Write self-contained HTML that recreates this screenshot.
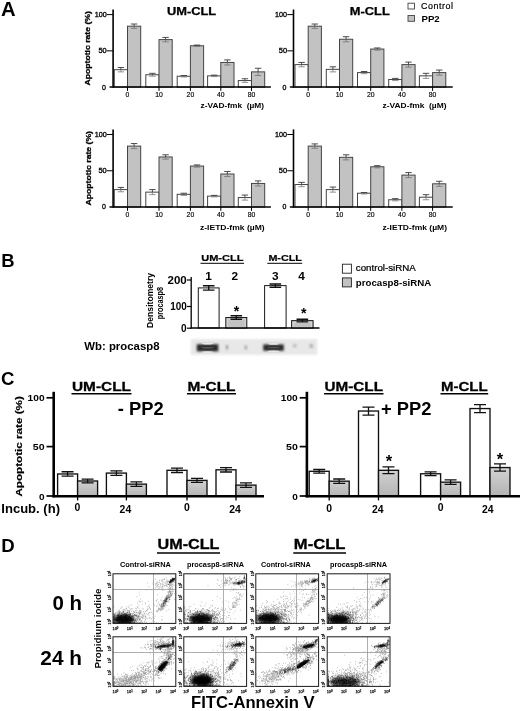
<!DOCTYPE html>
<html lang="en"><head><meta charset="utf-8"><title>Figure</title>
<style>html,body{margin:0;padding:0;background:#fff}svg{display:block;font-family:"Liberation Sans",sans-serif}text{fill:#000}</style>
</head><body>
<svg width="520" height="711" viewBox="0 0 520 711">
<defs><linearGradient id="gg" x1="0" y1="0" x2="0" y2="1"><stop offset="0" stop-color="#d2d2d2"/><stop offset="1" stop-color="#b4b4b4"/></linearGradient><filter id="f0" x="-5%" y="-5%" width="110%" height="110%"><feGaussianBlur stdDeviation=".35"/></filter><filter id="f05" x="-5%" y="-5%" width="110%" height="110%"><feGaussianBlur stdDeviation=".45"/></filter><filter id="f1" x="-50%" y="-50%" width="200%" height="200%"><feGaussianBlur stdDeviation=".5"/></filter><filter id="f2" x="-50%" y="-50%" width="200%" height="200%"><feGaussianBlur stdDeviation="1.6"/></filter><filter id="f3" x="-50%" y="-50%" width="200%" height="200%"><feGaussianBlur stdDeviation="3"/></filter><filter id="b1" x="-10%" y="-30%" width="120%" height="160%"><feGaussianBlur stdDeviation=".8"/></filter><filter id="b2" x="-20%" y="-60%" width="140%" height="220%"><feGaussianBlur stdDeviation=".9"/></filter><filter id="b3" x="-20%" y="-200%" width="140%" height="500%"><feGaussianBlur stdDeviation=".6"/></filter></defs>
<rect width="520" height="711" fill="#fff"/>
<text x="0.9" y="15.6" font-size="20.3" font-weight="700">A</text>
<rect x="114.3" y="69.7" width="13.2" height="17.4" fill="#fff" stroke="#444" stroke-width="1"/>
<rect x="127.5" y="26.2" width="13.2" height="60.9" fill="#c2c2c2" stroke="#444" stroke-width="1"/>
<path d="M120.9 69.7V71.87M117.7 71.87h6.4" stroke="#888" stroke-width="0.9" fill="none"/>
<path d="M120.9 67.52V69.7M117.7 67.52h6.4" stroke="#3a3a3a" stroke-width="0.9" fill="none"/>
<path d="M134.1 26.2V28.37M130.9 28.37h6.4" stroke="#7a7a7a" stroke-width="0.9" fill="none"/>
<path d="M134.1 24.02V26.2M130.9 24.02h6.4" stroke="#3a3a3a" stroke-width="0.9" fill="none"/>
<line x1="127.5" y1="87.1" x2="127.5" y2="90.9" stroke="#000" stroke-width="1"/>
<rect x="145.8" y="74.77" width="13.2" height="12.32" fill="#fff" stroke="#444" stroke-width="1"/>
<rect x="159" y="39.61" width="13.2" height="47.49" fill="#c2c2c2" stroke="#444" stroke-width="1"/>
<path d="M152.4 74.77V76.22M149.2 76.22h6.4" stroke="#888" stroke-width="0.9" fill="none"/>
<path d="M152.4 73.32V74.77M149.2 73.32h6.4" stroke="#3a3a3a" stroke-width="0.9" fill="none"/>
<path d="M165.6 39.61V41.79M162.4 41.79h6.4" stroke="#7a7a7a" stroke-width="0.9" fill="none"/>
<path d="M165.6 37.44V39.61M162.4 37.44h6.4" stroke="#3a3a3a" stroke-width="0.9" fill="none"/>
<line x1="159" y1="87.1" x2="159" y2="90.9" stroke="#000" stroke-width="1"/>
<rect x="177.2" y="76.22" width="13.2" height="10.88" fill="#fff" stroke="#444" stroke-width="1"/>
<rect x="190.4" y="45.77" width="13.2" height="41.32" fill="#c2c2c2" stroke="#444" stroke-width="1"/>
<path d="M183.8 76.22V76.95M180.6 76.95h6.4" stroke="#888" stroke-width="0.9" fill="none"/>
<path d="M183.8 75.5V76.22M180.6 75.5h6.4" stroke="#3a3a3a" stroke-width="0.9" fill="none"/>
<path d="M197 45.77V46.5M193.8 46.5h6.4" stroke="#7a7a7a" stroke-width="0.9" fill="none"/>
<path d="M197 45.05V45.77M193.8 45.05h6.4" stroke="#3a3a3a" stroke-width="0.9" fill="none"/>
<line x1="190.4" y1="87.1" x2="190.4" y2="90.9" stroke="#000" stroke-width="1"/>
<rect x="207.6" y="75.86" width="13.2" height="11.24" fill="#fff" stroke="#444" stroke-width="1"/>
<rect x="220.8" y="62.45" width="13.2" height="24.65" fill="#c2c2c2" stroke="#444" stroke-width="1"/>
<path d="M214.2 75.86V76.59M211 76.59h6.4" stroke="#888" stroke-width="0.9" fill="none"/>
<path d="M214.2 75.14V75.86M211 75.14h6.4" stroke="#3a3a3a" stroke-width="0.9" fill="none"/>
<path d="M227.4 62.45V64.99M224.2 64.99h6.4" stroke="#7a7a7a" stroke-width="0.9" fill="none"/>
<path d="M227.4 59.91V62.45M224.2 59.91h6.4" stroke="#3a3a3a" stroke-width="0.9" fill="none"/>
<line x1="220.8" y1="87.1" x2="220.8" y2="90.9" stroke="#000" stroke-width="1"/>
<rect x="238.3" y="80.57" width="13.2" height="6.52" fill="#fff" stroke="#444" stroke-width="1"/>
<rect x="251.5" y="71.88" width="13.2" height="15.22" fill="#c2c2c2" stroke="#444" stroke-width="1"/>
<path d="M244.9 80.57V82.39M241.7 82.39h6.4" stroke="#888" stroke-width="0.9" fill="none"/>
<path d="M244.9 78.76V80.57M241.7 78.76h6.4" stroke="#3a3a3a" stroke-width="0.9" fill="none"/>
<path d="M258.1 71.88V75.5M254.9 75.5h6.4" stroke="#7a7a7a" stroke-width="0.9" fill="none"/>
<path d="M258.1 68.25V71.88M254.9 68.25h6.4" stroke="#3a3a3a" stroke-width="0.9" fill="none"/>
<line x1="251.5" y1="87.1" x2="251.5" y2="90.9" stroke="#000" stroke-width="1"/>
<line x1="113.1" y1="9.5" x2="113.1" y2="87.85" stroke="#000" stroke-width="1.6"/>
<line x1="109.5" y1="87.1" x2="270.9" y2="87.1" stroke="#000" stroke-width="1.5"/>
<text x="105.9" y="89.5" font-size="6.7" text-anchor="end" textLength="3.9" lengthAdjust="spacingAndGlyphs" stroke="#000" stroke-width=".3">0</text>
<line x1="106.9" y1="50.85" x2="113.1" y2="50.85" stroke="#000" stroke-width="1"/>
<text x="106.7" y="53.25" font-size="6.7" text-anchor="end" textLength="8.3" lengthAdjust="spacingAndGlyphs" stroke="#000" stroke-width=".3">50</text>
<line x1="106.9" y1="14.6" x2="113.1" y2="14.6" stroke="#000" stroke-width="1"/>
<text x="106.7" y="17" font-size="6.7" text-anchor="end" textLength="12" lengthAdjust="spacingAndGlyphs" stroke="#000" stroke-width=".3">100</text>
<text x="127.5" y="96.9" font-size="6.8" text-anchor="middle" stroke="#000" stroke-width=".15">0</text>
<text x="159" y="96.9" font-size="6.8" text-anchor="middle" stroke="#000" stroke-width=".15">10</text>
<text x="190.4" y="96.9" font-size="6.8" text-anchor="middle" stroke="#000" stroke-width=".15">20</text>
<text x="220.8" y="96.9" font-size="6.8" text-anchor="middle" stroke="#000" stroke-width=".15">40</text>
<text x="251.5" y="96.9" font-size="6.8" text-anchor="middle" stroke="#000" stroke-width=".15">80</text>
<text font-size="7.9" font-weight="700" textLength="74.5" lengthAdjust="spacingAndGlyphs" transform="translate(90.1 85.6) rotate(-90)" stroke="#000" stroke-width=".3">Apoptotic rate (%)</text>
<text x="200.6" y="108.1" font-size="6.8" font-weight="700" textLength="63.4" lengthAdjust="spacingAndGlyphs" xml:space="preserve">z-VAD-fmk  (µM)</text>
<rect x="295" y="64.62" width="13.2" height="22.47" fill="#fff" stroke="#444" stroke-width="1"/>
<rect x="308.2" y="26.2" width="13.2" height="60.9" fill="#c2c2c2" stroke="#444" stroke-width="1"/>
<path d="M301.6 64.62V66.8M298.4 66.8h6.4" stroke="#888" stroke-width="0.9" fill="none"/>
<path d="M301.6 62.45V64.62M298.4 62.45h6.4" stroke="#3a3a3a" stroke-width="0.9" fill="none"/>
<path d="M314.8 26.2V28.37M311.6 28.37h6.4" stroke="#7a7a7a" stroke-width="0.9" fill="none"/>
<path d="M314.8 24.02V26.2M311.6 24.02h6.4" stroke="#3a3a3a" stroke-width="0.9" fill="none"/>
<line x1="308.2" y1="87.1" x2="308.2" y2="90.9" stroke="#000" stroke-width="1"/>
<rect x="326.3" y="69.34" width="13.2" height="17.76" fill="#fff" stroke="#444" stroke-width="1"/>
<rect x="339.5" y="39.25" width="13.2" height="47.85" fill="#c2c2c2" stroke="#444" stroke-width="1"/>
<path d="M332.9 69.34V71.87M329.7 71.87h6.4" stroke="#888" stroke-width="0.9" fill="none"/>
<path d="M332.9 66.8V69.34M329.7 66.8h6.4" stroke="#3a3a3a" stroke-width="0.9" fill="none"/>
<path d="M346.1 39.25V41.79M342.9 41.79h6.4" stroke="#7a7a7a" stroke-width="0.9" fill="none"/>
<path d="M346.1 36.71V39.25M342.9 36.71h6.4" stroke="#3a3a3a" stroke-width="0.9" fill="none"/>
<line x1="339.5" y1="87.1" x2="339.5" y2="90.9" stroke="#000" stroke-width="1"/>
<rect x="357.5" y="72.6" width="13.2" height="14.5" fill="#fff" stroke="#444" stroke-width="1"/>
<rect x="370.7" y="49.04" width="13.2" height="38.06" fill="#c2c2c2" stroke="#444" stroke-width="1"/>
<path d="M364.1 72.6V73.69M360.9 73.69h6.4" stroke="#888" stroke-width="0.9" fill="none"/>
<path d="M364.1 71.51V72.6M360.9 71.51h6.4" stroke="#3a3a3a" stroke-width="0.9" fill="none"/>
<path d="M377.3 49.04V50.12M374.1 50.12h6.4" stroke="#7a7a7a" stroke-width="0.9" fill="none"/>
<path d="M377.3 47.95V49.04M374.1 47.95h6.4" stroke="#3a3a3a" stroke-width="0.9" fill="none"/>
<line x1="370.7" y1="87.1" x2="370.7" y2="90.9" stroke="#000" stroke-width="1"/>
<rect x="388.7" y="79.49" width="13.2" height="7.61" fill="#fff" stroke="#444" stroke-width="1"/>
<rect x="401.9" y="64.62" width="13.2" height="22.47" fill="#c2c2c2" stroke="#444" stroke-width="1"/>
<path d="M395.3 79.49V80.58M392.1 80.58h6.4" stroke="#888" stroke-width="0.9" fill="none"/>
<path d="M395.3 78.4V79.49M392.1 78.4h6.4" stroke="#3a3a3a" stroke-width="0.9" fill="none"/>
<path d="M408.5 64.62V67.16M405.3 67.16h6.4" stroke="#7a7a7a" stroke-width="0.9" fill="none"/>
<path d="M408.5 62.09V64.62M405.3 62.09h6.4" stroke="#3a3a3a" stroke-width="0.9" fill="none"/>
<line x1="401.9" y1="87.1" x2="401.9" y2="90.9" stroke="#000" stroke-width="1"/>
<rect x="419.4" y="75.86" width="13.2" height="11.24" fill="#fff" stroke="#444" stroke-width="1"/>
<rect x="432.6" y="72.6" width="13.2" height="14.5" fill="#c2c2c2" stroke="#444" stroke-width="1"/>
<path d="M426 75.86V78.4M422.8 78.4h6.4" stroke="#888" stroke-width="0.9" fill="none"/>
<path d="M426 73.33V75.86M422.8 73.33h6.4" stroke="#3a3a3a" stroke-width="0.9" fill="none"/>
<path d="M439.2 72.6V75.14M436 75.14h6.4" stroke="#7a7a7a" stroke-width="0.9" fill="none"/>
<path d="M439.2 70.06V72.6M436 70.06h6.4" stroke="#3a3a3a" stroke-width="0.9" fill="none"/>
<line x1="432.6" y1="87.1" x2="432.6" y2="90.9" stroke="#000" stroke-width="1"/>
<line x1="293.5" y1="9.5" x2="293.5" y2="87.85" stroke="#000" stroke-width="1.6"/>
<line x1="289.9" y1="87.1" x2="452.7" y2="87.1" stroke="#000" stroke-width="1.5"/>
<text x="286.3" y="89.5" font-size="6.7" text-anchor="end" textLength="3.9" lengthAdjust="spacingAndGlyphs" stroke="#000" stroke-width=".3">0</text>
<line x1="287.3" y1="50.85" x2="293.5" y2="50.85" stroke="#000" stroke-width="1"/>
<text x="287.1" y="53.25" font-size="6.7" text-anchor="end" textLength="8.3" lengthAdjust="spacingAndGlyphs" stroke="#000" stroke-width=".3">50</text>
<line x1="287.3" y1="14.6" x2="293.5" y2="14.6" stroke="#000" stroke-width="1"/>
<text x="287.1" y="17" font-size="6.7" text-anchor="end" textLength="12" lengthAdjust="spacingAndGlyphs" stroke="#000" stroke-width=".3">100</text>
<text x="308.2" y="96.9" font-size="6.8" text-anchor="middle" stroke="#000" stroke-width=".15">0</text>
<text x="339.5" y="96.9" font-size="6.8" text-anchor="middle" stroke="#000" stroke-width=".15">10</text>
<text x="370.7" y="96.9" font-size="6.8" text-anchor="middle" stroke="#000" stroke-width=".15">20</text>
<text x="401.9" y="96.9" font-size="6.8" text-anchor="middle" stroke="#000" stroke-width=".15">40</text>
<text x="432.6" y="96.9" font-size="6.8" text-anchor="middle" stroke="#000" stroke-width=".15">80</text>
<text x="382.5" y="108.1" font-size="6.8" font-weight="700" textLength="64" lengthAdjust="spacingAndGlyphs" xml:space="preserve">z-VAD-fmk  (µM)</text>
<rect x="114.3" y="189.6" width="13.2" height="17.4" fill="#fff" stroke="#444" stroke-width="1"/>
<rect x="127.5" y="146.1" width="13.2" height="60.9" fill="#c2c2c2" stroke="#444" stroke-width="1"/>
<path d="M120.9 189.6V191.78M117.7 191.78h6.4" stroke="#888" stroke-width="0.9" fill="none"/>
<path d="M120.9 187.42V189.6M117.7 187.42h6.4" stroke="#3a3a3a" stroke-width="0.9" fill="none"/>
<path d="M134.1 146.1V148.64M130.9 148.64h6.4" stroke="#7a7a7a" stroke-width="0.9" fill="none"/>
<path d="M134.1 143.56V146.1M130.9 143.56h6.4" stroke="#3a3a3a" stroke-width="0.9" fill="none"/>
<line x1="127.5" y1="207" x2="127.5" y2="210.8" stroke="#000" stroke-width="1"/>
<rect x="145.8" y="192.14" width="13.2" height="14.86" fill="#fff" stroke="#444" stroke-width="1"/>
<rect x="159" y="156.97" width="13.2" height="50.02" fill="#c2c2c2" stroke="#444" stroke-width="1"/>
<path d="M152.4 192.14V194.67M149.2 194.67h6.4" stroke="#888" stroke-width="0.9" fill="none"/>
<path d="M152.4 189.6V192.14M149.2 189.6h6.4" stroke="#3a3a3a" stroke-width="0.9" fill="none"/>
<path d="M165.6 156.97V159.15M162.4 159.15h6.4" stroke="#7a7a7a" stroke-width="0.9" fill="none"/>
<path d="M165.6 154.8V156.97M162.4 154.8h6.4" stroke="#3a3a3a" stroke-width="0.9" fill="none"/>
<line x1="159" y1="207" x2="159" y2="210.8" stroke="#000" stroke-width="1"/>
<rect x="177.2" y="194.31" width="13.2" height="12.69" fill="#fff" stroke="#444" stroke-width="1"/>
<rect x="190.4" y="166.04" width="13.2" height="40.96" fill="#c2c2c2" stroke="#444" stroke-width="1"/>
<path d="M183.8 194.31V195.4M180.6 195.4h6.4" stroke="#888" stroke-width="0.9" fill="none"/>
<path d="M183.8 193.22V194.31M180.6 193.22h6.4" stroke="#3a3a3a" stroke-width="0.9" fill="none"/>
<path d="M197 166.04V167.12M193.8 167.12h6.4" stroke="#7a7a7a" stroke-width="0.9" fill="none"/>
<path d="M197 164.95V166.04M193.8 164.95h6.4" stroke="#3a3a3a" stroke-width="0.9" fill="none"/>
<line x1="190.4" y1="207" x2="190.4" y2="210.8" stroke="#000" stroke-width="1"/>
<rect x="207.6" y="196.12" width="13.2" height="10.88" fill="#fff" stroke="#444" stroke-width="1"/>
<rect x="220.8" y="174.01" width="13.2" height="32.99" fill="#c2c2c2" stroke="#444" stroke-width="1"/>
<path d="M214.2 196.12V196.85M211 196.85h6.4" stroke="#888" stroke-width="0.9" fill="none"/>
<path d="M214.2 195.4V196.12M211 195.4h6.4" stroke="#3a3a3a" stroke-width="0.9" fill="none"/>
<path d="M227.4 174.01V176.55M224.2 176.55h6.4" stroke="#7a7a7a" stroke-width="0.9" fill="none"/>
<path d="M227.4 171.47V174.01M224.2 171.47h6.4" stroke="#3a3a3a" stroke-width="0.9" fill="none"/>
<line x1="220.8" y1="207" x2="220.8" y2="210.8" stroke="#000" stroke-width="1"/>
<rect x="238.3" y="197.57" width="13.2" height="9.42" fill="#fff" stroke="#444" stroke-width="1"/>
<rect x="251.5" y="183.44" width="13.2" height="23.56" fill="#c2c2c2" stroke="#444" stroke-width="1"/>
<path d="M244.9 197.57V200.11M241.7 200.11h6.4" stroke="#888" stroke-width="0.9" fill="none"/>
<path d="M244.9 195.04V197.57M241.7 195.04h6.4" stroke="#3a3a3a" stroke-width="0.9" fill="none"/>
<path d="M258.1 183.44V185.97M254.9 185.97h6.4" stroke="#7a7a7a" stroke-width="0.9" fill="none"/>
<path d="M258.1 180.9V183.44M254.9 180.9h6.4" stroke="#3a3a3a" stroke-width="0.9" fill="none"/>
<line x1="251.5" y1="207" x2="251.5" y2="210.8" stroke="#000" stroke-width="1"/>
<line x1="113.1" y1="129.4" x2="113.1" y2="207.75" stroke="#000" stroke-width="1.6"/>
<line x1="109.5" y1="207" x2="270.9" y2="207" stroke="#000" stroke-width="1.5"/>
<text x="105.9" y="209.4" font-size="6.7" text-anchor="end" textLength="3.9" lengthAdjust="spacingAndGlyphs" stroke="#000" stroke-width=".3">0</text>
<line x1="106.9" y1="170.75" x2="113.1" y2="170.75" stroke="#000" stroke-width="1"/>
<text x="106.7" y="173.15" font-size="6.7" text-anchor="end" textLength="8.3" lengthAdjust="spacingAndGlyphs" stroke="#000" stroke-width=".3">50</text>
<line x1="106.9" y1="134.5" x2="113.1" y2="134.5" stroke="#000" stroke-width="1"/>
<text x="106.7" y="136.9" font-size="6.7" text-anchor="end" textLength="12" lengthAdjust="spacingAndGlyphs" stroke="#000" stroke-width=".3">100</text>
<text x="127.5" y="217.4" font-size="6.8" text-anchor="middle" stroke="#000" stroke-width=".15">0</text>
<text x="159" y="217.4" font-size="6.8" text-anchor="middle" stroke="#000" stroke-width=".15">10</text>
<text x="190.4" y="217.4" font-size="6.8" text-anchor="middle" stroke="#000" stroke-width=".15">20</text>
<text x="220.8" y="217.4" font-size="6.8" text-anchor="middle" stroke="#000" stroke-width=".15">40</text>
<text x="251.5" y="217.4" font-size="6.8" text-anchor="middle" stroke="#000" stroke-width=".15">80</text>
<text font-size="7.9" font-weight="700" textLength="74.5" lengthAdjust="spacingAndGlyphs" transform="translate(90.9 205.5) rotate(-90)" stroke="#000" stroke-width=".3">Apoptotic rate (%)</text>
<text x="200" y="230" font-size="6.8" font-weight="700" textLength="64.6" lengthAdjust="spacingAndGlyphs" xml:space="preserve">z-IETD-fmk (µM)</text>
<rect x="295" y="184.53" width="13.2" height="22.47" fill="#fff" stroke="#444" stroke-width="1"/>
<rect x="308.2" y="146.1" width="13.2" height="60.9" fill="#c2c2c2" stroke="#444" stroke-width="1"/>
<path d="M301.6 184.53V186.7M298.4 186.7h6.4" stroke="#888" stroke-width="0.9" fill="none"/>
<path d="M301.6 182.35V184.53M298.4 182.35h6.4" stroke="#3a3a3a" stroke-width="0.9" fill="none"/>
<path d="M314.8 146.1V148.28M311.6 148.28h6.4" stroke="#7a7a7a" stroke-width="0.9" fill="none"/>
<path d="M314.8 143.92V146.1M311.6 143.92h6.4" stroke="#3a3a3a" stroke-width="0.9" fill="none"/>
<line x1="308.2" y1="207" x2="308.2" y2="210.8" stroke="#000" stroke-width="1"/>
<rect x="326.3" y="189.6" width="13.2" height="17.4" fill="#fff" stroke="#444" stroke-width="1"/>
<rect x="339.5" y="157.34" width="13.2" height="49.66" fill="#c2c2c2" stroke="#444" stroke-width="1"/>
<path d="M332.9 189.6V192.14M329.7 192.14h6.4" stroke="#888" stroke-width="0.9" fill="none"/>
<path d="M332.9 187.06V189.6M329.7 187.06h6.4" stroke="#3a3a3a" stroke-width="0.9" fill="none"/>
<path d="M346.1 157.34V159.88M342.9 159.88h6.4" stroke="#7a7a7a" stroke-width="0.9" fill="none"/>
<path d="M346.1 154.8V157.34M342.9 154.8h6.4" stroke="#3a3a3a" stroke-width="0.9" fill="none"/>
<line x1="339.5" y1="207" x2="339.5" y2="210.8" stroke="#000" stroke-width="1"/>
<rect x="357.5" y="193.22" width="13.2" height="13.78" fill="#fff" stroke="#444" stroke-width="1"/>
<rect x="370.7" y="166.76" width="13.2" height="40.24" fill="#c2c2c2" stroke="#444" stroke-width="1"/>
<path d="M364.1 193.22V193.95M360.9 193.95h6.4" stroke="#888" stroke-width="0.9" fill="none"/>
<path d="M364.1 192.5V193.22M360.9 192.5h6.4" stroke="#3a3a3a" stroke-width="0.9" fill="none"/>
<path d="M377.3 166.76V167.85M374.1 167.85h6.4" stroke="#7a7a7a" stroke-width="0.9" fill="none"/>
<path d="M377.3 165.67V166.76M374.1 165.67h6.4" stroke="#3a3a3a" stroke-width="0.9" fill="none"/>
<line x1="370.7" y1="207" x2="370.7" y2="210.8" stroke="#000" stroke-width="1"/>
<rect x="388.7" y="199.75" width="13.2" height="7.25" fill="#fff" stroke="#444" stroke-width="1"/>
<rect x="401.9" y="175.1" width="13.2" height="31.9" fill="#c2c2c2" stroke="#444" stroke-width="1"/>
<path d="M395.3 199.75V200.84M392.1 200.84h6.4" stroke="#888" stroke-width="0.9" fill="none"/>
<path d="M395.3 198.66V199.75M392.1 198.66h6.4" stroke="#3a3a3a" stroke-width="0.9" fill="none"/>
<path d="M408.5 175.1V177.64M405.3 177.64h6.4" stroke="#7a7a7a" stroke-width="0.9" fill="none"/>
<path d="M408.5 172.56V175.1M405.3 172.56h6.4" stroke="#3a3a3a" stroke-width="0.9" fill="none"/>
<line x1="401.9" y1="207" x2="401.9" y2="210.8" stroke="#000" stroke-width="1"/>
<rect x="419.4" y="197.21" width="13.2" height="9.79" fill="#fff" stroke="#444" stroke-width="1"/>
<rect x="432.6" y="183.8" width="13.2" height="23.2" fill="#c2c2c2" stroke="#444" stroke-width="1"/>
<path d="M426 197.21V199.75M422.8 199.75h6.4" stroke="#888" stroke-width="0.9" fill="none"/>
<path d="M426 194.68V197.21M422.8 194.68h6.4" stroke="#3a3a3a" stroke-width="0.9" fill="none"/>
<path d="M439.2 183.8V186.34M436 186.34h6.4" stroke="#7a7a7a" stroke-width="0.9" fill="none"/>
<path d="M439.2 181.26V183.8M436 181.26h6.4" stroke="#3a3a3a" stroke-width="0.9" fill="none"/>
<line x1="432.6" y1="207" x2="432.6" y2="210.8" stroke="#000" stroke-width="1"/>
<line x1="293.5" y1="129.4" x2="293.5" y2="207.75" stroke="#000" stroke-width="1.6"/>
<line x1="289.9" y1="207" x2="452.7" y2="207" stroke="#000" stroke-width="1.5"/>
<text x="286.3" y="209.4" font-size="6.7" text-anchor="end" textLength="3.9" lengthAdjust="spacingAndGlyphs" stroke="#000" stroke-width=".3">0</text>
<line x1="287.3" y1="170.75" x2="293.5" y2="170.75" stroke="#000" stroke-width="1"/>
<text x="287.1" y="173.15" font-size="6.7" text-anchor="end" textLength="8.3" lengthAdjust="spacingAndGlyphs" stroke="#000" stroke-width=".3">50</text>
<line x1="287.3" y1="134.5" x2="293.5" y2="134.5" stroke="#000" stroke-width="1"/>
<text x="287.1" y="136.9" font-size="6.7" text-anchor="end" textLength="12" lengthAdjust="spacingAndGlyphs" stroke="#000" stroke-width=".3">100</text>
<text x="308.2" y="217.4" font-size="6.8" text-anchor="middle" stroke="#000" stroke-width=".15">0</text>
<text x="339.5" y="217.4" font-size="6.8" text-anchor="middle" stroke="#000" stroke-width=".15">10</text>
<text x="370.7" y="217.4" font-size="6.8" text-anchor="middle" stroke="#000" stroke-width=".15">20</text>
<text x="401.9" y="217.4" font-size="6.8" text-anchor="middle" stroke="#000" stroke-width=".15">40</text>
<text x="432.6" y="217.4" font-size="6.8" text-anchor="middle" stroke="#000" stroke-width=".15">80</text>
<text x="382.5" y="230" font-size="6.8" font-weight="700" textLength="64.5" lengthAdjust="spacingAndGlyphs" xml:space="preserve">z-IETD-fmk (µM)</text>
<text x="166.9" y="14.7" font-size="10.4" font-weight="700" textLength="49.3" lengthAdjust="spacingAndGlyphs" stroke="#000" stroke-width=".25">UM-CLL</text>
<text x="349.8" y="14.5" font-size="10.4" font-weight="700" textLength="40" lengthAdjust="spacingAndGlyphs" stroke="#000" stroke-width=".25">M-CLL</text>
<rect x="408" y="3.2" width="6.5" height="5.8" fill="#fff" stroke="#444" stroke-width="0.9"/>
<rect x="408" y="15.5" width="6.5" height="5.8" fill="#c2c2c2" stroke="#444" stroke-width="0.9"/>
<text x="421.1" y="8.7" font-size="8.9" textLength="32" lengthAdjust="spacing" stroke="#000" stroke-width=".2">Control</text>
<text x="421.5" y="21.7" font-size="9.3" font-weight="700" textLength="18.2" lengthAdjust="spacingAndGlyphs">PP2</text>
<text x="1.2" y="267.3" font-size="18.4" font-weight="700">B</text>
<rect x="198.3" y="287.9" width="20.8" height="40.1" fill="#fff" stroke="#1a1a1a" stroke-width="1"/>
<path d="M208.7 285.7V287.9M202.9 285.7h11.6M208.7 287.9V290.1M202.9 290.1h11.6" stroke="#111" stroke-width="1.4" fill="none"/>
<rect x="225.8" y="317.5" width="21" height="10.5" fill="#c2c2c2" stroke="#1a1a1a" stroke-width="1"/>
<rect x="227.4" y="319.3" width="17.8" height="8.1" fill="none" stroke="#d6d6d6" stroke-width="1"/>
<path d="M236.3 315.8V317.5M230.5 315.8h11.6M236.3 317.5V319.2M230.5 319.2h11.6" stroke="#111" stroke-width="1.4" fill="none"/>
<rect x="264.6" y="285.6" width="21.5" height="42.4" fill="#fff" stroke="#1a1a1a" stroke-width="1"/>
<path d="M275.35 284V285.6M269.55 284h11.6M275.35 285.6V287.2M269.55 287.2h11.6" stroke="#111" stroke-width="1.4" fill="none"/>
<rect x="291.6" y="320.6" width="21.5" height="7.4" fill="#c2c2c2" stroke="#1a1a1a" stroke-width="1"/>
<rect x="293.2" y="322.4" width="18.3" height="5" fill="none" stroke="#d6d6d6" stroke-width="1"/>
<path d="M302.35 319.3V320.6M296.55 319.3h11.6M302.35 320.6V321.9M296.55 321.9h11.6" stroke="#111" stroke-width="1.4" fill="none"/>
<line x1="191.2" y1="277.1" x2="191.2" y2="328.6" stroke="#000" stroke-width="1.3"/>
<line x1="190.6" y1="328" x2="319.5" y2="328" stroke="#000" stroke-width="1.3"/>
<line x1="186.9" y1="328.2" x2="191.2" y2="328.2" stroke="#000" stroke-width="1.2"/>
<text x="186.7" y="331.8" font-size="10.2" font-weight="700" text-anchor="end" textLength="5.6" lengthAdjust="spacingAndGlyphs">0</text>
<line x1="186.9" y1="306.5" x2="191.2" y2="306.5" stroke="#000" stroke-width="1.2"/>
<text x="186.7" y="310.1" font-size="10.2" font-weight="700" text-anchor="end" textLength="16.5" lengthAdjust="spacingAndGlyphs">100</text>
<line x1="186.9" y1="280" x2="191.2" y2="280" stroke="#000" stroke-width="1.2"/>
<text x="186.7" y="283.6" font-size="10.2" font-weight="700" text-anchor="end" textLength="19.2" lengthAdjust="spacingAndGlyphs">200</text>
<text x="201.2" y="261.2" font-size="9.3" font-weight="700" textLength="42.3" lengthAdjust="spacingAndGlyphs" stroke="#000" stroke-width=".2">UM-CLL</text>
<line x1="200.5" y1="263.3" x2="244" y2="263.3" stroke="#000" stroke-width="1"/>
<text x="268.4" y="261.2" font-size="9.3" font-weight="700" textLength="33.5" lengthAdjust="spacingAndGlyphs" stroke="#000" stroke-width=".2">M-CLL</text>
<line x1="267.3" y1="263.3" x2="302.2" y2="263.3" stroke="#000" stroke-width="1"/>
<text x="208.6" y="279.5" font-size="10.6" font-weight="700" text-anchor="middle" textLength="6.6" lengthAdjust="spacingAndGlyphs">1</text>
<text x="234.9" y="279.5" font-size="10.6" font-weight="700" text-anchor="middle" textLength="6.6" lengthAdjust="spacingAndGlyphs">2</text>
<text x="275.3" y="279.5" font-size="10.6" font-weight="700" text-anchor="middle" textLength="6.6" lengthAdjust="spacingAndGlyphs">3</text>
<text x="301.6" y="279.5" font-size="10.6" font-weight="700" text-anchor="middle" textLength="6.6" lengthAdjust="spacingAndGlyphs">4</text>
<text x="236.5" y="315.6" font-size="14.2" font-weight="700" text-anchor="middle">*</text>
<text x="303.8" y="318" font-size="14.2" font-weight="700" text-anchor="middle">*</text>
<text font-size="8.6" font-weight="700" textLength="55" lengthAdjust="spacingAndGlyphs" transform="translate(152.7 327.9) rotate(-90)">Densitometry</text>
<text font-size="8.6" font-weight="700" textLength="32.4" lengthAdjust="spacingAndGlyphs" transform="translate(163 319.3) rotate(-90)">procasp8</text>
<rect x="342.4" y="264.2" width="9" height="9" fill="#fff" stroke="#222" stroke-width="0.9"/>
<rect x="342.4" y="277.9" width="9" height="9" fill="#c2c2c2" stroke="#222" stroke-width="0.9"/>
<text x="355.8" y="270.8" font-size="8.8" textLength="60" lengthAdjust="spacingAndGlyphs" stroke="#000" stroke-width=".22">control-siRNA</text>
<text x="355.8" y="285.5" font-size="8.8" font-weight="700" textLength="75.5" lengthAdjust="spacingAndGlyphs">procasp8-siRNA</text>
<text x="84.3" y="350" font-size="10.4" font-weight="700" textLength="75.2" lengthAdjust="spacingAndGlyphs">Wb: procasp8</text>
<g filter="url(#b1)">
<rect x="190.8" y="339" width="126.5" height="15.8" fill="#e8e8e8" stroke="none" stroke-width="0"/>
</g>
<g filter="url(#b2)">
<rect x="196.8" y="344.2" width="21.5" height="7.2" fill="#2a2a2a" stroke="none" stroke-width="0"/>
<rect x="263.3" y="344.4" width="20.5" height="6.4" fill="#2a2a2a" stroke="none" stroke-width="0"/>
<rect x="226" y="345" width="2" height="4.5" fill="#999" stroke="none" stroke-width="0"/>
<rect x="244.8" y="345.5" width="2" height="4" fill="#9a9a9a" stroke="none" stroke-width="0"/>
<rect x="293" y="344" width="3.5" height="3.5" fill="#bdbdbd" stroke="none" stroke-width="0"/>
<rect x="309.5" y="344" width="3.5" height="4" fill="#b4b4b4" stroke="none" stroke-width="0"/>
</g>
<g filter="url(#b3)">
<ellipse cx="207.5" cy="347.8" rx="7" ry="0.8" fill="#5c5c5c"/>
<ellipse cx="273.5" cy="347.6" rx="6.5" ry="0.7" fill="#555"/>
<ellipse cx="207.5" cy="343.6" rx="6" ry="0.9" fill="#e8e8e8"/>
<ellipse cx="207.5" cy="352.2" rx="6" ry="0.9" fill="#e8e8e8"/>
<ellipse cx="273.5" cy="343.8" rx="6" ry="0.9" fill="#e8e8e8"/>
<ellipse cx="273.5" cy="351.4" rx="6" ry="0.9" fill="#e8e8e8"/>
</g>
<text x="1" y="384.7" font-size="18.6" font-weight="700">C</text>
<rect x="57.6" y="473.97" width="20" height="22.03" fill="#fff" stroke="#111" stroke-width="1.35"/>
<rect x="77.6" y="480.98" width="20" height="15.02" fill="url(#gg)" stroke="#111" stroke-width="1.35"/>
<path d="M67.6 471.77V473.97M61.6 471.77h12M67.6 473.97V476.17M61.6 476.17h12" stroke="#111" stroke-width="1.3" fill="none"/>
<path d="M87.6 479.18V480.98M81.6 479.18h12M87.6 480.98V482.78M81.6 482.78h12" stroke="#111" stroke-width="1.3" fill="none"/>
<line x1="77.6" y1="496" x2="77.6" y2="500.4" stroke="#000" stroke-width="1.3"/>
<rect x="106.4" y="473.08" width="20" height="22.92" fill="#fff" stroke="#111" stroke-width="1.35"/>
<rect x="126.4" y="484.14" width="20" height="11.86" fill="url(#gg)" stroke="#111" stroke-width="1.35"/>
<path d="M116.4 470.88V473.08M110.4 470.88h12M116.4 473.08V475.28M110.4 475.28h12" stroke="#111" stroke-width="1.3" fill="none"/>
<path d="M136.4 481.94V484.14M130.4 481.94h12M136.4 484.14V486.34M130.4 486.34h12" stroke="#111" stroke-width="1.3" fill="none"/>
<line x1="126.4" y1="496" x2="126.4" y2="500.4" stroke="#000" stroke-width="1.3"/>
<rect x="167" y="470.31" width="20" height="25.69" fill="#fff" stroke="#111" stroke-width="1.35"/>
<rect x="187" y="480.39" width="20" height="15.61" fill="url(#gg)" stroke="#111" stroke-width="1.35"/>
<path d="M177 468.11V470.31M171 468.11h12M177 470.31V472.51M171 472.51h12" stroke="#111" stroke-width="1.3" fill="none"/>
<path d="M197 478.39V480.39M191 478.39h12M197 480.39V482.39M191 482.39h12" stroke="#111" stroke-width="1.3" fill="none"/>
<line x1="187" y1="496" x2="187" y2="500.4" stroke="#000" stroke-width="1.3"/>
<rect x="216" y="469.82" width="20" height="26.18" fill="#fff" stroke="#111" stroke-width="1.35"/>
<rect x="236" y="485.13" width="20" height="10.87" fill="url(#gg)" stroke="#111" stroke-width="1.35"/>
<path d="M226 467.62V469.82M220 467.62h12M226 469.82V472.02M220 472.02h12" stroke="#111" stroke-width="1.3" fill="none"/>
<path d="M246 482.93V485.13M240 482.93h12M246 485.13V487.33M240 487.33h12" stroke="#111" stroke-width="1.3" fill="none"/>
<line x1="236" y1="496" x2="236" y2="500.4" stroke="#000" stroke-width="1.3"/>
<line x1="53.7" y1="391.8" x2="53.7" y2="497.3" stroke="#000" stroke-width="2.6"/>
<line x1="52.4" y1="496.2" x2="264" y2="496.2" stroke="#000" stroke-width="2.5"/>
<line x1="46.5" y1="496" x2="53.7" y2="496" stroke="#000" stroke-width="1.7"/>
<text x="44.6" y="499.5" font-size="9.8" font-weight="700" text-anchor="end" textLength="5.6" lengthAdjust="spacingAndGlyphs">0</text>
<line x1="46.5" y1="446.6" x2="53.7" y2="446.6" stroke="#000" stroke-width="1.7"/>
<text x="44.6" y="450.1" font-size="9.8" font-weight="700" text-anchor="end" textLength="11.8" lengthAdjust="spacingAndGlyphs">50</text>
<line x1="46.5" y1="397.8" x2="53.7" y2="397.8" stroke="#000" stroke-width="1.7"/>
<text x="44.6" y="401.3" font-size="9.8" font-weight="700" text-anchor="end" textLength="17" lengthAdjust="spacingAndGlyphs">100</text>
<rect x="309.2" y="471.3" width="20" height="24.7" fill="#fff" stroke="#111" stroke-width="1.35"/>
<rect x="329.2" y="481.18" width="20" height="14.82" fill="url(#gg)" stroke="#111" stroke-width="1.35"/>
<path d="M319.2 469.5V471.3M313.2 469.5h12M319.2 471.3V473.1M313.2 473.1h12" stroke="#111" stroke-width="1.3" fill="none"/>
<path d="M339.2 478.98V481.18M333.2 478.98h12M339.2 481.18V483.38M333.2 483.38h12" stroke="#111" stroke-width="1.3" fill="none"/>
<line x1="329.2" y1="496" x2="329.2" y2="500.4" stroke="#000" stroke-width="1.3"/>
<rect x="358.5" y="411.03" width="20" height="84.97" fill="#fff" stroke="#111" stroke-width="1.35"/>
<rect x="378.5" y="470.31" width="20" height="25.69" fill="url(#gg)" stroke="#111" stroke-width="1.35"/>
<path d="M368.5 407.03V411.03M362.5 407.03h12M368.5 411.03V415.03M362.5 415.03h12" stroke="#111" stroke-width="1.3" fill="none"/>
<path d="M388.5 466.91V470.31M382.5 466.91h12M388.5 470.31V473.71M382.5 473.71h12" stroke="#111" stroke-width="1.3" fill="none"/>
<line x1="378.5" y1="496" x2="378.5" y2="500.4" stroke="#000" stroke-width="1.3"/>
<rect x="420.6" y="473.77" width="20" height="22.23" fill="#fff" stroke="#111" stroke-width="1.35"/>
<rect x="440.6" y="482.17" width="20" height="13.83" fill="url(#gg)" stroke="#111" stroke-width="1.35"/>
<path d="M430.6 471.97V473.77M424.6 471.97h12M430.6 473.77V475.57M424.6 475.57h12" stroke="#111" stroke-width="1.3" fill="none"/>
<path d="M450.6 479.97V482.17M444.6 479.97h12M450.6 482.17V484.37M444.6 484.37h12" stroke="#111" stroke-width="1.3" fill="none"/>
<line x1="440.6" y1="496" x2="440.6" y2="500.4" stroke="#000" stroke-width="1.3"/>
<rect x="470" y="408.56" width="20" height="87.44" fill="#fff" stroke="#111" stroke-width="1.35"/>
<rect x="490" y="467.55" width="20" height="28.45" fill="url(#gg)" stroke="#111" stroke-width="1.35"/>
<path d="M480 404.56V408.56M474 404.56h12M480 408.56V412.56M474 412.56h12" stroke="#111" stroke-width="1.3" fill="none"/>
<path d="M500 463.95V467.55M494 463.95h12M500 467.55V471.15M494 471.15h12" stroke="#111" stroke-width="1.3" fill="none"/>
<line x1="490" y1="496" x2="490" y2="500.4" stroke="#000" stroke-width="1.3"/>
<line x1="306.9" y1="391.8" x2="306.9" y2="497.3" stroke="#000" stroke-width="2.6"/>
<line x1="305.6" y1="496.2" x2="520" y2="496.2" stroke="#000" stroke-width="2.5"/>
<line x1="299.7" y1="496" x2="306.9" y2="496" stroke="#000" stroke-width="1.7"/>
<text x="297.8" y="499.5" font-size="9.8" font-weight="700" text-anchor="end" textLength="5.6" lengthAdjust="spacingAndGlyphs">0</text>
<line x1="299.7" y1="446.6" x2="306.9" y2="446.6" stroke="#000" stroke-width="1.7"/>
<text x="297.8" y="450.1" font-size="9.8" font-weight="700" text-anchor="end" textLength="11.8" lengthAdjust="spacingAndGlyphs">50</text>
<line x1="299.7" y1="397.8" x2="306.9" y2="397.8" stroke="#000" stroke-width="1.7"/>
<text x="297.8" y="401.3" font-size="9.8" font-weight="700" text-anchor="end" textLength="17" lengthAdjust="spacingAndGlyphs">100</text>
<text font-size="9.8" font-weight="700" textLength="100.4" lengthAdjust="spacingAndGlyphs" transform="translate(22 496.6) rotate(-90)" stroke="#000" stroke-width=".2">Apoptotic rate (%)</text>
<text x="1.3" y="513" font-size="13" font-weight="700" textLength="58.7" lengthAdjust="spacingAndGlyphs">Incub. (h)</text>
<text x="77.3" y="511.3" font-size="10.4" font-weight="700" text-anchor="middle">0</text>
<text x="125.4" y="513" font-size="10.4" font-weight="700" text-anchor="middle">24</text>
<text x="187" y="510.6" font-size="10.4" font-weight="700" text-anchor="middle">0</text>
<text x="235" y="512.6" font-size="10.4" font-weight="700" text-anchor="middle">24</text>
<text x="329.2" y="512" font-size="10.4" font-weight="700" text-anchor="middle">0</text>
<text x="377.8" y="513" font-size="10.4" font-weight="700" text-anchor="middle">24</text>
<text x="440.6" y="510.6" font-size="10.4" font-weight="700" text-anchor="middle">0</text>
<text x="487.7" y="512.6" font-size="10.4" font-weight="700" text-anchor="middle">24</text>
<text x="72" y="391.2" font-size="13" font-weight="700" textLength="59" lengthAdjust="spacingAndGlyphs" stroke="#000" stroke-width=".3">UM-CLL</text>
<line x1="71.5" y1="393.8" x2="131.5" y2="393.8" stroke="#000" stroke-width="1.5"/>
<text x="187.5" y="391.2" font-size="13" font-weight="700" textLength="48" lengthAdjust="spacingAndGlyphs" stroke="#000" stroke-width=".3">M-CLL</text>
<line x1="187" y1="393.8" x2="236" y2="393.8" stroke="#000" stroke-width="1.5"/>
<text x="324.6" y="391.2" font-size="13" font-weight="700" textLength="58.4" lengthAdjust="spacingAndGlyphs" stroke="#000" stroke-width=".3">UM-CLL</text>
<line x1="324.1" y1="393.8" x2="383.5" y2="393.8" stroke="#000" stroke-width="1.5"/>
<text x="441" y="391.2" font-size="13" font-weight="700" textLength="46.7" lengthAdjust="spacingAndGlyphs" stroke="#000" stroke-width=".3">M-CLL</text>
<line x1="440.5" y1="393.8" x2="488.2" y2="393.8" stroke="#000" stroke-width="1.5"/>
<text x="117.7" y="414.8" font-size="18" font-weight="700" textLength="46" lengthAdjust="spacingAndGlyphs">- PP2</text>
<text x="381" y="414.8" font-size="18" font-weight="700" textLength="50.4" lengthAdjust="spacingAndGlyphs">+ PP2</text>
<text x="389" y="466.6" font-size="16.5" font-weight="700" text-anchor="middle">*</text>
<text x="500" y="465.1" font-size="16.5" font-weight="700" text-anchor="middle">*</text>
<text x="1.2" y="551.8" font-size="18.6" font-weight="700">D</text>
<text x="157.5" y="549.2" font-size="14.6" font-weight="700" textLength="62" lengthAdjust="spacingAndGlyphs" stroke="#000" stroke-width=".3">UM-CLL</text>
<line x1="157" y1="553" x2="220" y2="553" stroke="#000" stroke-width="1.4"/>
<text x="293.8" y="549.2" font-size="14.6" font-weight="700" textLength="51.7" lengthAdjust="spacingAndGlyphs" stroke="#000" stroke-width=".3">M-CLL</text>
<line x1="293.3" y1="553" x2="346" y2="553" stroke="#000" stroke-width="1.4"/>
<text x="120" y="567.2" font-size="7" font-weight="700" textLength="50.8" lengthAdjust="spacingAndGlyphs">Control-siRNA</text>
<text x="187" y="567.2" font-size="7" font-weight="700" textLength="57" lengthAdjust="spacingAndGlyphs">procasp8-siRNA</text>
<text x="261" y="567.2" font-size="7" font-weight="700" textLength="49.8" lengthAdjust="spacingAndGlyphs">Control-siRNA</text>
<text x="330" y="567.2" font-size="7" font-weight="700" textLength="57" lengthAdjust="spacingAndGlyphs">procasp8-siRNA</text>
<text x="52.4" y="610" font-size="19.5" font-weight="700" textLength="29.6" lengthAdjust="spacingAndGlyphs">0 h</text>
<text x="40.3" y="665" font-size="19.5" font-weight="700" textLength="41.7" lengthAdjust="spacingAndGlyphs">24 h</text>
<text font-size="8.8" font-weight="700" textLength="80" lengthAdjust="spacingAndGlyphs" transform="translate(101.3 668.5) rotate(-90)">Propidium iodide</text>
<text x="191" y="707.7" font-size="16.6" font-weight="700" textLength="123.6" lengthAdjust="spacingAndGlyphs">FITC-Annexin V</text>
<clipPath id="c0"><rect x="113" y="573.8" width="62.8" height="49.6"/></clipPath>
<g clip-path="url(#c0)"><g filter="url(#f0)">
<ellipse cx="123.68" cy="619.18" rx="10" ry="4.4" fill="#000" opacity="0.95" transform="rotate(0 123.68 619.18)" filter="url(#f2)"/>
<path d="M125.3 615.5h.7M115.9 618.1h.7M117.4 620.1h.7M113.6 621.8h.7M141.6 616.9h.7M118.1 610.4h.7M124.5 611.0h.7M126.8 622.8h.7M151.9 617.1h.7M139.6 611.0h.7M117.7 617.8h.7M125.5 614.8h.7M132.2 622.5h.7M132.2 613.5h.7M128.5 614.7h.7M126.2 617.6h.7M135.6 616.0h.7M145.2 611.6h.7M140.7 613.0h.7M134.0 621.9h.7M142.6 608.3h.7M134.4 617.8h.7M131.1 611.6h.7M135.4 621.0h.7M130.4 620.4h.7M130.1 621.0h.7M122.0 611.2h.7M143.8 622.8h.7M121.6 619.8h.7M128.3 622.8h.7M142.1 622.8h.7M139.1 613.2h.7M128.2 620.1h.7M132.5 616.2h.7M113.6 622.8h.7M137.6 616.9h.7M127.9 621.7h.7M124.7 620.9h.7M162.3 619.8h.7M148.2 613.4h.7M134.1 615.9h.7M127.2 610.2h.7M137.4 616.6h.7M130.5 616.1h.7M119.8 619.4h.7M125.0 614.8h.7M139.1 622.8h.7M129.2 612.8h.7M118.5 622.8h.7M142.7 616.5h.7M127.6 622.7h.7M134.0 619.2h.7M134.0 614.8h.7M139.6 617.7h.7M126.3 617.3h.7M130.8 616.2h.7M126.3 618.4h.7M125.9 620.0h.7M133.2 611.7h.7M126.0 614.9h.7M135.6 616.1h.7M139.4 618.7h.7M137.9 615.1h.7M113.6 618.6h.7M137.6 607.8h.7M120.5 617.5h.7M136.1 620.8h.7M144.6 613.8h.7M123.8 622.8h.7M126.5 606.9h.7M156.0 622.8h.7M113.6 615.7h.7M131.0 619.8h.7M138.4 615.9h.7M134.9 615.5h.7M119.7 612.2h.7M126.6 612.4h.7M139.3 616.1h.7M133.4 617.0h.7M113.6 620.1h.7M137.1 622.8h.7M115.5 613.6h.7M141.2 622.8h.7M136.9 616.7h.7M142.5 617.4h.7M129.8 620.4h.7M133.9 617.3h.7M125.0 619.1h.7M123.6 614.9h.7M121.4 622.8h.7M121.1 613.1h.7M126.2 614.5h.7M140.0 618.5h.7M139.9 614.0h.7M131.7 620.1h.7M131.7 622.6h.7M129.2 619.7h.7M136.5 615.0h.7M124.6 613.7h.7M144.7 615.5h.7M123.7 615.4h.7M113.6 621.8h.7M137.4 607.5h.7M123.3 610.9h.7M156.3 606.4h.7M113.6 614.3h.7M133.6 612.3h.7M130.2 619.8h.7M128.8 610.5h.7M141.1 617.4h.7M135.7 612.7h.7M138.0 616.6h.7M125.0 620.8h.7M127.4 619.8h.7M115.3 622.8h.7M141.8 621.1h.7M117.7 618.4h.7M147.1 610.0h.7M127.8 621.9h.7M126.4 621.5h.7M125.7 615.3h.7M120.6 621.4h.7M129.1 617.3h.7M123.8 621.2h.7M119.9 621.4h.7M137.7 617.5h.7M113.6 617.2h.7M131.5 620.9h.7M130.3 622.8h.7M113.6 613.3h.7M154.3 605.2h.7M123.8 617.5h.7M140.8 621.7h.7M151.2 618.5h.7M136.2 621.7h.7M135.9 616.7h.7M144.1 621.1h.7M131.0 608.8h.7M118.7 616.5h.7M136.8 618.7h.7M128.4 610.9h.7M144.1 613.3h.7M135.2 621.8h.7M132.1 608.8h.7M143.9 622.0h.7M113.6 621.9h.7M133.9 619.3h.7M128.4 615.7h.7M141.6 615.1h.7M146.1 622.1h.7M136.8 614.6h.7M115.0 612.8h.7M114.9 622.8h.7M160.6 608.6h.7M135.5 610.5h.7M144.9 620.9h.7M136.6 610.2h.7M130.1 616.8h.7M126.5 614.1h.7M126.0 620.1h.7M118.7 622.3h.7M134.1 614.6h.7M128.0 622.0h.7M135.4 615.0h.7M146.1 618.0h.7M127.1 615.0h.7M148.7 615.7h.7M131.3 621.3h.7M127.3 613.0h.7M140.8 611.1h.7M113.6 614.8h.7M121.4 615.2h.7M113.6 619.7h.7M121.6 612.1h.7M132.7 611.0h.7M126.2 608.5h.7M126.2 608.8h.7M126.9 621.8h.7M141.9 617.9h.7M131.7 622.8h.7M128.0 616.8h.7M123.9 615.9h.7M113.6 615.1h.7M126.8 610.7h.7M128.2 620.3h.7M126.8 616.1h.7M138.6 618.5h.7M122.9 615.8h.7M141.7 622.8h.7M120.5 621.0h.7M150.3 609.7h.7M140.5 613.9h.7M119.0 612.9h.7M127.3 621.0h.7M153.9 621.6h.7M147.1 614.7h.7M121.6 617.0h.7M122.4 616.9h.7M125.2 622.8h.7M161.5 616.6h.7M142.8 616.2h.7M139.9 622.0h.7M121.6 622.8h.7M142.8 613.9h.7M118.5 614.3h.7M137.3 603.1h.7M134.1 612.6h.7M138.4 612.8h.7M131.8 618.8h.7M139.3 610.6h.7M119.4 622.8h.7M130.7 608.8h.7M130.2 622.8h.7M140.5 612.7h.7M153.4 614.2h.7M154.0 618.3h.7M141.9 615.4h.7M118.8 619.3h.7M146.2 610.6h.7M127.2 612.3h.7M141.5 612.0h.7M134.9 615.3h.7M122.7 618.0h.7M133.5 620.2h.7M128.6 616.5h.7M133.8 611.9h.7M120.6 619.7h.7M135.0 618.4h.7M135.8 618.7h.7M145.1 616.8h.7M119.0 614.6h.7M151.1 622.8h.7M130.4 616.7h.7M142.8 609.1h.7M130.8 622.8h.7M138.9 611.7h.7M137.0 616.1h.7M121.9 606.7h.7M119.2 622.8h.7M142.6 614.7h.7M139.2 614.6h.7M150.0 608.8h.7M125.4 612.9h.7M119.5 622.8h.7M145.4 617.7h.7M113.6 619.1h.7M124.4 615.3h.7M131.6 620.5h.7M123.7 614.1h.7M121.6 617.2h.7M120.8 615.8h.7M151.4 612.6h.7M144.1 613.8h.7M121.4 619.2h.7M132.5 614.9h.7M125.0 614.7h.7M123.9 617.3h.7M132.3 622.1h.7M143.0 615.7h.7M133.1 617.0h.7M113.6 622.8h.7M121.6 613.3h.7M125.3 614.7h.7M120.9 621.7h.7M126.3 612.6h.7M113.7 619.3h.7M136.4 615.9h.7M131.4 613.4h.7M135.5 621.2h.7M139.2 619.8h.7M127.6 610.7h.7M158.4 608.0h.7M136.9 620.0h.7M122.9 610.1h.7M136.1 622.8h.7M149.0 612.8h.7M146.3 613.8h.7M113.6 622.3h.7M130.4 617.8h.7M148.9 618.5h.7M130.8 617.3h.7M131.3 621.7h.7M119.4 622.8h.7M135.7 617.5h.7M134.6 621.5h.7M132.3 621.3h.7M120.6 616.4h.7M138.7 613.7h.7M131.6 618.7h.7M146.8 609.9h.7M125.3 622.4h.7M135.9 615.1h.7M120.9 607.5h.7M113.6 622.7h.7M134.2 612.2h.7M113.6 620.7h.7M147.2 609.2h.7M129.1 617.0h.7M122.0 616.0h.7M121.1 622.8h.7M115.1 618.1h.7M116.9 613.2h.7M145.7 611.2h.7M138.7 611.2h.7M134.5 612.7h.7M136.8 612.9h.7M121.0 620.9h.7M120.6 614.1h.7M137.8 620.0h.7M121.2 620.5h.7M141.6 616.6h.7M129.5 620.3h.7M130.0 609.8h.7M124.4 619.2h.7M150.4 612.0h.7M118.9 613.1h.7M117.8 615.6h.7M113.6 622.8h.7M142.3 618.7h.7M123.9 617.4h.7M132.1 619.0h.7M123.7 609.4h.7M148.3 614.0h.7M119.4 620.4h.7M128.5 615.0h.7M149.8 617.7h.7M133.7 618.7h.7M133.7 619.9h.7M135.6 611.3h.7M127.7 618.8h.7M133.7 622.7h.7M152.4 621.2h.7M128.3 621.2h.7M148.7 617.7h.7M125.6 608.9h.7M130.9 620.5h.7M131.8 616.0h.7M123.8 618.5h.7M129.3 613.8h.7M140.1 612.4h.7M130.3 613.4h.7M129.1 611.9h.7M136.5 618.4h.7M146.1 622.6h.7M121.5 621.4h.7M131.0 622.6h.7M119.4 622.8h.7M133.5 620.3h.7M155.8 611.3h.7M118.8 612.1h.7M141.8 601.2h.7M128.8 608.1h.7M157.4 604.3h.7M136.9 615.9h.7M138.7 592.1h.7M158.1 588.4h.7M143.3 611.7h.7M149.3 607.9h.7M140.3 612.5h.7M153.5 603.7h.7M147.9 608.6h.7M143.6 611.6h.7M156.8 599.4h.7M160.7 600.4h.7M160.4 610.4h.7M140.5 611.2h.7M138.2 613.0h.7M135.4 615.0h.7M137.5 612.5h.7M144.9 616.3h.7M140.1 610.7h.7M130.8 615.5h.7M158.3 602.3h.7M148.0 601.3h.7M131.4 605.2h.7M174.3 599.5h.7M169.4 599.8h.7M166.1 610.7h.7M155.8 600.7h.7M134.0 621.2h.7M136.7 620.2h.7M149.0 607.2h.7M149.0 605.1h.7M168.6 609.4h.7M146.9 606.8h.7M156.7 612.2h.7M131.4 617.4h.7M151.6 619.0h.7M148.3 606.3h.7M161.3 619.9h.7M152.8 610.8h.7M136.7 606.5h.7M161.6 597.3h.7M138.7 601.1h.7M135.6 614.8h.7M142.6 617.5h.7M139.3 594.8h.7M145.3 603.9h.7M140.1 601.7h.7M149.4 612.7h.7M140.4 599.1h.7M139.3 601.6h.7M136.6 596.5h.7M145.1 602.7h.7M138.5 605.1h.7M147.3 618.8h.7M151.9 614.0h.7M157.1 594.7h.7M142.2 604.1h.7M135.3 608.3h.7M138.9 608.8h.7M154.8 616.2h.7M129.5 605.0h.7M136.2 608.7h.7M133.3 622.3h.7M124.4 617.8h.7M156.2 600.9h.7M162.2 586.8h.7M160.6 583.9h.7M148.7 586.6h.7M164.9 583.8h.7M167.2 581.8h.7M161.8 586.7h.7M167.0 580.8h.7M155.1 587.8h.7M155.8 583.6h.7M160.7 587.7h.7M171.7 580.3h.7M164.4 582.8h.7M162.2 583.9h.7M168.1 581.3h.7M160.5 584.2h.7M174.5 582.2h.7M155.5 585.5h.7M154.9 579.2h.7M166.5 581.3h.7M164.1 578.4h.7M157.3 585.5h.7M152.7 583.3h.7M161.6 579.6h.7M162.3 586.7h.7M158.6 582.9h.7M158.2 584.4h.7M159.5 586.6h.7M158.9 580.7h.7M156.7 584.6h.7M168.4 584.3h.7M153.5 582.5h.7M173.5 581.7h.7M155.6 583.5h.7M163.5 585.8h.7M162.5 590.2h.7M159.2 588.0h.7M155.1 584.4h.7M163.6 579.2h.7M148.0 589.6h.7M157.4 581.9h.7M169.1 581.9h.7M164.2 585.5h.7M160.4 585.7h.7M147.2 583.1h.7M166.1 577.6h.7M170.1 580.6h.7M169.1 586.6h.7M156.7 583.3h.7M162.0 588.3h.7M163.9 586.9h.7M162.1 580.0h.7M156.8 586.7h.7M166.4 583.0h.7M164.8 585.6h.7M162.7 590.1h.7M161.3 580.9h.7M156.7 586.0h.7M166.5 579.7h.7M170.5 584.1h.7M159.5 580.2h.7M160.2 583.8h.7M158.6 586.7h.7M146.1 589.8h.7M150.9 589.7h.7M156.5 582.0h.7M167.4 581.6h.7M161.0 588.0h.7M166.5 585.1h.7M161.8 581.7h.7M162.0 584.2h.7M156.6 582.8h.7M165.8 581.2h.7M173.7 585.2h.7M162.8 582.2h.7M164.9 582.5h.7M166.9 586.8h.7M161.9 581.1h.7M162.9 584.4h.7M169.2 586.8h.7M164.4 579.5h.7M162.2 586.2h.7M166.5 584.1h.7M158.2 584.7h.7M152.9 584.8h.7M156.4 587.1h.7M167.4 582.8h.7M163.7 580.0h.7M170.7 576.3h.7M159.3 582.4h.7M152.9 584.5h.7M170.7 594.9h.7M166.2 597.4h.7M165.9 601.5h.7M172.1 594.4h.7M165.1 598.7h.7M164.6 597.9h.7M169.9 593.1h.7M170.5 591.5h.7M162.1 606.1h.7M166.3 598.8h.7M157.6 606.1h.7M162.0 608.3h.7M166.9 598.0h.7M170.4 593.0h.7M166.1 597.9h.7M164.9 604.6h.7M163.0 601.5h.7M163.3 600.5h.7M163.1 602.1h.7M164.8 599.4h.7M165.5 600.0h.7M162.8 601.3h.7M165.0 600.0h.7M168.8 598.0h.7M163.1 604.0h.7M171.0 595.2h.7M163.6 605.7h.7M165.7 602.9h.7M162.5 603.5h.7M162.2 605.2h.7M162.2 605.7h.7M169.7 599.5h.7M165.6 599.8h.7M165.2 600.3h.7M168.5 599.4h.7M164.6 600.2h.7M171.4 595.4h.7M165.4 604.0h.7M166.9 601.1h.7M161.7 604.0h.7M175.3 591.6h.7M172.0 593.4h.7M167.5 596.8h.7M169.9 594.7h.7M163.1 604.0h.7M169.3 597.3h.7M167.0 598.3h.7M166.3 599.4h.7M166.7 596.8h.7M165.2 601.8h.7M159.9 610.7h.7M160.1 606.6h.7M163.1 605.7h.7M166.3 597.0h.7M170.6 595.3h.7M165.2 598.2h.7M163.3 604.2h.7M162.6 606.2h.7M167.9 596.9h.7M165.2 602.3h.7M169.7 592.6h.7M159.3 604.0h.7M164.6 602.2h.7M164.8 602.9h.7M169.4 598.4h.7M166.2 600.3h.7M170.8 591.9h.7M166.5 597.8h.7M167.5 597.4h.7M157.4 610.9h.7M163.9 601.0h.7M167.3 599.2h.7M164.1 605.0h.7M166.8 598.9h.7M163.3 604.5h.7M167.6 599.1h.7M166.0 601.2h.7M157.4 611.9h.7M165.0 599.2h.7M170.7 594.8h.7M167.3 597.2h.7M165.0 599.1h.7M170.0 597.2h.7M170.6 593.6h.7M164.4 603.7h.7M166.3 602.1h.7M168.7 594.9h.7M161.9 603.6h.7M166.4 599.0h.7M168.9 595.9h.7M164.3 600.9h.7M161.3 609.4h.7M166.1 597.0h.7M160.4 607.8h.7M164.0 603.4h.7M165.9 596.2h.7M170.2 591.4h.7M167.6 597.1h.7M159.4 608.3h.7M163.2 606.4h.7M167.9 600.9h.7M170.7 591.6h.7M166.3 598.1h.7M166.4 599.0h.7M168.7 597.5h.7M166.4 598.8h.7M169.5 597.5h.7M166.7 599.1h.7M167.1 596.8h.7M165.8 598.9h.7M165.6 597.0h.7M166.1 598.3h.7M163.0 604.5h.7M167.0 595.8h.7M162.7 604.6h.7M164.8 601.3h.7M164.7 602.7h.7M165.4 600.3h.7M169.9 596.2h.7M161.8 603.8h.7M167.5 598.0h.7M160.9 604.5h.7M161.0 604.1h.7M166.7 599.1h.7M164.3 600.2h.7M167.8 601.5h.7M166.0 605.0h.7M165.9 597.6h.7M170.5 596.6h.7M170.4 589.1h.7M167.7 602.2h.7M161.8 603.2h.7M172.9 591.2h.7M161.0 609.3h.7M171.8 591.5h.7M163.7 608.2h.7M166.8 596.6h.7M164.4 602.5h.7M166.4 600.1h.7M164.7 603.1h.7M162.4 601.8h.7M165.8 597.5h.7M174.2 593.7h.7M164.4 599.7h.7M165.7 601.6h.7M167.6 598.8h.7M163.4 604.2h.7M165.9 599.9h.7M168.6 596.1h.7M160.7 599.8h.7M172.5 584.3h.7M169.8 589.3h.7M170.4 593.4h.7M166.9 592.0h.7M168.6 587.9h.7M170.3 581.4h.7M171.6 584.6h.7M167.8 592.0h.7M172.5 584.1h.7M170.6 585.1h.7M169.5 586.3h.7M172.3 582.3h.7M168.5 589.3h.7M169.3 590.5h.7M172.3 590.3h.7M168.6 591.6h.7M171.7 592.1h.7M169.7 591.6h.7M170.1 587.6h.7M171.9 587.8h.7M170.7 592.2h.7M169.3 591.2h.7M171.4 584.4h.7M169.5 585.2h.7M170.4 594.3h.7M172.0 589.3h.7M173.8 582.7h.7M168.3 594.2h.7M168.7 592.4h.7M168.1 593.2h.7M168.8 591.7h.7M172.7 586.0h.7M171.8 593.5h.7M168.2 593.7h.7M169.0 589.5h.7M169.8 583.7h.7M171.2 586.8h.7M169.5 591.0h.7M169.3 585.9h.7M170.7 588.4h.7M168.0 589.5h.7M167.8 588.0h.7M168.5 592.2h.7M169.3 588.5h.7M169.2 592.4h.7M170.4 589.9h.7M171.1 594.5h.7M169.2 590.7h.7M170.0 588.5h.7M172.1 588.6h.7M170.8 585.3h.7M170.3 592.6h.7M170.6 585.6h.7M166.3 595.6h.7M166.9 594.9h.7M172.0 586.4h.7M169.4 584.4h.7M170.0 585.3h.7M170.1 588.2h.7M169.4 591.5h.7M163.8 605.1h.7M166.8 605.4h.7M162.3 609.0h.7M156.5 610.5h.7M160.6 608.7h.7M158.6 609.7h.7M157.3 610.7h.7M160.8 609.8h.7M163.5 608.7h.7M161.5 606.3h.7M161.9 606.2h.7M162.9 606.2h.7M157.9 609.0h.7M159.3 609.3h.7M161.9 608.2h.7M164.5 607.3h.7M163.6 605.1h.7M163.6 602.9h.7M162.0 605.8h.7M162.4 608.8h.7M160.4 609.5h.7M159.3 608.9h.7M158.8 608.8h.7M160.6 608.4h.7M161.2 606.1h.7M158.0 610.3h.7M167.5 601.8h.7M162.7 607.5h.7M161.5 603.8h.7M162.2 606.4h.7M162.7 609.5h.7M162.4 606.6h.7M161.3 606.2h.7M159.3 604.6h.7M163.5 606.4h.7M161.6 605.5h.7M159.5 605.7h.7M161.6 610.1h.7M158.0 609.0h.7M158.4 609.1h.7" stroke="#000" stroke-width=".8" opacity="0.4" fill="none" filter="url(#f05)"/>
<path d="M115.7 617.9h.7M130.1 621.0h.7M115.0 619.4h.7M126.8 615.3h.7M115.8 622.8h.7M128.3 617.5h.7M133.6 615.7h.7M123.0 620.1h.7M140.4 620.2h.7M118.6 622.8h.7M124.3 618.7h.7M121.4 619.4h.7M125.5 616.8h.7M130.8 618.4h.7M113.6 616.7h.7M114.4 619.8h.7M114.1 619.2h.7M118.6 618.4h.7M145.1 619.4h.7M129.2 622.8h.7M121.8 616.9h.7M123.1 617.9h.7M124.3 622.7h.7M127.3 622.0h.7M135.8 621.0h.7M128.1 619.2h.7M129.9 621.3h.7M130.2 619.6h.7M131.9 617.0h.7M124.6 621.9h.7M128.7 617.5h.7M134.3 620.5h.7M127.3 617.4h.7M125.5 618.5h.7M124.9 621.3h.7M117.1 620.6h.7M127.5 613.9h.7M130.0 615.5h.7M128.7 616.7h.7M124.9 616.5h.7M135.2 620.3h.7M119.2 612.3h.7M125.3 615.8h.7M129.4 622.8h.7M139.5 613.0h.7M124.8 616.6h.7M124.5 622.3h.7M122.9 617.9h.7M130.9 616.7h.7M124.1 614.4h.7M118.7 616.4h.7M130.9 620.2h.7M113.6 622.4h.7M125.2 617.3h.7M133.7 622.7h.7M123.7 616.9h.7M122.7 622.8h.7M128.9 611.1h.7M130.2 622.4h.7M121.0 618.4h.7M139.9 617.0h.7M124.4 613.7h.7M123.1 612.7h.7M119.2 620.8h.7M128.4 614.2h.7M127.9 618.1h.7M113.6 621.7h.7M119.7 621.1h.7M127.5 620.4h.7M128.8 618.9h.7M121.5 618.8h.7M126.5 616.2h.7M120.6 620.0h.7M114.8 613.6h.7M133.1 619.8h.7M120.6 622.8h.7M124.8 618.5h.7M137.9 618.3h.7M118.6 622.8h.7M132.8 618.5h.7M113.6 618.6h.7M113.6 607.0h.7M130.9 617.2h.7M122.5 622.8h.7M122.9 622.8h.7M127.6 622.8h.7M117.8 614.9h.7M134.4 622.8h.7M113.7 616.1h.7M129.2 622.6h.7M119.2 621.6h.7M115.9 621.6h.7M131.8 616.8h.7M137.0 619.5h.7M122.8 622.6h.7M122.9 622.8h.7M113.6 616.7h.7M133.0 616.3h.7M132.3 618.3h.7M119.0 618.9h.7M121.2 622.8h.7M113.6 622.8h.7M123.6 618.7h.7M120.6 614.2h.7M124.8 617.1h.7M131.6 622.1h.7M113.6 616.6h.7M119.2 614.6h.7M125.9 615.7h.7M128.6 622.8h.7M128.4 621.5h.7M118.8 620.7h.7M128.7 616.1h.7M130.2 622.8h.7M119.8 622.8h.7M123.0 617.1h.7M118.7 618.3h.7M125.2 615.7h.7M118.3 622.1h.7M118.7 613.0h.7M130.8 619.6h.7M125.1 618.8h.7M125.0 619.9h.7M121.5 622.8h.7M119.5 613.4h.7M127.2 619.0h.7M122.3 619.0h.7M126.0 621.4h.7M125.0 618.3h.7M118.8 621.9h.7M117.2 622.8h.7M129.5 622.8h.7M121.9 621.3h.7M119.6 618.8h.7M131.0 618.9h.7M122.8 621.3h.7M122.8 616.0h.7M121.1 622.8h.7M115.5 622.8h.7M114.6 615.3h.7M126.0 620.0h.7M133.2 621.5h.7M128.6 616.4h.7M113.6 622.8h.7M117.6 616.0h.7M132.1 622.8h.7M130.5 620.5h.7M121.1 621.1h.7M121.6 622.8h.7M117.2 622.8h.7M126.9 611.9h.7M141.4 620.4h.7M113.6 620.6h.7M117.6 612.2h.7M127.4 621.7h.7M129.8 617.3h.7M113.6 621.0h.7M122.1 619.1h.7M124.5 620.4h.7M124.9 621.2h.7M117.8 613.9h.7M126.0 617.6h.7M113.6 619.8h.7M129.0 622.8h.7M130.8 620.5h.7M126.3 619.7h.7M125.1 615.0h.7M121.1 613.7h.7M118.6 622.4h.7M128.3 622.8h.7M121.3 616.0h.7M131.5 622.8h.7M127.0 612.6h.7M131.4 620.0h.7M119.8 620.2h.7M116.2 620.1h.7M122.5 619.7h.7M131.4 620.0h.7M114.2 615.5h.7M116.7 620.7h.7M122.8 620.4h.7M117.2 620.1h.7M137.9 621.3h.7M122.8 615.3h.7M128.5 616.5h.7M129.3 622.8h.7M118.1 618.7h.7M126.9 614.7h.7M126.7 620.0h.7M123.9 619.9h.7M125.3 616.8h.7M121.5 622.0h.7M118.1 615.3h.7M132.0 615.7h.7M129.2 616.3h.7M123.7 616.9h.7M116.8 619.9h.7M118.9 616.6h.7M119.9 619.6h.7M126.3 614.4h.7M118.5 622.5h.7M129.0 622.8h.7M126.6 621.2h.7M123.0 622.8h.7M128.3 620.9h.7M117.8 611.9h.7M128.3 606.9h.7M126.3 620.4h.7M124.4 613.6h.7M123.5 617.6h.7M127.0 622.4h.7M124.5 620.9h.7M115.6 616.1h.7M128.0 618.9h.7M117.8 622.8h.7M126.8 619.5h.7M113.6 619.4h.7M113.8 619.3h.7M124.6 617.9h.7M125.1 618.6h.7M116.3 620.5h.7M120.4 620.0h.7M125.4 617.0h.7M134.3 622.8h.7M126.3 619.9h.7M138.5 615.9h.7M113.6 617.8h.7M120.3 615.7h.7M116.8 619.5h.7M122.8 619.5h.7M119.9 622.8h.7M126.7 615.7h.7M123.2 622.7h.7M125.0 617.2h.7M122.5 619.2h.7M132.8 622.8h.7M120.0 622.8h.7M119.1 621.8h.7M117.4 621.6h.7M135.4 619.9h.7M122.9 611.5h.7M123.3 622.8h.7M126.3 622.5h.7M134.3 622.8h.7M119.9 622.8h.7M124.3 622.7h.7M123.3 620.5h.7M119.7 615.9h.7M129.8 619.0h.7M117.8 622.8h.7M125.4 610.8h.7M120.7 621.9h.7M119.1 622.8h.7M117.4 619.9h.7M133.0 619.2h.7M120.4 622.8h.7M125.1 619.3h.7M115.7 622.8h.7M123.4 615.6h.7M127.7 618.5h.7M121.6 618.1h.7M123.6 611.6h.7M116.3 620.5h.7M131.9 620.1h.7M132.9 619.3h.7M124.6 620.5h.7M114.7 622.6h.7M138.1 616.9h.7M127.6 615.8h.7M127.4 615.6h.7M121.9 620.0h.7M130.1 620.4h.7M115.0 620.0h.7M120.1 617.0h.7M119.0 622.8h.7M121.5 613.7h.7M123.4 618.6h.7M123.7 618.1h.7M129.7 614.3h.7M113.6 614.4h.7M123.7 620.3h.7M139.3 619.8h.7M136.3 615.8h.7M117.0 617.5h.7M128.5 619.6h.7M113.6 620.4h.7M122.4 622.8h.7M135.5 620.0h.7M121.1 620.2h.7M118.6 621.9h.7M124.3 618.1h.7M120.4 619.5h.7M114.6 617.4h.7M118.8 618.4h.7M117.8 621.0h.7M125.1 622.8h.7M139.7 619.3h.7M123.2 621.8h.7M134.0 614.3h.7M125.6 622.8h.7M120.4 617.0h.7M120.3 622.8h.7M116.0 621.9h.7M123.8 621.5h.7M123.8 609.4h.7M135.2 622.8h.7M125.9 618.9h.7M122.8 615.5h.7M121.5 620.3h.7M121.2 619.5h.7M132.0 616.5h.7M115.0 620.7h.7M118.5 616.3h.7M125.1 616.1h.7M123.3 622.8h.7M126.6 618.4h.7M127.0 622.8h.7M124.2 621.6h.7M119.2 617.9h.7M126.0 622.3h.7M113.6 622.8h.7M119.9 615.3h.7M123.3 622.8h.7M118.1 617.7h.7M134.5 615.1h.7M126.1 618.5h.7M116.8 620.8h.7M121.5 621.9h.7M124.1 620.6h.7M125.9 614.2h.7M128.5 617.7h.7M122.1 622.8h.7M122.9 617.3h.7M117.1 614.8h.7M121.5 617.9h.7M121.5 622.8h.7M137.1 622.8h.7M129.6 621.1h.7M125.5 622.0h.7M121.0 616.0h.7M136.3 622.1h.7M123.7 615.9h.7M119.6 616.7h.7M118.6 617.1h.7M126.5 614.9h.7M126.0 622.8h.7M128.0 622.8h.7M128.6 613.9h.7M127.5 621.1h.7M131.4 618.6h.7M115.6 620.4h.7M132.9 620.2h.7M124.5 620.4h.7M113.6 621.0h.7M126.0 618.5h.7M122.5 622.8h.7M131.6 616.7h.7M130.3 614.6h.7M120.8 621.3h.7M125.7 613.3h.7M113.6 620.0h.7M119.0 617.2h.7M133.2 620.2h.7M115.6 619.0h.7M121.8 622.8h.7M129.4 621.0h.7M128.1 622.8h.7M130.8 622.8h.7M130.5 622.8h.7M132.6 620.5h.7M113.6 620.0h.7M125.9 622.7h.7M120.5 618.2h.7M122.6 622.8h.7M120.9 617.7h.7M125.6 615.7h.7M119.2 610.2h.7M128.9 618.1h.7M130.7 615.8h.7M124.3 621.4h.7M130.3 617.7h.7M113.6 622.8h.7M126.7 618.8h.7M125.5 616.9h.7M124.6 613.6h.7M119.8 620.6h.7M125.8 616.6h.7M128.8 614.0h.7M120.6 615.1h.7M126.7 622.8h.7M122.8 611.9h.7M128.8 620.8h.7M113.6 621.8h.7M119.1 618.9h.7M138.7 616.6h.7M125.7 622.5h.7M116.0 619.9h.7M120.6 608.7h.7M121.0 621.3h.7M131.0 618.9h.7M115.7 614.7h.7M121.6 622.8h.7M125.8 617.5h.7M121.5 616.7h.7M129.0 622.3h.7M113.6 622.8h.7M122.8 614.9h.7M130.2 614.3h.7M135.7 619.1h.7M130.5 622.8h.7M128.2 617.8h.7M123.1 620.7h.7M116.4 618.7h.7M132.0 620.5h.7M127.1 621.5h.7M125.3 622.7h.7M126.1 619.9h.7M125.7 621.3h.7M116.0 620.3h.7M130.4 613.7h.7M121.6 616.4h.7M128.6 617.8h.7M113.6 618.0h.7M117.4 615.1h.7M128.8 617.0h.7M113.6 617.0h.7M128.2 622.8h.7M130.0 618.9h.7M122.5 621.7h.7M117.1 620.7h.7M143.7 618.5h.7M125.0 621.5h.7M119.7 621.1h.7M117.9 616.1h.7M121.9 616.2h.7M116.2 615.9h.7M123.5 616.8h.7M123.0 622.3h.7M131.5 620.7h.7M122.7 622.3h.7M125.0 620.5h.7M125.5 618.0h.7M119.2 622.8h.7M126.5 616.0h.7M128.2 622.8h.7M127.6 617.8h.7M125.5 617.7h.7M121.6 618.4h.7M129.7 621.0h.7M114.3 619.6h.7M125.0 622.8h.7M119.3 617.1h.7M122.7 618.9h.7M115.5 616.0h.7M135.1 619.9h.7M118.9 622.8h.7M129.5 618.8h.7M118.5 614.9h.7M128.6 617.1h.7M113.6 619.5h.7M127.7 622.8h.7M129.7 614.2h.7M130.4 621.7h.7M119.1 615.9h.7M130.1 614.9h.7M131.5 619.5h.7M121.0 622.8h.7M128.8 611.2h.7M120.7 620.8h.7M127.9 617.9h.7M114.8 621.7h.7M116.5 612.1h.7M119.0 616.2h.7M136.1 612.6h.7M132.9 613.5h.7M115.6 620.4h.7M118.9 620.2h.7M140.7 622.8h.7M127.3 622.8h.7M132.4 614.6h.7M120.3 611.9h.7M124.2 614.6h.7M125.7 621.1h.7M121.2 619.6h.7M127.7 618.7h.7M139.0 619.9h.7M120.6 621.7h.7M118.6 622.8h.7M117.3 616.0h.7M124.1 619.8h.7M126.0 615.4h.7M127.7 616.5h.7M120.0 620.1h.7M118.6 619.5h.7M118.4 620.5h.7M122.5 619.9h.7M121.9 620.9h.7M132.2 620.4h.7M117.1 618.5h.7M116.6 622.8h.7M124.2 622.8h.7M113.6 618.2h.7M130.4 622.8h.7M117.8 617.2h.7M113.6 622.2h.7M115.9 619.9h.7M113.6 616.1h.7M122.7 618.1h.7M121.5 622.8h.7M122.7 622.8h.7M123.7 622.2h.7M121.6 619.9h.7M128.7 616.5h.7M117.1 619.2h.7M133.2 617.5h.7M118.9 619.6h.7M121.4 615.9h.7M123.9 617.9h.7M138.1 622.8h.7M117.1 622.8h.7M113.6 616.2h.7M125.6 613.5h.7M113.6 622.3h.7M133.1 615.6h.7M129.4 616.1h.7M123.9 619.2h.7M123.9 616.2h.7M122.6 618.1h.7M133.1 622.8h.7M118.8 617.2h.7M122.0 619.7h.7M137.3 617.7h.7M121.0 615.3h.7M140.0 622.8h.7M119.3 618.8h.7M119.5 611.6h.7M127.1 620.6h.7M126.9 622.0h.7M119.7 618.8h.7M139.2 622.8h.7M126.4 614.5h.7M128.5 612.5h.7M126.6 618.7h.7M122.8 622.2h.7M134.3 622.8h.7M122.9 621.0h.7M118.6 622.8h.7M121.2 618.7h.7M124.6 616.2h.7M122.6 621.4h.7M125.7 616.9h.7M117.8 622.8h.7M117.0 615.5h.7M130.2 622.3h.7M124.4 616.2h.7M132.3 621.5h.7M122.1 614.3h.7M139.3 613.8h.7M116.3 617.6h.7M121.7 619.4h.7M119.4 620.9h.7M123.6 612.9h.7M128.2 617.7h.7M123.9 621.8h.7M122.2 614.8h.7M129.1 612.3h.7M125.4 619.3h.7M113.6 617.8h.7M113.6 613.8h.7M119.6 619.2h.7M114.9 620.9h.7M117.6 615.2h.7M125.3 622.8h.7M113.6 619.4h.7M120.5 622.8h.7M127.5 619.8h.7M124.4 621.3h.7M120.0 620.8h.7M113.6 617.0h.7M126.3 622.8h.7M124.3 615.1h.7M125.2 614.6h.7M121.9 619.2h.7M115.2 622.4h.7M113.6 622.3h.7M125.3 617.4h.7M131.2 618.7h.7M117.2 617.7h.7M122.7 612.9h.7M136.4 615.8h.7M116.3 621.0h.7M124.9 621.7h.7M127.1 616.8h.7M129.1 618.4h.7M117.9 622.1h.7M122.9 614.5h.7M133.9 615.8h.7M126.0 616.8h.7M129.0 614.7h.7M129.2 622.8h.7M129.9 617.8h.7M120.7 617.3h.7M125.6 619.4h.7M113.6 618.8h.7M127.3 619.4h.7M113.6 617.6h.7M128.4 618.6h.7M126.4 620.4h.7M119.4 617.3h.7M121.4 618.5h.7M144.8 616.7h.7M124.6 622.8h.7M124.3 616.5h.7M119.1 620.0h.7M113.6 617.2h.7M119.8 616.8h.7M132.5 619.7h.7M130.1 618.3h.7M122.3 620.2h.7M118.1 614.7h.7M129.4 622.7h.7M129.2 621.7h.7M113.9 615.0h.7M115.4 615.0h.7M125.0 616.0h.7M127.0 615.1h.7M125.9 617.2h.7M125.3 615.4h.7M121.1 615.6h.7M133.5 619.4h.7M126.5 621.0h.7M121.8 618.3h.7M121.5 622.3h.7M123.5 618.5h.7M125.8 616.7h.7M113.6 614.2h.7M122.6 621.9h.7M121.3 617.6h.7M129.3 620.5h.7M124.7 622.8h.7M124.8 619.6h.7M120.9 616.1h.7M135.3 615.6h.7M118.6 613.8h.7M121.5 619.3h.7M119.9 617.6h.7M127.3 618.7h.7M122.3 619.7h.7M121.1 615.8h.7M120.3 619.7h.7M122.3 621.8h.7M122.2 622.8h.7M126.3 617.3h.7M121.7 613.8h.7M118.4 617.2h.7M126.8 621.1h.7M122.1 616.1h.7M124.1 618.2h.7M132.7 618.4h.7M113.6 621.7h.7M129.1 619.6h.7M116.7 622.8h.7M125.8 614.0h.7M115.6 622.8h.7M126.9 621.1h.7M121.8 620.3h.7M117.8 617.7h.7M129.6 617.9h.7M120.1 615.6h.7M123.0 617.2h.7M117.6 616.9h.7M128.5 614.7h.7M123.9 617.6h.7M120.0 616.1h.7M128.7 615.4h.7M121.2 622.8h.7M123.2 619.9h.7M118.9 617.1h.7M129.8 617.8h.7M130.8 617.8h.7M117.4 621.2h.7M121.4 616.8h.7M129.6 618.7h.7M130.2 622.0h.7M123.0 614.0h.7M126.5 615.6h.7M113.6 622.8h.7M118.1 615.7h.7M134.1 621.3h.7M117.4 622.7h.7M118.0 617.3h.7M121.7 612.7h.7M128.3 621.5h.7M125.2 619.7h.7M128.8 616.0h.7M121.5 616.1h.7M127.3 619.5h.7M125.3 616.8h.7M121.7 621.5h.7M131.8 619.2h.7M171.1 580.8h.7M172.7 579.9h.7M171.9 578.6h.7M168.5 581.4h.7M173.0 578.3h.7M172.9 579.7h.7M173.0 578.4h.7M174.4 579.2h.7M173.8 579.1h.7M170.9 580.8h.7M170.0 579.8h.7M172.7 579.5h.7M171.3 580.6h.7M171.0 580.5h.7M172.9 578.7h.7M169.6 582.6h.7M172.4 581.0h.7M172.5 580.0h.7M171.7 580.2h.7M169.9 580.6h.7M173.9 579.2h.7M172.3 579.4h.7M170.5 581.9h.7M174.2 580.8h.7M169.1 582.3h.7M173.3 580.0h.7M172.3 577.9h.7M172.1 580.2h.7M172.3 580.9h.7M172.7 579.5h.7M172.5 578.5h.7M171.7 580.3h.7M171.5 579.0h.7M169.0 582.7h.7M170.5 581.4h.7M173.2 579.1h.7M173.0 579.2h.7M170.7 581.9h.7M169.1 582.5h.7M170.6 580.6h.7M173.9 579.5h.7M169.5 581.8h.7M170.0 581.7h.7M173.0 579.7h.7M172.7 580.0h.7M166.5 585.0h.7M171.2 580.4h.7M171.8 581.1h.7M170.9 581.4h.7M173.3 579.4h.7M173.6 578.1h.7M169.9 581.1h.7M167.5 584.0h.7M170.0 582.0h.7M173.9 578.7h.7M170.8 580.0h.7M170.7 582.1h.7M173.3 578.6h.7M169.0 582.6h.7M173.3 579.3h.7M170.9 581.0h.7M172.4 580.5h.7M174.0 580.0h.7M170.6 579.4h.7M169.8 582.1h.7M167.9 584.4h.7M169.6 582.2h.7M170.0 580.2h.7M170.0 581.9h.7M171.8 579.8h.7M174.1 579.9h.7M171.2 582.5h.7M171.7 582.1h.7M172.3 580.5h.7M172.7 580.4h.7M170.9 579.2h.7M173.8 578.6h.7M169.3 581.2h.7M169.2 583.9h.7M174.4 578.8h.7M174.0 578.1h.7M174.9 576.1h.7M173.1 579.9h.7M172.2 578.8h.7M173.3 581.8h.7M171.2 581.3h.7M171.8 580.8h.7M174.4 579.4h.7M173.4 580.9h.7M168.2 584.4h.7M170.7 582.1h.7M170.2 581.2h.7M172.8 579.5h.7M172.4 580.6h.7M170.5 582.8h.7M171.5 581.7h.7M170.8 580.6h.7M172.1 578.9h.7M171.0 583.1h.7M168.8 581.1h.7M173.2 579.6h.7M174.3 578.7h.7M175.0 578.1h.7M170.7 580.7h.7M169.7 582.4h.7M175.1 577.3h.7M169.8 582.3h.7M172.0 580.9h.7M171.9 579.2h.7M171.4 579.9h.7M172.2 580.0h.7M169.9 581.1h.7M174.4 578.6h.7M169.9 581.6h.7M171.4 579.7h.7M172.7 579.8h.7M168.9 582.3h.7M172.5 581.0h.7M169.8 583.8h.7M173.1 579.8h.7M166.0 586.1h.7M170.6 581.5h.7M171.9 580.6h.7M172.6 578.8h.7M170.6 580.0h.7M171.9 581.2h.7M172.6 581.0h.7M165.4 601.1h.7M165.9 601.1h.7M161.5 605.8h.7M171.0 595.8h.7M163.4 602.7h.7M163.5 602.3h.7M166.5 600.9h.7M165.6 601.2h.7M169.2 599.6h.7M165.7 597.8h.7M165.9 599.4h.7M164.1 601.9h.7M166.4 601.4h.7M164.6 605.8h.7M166.7 598.4h.7M168.3 596.0h.7M168.6 598.3h.7M161.4 607.4h.7M164.6 601.1h.7M165.5 600.7h.7M165.6 599.8h.7M166.0 599.2h.7M164.5 602.0h.7M162.8 606.2h.7M164.7 600.9h.7M164.9 603.7h.7M168.9 597.1h.7M162.1 607.0h.7M164.7 605.9h.7M163.4 600.6h.7M164.5 603.3h.7M168.6 595.9h.7M164.4 599.7h.7M162.7 604.5h.7M166.9 598.2h.7M163.5 605.0h.7M170.4 593.6h.7M164.2 600.5h.7M161.1 606.8h.7M160.0 605.8h.7M163.1 603.7h.7M163.2 603.5h.7M166.5 599.0h.7M164.7 601.2h.7M165.5 601.3h.7M166.7 597.3h.7M163.1 605.7h.7M163.5 602.8h.7M160.8 604.4h.7M165.7 599.9h.7M168.6 597.3h.7M166.4 598.5h.7M169.9 596.0h.7M168.8 594.7h.7M165.5 598.6h.7M165.3 601.1h.7M168.2 597.2h.7M167.4 595.3h.7M166.2 599.2h.7M164.8 603.0h.7" stroke="#000" stroke-width=".7" opacity="0.6" fill="none"/>
</g></g>
<line x1="153.5" y1="573.8" x2="153.5" y2="623.4" stroke="#999" stroke-width="0.8"/>
<line x1="113" y1="589.5" x2="175.8" y2="589.5" stroke="#999" stroke-width="0.8"/>
<rect x="113" y="573.8" width="62.8" height="49.6" fill="none" stroke="#1a1a1a" stroke-width="1"/>
<text x="115.4" y="630" font-size="3.9" text-anchor="middle" fill="#222" stroke="#222" stroke-width=".25">10<tspan dy="-1.4" font-size="2.7">0</tspan></text>
<text font-size="3.7" text-anchor="middle" fill="#222" stroke="#222" stroke-width=".25" transform="translate(111.2 621.6) rotate(-90)">10<tspan dy="-1.3" font-size="2.6">0</tspan></text>
<text x="129.75" y="630" font-size="3.9" text-anchor="middle" fill="#222" stroke="#222" stroke-width=".25">10<tspan dy="-1.4" font-size="2.7">1</tspan></text>
<text font-size="3.7" text-anchor="middle" fill="#222" stroke="#222" stroke-width=".25" transform="translate(111.2 609.58) rotate(-90)">10<tspan dy="-1.3" font-size="2.6">1</tspan></text>
<text x="144.1" y="630" font-size="3.9" text-anchor="middle" fill="#222" stroke="#222" stroke-width=".25">10<tspan dy="-1.4" font-size="2.7">2</tspan></text>
<text font-size="3.7" text-anchor="middle" fill="#222" stroke="#222" stroke-width=".25" transform="translate(111.2 597.55) rotate(-90)">10<tspan dy="-1.3" font-size="2.6">2</tspan></text>
<text x="158.45" y="630" font-size="3.9" text-anchor="middle" fill="#222" stroke="#222" stroke-width=".25">10<tspan dy="-1.4" font-size="2.7">3</tspan></text>
<text font-size="3.7" text-anchor="middle" fill="#222" stroke="#222" stroke-width=".25" transform="translate(111.2 585.52) rotate(-90)">10<tspan dy="-1.3" font-size="2.6">3</tspan></text>
<text x="172.8" y="630" font-size="3.9" text-anchor="middle" fill="#222" stroke="#222" stroke-width=".25">10<tspan dy="-1.4" font-size="2.7">4</tspan></text>
<text font-size="3.7" text-anchor="middle" fill="#222" stroke="#222" stroke-width=".25" transform="translate(111.2 573.5) rotate(-90)">10<tspan dy="-1.3" font-size="2.6">4</tspan></text>
<clipPath id="c1"><rect x="183.8" y="573.8" width="62.8" height="49.6"/></clipPath>
<g clip-path="url(#c1)"><g filter="url(#f0)">
<ellipse cx="200.76" cy="618.94" rx="11" ry="4.6" fill="#000" opacity="0.95" transform="rotate(0 200.76 618.94)" filter="url(#f2)"/>
<path d="M205.9 611.5h.7M218.7 621.9h.7M184.4 622.2h.7M208.5 617.9h.7M213.6 617.8h.7M188.8 622.2h.7M201.1 613.0h.7M221.5 621.7h.7M209.2 617.3h.7M190.1 622.6h.7M222.5 619.0h.7M202.9 614.8h.7M208.2 613.7h.7M194.3 618.8h.7M206.9 615.3h.7M195.2 622.8h.7M214.2 612.9h.7M215.2 617.5h.7M184.4 618.8h.7M228.0 615.5h.7M206.9 622.8h.7M196.2 612.3h.7M207.9 617.6h.7M218.8 613.6h.7M210.4 617.8h.7M208.9 612.0h.7M207.6 622.8h.7M201.8 618.3h.7M208.9 610.9h.7M203.1 619.0h.7M212.7 614.7h.7M194.6 614.7h.7M206.2 615.3h.7M185.7 622.8h.7M186.0 622.8h.7M215.5 612.2h.7M188.5 610.0h.7M190.4 620.8h.7M229.6 622.8h.7M212.3 613.0h.7M217.1 613.8h.7M206.9 609.6h.7M203.0 616.5h.7M208.7 618.6h.7M202.2 611.2h.7M223.2 614.1h.7M202.6 619.3h.7M199.3 618.7h.7M198.7 617.4h.7M201.3 611.8h.7M187.1 618.9h.7M213.6 618.9h.7M199.1 614.3h.7M203.0 621.5h.7M205.8 613.9h.7M184.4 612.6h.7M184.4 613.6h.7M188.3 615.8h.7M203.5 612.0h.7M203.1 618.9h.7M195.1 615.9h.7M201.1 612.7h.7M208.9 611.0h.7M212.5 616.1h.7M203.2 613.9h.7M213.1 622.8h.7M208.8 618.6h.7M207.9 613.1h.7M184.4 617.4h.7M215.9 622.8h.7M206.7 616.8h.7M197.3 612.6h.7M215.0 616.8h.7M220.8 609.9h.7M206.5 612.9h.7M214.5 608.6h.7M213.7 613.6h.7M205.6 613.4h.7M222.9 617.2h.7M202.9 621.4h.7M234.7 618.7h.7M198.2 619.5h.7M218.2 615.1h.7M184.4 616.1h.7M226.0 617.0h.7M205.6 603.1h.7M201.4 617.8h.7M211.8 605.3h.7M209.5 622.8h.7M202.5 617.8h.7M213.2 618.5h.7M205.9 622.8h.7M189.3 616.5h.7M223.8 621.4h.7M185.4 611.2h.7M208.9 613.0h.7M202.3 615.6h.7M203.3 616.8h.7M225.6 618.7h.7M199.7 616.7h.7M202.2 608.7h.7M202.4 614.9h.7M189.8 614.2h.7M212.1 613.6h.7M185.3 619.7h.7M184.4 608.8h.7M203.2 609.0h.7M227.3 611.9h.7M196.8 617.8h.7M213.8 622.8h.7M220.9 609.7h.7M214.8 618.1h.7M208.7 622.8h.7M193.1 618.9h.7M195.4 608.8h.7M209.8 622.8h.7M218.1 614.4h.7M201.6 620.2h.7M229.1 615.6h.7M207.5 622.8h.7M197.5 612.5h.7M205.9 618.9h.7M200.7 622.8h.7M184.4 614.2h.7M187.0 622.8h.7M208.1 612.3h.7M200.2 611.5h.7M204.9 622.8h.7M223.8 622.0h.7M223.2 618.1h.7M203.5 619.0h.7M192.3 613.9h.7M224.3 610.6h.7M197.6 614.4h.7M216.9 614.0h.7M188.8 607.0h.7M195.4 620.8h.7M206.0 615.7h.7M197.6 622.8h.7M189.6 616.8h.7M184.4 611.4h.7M212.1 615.8h.7M206.7 621.0h.7M197.6 612.5h.7M198.1 609.2h.7M216.5 613.5h.7M201.5 621.2h.7M202.4 621.4h.7M199.9 618.5h.7M197.6 611.3h.7M193.6 620.4h.7M218.4 615.6h.7M210.2 619.8h.7M208.2 610.5h.7M204.5 614.7h.7M218.9 613.9h.7M219.1 622.5h.7M184.4 622.2h.7M209.4 620.0h.7M184.4 608.1h.7M220.0 619.4h.7M196.4 620.2h.7M212.9 614.6h.7M205.9 610.2h.7M194.4 622.6h.7M204.3 617.0h.7M205.4 614.8h.7M185.7 609.2h.7M184.4 615.2h.7M208.5 612.9h.7M206.9 620.8h.7M201.9 622.8h.7M202.3 617.9h.7M184.4 606.3h.7M197.0 614.2h.7M219.9 617.0h.7M199.3 622.2h.7M195.4 620.3h.7M202.3 613.0h.7M206.5 609.6h.7M209.0 615.7h.7M184.4 617.6h.7M207.4 622.8h.7M203.5 620.2h.7M201.6 617.0h.7M200.8 617.1h.7M208.4 615.3h.7M196.2 612.5h.7M204.9 615.1h.7M225.1 608.8h.7M230.3 618.0h.7M209.2 614.5h.7M205.4 617.5h.7M214.2 611.4h.7M230.6 619.4h.7M209.8 620.4h.7M201.0 622.8h.7M229.7 622.8h.7M205.5 622.8h.7M200.2 621.8h.7M184.4 621.9h.7M201.4 617.4h.7M184.4 613.8h.7M200.4 622.3h.7M222.4 620.2h.7M206.9 609.6h.7M204.8 617.4h.7M215.7 618.9h.7M205.0 617.6h.7M199.6 613.3h.7M207.5 610.1h.7M208.8 622.8h.7M208.9 618.2h.7M201.1 612.2h.7M209.1 622.8h.7M228.2 617.5h.7M184.6 618.4h.7M209.9 622.2h.7M193.8 622.8h.7M207.3 619.4h.7M222.4 615.5h.7M207.0 619.8h.7M215.8 622.8h.7M207.5 614.6h.7M194.7 622.6h.7M218.0 608.1h.7M208.8 608.1h.7M209.6 617.8h.7M199.3 622.7h.7M215.1 619.6h.7M196.5 615.1h.7M209.9 620.4h.7M206.6 617.6h.7M205.7 617.6h.7M199.0 622.8h.7M196.9 611.2h.7M200.1 616.0h.7M211.3 621.7h.7M204.9 618.2h.7M208.4 614.0h.7M205.0 617.9h.7M215.5 616.3h.7M186.3 610.9h.7M209.5 619.7h.7M203.3 621.5h.7M205.7 622.8h.7M216.1 614.6h.7M192.1 614.5h.7M186.6 619.5h.7M192.0 613.6h.7M212.4 622.8h.7M206.2 614.5h.7M199.9 605.3h.7M185.2 610.5h.7M222.0 618.6h.7M190.4 611.1h.7M184.4 617.1h.7M186.8 617.0h.7M197.1 622.8h.7M210.7 611.4h.7M187.6 613.8h.7M205.1 620.2h.7M197.6 614.3h.7M217.4 618.3h.7M184.4 613.1h.7M208.7 622.8h.7M197.6 617.0h.7M200.4 615.5h.7M193.3 613.9h.7M184.4 615.2h.7M196.8 617.5h.7M211.7 610.4h.7M191.6 617.4h.7M191.6 616.8h.7M196.8 622.7h.7M217.3 615.3h.7M203.9 610.6h.7M184.4 615.1h.7M223.2 618.7h.7M193.3 620.8h.7M218.6 611.9h.7M207.7 612.5h.7M195.8 618.8h.7M213.7 621.5h.7M206.4 617.1h.7M193.6 616.0h.7M188.4 620.1h.7M184.4 622.8h.7M193.1 615.3h.7M203.9 622.8h.7M200.7 606.2h.7M204.6 615.1h.7M184.4 619.4h.7M217.4 622.8h.7M192.9 620.6h.7M202.1 614.2h.7M184.4 613.8h.7M184.4 621.5h.7M208.5 622.7h.7M193.4 619.7h.7M222.8 622.0h.7M215.1 607.6h.7M198.9 621.0h.7M203.5 622.0h.7M199.0 622.3h.7M185.5 622.8h.7M214.5 620.4h.7M189.5 612.0h.7M201.2 618.8h.7M194.2 617.2h.7M199.6 619.3h.7M201.2 613.5h.7M201.0 610.9h.7M215.1 622.2h.7M191.6 622.8h.7M194.1 613.7h.7M199.2 619.6h.7M204.4 622.8h.7M207.1 618.2h.7M211.3 618.7h.7M215.3 612.1h.7M199.6 614.5h.7M192.3 620.7h.7M189.9 618.3h.7M188.4 622.5h.7M200.5 622.8h.7M210.2 621.7h.7M200.1 618.8h.7M215.4 614.4h.7M200.2 620.1h.7M213.5 618.0h.7M190.4 616.7h.7M210.7 617.5h.7M203.7 610.1h.7M196.8 613.6h.7M222.0 609.1h.7M189.1 614.7h.7M204.7 605.7h.7M218.5 612.4h.7M217.4 614.6h.7M190.5 606.5h.7M184.4 613.5h.7M212.6 616.3h.7M215.4 617.3h.7M212.9 616.1h.7M194.3 612.5h.7M196.4 614.2h.7M190.6 616.1h.7M209.8 611.7h.7M190.0 619.9h.7M203.1 622.2h.7M210.5 605.8h.7M211.4 614.2h.7M193.2 614.5h.7M209.7 607.7h.7M199.0 611.2h.7M199.0 618.6h.7M198.1 615.9h.7M185.2 619.0h.7M221.2 622.8h.7M214.0 613.5h.7M198.1 621.0h.7M217.1 618.9h.7M206.9 618.3h.7M189.7 612.2h.7M211.2 621.7h.7M216.7 622.8h.7M187.8 613.0h.7M198.1 617.2h.7M222.6 622.4h.7M210.7 619.2h.7M204.5 618.3h.7M193.7 616.9h.7M192.1 617.1h.7M191.7 618.5h.7M204.9 622.8h.7M202.5 613.8h.7M204.7 612.7h.7M191.2 614.4h.7M207.1 622.8h.7M203.2 612.9h.7M202.5 617.0h.7M201.7 617.9h.7M190.6 620.5h.7M184.4 607.1h.7M203.0 616.1h.7M210.9 614.7h.7M202.4 622.8h.7M188.8 609.0h.7M208.4 614.0h.7M190.5 619.5h.7M206.5 620.9h.7M217.7 620.9h.7M198.1 622.8h.7M207.6 611.0h.7M205.9 617.2h.7M198.9 613.3h.7M203.3 608.7h.7M200.1 619.0h.7M197.0 622.8h.7M206.0 616.6h.7M184.4 622.8h.7M190.3 618.7h.7M191.0 613.5h.7M217.7 620.3h.7M203.6 622.3h.7M219.2 622.4h.7M193.7 617.2h.7M193.5 604.3h.7M201.0 618.4h.7M191.3 617.6h.7M195.9 619.2h.7M215.3 620.1h.7M208.3 620.2h.7M215.4 620.9h.7M191.6 618.4h.7M218.3 619.1h.7M192.8 617.9h.7M194.7 615.9h.7M195.1 615.7h.7M225.6 600.8h.7M232.6 598.3h.7M232.7 590.4h.7M212.4 606.1h.7M211.0 614.8h.7M219.8 614.5h.7M221.5 607.8h.7M236.0 592.5h.7M217.8 614.7h.7M214.8 616.5h.7M210.2 613.6h.7M205.0 619.1h.7M225.1 609.7h.7M208.1 618.9h.7M229.5 608.6h.7M239.9 609.9h.7M207.5 610.3h.7M232.7 602.3h.7M201.8 620.7h.7M211.0 618.7h.7M216.2 615.0h.7M217.0 608.5h.7M221.2 621.7h.7M220.2 611.3h.7M201.0 602.1h.7M230.5 591.1h.7M221.9 610.8h.7M217.1 596.6h.7M217.6 610.6h.7M212.2 613.1h.7M229.8 609.7h.7M228.4 602.0h.7M240.4 594.6h.7M234.5 607.5h.7M242.7 594.2h.7M212.0 600.5h.7M223.9 615.6h.7M222.4 602.1h.7M219.5 612.0h.7M195.5 608.6h.7M212.2 609.5h.7M215.3 616.3h.7M224.0 612.7h.7M233.3 613.1h.7M220.1 598.4h.7M212.7 610.4h.7M228.1 606.7h.7M216.3 611.5h.7M232.3 582.6h.7M238.7 578.3h.7M231.0 579.5h.7M231.8 581.4h.7M230.6 582.6h.7M230.1 583.3h.7M218.6 585.5h.7M227.2 583.4h.7M226.1 583.4h.7M227.2 577.9h.7M231.3 578.9h.7M234.0 578.1h.7M230.2 579.2h.7M235.1 580.1h.7M226.0 582.2h.7M227.2 580.8h.7M225.1 583.3h.7M229.1 580.2h.7M228.0 585.0h.7M225.7 580.4h.7M225.7 579.5h.7M224.6 583.1h.7M232.5 577.8h.7M225.1 579.1h.7M228.9 580.5h.7M239.4 576.7h.7M226.5 582.2h.7M221.2 581.0h.7M229.2 577.1h.7M236.0 579.4h.7M224.0 583.4h.7M236.3 579.7h.7M234.8 577.1h.7M237.7 578.5h.7M233.4 583.0h.7M230.2 581.0h.7M235.0 583.6h.7M224.6 577.4h.7M229.3 582.3h.7M228.7 581.7h.7M225.3 581.0h.7M229.1 578.8h.7M244.2 575.7h.7M229.5 577.9h.7M217.7 580.3h.7M220.7 584.6h.7M229.1 584.3h.7M223.7 582.4h.7M231.4 583.8h.7M207.7 585.6h.7M216.7 583.9h.7M230.6 579.1h.7M224.5 583.9h.7M221.9 586.2h.7M225.2 578.5h.7M233.0 582.3h.7M219.1 585.4h.7M227.6 581.1h.7M230.5 578.5h.7M219.9 587.2h.7M227.0 580.6h.7M224.1 582.1h.7M226.7 579.4h.7M226.7 583.0h.7M230.7 578.7h.7M223.6 583.0h.7M223.7 585.3h.7M244.4 578.6h.7M225.9 582.9h.7M222.5 583.4h.7M227.1 581.0h.7M225.0 585.6h.7M226.6 580.4h.7M236.4 579.6h.7M226.5 583.7h.7M238.1 580.2h.7M224.5 582.7h.7M226.3 581.9h.7M229.7 577.4h.7M231.0 579.9h.7M216.9 579.6h.7M230.8 578.9h.7M225.8 582.4h.7M225.5 582.7h.7M224.8 580.7h.7M235.0 579.8h.7M225.4 580.4h.7M226.2 580.9h.7M222.8 579.9h.7M237.2 582.9h.7M245.7 581.7h.7M237.9 582.4h.7M245.8 586.9h.7M237.7 584.2h.7M243.0 586.0h.7M242.3 583.0h.7M241.7 585.2h.7M243.2 577.7h.7M239.4 582.4h.7M236.1 589.9h.7M238.9 584.1h.7M241.7 583.1h.7M234.7 588.9h.7M243.1 581.0h.7M238.7 584.2h.7M242.0 584.2h.7M233.7 582.1h.7M233.9 585.4h.7M244.0 581.8h.7M242.9 580.0h.7M240.4 586.4h.7M233.2 589.1h.7M242.5 585.9h.7M238.6 583.5h.7M240.5 583.5h.7M244.0 582.1h.7M243.4 583.1h.7M239.2 583.3h.7M240.8 581.8h.7M237.0 582.8h.7M241.7 583.4h.7M238.5 585.0h.7M234.5 584.0h.7M235.8 581.0h.7M239.8 580.0h.7M240.1 586.4h.7M240.8 582.9h.7M243.3 587.8h.7M238.9 580.7h.7M240.2 587.6h.7M240.6 582.4h.7M244.4 581.6h.7M234.8 582.0h.7M241.5 580.8h.7M238.1 581.7h.7M231.4 587.8h.7M241.0 580.1h.7M241.3 582.9h.7M238.7 584.6h.7M244.1 586.4h.7M239.7 580.5h.7M233.4 589.2h.7M235.3 584.3h.7M241.5 584.4h.7M242.4 584.1h.7M232.5 582.8h.7M239.4 585.0h.7M233.6 589.8h.7M232.4 606.5h.7M235.4 607.4h.7M233.2 605.4h.7M235.8 598.9h.7M231.8 605.1h.7M239.4 595.2h.7M236.4 596.6h.7M238.1 601.4h.7M236.8 599.9h.7M234.3 597.4h.7M236.4 602.4h.7M239.0 597.0h.7M232.4 607.6h.7M240.6 599.3h.7M237.7 593.5h.7M232.8 607.1h.7M236.2 600.3h.7M235.7 600.6h.7M234.3 605.9h.7M235.2 602.5h.7M239.7 593.2h.7M232.8 606.7h.7M238.1 592.5h.7M240.1 594.9h.7M237.6 599.0h.7M233.1 607.3h.7M236.6 605.1h.7M236.1 603.3h.7M234.4 602.9h.7M233.2 607.0h.7M236.5 600.6h.7M236.5 601.1h.7M234.7 610.8h.7M235.0 605.2h.7M234.7 607.0h.7M232.7 602.9h.7M234.6 602.2h.7M237.4 599.3h.7M239.1 598.6h.7M237.0 604.1h.7M234.5 602.3h.7M233.8 606.3h.7M235.4 603.6h.7M234.6 604.0h.7M232.7 607.7h.7M241.6 595.9h.7M238.9 599.4h.7M232.2 603.5h.7M236.9 599.0h.7M239.3 594.7h.7M238.7 604.6h.7M235.5 598.0h.7M236.4 605.2h.7M230.9 609.4h.7M229.4 612.6h.7M238.6 599.2h.7M233.7 607.2h.7M241.4 596.5h.7M233.3 605.5h.7M232.7 604.2h.7" stroke="#000" stroke-width=".8" opacity="0.4" fill="none" filter="url(#f05)"/>
<path d="M189.8 617.4h.7M199.2 622.0h.7M196.9 619.8h.7M207.9 617.9h.7M199.5 618.2h.7M207.7 617.1h.7M214.1 621.4h.7M207.2 618.3h.7M196.4 616.7h.7M207.3 615.3h.7M204.7 621.9h.7M202.3 617.4h.7M213.5 618.4h.7M202.2 613.2h.7M201.5 620.4h.7M203.2 616.0h.7M202.2 622.8h.7M198.1 615.2h.7M195.6 615.7h.7M202.3 621.6h.7M207.0 622.8h.7M185.5 622.8h.7M205.0 619.8h.7M205.8 619.1h.7M202.0 620.7h.7M198.1 615.3h.7M206.8 622.8h.7M205.3 611.6h.7M206.7 622.2h.7M206.6 618.0h.7M198.7 615.3h.7M210.2 620.6h.7M202.0 620.2h.7M201.1 613.1h.7M197.9 616.8h.7M203.0 618.5h.7M192.7 616.6h.7M192.9 616.2h.7M200.4 618.3h.7M197.7 621.8h.7M193.5 618.7h.7M200.4 617.8h.7M198.9 616.0h.7M202.1 618.4h.7M199.3 618.8h.7M205.9 621.3h.7M192.2 617.4h.7M204.2 618.7h.7M202.9 622.8h.7M193.9 618.8h.7M200.8 622.8h.7M204.5 622.8h.7M210.2 622.5h.7M196.9 622.5h.7M191.1 619.9h.7M187.1 620.0h.7M202.3 619.9h.7M200.9 622.8h.7M187.4 622.8h.7M208.9 617.7h.7M187.8 612.8h.7M205.7 615.0h.7M208.5 614.2h.7M188.6 618.5h.7M195.3 611.9h.7M206.1 618.8h.7M199.2 622.8h.7M201.8 621.8h.7M211.1 616.2h.7M200.4 620.2h.7M209.2 620.7h.7M209.1 618.1h.7M198.9 617.5h.7M213.9 622.8h.7M206.5 616.2h.7M199.1 613.6h.7M206.0 616.9h.7M193.6 616.8h.7M191.5 617.0h.7M216.9 622.0h.7M212.5 622.7h.7M201.5 616.3h.7M190.3 617.6h.7M195.3 621.0h.7M207.2 619.1h.7M204.0 618.7h.7M203.8 613.3h.7M201.9 619.8h.7M201.2 616.3h.7M204.4 622.8h.7M200.5 617.3h.7M220.3 620.9h.7M199.0 622.8h.7M200.5 622.8h.7M194.8 619.1h.7M189.8 619.8h.7M195.9 614.3h.7M212.8 611.3h.7M202.0 616.4h.7M218.5 621.1h.7M213.6 622.1h.7M208.8 622.8h.7M198.1 619.5h.7M199.1 622.8h.7M201.9 619.9h.7M212.0 616.7h.7M184.9 618.4h.7M208.9 619.2h.7M195.8 622.8h.7M198.3 622.2h.7M199.0 620.0h.7M210.5 622.3h.7M203.5 622.7h.7M203.0 615.1h.7M196.8 622.8h.7M201.3 618.7h.7M196.3 617.3h.7M201.5 616.4h.7M190.8 616.1h.7M210.4 621.7h.7M215.7 618.0h.7M191.3 622.6h.7M195.5 621.1h.7M199.2 617.8h.7M199.5 620.0h.7M193.8 622.8h.7M195.7 622.8h.7M207.5 622.8h.7M209.5 622.8h.7M199.5 618.8h.7M192.7 622.3h.7M207.5 622.7h.7M200.3 618.7h.7M205.9 622.8h.7M210.8 619.4h.7M208.5 622.8h.7M209.1 619.2h.7M206.8 621.1h.7M207.4 618.7h.7M186.8 609.9h.7M196.0 617.2h.7M199.5 620.5h.7M198.2 615.5h.7M207.9 615.5h.7M188.8 615.9h.7M189.8 610.6h.7M203.8 614.8h.7M200.9 618.3h.7M195.7 611.7h.7M198.5 614.9h.7M194.9 619.4h.7M198.1 619.2h.7M197.2 616.5h.7M205.9 622.8h.7M197.7 622.8h.7M209.0 622.8h.7M204.5 618.3h.7M200.6 622.8h.7M213.7 619.4h.7M206.1 615.0h.7M193.5 622.4h.7M213.8 611.9h.7M194.8 619.1h.7M208.1 619.4h.7M210.8 616.7h.7M200.4 616.4h.7M197.4 614.3h.7M196.0 614.1h.7M219.8 622.8h.7M213.7 622.8h.7M200.5 612.2h.7M209.1 616.4h.7M203.8 618.2h.7M204.5 619.5h.7M198.9 622.8h.7M214.1 618.9h.7M215.3 616.1h.7M204.4 622.8h.7M199.1 618.7h.7M200.1 619.9h.7M184.4 620.3h.7M199.1 620.5h.7M198.6 622.8h.7M194.6 613.5h.7M193.9 620.7h.7M194.8 619.4h.7M197.1 611.6h.7M193.2 613.9h.7M197.5 617.2h.7M220.0 618.9h.7M201.0 622.8h.7M198.5 619.6h.7M202.0 618.0h.7M192.8 622.2h.7M206.8 619.8h.7M201.3 616.4h.7M201.8 618.2h.7M192.9 618.8h.7M188.3 612.4h.7M195.3 612.7h.7M197.3 619.3h.7M210.9 618.0h.7M202.5 619.8h.7M199.1 621.4h.7M195.3 622.8h.7M200.0 621.6h.7M211.7 611.1h.7M215.4 622.8h.7M198.4 619.2h.7M189.6 613.1h.7M206.5 617.7h.7M215.7 617.0h.7M198.9 617.7h.7M197.6 617.0h.7M191.3 616.9h.7M198.9 620.3h.7M198.3 619.2h.7M188.0 616.6h.7M199.7 612.3h.7M201.0 615.3h.7M200.9 619.2h.7M192.0 620.4h.7M196.8 622.8h.7M198.9 621.3h.7M203.5 615.0h.7M198.9 614.5h.7M210.5 616.0h.7M198.7 618.4h.7M213.5 613.1h.7M209.8 622.8h.7M184.4 612.3h.7M206.6 613.9h.7M205.5 619.8h.7M204.7 618.9h.7M212.5 615.7h.7M194.1 621.5h.7M208.8 615.5h.7M203.4 617.5h.7M191.8 621.8h.7M205.2 622.8h.7M204.9 616.6h.7M206.1 615.6h.7M215.6 617.7h.7M195.1 622.8h.7M184.4 618.4h.7M207.9 622.8h.7M202.6 621.3h.7M199.3 617.9h.7M201.5 622.8h.7M206.9 619.2h.7M187.1 615.9h.7M213.1 620.1h.7M213.3 622.8h.7M199.3 614.0h.7M211.1 616.8h.7M209.3 620.2h.7M206.7 615.2h.7M208.4 617.3h.7M207.6 617.1h.7M205.8 622.8h.7M205.8 622.1h.7M198.4 618.5h.7M203.1 622.8h.7M197.2 617.8h.7M198.1 618.6h.7M203.0 617.9h.7M197.1 618.0h.7M205.6 622.8h.7M207.1 622.3h.7M204.0 616.5h.7M206.1 622.8h.7M194.3 622.8h.7M205.5 618.2h.7M187.6 616.0h.7M210.2 620.6h.7M200.6 617.8h.7M193.6 620.3h.7M205.4 620.0h.7M201.1 618.3h.7M214.1 617.8h.7M203.7 620.4h.7M210.5 618.5h.7M201.0 614.0h.7M211.3 622.1h.7M198.8 614.1h.7M197.6 613.0h.7M200.0 611.7h.7M193.9 622.8h.7M190.2 611.6h.7M195.7 620.3h.7M196.9 621.4h.7M202.4 618.3h.7M196.5 620.6h.7M211.3 615.3h.7M208.7 614.2h.7M199.7 615.6h.7M213.6 621.7h.7M211.4 622.8h.7M186.8 622.8h.7M193.6 622.2h.7M197.5 615.8h.7M195.6 620.1h.7M191.4 622.8h.7M199.8 621.5h.7M207.8 618.3h.7M187.5 616.1h.7M192.1 620.2h.7M193.3 621.8h.7M196.6 622.8h.7M195.6 619.8h.7M206.5 616.2h.7M214.5 622.8h.7M198.1 614.4h.7M192.6 619.4h.7M206.5 613.2h.7M205.4 617.6h.7M199.9 616.5h.7M201.8 617.6h.7M196.2 619.3h.7M194.4 622.7h.7M194.7 621.8h.7M196.0 620.9h.7M189.6 617.7h.7M203.4 613.2h.7M184.4 622.8h.7M193.7 622.0h.7M201.5 621.9h.7M195.2 616.2h.7M199.6 622.8h.7M208.1 610.7h.7M209.5 619.4h.7M211.2 619.1h.7M198.4 617.9h.7M210.7 618.4h.7M198.7 622.8h.7M202.4 622.7h.7M200.2 622.8h.7M194.5 622.3h.7M196.0 622.8h.7M210.2 616.0h.7M198.5 622.6h.7M209.2 619.7h.7M205.3 615.2h.7M197.9 617.3h.7M204.3 620.4h.7M199.7 621.1h.7M184.4 620.2h.7M213.4 615.2h.7M221.4 618.6h.7M207.6 621.1h.7M195.4 622.0h.7M204.4 616.0h.7M186.6 616.3h.7M207.8 616.0h.7M191.4 618.1h.7M203.4 622.8h.7M192.5 610.9h.7M195.9 620.6h.7M186.3 621.1h.7M211.1 617.4h.7M194.6 618.7h.7M203.7 616.7h.7M193.5 617.5h.7M196.0 620.6h.7M194.6 621.7h.7M204.6 622.8h.7M202.4 609.1h.7M194.3 619.9h.7M200.4 613.3h.7M190.3 616.8h.7M200.2 611.8h.7M199.4 611.7h.7M193.7 617.6h.7M192.7 621.0h.7M191.6 620.3h.7M212.5 620.8h.7M219.4 613.1h.7M203.2 618.8h.7M203.3 621.6h.7M205.3 618.5h.7M186.3 618.7h.7M205.2 618.7h.7M203.2 618.8h.7M197.3 615.1h.7M211.4 620.0h.7M206.9 622.7h.7M210.2 621.8h.7M201.2 615.5h.7M197.2 618.7h.7M208.4 620.8h.7M203.4 615.0h.7M202.8 621.6h.7M198.0 619.8h.7M201.0 616.6h.7M189.3 619.1h.7M202.4 613.5h.7M190.0 622.0h.7M207.5 619.0h.7M209.0 619.0h.7M196.1 619.1h.7M210.1 616.3h.7M202.3 618.4h.7M208.9 616.7h.7M202.7 616.3h.7M201.6 622.8h.7M207.6 614.6h.7M211.2 619.1h.7M192.0 617.4h.7M196.6 622.8h.7M202.0 621.6h.7M201.4 620.6h.7M206.9 615.8h.7M204.6 614.7h.7M196.9 610.5h.7M188.2 616.2h.7M208.5 620.3h.7M201.8 622.8h.7M197.6 617.8h.7M191.6 622.8h.7M198.3 621.8h.7M193.8 619.5h.7M190.7 615.0h.7M209.3 618.8h.7M196.5 619.1h.7M200.1 621.7h.7M196.1 617.4h.7M194.2 621.1h.7M197.6 622.4h.7M202.7 622.8h.7M207.7 616.4h.7M200.6 615.9h.7M208.9 620.3h.7M200.5 621.0h.7M198.2 620.2h.7M201.5 617.1h.7M216.9 617.7h.7M207.8 619.7h.7M212.9 618.5h.7M199.6 619.9h.7M201.0 620.3h.7M202.1 612.7h.7M201.3 621.5h.7M187.3 619.3h.7M193.5 621.6h.7M201.9 617.7h.7M204.2 614.9h.7M193.9 621.2h.7M194.4 622.4h.7M196.0 621.9h.7M205.8 622.6h.7M216.8 622.8h.7M206.8 622.8h.7M197.3 622.8h.7M200.8 617.3h.7M197.8 621.2h.7M193.6 621.9h.7M194.5 621.3h.7M201.2 615.9h.7M195.6 622.8h.7M198.0 616.1h.7M193.2 617.7h.7M192.3 622.8h.7M202.3 622.8h.7M197.7 622.8h.7M193.0 617.7h.7M197.0 621.5h.7M204.5 622.2h.7M192.2 620.5h.7M200.0 618.5h.7M199.2 614.9h.7M204.6 619.5h.7M217.2 622.8h.7M202.3 621.8h.7M216.1 618.0h.7M206.5 617.7h.7M211.2 621.0h.7M207.1 622.8h.7M204.6 615.1h.7M206.8 617.0h.7M186.9 618.8h.7M198.0 613.8h.7M204.4 616.8h.7M210.0 617.2h.7M190.6 621.9h.7M185.3 614.8h.7M199.1 622.8h.7M204.1 620.6h.7M198.3 614.5h.7M185.6 622.8h.7M199.8 619.9h.7M208.7 620.3h.7M204.3 613.1h.7M190.6 622.8h.7M195.3 619.8h.7M192.5 618.2h.7M194.8 615.1h.7M204.1 616.7h.7M202.0 618.4h.7M188.6 619.9h.7M187.5 614.5h.7M192.2 622.3h.7M197.1 611.4h.7M192.4 613.3h.7M201.4 610.1h.7M198.8 621.0h.7M200.3 621.0h.7M195.3 616.6h.7M197.1 616.0h.7M204.8 615.9h.7M211.9 615.4h.7M193.6 614.4h.7M184.4 614.7h.7M209.3 622.8h.7M209.7 622.8h.7M207.8 620.5h.7M198.4 619.7h.7M196.4 616.5h.7M200.1 619.2h.7M200.8 620.4h.7M193.1 617.0h.7M206.6 622.8h.7M207.4 614.7h.7M201.7 614.0h.7M184.7 614.3h.7M195.1 618.0h.7M193.8 610.5h.7M197.5 616.7h.7M189.9 620.1h.7M203.6 619.5h.7M195.0 613.9h.7M189.3 618.8h.7M199.2 620.3h.7M205.2 618.2h.7M199.2 616.8h.7M199.9 617.2h.7M209.8 618.2h.7M201.0 621.1h.7M210.8 615.7h.7M204.4 618.0h.7M194.5 618.8h.7M202.7 622.8h.7M193.6 619.4h.7M214.5 617.8h.7M190.0 614.6h.7M207.0 616.6h.7M196.5 619.5h.7M216.4 615.1h.7M233.9 622.8h.7M189.0 620.5h.7M193.9 621.4h.7M205.8 614.4h.7M190.2 617.0h.7M206.8 618.2h.7M210.4 615.0h.7M194.7 618.5h.7M202.5 622.8h.7M198.9 615.5h.7M203.4 618.9h.7M219.4 616.8h.7M207.5 622.1h.7M209.5 620.6h.7M199.3 620.5h.7M191.3 617.0h.7M191.6 616.1h.7M194.7 614.6h.7M203.0 614.9h.7M192.5 617.0h.7M206.0 618.0h.7M199.8 621.1h.7M184.4 617.2h.7M191.3 622.7h.7M203.3 622.8h.7M195.0 616.6h.7M200.8 619.8h.7M194.9 618.4h.7M189.3 621.0h.7M206.5 622.2h.7M199.7 620.3h.7M191.5 622.8h.7M194.2 621.7h.7M193.0 619.2h.7M202.9 616.8h.7M203.3 622.8h.7M210.8 617.7h.7M206.0 622.8h.7M208.6 610.9h.7M204.5 615.0h.7M196.4 618.4h.7M200.2 616.6h.7M201.8 618.0h.7M194.0 622.8h.7M200.6 610.1h.7M193.4 617.1h.7M210.5 621.2h.7M188.6 617.7h.7M200.4 622.0h.7M211.8 616.5h.7M200.6 622.8h.7M209.9 614.9h.7M206.8 613.2h.7M193.1 622.5h.7M207.1 617.4h.7M200.4 620.7h.7M208.3 618.0h.7M207.1 622.8h.7M201.1 617.5h.7M208.2 622.8h.7M199.2 621.3h.7M200.8 619.4h.7M203.8 616.1h.7M202.7 619.2h.7M207.2 614.0h.7M201.2 621.8h.7M213.8 615.7h.7M216.9 620.4h.7M197.9 619.5h.7M200.1 622.8h.7M207.0 622.8h.7M184.4 619.1h.7M192.8 618.0h.7M192.2 622.8h.7M185.6 622.8h.7M198.6 611.3h.7M205.7 621.2h.7M210.8 618.1h.7M186.9 622.8h.7M189.5 621.0h.7M201.0 621.1h.7M196.7 622.3h.7M202.0 616.1h.7M192.8 614.5h.7M194.5 620.0h.7M213.2 616.8h.7M201.1 622.8h.7M201.4 620.2h.7M199.1 615.0h.7M196.7 612.5h.7M201.1 618.3h.7M198.5 618.6h.7M210.8 618.1h.7M193.3 621.7h.7M209.5 617.0h.7M194.4 619.4h.7M201.5 616.9h.7M193.6 618.6h.7M191.1 621.7h.7M199.1 614.1h.7M200.1 613.0h.7M203.6 614.3h.7M199.6 622.8h.7M184.5 620.5h.7M214.0 619.5h.7M197.0 616.7h.7M198.0 620.3h.7M202.2 617.5h.7M196.4 621.8h.7M212.7 622.0h.7M194.0 619.6h.7M199.7 617.9h.7M212.4 614.3h.7M200.5 618.5h.7M208.0 619.4h.7M202.0 622.8h.7M203.8 619.2h.7M190.1 618.1h.7M217.3 617.7h.7M194.8 614.3h.7M203.4 618.2h.7M212.1 615.7h.7M216.4 621.8h.7M197.5 619.2h.7M202.3 622.8h.7M202.9 622.8h.7M196.6 619.8h.7M202.7 617.8h.7M195.1 617.7h.7M203.0 619.3h.7M201.0 620.8h.7M214.3 614.0h.7M202.7 614.2h.7M194.2 620.8h.7M198.3 617.3h.7M198.3 622.2h.7M189.6 622.8h.7M207.7 617.2h.7M190.3 612.3h.7M197.2 620.6h.7M199.5 618.8h.7M197.9 619.1h.7M206.5 615.7h.7M195.7 619.5h.7M195.1 620.5h.7M200.0 620.1h.7M205.2 622.2h.7M203.7 616.3h.7M198.4 620.1h.7M205.3 620.3h.7M198.3 618.2h.7M184.4 616.4h.7M202.6 616.9h.7M190.5 620.4h.7M204.0 617.0h.7M196.4 620.6h.7M212.1 618.0h.7M210.0 622.8h.7M203.9 620.9h.7M197.0 614.4h.7M192.9 622.3h.7M195.6 619.8h.7M201.0 617.4h.7M210.0 617.3h.7M213.9 615.1h.7M204.8 619.5h.7M211.0 620.0h.7M208.1 618.8h.7M196.6 616.6h.7M205.9 617.8h.7M208.9 618.5h.7M195.3 618.6h.7M214.6 622.4h.7M187.3 618.9h.7M193.2 614.1h.7M202.0 622.2h.7M200.3 622.3h.7M204.4 615.6h.7M209.8 615.2h.7M200.7 614.7h.7M204.4 622.8h.7M210.9 622.1h.7M196.4 622.8h.7M194.6 622.8h.7M191.6 621.9h.7M191.9 620.3h.7M206.7 620.0h.7M204.0 615.0h.7M196.3 613.7h.7M200.4 619.1h.7M203.4 614.1h.7M191.8 615.6h.7M197.2 618.6h.7M193.3 622.8h.7M209.5 616.2h.7M192.9 622.2h.7M191.8 619.1h.7M215.9 619.4h.7M188.2 616.3h.7M194.0 622.8h.7M203.6 619.0h.7M202.0 616.4h.7M207.9 622.8h.7M238.9 583.2h.7M237.9 583.8h.7M237.5 583.0h.7M242.2 580.8h.7M235.9 584.3h.7M239.4 583.6h.7M237.2 583.4h.7M237.9 583.8h.7M240.0 583.3h.7M238.5 582.7h.7M241.2 582.2h.7M242.2 582.0h.7M235.0 582.5h.7M243.5 581.0h.7M238.0 582.5h.7M237.5 583.6h.7M240.8 582.4h.7M237.7 584.3h.7M241.5 582.3h.7M239.8 583.4h.7M237.2 583.3h.7M234.0 582.9h.7M239.2 581.9h.7M242.0 582.7h.7M240.9 583.3h.7M236.6 582.3h.7M238.0 583.7h.7M240.6 582.5h.7M242.2 583.2h.7M238.8 583.8h.7M239.4 583.0h.7M237.0 584.7h.7M235.5 582.8h.7M238.5 583.8h.7M240.0 583.5h.7M241.7 581.6h.7M239.5 583.2h.7M234.3 583.4h.7M244.8 581.4h.7M237.7 582.5h.7M238.5 583.9h.7M238.9 582.4h.7M234.2 583.0h.7M243.7 581.8h.7M238.2 584.1h.7M240.8 582.7h.7M242.4 580.8h.7M242.7 581.9h.7M234.1 582.8h.7M238.1 583.4h.7M242.2 581.8h.7M236.5 583.6h.7M238.6 583.0h.7M235.9 582.3h.7M238.8 582.3h.7M241.8 580.5h.7M241.4 582.9h.7M238.0 582.3h.7M244.1 582.9h.7M244.6 582.1h.7M238.9 583.2h.7M241.0 582.6h.7M239.4 583.5h.7M243.2 581.6h.7M238.9 581.1h.7M240.9 581.3h.7M238.6 582.8h.7M238.8 582.2h.7M240.4 583.9h.7M240.9 582.6h.7M239.9 581.9h.7M238.5 582.4h.7M239.4 582.8h.7M238.0 583.1h.7M238.4 582.3h.7M233.0 583.6h.7M239.3 583.6h.7M241.5 582.3h.7M240.6 581.4h.7M240.2 583.9h.7M235.0 583.7h.7M235.7 581.8h.7M239.4 584.2h.7M233.5 584.4h.7M232.7 583.8h.7M232.9 583.4h.7M237.8 582.2h.7M236.2 583.8h.7M242.6 583.4h.7M240.9 581.2h.7M236.7 583.4h.7M243.6 580.6h.7M243.8 581.9h.7M238.4 583.1h.7M238.2 582.3h.7M241.6 581.9h.7M237.4 582.5h.7M240.7 582.3h.7M242.8 582.3h.7M239.5 581.8h.7M237.2 582.5h.7M241.1 581.1h.7M243.0 582.4h.7M244.3 582.1h.7M236.2 583.6h.7M238.6 583.6h.7M242.0 581.8h.7M241.3 583.4h.7M244.3 581.3h.7M244.7 578.1h.7M244.3 577.2h.7M244.2 576.0h.7M243.8 582.8h.7M243.9 578.8h.7M244.3 578.6h.7M244.3 577.9h.7M244.0 577.7h.7M244.4 580.3h.7M243.2 578.3h.7M244.3 576.6h.7M244.6 578.2h.7M244.7 579.9h.7M243.9 576.1h.7M243.5 578.8h.7M243.6 581.1h.7M245.1 582.2h.7M245.0 579.6h.7M243.7 582.0h.7M244.2 577.5h.7" stroke="#000" stroke-width=".7" opacity="0.6" fill="none"/>
</g></g>
<line x1="223.5" y1="573.8" x2="223.5" y2="623.4" stroke="#999" stroke-width="0.8"/>
<line x1="183.8" y1="589.5" x2="246.6" y2="589.5" stroke="#999" stroke-width="0.8"/>
<rect x="183.8" y="573.8" width="62.8" height="49.6" fill="none" stroke="#1a1a1a" stroke-width="1"/>
<text x="186.2" y="630" font-size="3.9" text-anchor="middle" fill="#222" stroke="#222" stroke-width=".25">10<tspan dy="-1.4" font-size="2.7">0</tspan></text>
<text font-size="3.7" text-anchor="middle" fill="#222" stroke="#222" stroke-width=".25" transform="translate(182 621.6) rotate(-90)">10<tspan dy="-1.3" font-size="2.6">0</tspan></text>
<text x="200.55" y="630" font-size="3.9" text-anchor="middle" fill="#222" stroke="#222" stroke-width=".25">10<tspan dy="-1.4" font-size="2.7">1</tspan></text>
<text font-size="3.7" text-anchor="middle" fill="#222" stroke="#222" stroke-width=".25" transform="translate(182 609.58) rotate(-90)">10<tspan dy="-1.3" font-size="2.6">1</tspan></text>
<text x="214.9" y="630" font-size="3.9" text-anchor="middle" fill="#222" stroke="#222" stroke-width=".25">10<tspan dy="-1.4" font-size="2.7">2</tspan></text>
<text font-size="3.7" text-anchor="middle" fill="#222" stroke="#222" stroke-width=".25" transform="translate(182 597.55) rotate(-90)">10<tspan dy="-1.3" font-size="2.6">2</tspan></text>
<text x="229.25" y="630" font-size="3.9" text-anchor="middle" fill="#222" stroke="#222" stroke-width=".25">10<tspan dy="-1.4" font-size="2.7">3</tspan></text>
<text font-size="3.7" text-anchor="middle" fill="#222" stroke="#222" stroke-width=".25" transform="translate(182 585.52) rotate(-90)">10<tspan dy="-1.3" font-size="2.6">3</tspan></text>
<text x="243.6" y="630" font-size="3.9" text-anchor="middle" fill="#222" stroke="#222" stroke-width=".25">10<tspan dy="-1.4" font-size="2.7">4</tspan></text>
<text font-size="3.7" text-anchor="middle" fill="#222" stroke="#222" stroke-width=".25" transform="translate(182 573.5) rotate(-90)">10<tspan dy="-1.3" font-size="2.6">4</tspan></text>
<clipPath id="c2"><rect x="255.8" y="573.8" width="62.8" height="49.6"/></clipPath>
<g clip-path="url(#c2)"><g filter="url(#f0)">
<ellipse cx="268.36" cy="618.44" rx="11" ry="4.8" fill="#000" opacity="0.95" transform="rotate(0 268.36 618.44)" filter="url(#f2)"/>
<path d="M279.8 609.6h.7M270.4 614.2h.7M264.5 620.9h.7M284.1 609.4h.7M275.7 608.6h.7M265.4 609.5h.7M274.0 616.3h.7M263.0 609.9h.7M262.7 609.9h.7M293.7 622.3h.7M275.8 621.6h.7M269.6 616.5h.7M271.4 612.3h.7M282.4 622.8h.7M262.1 622.8h.7M258.8 615.4h.7M273.3 615.5h.7M256.4 621.8h.7M256.4 620.3h.7M267.3 614.5h.7M280.6 609.9h.7M272.1 613.9h.7M261.2 605.6h.7M278.0 621.1h.7M274.8 609.4h.7M265.3 610.9h.7M270.2 609.1h.7M276.4 620.1h.7M276.2 608.6h.7M256.4 622.8h.7M280.7 620.6h.7M256.4 619.3h.7M269.5 618.2h.7M270.0 614.9h.7M266.2 622.8h.7M272.3 617.8h.7M272.7 615.7h.7M268.1 622.8h.7M278.9 606.8h.7M280.8 613.9h.7M282.3 616.3h.7M260.0 622.8h.7M277.0 621.7h.7M263.4 615.5h.7M284.9 606.1h.7M256.4 620.6h.7M266.0 617.0h.7M273.9 613.3h.7M273.1 622.7h.7M256.4 610.5h.7M266.7 613.4h.7M275.5 611.4h.7M273.6 609.5h.7M262.5 615.1h.7M281.0 619.3h.7M264.3 621.9h.7M290.1 615.7h.7M285.2 616.3h.7M276.8 612.0h.7M277.5 617.9h.7M267.1 606.8h.7M291.1 609.7h.7M267.7 614.7h.7M297.3 615.6h.7M275.6 612.9h.7M270.4 617.4h.7M284.8 615.8h.7M272.7 614.6h.7M259.4 618.1h.7M286.4 607.7h.7M256.4 620.7h.7M296.5 617.6h.7M264.2 615.9h.7M267.5 621.6h.7M265.9 616.3h.7M277.5 613.4h.7M258.9 622.8h.7M284.0 614.8h.7M275.7 613.5h.7M290.9 606.8h.7M267.5 612.8h.7M279.4 606.9h.7M283.0 601.6h.7M301.1 609.4h.7M263.3 614.7h.7M265.9 617.5h.7M287.6 617.1h.7M256.4 622.8h.7M264.2 622.8h.7M281.4 611.6h.7M276.8 609.1h.7M270.8 604.8h.7M276.7 610.2h.7M265.6 614.8h.7M272.2 622.7h.7M278.6 620.2h.7M287.8 622.7h.7M256.4 612.7h.7M282.5 616.3h.7M256.4 622.8h.7M275.9 604.6h.7M265.8 607.7h.7M256.4 610.5h.7M283.6 618.2h.7M290.9 612.5h.7M265.9 619.4h.7M285.8 616.9h.7M266.5 618.1h.7M274.1 622.8h.7M289.9 602.8h.7M273.0 613.3h.7M273.5 621.9h.7M279.8 620.6h.7M257.4 622.0h.7M280.0 617.4h.7M284.2 610.1h.7M285.2 605.9h.7M267.9 612.7h.7M282.4 612.3h.7M268.0 613.8h.7M276.2 611.3h.7M274.1 618.9h.7M257.6 619.2h.7M296.0 610.8h.7M275.8 619.9h.7M278.8 614.4h.7M277.3 616.7h.7M263.2 622.6h.7M268.5 622.2h.7M261.7 616.3h.7M275.3 618.4h.7M271.9 610.0h.7M259.9 614.7h.7M256.4 611.4h.7M278.5 603.0h.7M296.0 611.1h.7M282.0 611.9h.7M256.4 614.6h.7M283.3 609.5h.7M279.2 621.4h.7M270.5 622.8h.7M278.2 619.3h.7M266.8 611.1h.7M277.4 622.8h.7M287.9 621.6h.7M261.2 622.8h.7M290.5 620.4h.7M278.0 611.8h.7M256.4 612.7h.7M264.5 608.3h.7M268.1 608.7h.7M301.4 622.8h.7M260.9 621.7h.7M284.3 604.8h.7M275.6 613.0h.7M284.8 619.4h.7M267.0 616.4h.7M291.3 617.0h.7M283.1 618.6h.7M260.5 617.7h.7M276.5 615.0h.7M265.9 620.4h.7M287.0 621.7h.7M268.2 622.8h.7M274.2 608.7h.7M270.7 620.4h.7M270.2 616.3h.7M269.7 622.1h.7M276.9 607.0h.7M277.8 619.1h.7M290.2 612.9h.7M279.6 615.8h.7M281.1 622.0h.7M274.3 616.9h.7M271.7 615.5h.7M308.8 615.3h.7M272.1 622.8h.7M276.1 618.6h.7M286.4 614.4h.7M272.9 615.9h.7M297.2 605.8h.7M278.3 609.1h.7M273.3 622.8h.7M257.2 616.0h.7M279.2 618.4h.7M262.2 613.3h.7M270.4 622.8h.7M283.2 613.6h.7M258.3 610.1h.7M268.2 620.1h.7M265.9 619.4h.7M292.8 614.5h.7M283.8 618.2h.7M287.6 606.5h.7M282.7 604.6h.7M279.2 622.8h.7M260.0 622.1h.7M283.9 613.5h.7M277.5 614.1h.7M270.6 617.1h.7M267.7 617.1h.7M281.1 605.5h.7M291.4 613.7h.7M269.5 619.2h.7M256.4 614.7h.7M284.6 611.8h.7M274.3 612.0h.7M284.6 606.8h.7M256.4 605.8h.7M265.2 609.7h.7M260.1 611.3h.7M305.2 604.7h.7M273.3 607.0h.7M273.5 615.2h.7M268.8 617.7h.7M276.9 619.4h.7M288.3 611.4h.7M260.8 622.5h.7M274.1 617.8h.7M293.4 618.4h.7M274.7 616.6h.7M272.0 612.8h.7M282.1 617.6h.7M267.8 614.9h.7M274.4 618.8h.7M256.4 617.4h.7M268.7 614.0h.7M267.0 617.6h.7M273.3 622.8h.7M274.7 614.2h.7M273.3 615.6h.7M293.6 622.8h.7M263.3 621.7h.7M265.6 620.3h.7M259.2 620.6h.7M281.0 618.7h.7M281.5 609.9h.7M284.1 612.8h.7M256.4 620.7h.7M256.4 622.8h.7M284.8 622.8h.7M283.0 617.9h.7M281.1 607.0h.7M274.8 621.6h.7M283.2 621.7h.7M275.0 616.2h.7M289.2 622.8h.7M275.1 605.2h.7M270.8 605.8h.7M287.3 622.8h.7M280.7 612.8h.7M266.5 618.6h.7M256.4 610.4h.7M280.9 616.6h.7M283.3 606.0h.7M273.3 616.5h.7M282.1 615.5h.7M294.8 606.5h.7M277.5 617.7h.7M256.4 622.8h.7M300.5 611.7h.7M291.3 622.8h.7M258.8 613.5h.7M289.5 621.5h.7M257.2 622.8h.7M278.1 622.8h.7M295.7 618.5h.7M278.1 610.7h.7M273.6 616.1h.7M267.8 606.1h.7M288.4 614.5h.7M269.0 617.2h.7M256.4 622.8h.7M267.1 609.7h.7M280.9 620.5h.7M257.0 615.4h.7M278.6 610.7h.7M274.8 613.9h.7M273.7 605.6h.7M275.5 621.5h.7M284.6 609.8h.7M269.6 609.2h.7M282.3 618.8h.7M262.8 608.8h.7M287.1 620.5h.7M259.0 607.8h.7M306.0 603.9h.7M274.2 618.0h.7M283.4 605.7h.7M279.7 616.1h.7M258.8 622.8h.7M263.0 622.8h.7M280.4 617.4h.7M295.1 606.3h.7M273.2 604.8h.7M286.1 615.4h.7M276.1 619.5h.7M268.6 617.2h.7M270.4 618.9h.7M272.2 615.8h.7M291.0 614.1h.7M269.6 613.4h.7M278.6 621.6h.7M271.6 617.2h.7M265.1 613.0h.7M279.5 618.3h.7M288.3 611.4h.7M275.1 614.4h.7M284.5 610.2h.7M266.0 615.5h.7M273.9 617.8h.7M269.8 610.5h.7M273.3 601.7h.7M266.8 612.1h.7M288.6 615.6h.7M275.0 609.6h.7M297.0 612.6h.7M272.6 614.3h.7M283.9 616.5h.7M284.9 611.3h.7M276.5 621.0h.7M285.9 622.8h.7M264.9 622.8h.7M270.6 617.9h.7M271.3 620.4h.7M285.6 622.8h.7M256.4 617.3h.7M289.0 611.2h.7M262.2 622.8h.7M281.5 613.2h.7M277.1 622.8h.7M256.4 616.8h.7M295.4 607.4h.7M280.9 612.2h.7M272.8 617.8h.7M276.4 620.4h.7M280.4 622.2h.7M272.2 606.5h.7M293.7 617.5h.7M284.7 610.8h.7M286.0 611.5h.7M270.6 610.0h.7M289.0 620.3h.7M276.0 617.5h.7M262.3 617.6h.7M272.8 622.8h.7M298.1 611.3h.7M272.9 615.0h.7M264.7 622.4h.7M295.7 614.7h.7M256.4 617.7h.7M286.4 618.2h.7M266.3 610.0h.7M286.9 620.9h.7M269.8 619.1h.7M273.8 622.8h.7M273.5 622.3h.7M283.3 613.4h.7M269.2 618.7h.7M268.2 612.0h.7M280.0 611.5h.7M256.4 616.6h.7M274.0 618.6h.7M256.9 612.7h.7M293.2 612.7h.7M273.6 620.3h.7M284.7 613.8h.7M265.1 610.4h.7M280.7 613.3h.7M274.3 617.6h.7M265.7 620.6h.7M267.6 612.3h.7M261.9 609.9h.7M288.5 617.2h.7M267.2 622.8h.7M284.3 610.3h.7M293.9 611.0h.7M280.0 616.9h.7M259.5 615.0h.7M270.8 617.0h.7M265.1 614.9h.7M256.4 622.8h.7M287.1 610.5h.7M263.1 616.7h.7M278.2 609.6h.7M286.7 608.2h.7M266.2 606.6h.7M274.3 612.2h.7M280.5 606.6h.7M289.1 622.8h.7M258.0 619.7h.7M264.6 612.3h.7M291.6 605.6h.7M262.1 615.3h.7M285.3 610.0h.7M283.3 599.3h.7M284.1 611.9h.7M281.3 613.0h.7M270.2 616.8h.7M264.9 622.8h.7M276.6 620.7h.7M268.2 620.9h.7M263.9 622.8h.7M281.1 607.2h.7M277.9 619.4h.7M287.8 611.6h.7M258.5 619.3h.7M276.2 620.7h.7M282.5 622.8h.7M274.2 612.0h.7M256.4 616.8h.7M285.8 618.9h.7M261.3 619.5h.7M274.8 617.1h.7M272.0 622.8h.7M256.4 622.8h.7M284.9 609.9h.7M283.3 615.7h.7M268.1 620.1h.7M277.9 622.8h.7M278.4 613.0h.7M266.5 612.4h.7M285.1 622.8h.7M269.9 617.6h.7M256.4 617.5h.7M285.4 611.2h.7M271.5 608.5h.7M275.2 614.2h.7M279.2 608.9h.7M256.4 614.6h.7M277.3 607.6h.7M277.2 616.1h.7M266.5 617.2h.7M267.3 614.4h.7M275.9 620.0h.7M282.7 614.9h.7M268.7 609.4h.7M279.4 612.7h.7M264.6 610.6h.7M282.6 621.3h.7M270.0 609.8h.7M286.0 614.6h.7M277.0 614.5h.7M256.4 617.0h.7M292.2 616.0h.7M275.0 610.5h.7M276.6 609.8h.7M275.3 617.2h.7M266.6 617.9h.7M260.5 622.8h.7M291.8 610.7h.7M288.9 605.7h.7M283.5 604.0h.7M286.8 615.3h.7M285.3 609.1h.7M296.2 591.2h.7M272.9 611.4h.7M265.5 613.7h.7M279.5 601.9h.7M293.2 609.9h.7M282.4 607.9h.7M299.6 599.8h.7M281.0 609.5h.7M277.5 608.6h.7M287.3 598.5h.7M274.1 605.5h.7M309.3 578.6h.7M288.5 606.2h.7M270.0 614.1h.7M305.1 589.0h.7M291.1 603.9h.7M266.3 600.5h.7M277.3 599.3h.7M287.8 606.3h.7M278.0 611.4h.7M290.4 606.9h.7M286.9 607.9h.7M281.3 616.2h.7M299.5 609.3h.7M274.0 607.3h.7M269.8 611.8h.7M302.3 597.3h.7M290.6 595.0h.7M268.3 622.8h.7M279.3 603.8h.7M287.8 616.6h.7M273.7 615.1h.7M286.0 603.2h.7M274.2 611.1h.7M289.9 612.7h.7M265.8 602.5h.7M294.4 604.2h.7M295.6 606.3h.7M301.5 591.1h.7M284.1 607.2h.7M271.5 608.7h.7M282.8 596.7h.7M283.3 596.2h.7M302.1 594.6h.7M286.1 598.7h.7M292.1 603.4h.7M305.4 583.0h.7M296.9 609.5h.7M277.1 614.6h.7M281.8 622.2h.7M290.4 597.7h.7M281.5 610.1h.7M294.5 593.2h.7M305.9 594.5h.7M280.2 603.8h.7M306.0 594.1h.7M284.8 609.7h.7M293.4 591.3h.7M273.1 606.6h.7M289.6 593.2h.7M282.6 609.6h.7M290.2 599.3h.7M274.5 608.3h.7M294.1 603.1h.7M286.7 596.5h.7M287.0 605.3h.7M277.2 613.4h.7M284.3 616.4h.7M294.7 596.6h.7M289.6 602.5h.7M307.5 606.3h.7M304.3 597.8h.7M281.5 616.6h.7M279.2 612.7h.7M298.1 605.3h.7M297.1 603.3h.7M281.5 597.8h.7M288.4 614.6h.7M286.3 603.1h.7M285.2 610.8h.7M297.1 606.9h.7M289.1 611.4h.7M294.9 604.1h.7M290.9 603.7h.7M289.9 611.3h.7M301.7 600.3h.7M291.0 614.1h.7M291.3 610.1h.7M272.6 607.5h.7M293.5 599.0h.7M286.8 601.3h.7M286.2 604.8h.7M279.0 614.9h.7M295.8 621.7h.7M278.8 619.1h.7M313.4 601.1h.7M266.0 614.9h.7M275.4 610.0h.7M280.1 596.9h.7M283.6 601.1h.7M285.3 606.9h.7M287.5 606.1h.7M294.8 587.1h.7M288.3 607.0h.7M285.0 598.9h.7M294.0 600.6h.7M262.3 603.6h.7M299.6 593.1h.7M285.0 595.9h.7M303.1 593.9h.7M291.0 604.8h.7M307.8 594.5h.7M278.8 602.7h.7M293.3 601.6h.7M294.4 598.3h.7M285.7 603.9h.7M292.0 600.6h.7M291.4 601.5h.7M296.2 607.4h.7M299.8 588.3h.7M288.0 600.1h.7M303.2 590.5h.7M273.2 612.2h.7M268.6 620.3h.7M305.8 601.9h.7M273.6 618.2h.7M283.4 592.0h.7M285.1 607.7h.7M267.1 601.9h.7M283.9 604.1h.7M297.9 599.3h.7M280.6 614.3h.7M302.6 581.6h.7M307.6 583.5h.7M315.6 582.0h.7M312.1 582.3h.7M300.7 581.4h.7M309.0 581.7h.7M300.8 585.9h.7M302.5 583.1h.7M312.6 581.1h.7M313.6 581.8h.7M312.5 579.7h.7M304.0 581.2h.7M296.6 585.0h.7M302.2 584.4h.7M307.5 584.2h.7M307.6 582.2h.7M301.9 582.8h.7M305.0 581.8h.7M311.8 582.5h.7M293.3 585.5h.7M308.4 585.1h.7M309.3 581.5h.7M296.3 583.6h.7M312.9 581.2h.7M309.5 580.7h.7M314.4 578.9h.7M300.7 583.5h.7M306.6 583.7h.7M306.9 581.5h.7M308.9 584.7h.7M302.1 586.9h.7M306.8 582.1h.7M311.6 579.8h.7M299.2 583.6h.7M307.0 580.8h.7M314.6 581.0h.7M295.2 582.9h.7M305.1 585.3h.7M307.6 583.3h.7M306.0 580.3h.7M305.9 583.5h.7M309.2 582.1h.7M306.6 580.5h.7M307.6 581.2h.7M305.6 582.1h.7M298.8 584.7h.7M313.2 578.9h.7M297.9 582.6h.7M312.8 582.3h.7M311.0 580.4h.7M314.4 578.0h.7M306.2 581.6h.7M299.6 582.9h.7M306.4 582.5h.7M306.9 580.7h.7M312.7 579.8h.7M305.1 582.5h.7M303.4 583.4h.7M296.1 584.5h.7M315.2 581.3h.7M305.9 581.6h.7M306.4 583.7h.7M302.2 581.0h.7M301.6 585.0h.7M298.6 586.3h.7M301.1 585.2h.7M304.9 580.9h.7M312.0 581.8h.7M311.0 582.0h.7M287.5 584.4h.7M300.6 584.7h.7M313.4 580.8h.7M312.3 579.6h.7M311.7 581.4h.7M312.7 578.1h.7M305.1 583.3h.7M312.1 579.4h.7M310.5 582.4h.7M307.8 584.2h.7M313.8 579.0h.7M304.8 581.5h.7M304.1 582.5h.7M307.5 582.3h.7M314.0 582.2h.7M308.3 581.9h.7M300.0 582.0h.7M311.6 579.1h.7M309.6 583.2h.7M312.2 580.7h.7M305.1 582.2h.7M314.2 582.6h.7M314.4 580.3h.7M290.7 581.2h.7M291.0 586.5h.7M300.0 582.6h.7M302.9 582.9h.7M300.6 582.4h.7M311.8 578.4h.7M295.7 585.2h.7M302.0 583.7h.7M305.0 581.4h.7M301.9 584.0h.7M315.0 578.4h.7M300.5 581.1h.7M311.6 581.4h.7M311.0 582.4h.7M298.2 584.0h.7M295.3 584.8h.7M307.1 583.6h.7M301.4 586.2h.7M297.8 583.8h.7M301.4 582.8h.7M301.7 583.8h.7M293.7 581.7h.7M304.2 581.1h.7M300.9 585.0h.7M308.4 582.5h.7M305.5 581.3h.7M310.5 580.2h.7M308.2 584.9h.7M309.4 579.2h.7M308.8 580.1h.7M309.3 600.0h.7M312.0 601.8h.7M299.7 610.6h.7M309.8 599.5h.7M307.5 604.0h.7M303.7 606.1h.7M308.5 600.4h.7M306.2 601.5h.7M304.0 604.0h.7M303.4 603.9h.7M312.9 599.8h.7M311.2 601.5h.7M313.9 594.2h.7M308.0 601.7h.7M308.4 603.1h.7M303.9 606.7h.7M311.6 598.1h.7M311.3 596.9h.7M311.1 601.3h.7M304.7 606.6h.7M301.3 612.7h.7M306.9 600.6h.7M316.3 593.7h.7M311.4 598.3h.7M303.6 604.8h.7M307.2 601.9h.7M301.2 610.0h.7M312.1 598.8h.7M307.1 601.4h.7M312.2 595.2h.7M309.2 602.5h.7M312.5 599.4h.7M304.2 608.0h.7M308.7 603.4h.7M303.8 604.5h.7M305.0 608.1h.7M307.6 601.4h.7M307.1 605.5h.7M318.0 593.4h.7M314.5 598.7h.7M313.9 595.3h.7M309.8 601.9h.7M312.8 594.6h.7M308.2 601.7h.7M304.9 604.0h.7M306.4 602.7h.7M300.1 609.2h.7M312.0 597.9h.7M315.3 596.8h.7M312.6 597.3h.7M308.1 601.2h.7M315.5 598.7h.7M308.6 601.9h.7M311.3 598.9h.7M306.2 603.5h.7M312.3 599.5h.7M309.1 601.4h.7M306.0 604.3h.7M316.5 594.8h.7M309.9 599.2h.7M313.3 597.7h.7M302.7 606.0h.7M300.1 609.5h.7M311.4 597.5h.7M308.9 601.9h.7M305.3 603.0h.7M303.2 609.8h.7M306.5 604.3h.7M310.5 600.4h.7M309.1 602.4h.7M311.4 597.0h.7M300.6 607.4h.7M309.4 600.7h.7M311.0 598.3h.7M308.5 600.8h.7M300.9 608.5h.7M310.0 602.7h.7M305.5 603.6h.7M307.6 604.9h.7M307.9 603.6h.7M307.3 600.3h.7M316.1 594.2h.7M311.2 601.3h.7M310.3 598.9h.7M305.0 603.8h.7M305.7 604.3h.7M309.2 601.0h.7M309.0 600.4h.7M305.7 604.1h.7M309.9 598.3h.7M305.4 605.8h.7M307.9 605.2h.7M307.8 598.3h.7M306.2 604.8h.7M306.7 603.8h.7M302.8 603.2h.7M303.5 605.3h.7M311.8 598.2h.7M315.6 598.4h.7M310.4 599.0h.7M314.0 589.8h.7M314.8 590.5h.7M313.9 594.0h.7M312.7 590.6h.7M315.4 585.4h.7M311.0 595.3h.7M314.7 592.4h.7M316.7 589.6h.7M309.9 593.9h.7M312.4 592.2h.7M316.3 587.6h.7M312.0 590.0h.7M312.2 587.9h.7M312.6 582.9h.7M315.0 589.1h.7M315.1 588.7h.7M314.2 596.6h.7M313.6 590.8h.7M311.5 592.1h.7M314.5 591.6h.7M313.6 591.0h.7M314.1 589.2h.7M314.9 588.5h.7M312.6 591.1h.7M312.6 593.1h.7M312.2 590.0h.7M309.8 597.5h.7M313.2 591.9h.7M313.9 586.7h.7" stroke="#000" stroke-width=".8" opacity="0.4" fill="none" filter="url(#f05)"/>
<path d="M263.7 622.8h.7M257.9 619.2h.7M277.5 618.3h.7M264.8 622.8h.7M271.1 620.9h.7M286.7 622.8h.7M258.9 622.8h.7M270.6 616.1h.7M270.9 613.8h.7M274.4 620.6h.7M281.9 621.4h.7M270.8 618.2h.7M277.8 618.5h.7M271.7 622.8h.7M268.6 617.8h.7M280.6 622.8h.7M260.1 615.1h.7M286.7 617.8h.7M256.4 622.8h.7M266.3 621.8h.7M272.9 614.3h.7M275.1 622.0h.7M263.9 619.1h.7M272.3 616.2h.7M266.2 614.4h.7M274.6 619.5h.7M270.7 612.3h.7M274.1 619.5h.7M266.7 614.7h.7M272.1 617.8h.7M263.6 619.3h.7M270.4 611.6h.7M259.4 617.9h.7M262.1 622.8h.7M286.5 622.8h.7M278.4 614.4h.7M272.7 618.1h.7M268.8 616.4h.7M272.1 616.2h.7M274.0 622.8h.7M259.5 618.5h.7M268.8 622.8h.7M276.4 616.5h.7M271.5 614.3h.7M273.9 618.8h.7M264.6 613.9h.7M265.5 621.2h.7M262.0 615.7h.7M271.2 619.0h.7M276.4 621.5h.7M275.4 620.3h.7M268.0 619.1h.7M270.9 613.0h.7M264.6 614.4h.7M278.5 619.0h.7M264.3 622.7h.7M268.7 607.3h.7M267.8 617.9h.7M262.1 616.7h.7M271.1 614.6h.7M285.0 614.5h.7M262.9 618.8h.7M259.4 619.9h.7M258.5 614.0h.7M256.4 616.1h.7M270.2 622.8h.7M275.1 613.4h.7M282.6 619.3h.7M274.9 617.6h.7M280.1 618.4h.7M277.6 622.2h.7M264.2 622.5h.7M267.8 622.8h.7M270.3 620.5h.7M258.6 617.5h.7M277.7 616.4h.7M271.8 619.3h.7M267.8 622.8h.7M284.0 622.8h.7M262.4 622.3h.7M261.0 617.8h.7M263.5 620.5h.7M271.8 622.8h.7M260.7 616.6h.7M265.4 622.8h.7M273.7 622.8h.7M269.0 618.3h.7M271.3 617.3h.7M266.0 618.5h.7M256.6 617.4h.7M256.4 615.6h.7M263.5 615.1h.7M268.6 616.4h.7M265.6 619.4h.7M272.7 615.9h.7M266.1 622.8h.7M270.1 615.7h.7M278.7 619.4h.7M277.1 622.8h.7M265.9 620.9h.7M284.7 619.4h.7M288.7 618.3h.7M265.7 620.7h.7M262.7 617.9h.7M270.2 622.2h.7M282.5 614.3h.7M266.7 616.4h.7M267.8 620.3h.7M262.6 621.0h.7M282.5 611.9h.7M268.1 619.6h.7M277.7 621.7h.7M274.7 622.8h.7M272.1 615.5h.7M275.4 612.3h.7M278.2 620.0h.7M258.6 622.8h.7M261.0 619.0h.7M264.8 607.5h.7M272.5 616.7h.7M270.0 619.2h.7M271.9 614.0h.7M269.6 614.7h.7M280.0 617.5h.7M274.5 617.0h.7M278.3 614.9h.7M270.9 613.7h.7M278.5 617.4h.7M260.0 611.5h.7M271.2 615.5h.7M270.8 619.4h.7M260.4 618.2h.7M267.8 616.2h.7M267.2 618.4h.7M275.1 618.3h.7M264.8 616.4h.7M267.1 622.3h.7M261.2 621.6h.7M264.8 622.8h.7M258.3 620.6h.7M266.2 619.0h.7M273.6 622.5h.7M281.0 616.9h.7M256.4 618.5h.7M261.6 616.3h.7M282.6 622.8h.7M270.0 622.5h.7M257.9 615.8h.7M275.6 621.0h.7M266.1 622.8h.7M264.1 619.3h.7M267.8 615.6h.7M270.7 618.5h.7M270.0 615.9h.7M273.5 622.8h.7M267.7 616.8h.7M263.2 622.8h.7M261.5 622.8h.7M267.5 619.0h.7M273.2 622.8h.7M272.6 615.2h.7M289.4 619.5h.7M274.9 622.8h.7M277.4 612.0h.7M271.2 620.7h.7M280.7 622.1h.7M282.8 622.5h.7M272.8 617.2h.7M270.6 620.6h.7M261.3 613.0h.7M272.6 621.8h.7M259.1 615.4h.7M279.5 618.6h.7M265.8 616.1h.7M273.0 613.6h.7M268.0 621.1h.7M268.6 622.8h.7M260.8 620.5h.7M267.9 618.1h.7M258.2 619.8h.7M284.3 622.8h.7M266.3 620.2h.7M273.9 621.5h.7M286.5 620.5h.7M271.1 617.8h.7M279.7 616.7h.7M258.5 618.2h.7M264.4 613.9h.7M273.2 617.0h.7M268.4 621.2h.7M277.2 614.8h.7M286.5 619.4h.7M277.7 622.5h.7M273.3 618.3h.7M260.9 620.8h.7M270.0 619.2h.7M266.9 619.5h.7M269.1 620.1h.7M256.4 617.9h.7M282.3 619.1h.7M270.3 621.6h.7M263.0 622.1h.7M258.9 618.3h.7M262.1 617.2h.7M269.9 622.8h.7M285.9 619.8h.7M270.1 620.2h.7M260.2 618.5h.7M273.1 622.8h.7M269.3 617.9h.7M283.0 622.8h.7M263.6 614.1h.7M263.4 616.0h.7M261.5 622.8h.7M274.8 620.6h.7M260.8 618.3h.7M278.0 618.8h.7M286.2 622.8h.7M281.7 617.3h.7M275.7 615.6h.7M266.9 619.6h.7M258.9 621.2h.7M263.6 614.6h.7M265.6 617.1h.7M268.4 609.4h.7M262.9 622.0h.7M273.9 622.8h.7M269.3 622.3h.7M262.6 619.3h.7M284.7 615.0h.7M275.3 616.7h.7M272.8 621.1h.7M270.3 618.9h.7M273.8 615.1h.7M260.2 622.8h.7M280.0 622.7h.7M278.1 607.6h.7M277.0 617.2h.7M268.0 617.8h.7M275.9 606.9h.7M275.8 619.1h.7M281.3 618.4h.7M279.0 617.4h.7M270.7 615.5h.7M268.0 621.0h.7M268.5 618.1h.7M266.2 615.5h.7M271.6 617.3h.7M266.4 617.6h.7M274.3 619.6h.7M267.2 617.4h.7M270.8 620.7h.7M275.4 616.8h.7M283.3 622.8h.7M259.3 617.4h.7M283.5 614.8h.7M269.1 621.3h.7M271.4 620.3h.7M262.9 618.1h.7M263.8 619.6h.7M263.4 619.2h.7M272.6 618.3h.7M271.0 622.5h.7M258.0 618.9h.7M268.8 616.0h.7M258.5 615.0h.7M268.0 622.6h.7M264.5 620.3h.7M279.1 620.2h.7M271.4 621.9h.7M258.6 621.3h.7M256.6 619.7h.7M267.2 611.8h.7M265.2 614.3h.7M273.7 615.4h.7M270.4 619.1h.7M272.5 614.0h.7M262.7 622.8h.7M264.3 622.8h.7M265.5 619.8h.7M263.1 619.3h.7M277.9 618.3h.7M277.3 619.1h.7M269.7 622.8h.7M278.2 617.3h.7M279.9 618.8h.7M264.2 610.6h.7M260.5 622.8h.7M274.7 622.5h.7M260.0 617.5h.7M262.8 611.7h.7M284.7 610.2h.7M264.7 615.0h.7M264.0 620.5h.7M267.0 619.2h.7M271.4 619.7h.7M279.4 622.8h.7M271.9 622.8h.7M272.8 613.9h.7M280.5 616.1h.7M270.2 621.0h.7M265.9 617.9h.7M263.2 622.8h.7M278.6 616.5h.7M272.4 620.1h.7M274.0 620.1h.7M272.1 618.3h.7M269.2 620.9h.7M274.1 621.6h.7M281.0 615.0h.7M267.1 616.7h.7M275.3 618.4h.7M260.5 617.4h.7M266.3 619.2h.7M284.6 618.3h.7M258.3 615.7h.7M276.9 621.6h.7M268.7 621.1h.7M271.1 614.0h.7M288.9 619.3h.7M270.2 613.1h.7M267.2 615.0h.7M264.2 606.2h.7M262.8 615.6h.7M281.5 614.6h.7M281.1 614.8h.7M269.3 615.7h.7M275.8 617.5h.7M275.8 619.4h.7M262.9 613.0h.7M270.6 612.1h.7M283.4 620.0h.7M281.6 616.8h.7M272.2 622.8h.7M265.8 619.3h.7M264.6 622.8h.7M256.4 617.9h.7M272.0 615.1h.7M258.2 622.8h.7M284.6 618.9h.7M268.4 614.5h.7M260.8 619.1h.7M275.3 616.7h.7M275.6 620.0h.7M280.5 622.8h.7M256.4 619.2h.7M270.0 618.5h.7M256.4 622.8h.7M266.4 615.1h.7M278.0 612.0h.7M259.7 620.4h.7M256.4 622.8h.7M259.6 618.9h.7M262.6 617.3h.7M279.6 619.5h.7M265.7 618.4h.7M267.5 619.3h.7M263.9 618.0h.7M264.9 616.8h.7M270.3 614.4h.7M273.2 616.5h.7M268.3 620.2h.7M273.4 621.7h.7M272.0 612.1h.7M263.9 615.9h.7M273.7 618.4h.7M277.1 620.1h.7M259.8 616.4h.7M272.6 617.3h.7M275.9 622.5h.7M262.7 611.6h.7M266.9 614.4h.7M272.2 622.8h.7M264.9 607.9h.7M270.5 615.5h.7M259.4 618.9h.7M260.8 619.5h.7M270.0 621.3h.7M258.7 616.2h.7M273.4 620.3h.7M263.8 615.1h.7M268.0 613.9h.7M274.1 619.5h.7M276.6 622.8h.7M262.0 618.2h.7M276.0 615.2h.7M273.1 621.5h.7M268.6 611.3h.7M274.3 614.4h.7M269.9 622.8h.7M266.3 613.5h.7M263.2 613.6h.7M272.8 622.8h.7M269.6 620.4h.7M267.6 612.8h.7M258.6 622.8h.7M266.5 617.9h.7M271.1 617.9h.7M262.5 619.2h.7M284.9 616.5h.7M275.4 617.0h.7M270.8 622.8h.7M272.8 608.9h.7M256.4 616.1h.7M259.4 615.9h.7M271.5 618.8h.7M259.9 620.5h.7M278.9 619.5h.7M268.7 616.4h.7M264.7 619.2h.7M257.8 610.7h.7M271.1 616.1h.7M264.7 622.4h.7M274.6 620.3h.7M269.4 622.4h.7M285.8 618.7h.7M271.5 615.0h.7M260.6 617.7h.7M259.3 621.6h.7M275.4 614.0h.7M272.4 621.9h.7M268.3 615.6h.7M266.0 619.6h.7M270.5 615.3h.7M264.3 622.8h.7M264.9 619.0h.7M267.4 617.4h.7M277.3 618.5h.7M271.9 620.9h.7M268.3 616.4h.7M260.3 614.7h.7M262.7 619.5h.7M273.1 616.3h.7M269.6 620.8h.7M283.3 618.8h.7M269.3 618.2h.7M270.0 619.4h.7M264.7 622.4h.7M260.6 615.8h.7M281.4 617.7h.7M270.1 619.3h.7M266.1 611.3h.7M270.4 616.4h.7M276.6 622.8h.7M273.9 618.6h.7M269.7 618.0h.7M273.9 616.1h.7M281.2 620.0h.7M272.2 615.0h.7M264.8 619.1h.7M273.6 617.6h.7M268.4 617.4h.7M289.0 620.1h.7M261.1 617.7h.7M256.4 620.8h.7M256.4 613.9h.7M274.8 619.3h.7M256.4 622.8h.7M261.2 607.3h.7M257.8 618.5h.7M275.2 616.3h.7M266.2 620.6h.7M276.4 619.1h.7M257.1 621.1h.7M264.5 613.0h.7M267.6 622.8h.7M266.2 615.3h.7M261.9 620.5h.7M259.4 617.6h.7M269.2 620.5h.7M269.9 616.5h.7M263.9 618.7h.7M273.6 619.5h.7M256.9 616.3h.7M268.4 616.9h.7M270.4 612.5h.7M258.4 611.0h.7M272.6 615.8h.7M262.2 618.3h.7M268.0 616.7h.7M256.5 618.7h.7M256.4 610.4h.7M263.9 620.9h.7M265.0 616.2h.7M276.0 616.0h.7M256.4 619.9h.7M270.6 618.0h.7M274.9 620.4h.7M266.6 622.8h.7M268.1 616.1h.7M270.2 621.6h.7M268.7 618.4h.7M262.0 620.5h.7M270.2 616.0h.7M283.4 622.1h.7M266.6 615.4h.7M265.3 615.5h.7M256.4 612.0h.7M276.1 618.1h.7M259.2 620.0h.7M263.0 613.2h.7M265.1 617.5h.7M273.3 619.8h.7M264.1 622.8h.7M275.1 612.9h.7M270.2 621.9h.7M272.5 619.5h.7M256.4 619.7h.7M256.4 619.7h.7M260.2 615.3h.7M257.2 617.9h.7M267.8 622.8h.7M269.3 621.1h.7M261.3 622.8h.7M268.9 620.8h.7M267.8 618.6h.7M279.6 619.4h.7M269.3 613.3h.7M265.3 614.0h.7M272.4 622.8h.7M279.9 619.1h.7M260.2 619.5h.7M270.1 617.6h.7M284.5 622.8h.7M271.3 620.6h.7M265.5 620.2h.7M263.1 612.4h.7M270.1 618.7h.7M271.2 622.8h.7M267.6 620.5h.7M261.7 613.4h.7M270.3 616.2h.7M264.5 618.1h.7M268.6 616.2h.7M269.8 616.7h.7M263.2 616.6h.7M272.0 616.6h.7M266.6 617.6h.7M268.3 617.3h.7M268.7 620.4h.7M265.0 618.0h.7M260.7 622.8h.7M268.1 620.0h.7M270.5 616.3h.7M271.3 619.5h.7M270.0 622.8h.7M273.0 621.9h.7M262.9 616.7h.7M264.0 622.0h.7M266.8 622.4h.7M274.6 622.7h.7M268.0 614.5h.7M270.9 610.0h.7M276.3 617.3h.7M259.7 616.2h.7M277.9 615.0h.7M273.0 616.2h.7M267.9 617.1h.7M271.6 618.4h.7M278.3 621.8h.7M278.1 620.6h.7M261.2 619.7h.7M262.6 619.5h.7M273.4 613.9h.7M274.6 622.8h.7M277.5 621.3h.7M271.7 613.8h.7M276.8 612.0h.7M269.2 622.1h.7M262.0 611.3h.7M266.2 617.8h.7M265.1 621.9h.7M279.9 613.4h.7M270.2 616.0h.7M263.4 619.0h.7M264.9 614.8h.7M278.1 620.6h.7M256.4 615.5h.7M284.0 622.2h.7M282.4 617.3h.7M270.9 622.8h.7M267.4 622.8h.7M273.6 610.0h.7M270.5 621.1h.7M264.3 618.9h.7M270.0 613.1h.7M269.6 618.1h.7M261.3 622.0h.7M270.5 618.9h.7M267.6 616.7h.7M280.6 622.0h.7M273.9 614.9h.7M265.1 622.8h.7M259.7 617.9h.7M269.6 617.1h.7M273.9 614.7h.7M278.7 612.3h.7M268.7 617.8h.7M262.3 622.8h.7M268.7 622.6h.7M278.7 621.3h.7M281.2 621.2h.7M267.8 614.4h.7M271.8 613.3h.7M262.6 615.7h.7M265.9 616.7h.7M258.8 621.7h.7M266.7 616.8h.7M261.1 621.9h.7M256.4 620.6h.7M280.9 620.8h.7M256.4 622.8h.7M260.6 620.2h.7M270.8 615.2h.7M265.1 616.2h.7M268.3 616.0h.7M276.6 615.5h.7M256.5 615.8h.7M266.3 622.8h.7M272.0 619.4h.7M259.6 622.8h.7M272.5 617.4h.7M273.7 618.1h.7M283.6 621.0h.7M269.4 618.2h.7M280.7 613.7h.7M264.7 614.0h.7M264.0 615.4h.7M257.2 622.8h.7M276.2 616.9h.7M266.0 622.8h.7M264.7 620.7h.7M274.3 618.0h.7M256.4 621.4h.7M260.4 621.1h.7M259.7 614.2h.7M277.3 619.2h.7M263.2 622.1h.7M268.6 610.2h.7M276.0 616.6h.7M277.7 620.7h.7M265.0 616.8h.7M260.3 613.9h.7M264.6 622.8h.7M275.8 619.6h.7M266.7 613.3h.7M279.6 621.0h.7M277.8 622.8h.7M279.6 617.7h.7M269.3 612.7h.7M272.1 622.8h.7M271.6 615.0h.7M276.7 612.5h.7M266.3 622.8h.7M257.3 620.3h.7M264.5 617.8h.7M281.4 620.3h.7M259.4 618.3h.7M270.4 615.8h.7M279.4 616.6h.7M271.2 621.2h.7M271.7 614.6h.7M266.3 612.2h.7M269.1 615.5h.7M256.7 614.2h.7M268.1 620.3h.7M270.5 617.5h.7M263.7 622.8h.7M272.1 615.8h.7M270.4 619.4h.7M267.4 622.8h.7M265.3 621.2h.7M267.9 622.8h.7M259.2 620.3h.7M256.4 622.8h.7M279.9 619.4h.7M265.1 618.3h.7M261.1 618.1h.7M265.3 622.4h.7M269.2 615.9h.7M268.9 622.8h.7M269.6 620.9h.7M265.5 617.8h.7M272.2 615.3h.7M266.1 609.1h.7M276.1 615.6h.7M282.0 614.1h.7M280.8 613.9h.7M266.2 615.2h.7M277.6 615.4h.7M279.0 616.0h.7M263.1 619.1h.7M262.0 622.8h.7M284.2 615.1h.7M278.5 622.8h.7M275.1 620.1h.7M274.5 615.5h.7M278.8 621.3h.7M278.7 614.4h.7M272.0 622.4h.7M259.9 622.8h.7M257.2 615.4h.7M257.1 621.3h.7M271.4 620.2h.7M272.7 613.8h.7M265.4 615.8h.7M277.1 618.4h.7M276.7 618.5h.7M270.6 614.9h.7M267.6 619.0h.7M273.4 614.4h.7M261.4 614.0h.7M270.8 617.4h.7M279.6 621.8h.7M262.7 622.5h.7M270.5 616.4h.7M258.3 616.5h.7M260.4 617.4h.7M285.0 614.0h.7M269.5 614.7h.7M275.2 622.8h.7M263.4 615.4h.7M273.6 622.2h.7M272.8 616.6h.7M268.7 618.2h.7M283.6 615.3h.7M276.1 622.8h.7M266.7 615.1h.7M271.3 618.9h.7M262.5 617.0h.7M268.5 622.8h.7M288.5 618.8h.7M256.4 622.8h.7M264.8 619.9h.7M263.1 618.6h.7M280.3 622.1h.7M277.7 615.1h.7M261.0 622.8h.7M275.0 614.4h.7M275.1 615.9h.7M264.5 615.7h.7M261.4 616.0h.7M276.0 615.5h.7M279.4 615.8h.7M277.4 617.5h.7M282.1 618.3h.7M280.6 620.7h.7M261.0 617.3h.7M269.1 620.0h.7M263.7 615.0h.7M314.2 580.0h.7M316.8 579.9h.7M314.2 581.6h.7M314.1 579.0h.7M315.6 580.3h.7M317.5 578.9h.7M316.5 578.5h.7M312.0 581.4h.7M313.8 579.8h.7M314.3 580.4h.7M310.6 582.4h.7M313.6 581.6h.7M315.0 580.5h.7M314.7 579.7h.7M315.4 580.1h.7M315.5 580.9h.7M313.9 581.1h.7M313.7 580.4h.7M313.4 580.4h.7M312.0 580.8h.7M315.5 581.7h.7M312.0 582.4h.7M314.1 580.9h.7M315.0 579.8h.7M315.6 579.7h.7M313.3 582.1h.7M312.0 581.2h.7M312.9 582.0h.7M312.7 580.9h.7M311.9 581.7h.7M315.8 579.4h.7M311.1 581.9h.7M312.7 579.4h.7M314.4 581.6h.7M313.3 581.0h.7M313.4 580.4h.7M313.7 580.8h.7M316.2 579.8h.7M309.1 581.4h.7M313.4 580.4h.7M311.6 581.6h.7M317.0 580.3h.7M315.4 580.3h.7M317.0 581.0h.7M317.6 580.7h.7M313.1 580.0h.7M315.7 581.4h.7M311.5 582.7h.7M313.7 581.5h.7M316.6 579.9h.7M317.7 578.2h.7M311.7 580.7h.7M317.5 580.1h.7M314.1 581.3h.7M312.5 581.4h.7M315.4 580.8h.7M311.1 581.4h.7M316.9 578.7h.7M311.8 582.0h.7M314.1 581.2h.7M316.9 580.2h.7M313.8 580.5h.7M314.6 580.3h.7M314.1 580.3h.7M315.2 580.2h.7M315.6 579.8h.7M315.8 579.6h.7M315.4 579.9h.7M312.9 581.5h.7M314.1 581.2h.7M313.7 581.3h.7M313.0 580.8h.7M314.5 580.5h.7M314.1 580.9h.7M315.6 579.7h.7M314.9 579.7h.7" stroke="#000" stroke-width=".7" opacity="0.6" fill="none"/>
</g></g>
<line x1="296.5" y1="573.8" x2="296.5" y2="623.4" stroke="#999" stroke-width="0.8"/>
<line x1="255.8" y1="589.5" x2="318.6" y2="589.5" stroke="#999" stroke-width="0.8"/>
<rect x="255.8" y="573.8" width="62.8" height="49.6" fill="none" stroke="#1a1a1a" stroke-width="1"/>
<text x="258.2" y="630" font-size="3.9" text-anchor="middle" fill="#222" stroke="#222" stroke-width=".25">10<tspan dy="-1.4" font-size="2.7">0</tspan></text>
<text font-size="3.7" text-anchor="middle" fill="#222" stroke="#222" stroke-width=".25" transform="translate(254 621.6) rotate(-90)">10<tspan dy="-1.3" font-size="2.6">0</tspan></text>
<text x="272.55" y="630" font-size="3.9" text-anchor="middle" fill="#222" stroke="#222" stroke-width=".25">10<tspan dy="-1.4" font-size="2.7">1</tspan></text>
<text font-size="3.7" text-anchor="middle" fill="#222" stroke="#222" stroke-width=".25" transform="translate(254 609.58) rotate(-90)">10<tspan dy="-1.3" font-size="2.6">1</tspan></text>
<text x="286.9" y="630" font-size="3.9" text-anchor="middle" fill="#222" stroke="#222" stroke-width=".25">10<tspan dy="-1.4" font-size="2.7">2</tspan></text>
<text font-size="3.7" text-anchor="middle" fill="#222" stroke="#222" stroke-width=".25" transform="translate(254 597.55) rotate(-90)">10<tspan dy="-1.3" font-size="2.6">2</tspan></text>
<text x="301.25" y="630" font-size="3.9" text-anchor="middle" fill="#222" stroke="#222" stroke-width=".25">10<tspan dy="-1.4" font-size="2.7">3</tspan></text>
<text font-size="3.7" text-anchor="middle" fill="#222" stroke="#222" stroke-width=".25" transform="translate(254 585.52) rotate(-90)">10<tspan dy="-1.3" font-size="2.6">3</tspan></text>
<text x="315.6" y="630" font-size="3.9" text-anchor="middle" fill="#222" stroke="#222" stroke-width=".25">10<tspan dy="-1.4" font-size="2.7">4</tspan></text>
<text font-size="3.7" text-anchor="middle" fill="#222" stroke="#222" stroke-width=".25" transform="translate(254 573.5) rotate(-90)">10<tspan dy="-1.3" font-size="2.6">4</tspan></text>
<clipPath id="c3"><rect x="327.2" y="573.8" width="62.8" height="49.6"/></clipPath>
<g clip-path="url(#c3)"><g filter="url(#f0)">
<ellipse cx="338.5" cy="619.18" rx="10.5" ry="4.4" fill="#000" opacity="0.95" transform="rotate(0 338.5 619.18)" filter="url(#f2)"/>
<path d="M350.5 615.4h.7M331.0 622.8h.7M340.6 620.2h.7M349.6 619.4h.7M327.8 617.3h.7M337.8 615.7h.7M342.2 613.8h.7M352.7 618.5h.7M347.6 616.3h.7M346.0 622.8h.7M337.0 618.2h.7M342.5 622.8h.7M353.5 615.8h.7M342.0 622.0h.7M335.8 618.2h.7M359.5 608.9h.7M344.8 616.5h.7M346.5 612.8h.7M356.2 611.1h.7M343.5 612.0h.7M327.8 622.8h.7M349.2 612.3h.7M335.0 613.6h.7M342.1 618.2h.7M344.1 619.4h.7M356.7 617.5h.7M336.0 614.4h.7M331.6 619.1h.7M335.4 619.0h.7M327.8 621.7h.7M327.8 618.6h.7M347.1 621.7h.7M328.7 622.8h.7M333.3 611.3h.7M353.5 619.5h.7M353.1 614.4h.7M331.8 622.8h.7M337.1 622.8h.7M336.0 621.3h.7M349.4 622.8h.7M367.1 616.5h.7M333.4 622.8h.7M332.1 613.2h.7M335.9 622.8h.7M334.9 615.8h.7M331.3 619.4h.7M359.1 610.8h.7M330.5 615.2h.7M344.7 619.0h.7M367.7 617.6h.7M352.7 618.2h.7M337.1 622.8h.7M349.8 615.1h.7M364.4 618.7h.7M359.7 617.5h.7M329.5 618.0h.7M354.8 617.1h.7M357.2 606.7h.7M362.2 613.5h.7M333.8 610.1h.7M348.3 618.6h.7M331.0 616.4h.7M365.2 611.4h.7M333.8 617.6h.7M339.9 615.5h.7M366.2 622.6h.7M348.2 618.5h.7M348.2 618.4h.7M332.6 611.7h.7M341.3 619.7h.7M356.5 611.5h.7M356.9 618.9h.7M340.6 614.1h.7M337.9 622.8h.7M333.8 621.8h.7M328.4 622.6h.7M338.0 613.7h.7M332.6 619.8h.7M339.7 622.2h.7M331.7 619.5h.7M351.8 616.1h.7M327.9 614.0h.7M345.3 617.6h.7M328.1 621.5h.7M365.2 612.8h.7M342.1 607.2h.7M358.4 616.7h.7M334.6 622.8h.7M343.1 620.7h.7M352.1 620.2h.7M356.9 621.6h.7M327.8 614.1h.7M333.1 617.6h.7M351.2 615.5h.7M357.7 611.8h.7M344.8 617.1h.7M360.0 615.0h.7M354.6 612.0h.7M337.3 615.4h.7M378.3 617.2h.7M356.2 622.8h.7M341.9 619.7h.7M350.4 615.4h.7M330.5 622.8h.7M343.9 620.6h.7M341.8 616.8h.7M343.4 610.1h.7M348.0 614.8h.7M334.6 611.5h.7M357.4 614.5h.7M342.3 615.3h.7M356.9 610.4h.7M336.9 613.8h.7M345.1 620.5h.7M340.6 613.7h.7M365.8 615.8h.7M338.8 617.3h.7M340.8 622.8h.7M359.4 619.9h.7M340.9 617.3h.7M341.7 613.7h.7M333.2 622.8h.7M347.8 617.2h.7M331.1 615.3h.7M348.5 622.8h.7M346.9 614.1h.7M353.2 619.6h.7M342.5 617.9h.7M350.9 620.0h.7M343.6 619.0h.7M343.6 621.2h.7M348.2 611.8h.7M360.1 615.4h.7M348.7 616.3h.7M349.7 621.8h.7M327.8 612.7h.7M374.7 616.5h.7M354.8 614.2h.7M360.4 620.2h.7M345.4 606.6h.7M370.8 618.9h.7M345.5 618.4h.7M366.6 609.7h.7M335.6 615.7h.7M344.3 622.8h.7M338.6 613.4h.7M327.8 612.8h.7M352.2 611.6h.7M327.8 617.3h.7M336.0 622.8h.7M335.6 616.8h.7M342.6 604.1h.7M356.9 608.0h.7M352.7 614.7h.7M344.1 604.2h.7M341.8 622.8h.7M350.2 616.5h.7M346.3 622.8h.7M335.9 619.0h.7M340.1 616.1h.7M360.9 612.8h.7M350.0 618.1h.7M328.8 617.6h.7M345.4 620.4h.7M335.5 614.5h.7M351.6 616.5h.7M355.1 622.8h.7M342.7 610.4h.7M340.7 616.3h.7M341.7 615.7h.7M334.4 622.8h.7M354.6 613.2h.7M356.4 620.1h.7M347.6 617.5h.7M327.8 622.8h.7M349.1 608.1h.7M337.9 609.6h.7M332.4 615.7h.7M341.8 622.8h.7M355.0 619.0h.7M349.5 611.9h.7M337.5 621.5h.7M343.5 617.7h.7M364.7 611.0h.7M337.4 617.3h.7M342.5 617.9h.7M355.1 612.8h.7M340.6 613.7h.7M355.7 612.7h.7M337.2 610.5h.7M362.4 618.7h.7M354.3 611.8h.7M350.3 612.6h.7M342.5 618.5h.7M378.4 597.6h.7M327.8 608.3h.7M353.3 615.4h.7M354.5 608.7h.7M346.0 614.4h.7M361.5 619.2h.7M327.9 616.8h.7M362.6 616.4h.7M350.0 618.4h.7M344.7 617.6h.7M370.6 621.6h.7M338.7 622.8h.7M347.1 606.2h.7M327.8 622.8h.7M351.9 616.6h.7M343.6 616.9h.7M344.9 618.6h.7M340.0 617.2h.7M338.8 619.9h.7M351.9 612.5h.7M355.4 609.8h.7M347.2 607.2h.7M350.6 615.0h.7M327.8 614.8h.7M349.9 616.9h.7M327.8 621.0h.7M333.5 619.2h.7M348.1 617.0h.7M343.2 618.0h.7M369.1 618.5h.7M352.3 620.4h.7M340.4 611.8h.7M333.3 618.9h.7M330.7 611.7h.7M348.2 612.7h.7M343.1 611.9h.7M329.8 616.3h.7M327.8 614.3h.7M338.3 620.2h.7M360.1 615.0h.7M351.6 618.5h.7M339.3 612.7h.7M337.7 620.7h.7M351.7 617.6h.7M327.8 620.4h.7M364.1 617.9h.7M327.8 615.1h.7M339.6 620.6h.7M368.8 612.9h.7M331.7 615.8h.7M338.2 604.0h.7M349.5 618.0h.7M339.4 618.3h.7M336.1 614.5h.7M369.0 622.8h.7M344.2 614.2h.7M344.0 611.9h.7M356.1 614.8h.7M337.0 613.0h.7M337.6 621.2h.7M342.1 616.3h.7M338.7 619.2h.7M346.5 611.1h.7M337.4 622.5h.7M329.7 620.4h.7M346.4 613.8h.7M340.8 622.8h.7M329.8 614.2h.7M351.9 612.0h.7M355.5 615.1h.7M339.9 622.8h.7M345.5 618.3h.7M332.4 621.9h.7M329.5 616.5h.7M345.3 610.1h.7M345.8 618.0h.7M353.1 614.3h.7M327.8 620.5h.7M329.8 622.8h.7M331.7 613.0h.7M364.8 616.3h.7M350.6 612.1h.7M347.0 606.9h.7M343.3 620.0h.7M330.0 622.8h.7M345.3 622.8h.7M357.9 622.8h.7M329.6 622.1h.7M339.7 619.8h.7M339.7 608.8h.7M339.2 614.3h.7M332.2 610.8h.7M342.5 616.2h.7M331.7 622.8h.7M345.6 622.8h.7M349.5 615.2h.7M327.8 620.9h.7M355.9 620.1h.7M347.6 608.2h.7M343.9 617.7h.7M362.6 612.7h.7M361.4 619.4h.7M342.8 614.6h.7M350.5 611.4h.7M355.2 617.0h.7M341.2 619.1h.7M352.5 611.7h.7M336.2 615.9h.7M341.5 620.5h.7M345.2 612.0h.7M341.4 622.0h.7M364.4 602.1h.7M335.5 620.3h.7M344.3 616.8h.7M341.6 618.4h.7M349.7 622.8h.7M335.7 610.9h.7M340.3 612.1h.7M341.6 620.1h.7M330.5 617.0h.7M349.8 622.8h.7M337.1 610.7h.7M354.8 612.4h.7M334.5 616.8h.7M335.3 618.8h.7M352.5 610.0h.7M327.8 614.3h.7M366.0 618.4h.7M344.5 612.2h.7M343.6 612.6h.7M345.2 613.2h.7M376.7 606.2h.7M343.4 620.9h.7M350.2 621.3h.7M329.9 622.1h.7M347.0 618.8h.7M347.6 621.5h.7M356.5 614.2h.7M343.6 621.7h.7M343.3 619.2h.7M343.1 622.8h.7M352.1 615.5h.7M363.1 609.2h.7M329.9 622.8h.7M349.9 614.5h.7M346.6 617.3h.7M350.9 609.9h.7M330.6 619.1h.7M332.5 622.8h.7M333.7 613.9h.7M360.0 606.9h.7M347.9 617.8h.7M343.8 614.8h.7M339.4 618.2h.7M335.3 620.6h.7M345.8 616.4h.7M349.4 610.0h.7M352.5 612.7h.7M335.8 613.4h.7M369.5 615.2h.7M327.8 622.8h.7M357.5 611.0h.7M345.7 617.7h.7M361.4 617.1h.7M352.9 617.0h.7M352.9 609.3h.7M352.1 610.3h.7M341.6 614.7h.7M351.3 606.2h.7M347.4 614.7h.7M338.0 615.8h.7M327.8 620.8h.7M360.7 617.8h.7M341.1 613.8h.7M335.9 616.6h.7M333.5 620.4h.7M359.3 621.3h.7M327.8 622.8h.7M352.3 618.4h.7M361.8 622.8h.7M349.9 622.8h.7M369.8 609.8h.7M341.1 620.2h.7M345.7 622.8h.7M327.8 622.8h.7M339.3 622.8h.7M362.1 622.8h.7M352.2 621.5h.7M342.1 620.9h.7M346.5 614.4h.7M330.1 612.7h.7M335.1 622.8h.7M342.0 613.1h.7M349.2 618.1h.7M362.4 620.2h.7M334.1 610.1h.7M359.1 617.3h.7M346.1 619.5h.7M348.0 616.9h.7M333.3 622.8h.7M344.0 620.8h.7M339.1 619.9h.7M341.9 608.9h.7M348.7 619.6h.7M350.3 622.5h.7M333.8 617.5h.7M353.7 618.9h.7M366.8 586.8h.7M372.1 607.1h.7M349.4 620.7h.7M352.8 608.3h.7M384.1 597.5h.7M362.2 618.1h.7M369.2 591.8h.7M365.1 609.4h.7M355.9 606.6h.7M336.2 622.7h.7M367.8 609.3h.7M372.7 601.9h.7M360.3 598.5h.7M369.8 609.7h.7M359.3 601.4h.7M357.9 617.0h.7M356.6 602.6h.7M366.9 589.2h.7M369.9 614.2h.7M359.5 609.6h.7M369.4 593.2h.7M364.2 612.0h.7M370.2 595.6h.7M348.1 616.2h.7M356.4 615.8h.7M363.8 592.6h.7M370.8 602.0h.7M376.8 606.7h.7M350.2 606.0h.7M347.4 614.3h.7M359.9 603.0h.7M355.0 613.2h.7M350.3 614.0h.7M348.7 609.7h.7M361.5 606.1h.7M359.3 605.6h.7M362.2 595.1h.7M334.9 612.9h.7M358.7 599.6h.7M371.0 602.0h.7M346.1 607.6h.7M378.4 597.7h.7M338.5 613.4h.7M368.1 601.7h.7M340.0 604.6h.7M354.5 608.1h.7M346.5 602.9h.7M356.8 597.6h.7M364.4 597.4h.7M357.9 610.4h.7M353.6 613.4h.7M342.6 613.4h.7M368.9 599.1h.7M378.7 604.6h.7M353.3 611.3h.7M356.1 605.1h.7M366.3 597.7h.7M361.3 618.2h.7M362.1 610.2h.7M359.5 604.8h.7M350.4 612.8h.7M364.8 617.0h.7M352.3 605.6h.7M339.3 621.0h.7M375.1 604.5h.7M360.8 617.8h.7M372.6 595.0h.7M360.4 605.6h.7M356.1 601.6h.7M366.3 614.8h.7M353.0 588.2h.7M369.8 597.7h.7M362.5 608.0h.7M356.0 614.1h.7M356.8 608.9h.7M363.3 615.1h.7M352.4 609.3h.7M362.5 598.3h.7M349.4 608.0h.7M354.4 600.5h.7M347.6 602.8h.7M356.5 607.3h.7M358.9 606.0h.7M375.1 581.6h.7M375.9 585.1h.7M382.4 583.8h.7M382.4 580.6h.7M381.6 578.1h.7M385.4 579.3h.7M376.2 578.3h.7M378.6 581.9h.7M376.0 584.3h.7M384.0 577.9h.7M384.7 584.0h.7M382.6 584.7h.7M367.9 582.0h.7M377.8 578.1h.7M388.0 583.3h.7M366.9 581.6h.7M372.3 584.7h.7M379.9 579.3h.7M382.5 584.2h.7M377.8 582.5h.7M386.1 581.6h.7M384.1 578.2h.7M377.6 583.2h.7M384.1 577.0h.7M371.8 588.4h.7M376.7 581.6h.7M376.5 586.5h.7M372.8 582.4h.7M370.8 582.1h.7M379.0 582.6h.7M366.8 590.1h.7M377.3 581.8h.7M380.8 578.3h.7M377.7 582.9h.7M379.2 579.0h.7M375.0 580.0h.7M385.8 587.7h.7M379.8 578.0h.7M377.2 579.8h.7M377.5 581.6h.7M376.2 582.7h.7M370.0 587.3h.7M371.3 581.7h.7M383.4 580.3h.7M382.6 583.8h.7M374.2 582.1h.7M372.5 587.9h.7M364.7 582.7h.7M377.1 582.7h.7M378.4 579.0h.7M370.3 586.8h.7M373.7 578.8h.7M370.0 587.8h.7M377.6 584.0h.7M384.1 580.5h.7M376.2 579.6h.7M367.5 588.7h.7M384.7 584.1h.7M374.8 584.4h.7M388.2 579.2h.7M379.0 579.9h.7M371.5 581.8h.7M381.1 587.2h.7M372.0 586.9h.7M381.1 580.7h.7M385.1 579.0h.7M368.8 589.2h.7M371.7 584.2h.7M367.3 588.4h.7M378.9 585.1h.7M377.5 582.5h.7M367.0 584.0h.7M383.4 581.6h.7M378.7 582.0h.7M381.0 585.8h.7M377.6 584.8h.7M375.0 586.7h.7M376.0 586.1h.7M386.8 581.9h.7M371.0 582.8h.7M382.7 598.9h.7M379.4 601.4h.7M376.3 603.8h.7M380.2 600.2h.7M377.8 603.4h.7M381.7 597.2h.7M373.5 606.4h.7M381.2 599.9h.7M376.1 601.3h.7M379.6 603.0h.7M376.1 605.6h.7M376.3 603.7h.7M378.8 602.4h.7M372.5 608.8h.7M380.2 600.6h.7M377.3 603.5h.7M384.4 597.0h.7M379.7 601.7h.7M381.4 601.2h.7M378.7 600.9h.7M376.4 604.5h.7M378.0 599.0h.7M383.5 597.7h.7M384.7 598.3h.7M377.3 601.1h.7M375.9 603.6h.7M381.9 599.5h.7M383.2 601.6h.7M376.8 603.0h.7M375.4 606.5h.7M376.5 603.7h.7M377.4 603.0h.7M365.1 614.9h.7M379.4 600.7h.7M380.1 599.1h.7M386.0 595.5h.7M378.4 604.1h.7M376.3 602.1h.7M384.5 595.9h.7M373.7 605.2h.7M374.2 608.2h.7M384.8 597.5h.7M384.2 598.2h.7M379.5 603.0h.7M380.2 598.2h.7M378.0 603.2h.7M374.1 608.3h.7M383.2 598.7h.7M372.6 606.1h.7M376.3 603.5h.7M372.5 606.8h.7M370.3 609.3h.7M376.7 602.7h.7M373.0 606.9h.7M371.2 611.0h.7M382.5 599.1h.7M376.7 603.1h.7M376.7 602.5h.7M372.6 606.3h.7M384.4 598.5h.7M374.4 607.0h.7M386.0 597.7h.7M377.1 605.6h.7M377.9 601.5h.7M383.0 599.7h.7M372.7 605.1h.7M378.1 602.1h.7M369.3 611.0h.7M366.2 613.3h.7M378.3 601.5h.7M376.2 602.5h.7M382.5 598.8h.7M379.3 598.9h.7M387.2 596.7h.7M379.6 598.8h.7M382.1 600.6h.7M378.7 601.9h.7M378.2 602.5h.7M372.5 607.8h.7M378.0 601.2h.7M382.1 598.6h.7M379.4 602.3h.7M377.3 603.1h.7M371.1 607.0h.7M372.5 604.6h.7M383.4 597.6h.7M379.4 601.1h.7M380.0 604.0h.7M377.9 604.6h.7M380.2 600.7h.7M373.1 606.1h.7M382.5 598.6h.7M370.8 608.0h.7M382.0 598.1h.7M387.5 595.3h.7M372.8 606.4h.7M372.9 606.7h.7M376.7 602.4h.7M379.8 600.8h.7M375.1 606.4h.7M380.0 600.3h.7M377.3 603.3h.7M374.3 604.3h.7M374.6 604.1h.7M383.9 597.0h.7M376.4 603.4h.7M374.0 608.5h.7M382.9 597.6h.7M385.0 593.1h.7M382.3 594.0h.7M386.9 592.2h.7M383.4 589.4h.7M382.8 593.7h.7M381.0 590.6h.7M387.2 594.7h.7M383.7 592.2h.7M381.8 600.6h.7M383.9 590.6h.7M384.3 593.5h.7M382.6 593.6h.7M384.5 589.6h.7M383.3 594.9h.7M383.0 596.0h.7M384.7 589.9h.7M386.6 591.0h.7M385.1 585.7h.7M383.3 594.9h.7M382.8 596.2h.7M381.3 594.7h.7M383.7 590.2h.7M384.5 594.3h.7M381.4 594.6h.7M382.5 596.4h.7M383.4 593.9h.7M383.1 590.8h.7M384.1 590.2h.7M384.3 595.2h.7M382.8 594.1h.7" stroke="#000" stroke-width=".8" opacity="0.4" fill="none" filter="url(#f05)"/>
<path d="M329.6 620.0h.7M345.0 620.0h.7M342.3 615.8h.7M353.7 621.3h.7M328.2 621.6h.7M336.4 615.4h.7M341.5 614.5h.7M341.1 622.8h.7M342.5 621.3h.7M341.9 622.8h.7M345.2 622.6h.7M336.7 615.8h.7M338.0 622.1h.7M350.2 620.1h.7M346.6 619.3h.7M327.8 619.6h.7M342.4 619.5h.7M351.5 622.8h.7M334.4 616.7h.7M347.7 615.9h.7M332.8 617.7h.7M343.3 612.6h.7M355.1 617.2h.7M344.2 616.3h.7M338.9 617.9h.7M342.3 618.4h.7M344.5 618.9h.7M335.6 614.9h.7M346.3 621.5h.7M343.9 622.0h.7M342.0 621.4h.7M335.3 617.4h.7M333.1 616.3h.7M351.1 619.8h.7M334.3 617.5h.7M338.0 622.8h.7M355.1 620.7h.7M352.8 615.8h.7M344.5 617.5h.7M337.3 616.7h.7M335.4 617.5h.7M333.4 618.8h.7M327.8 620.9h.7M342.3 618.6h.7M341.8 617.1h.7M352.0 620.7h.7M327.8 617.1h.7M341.1 618.9h.7M344.8 613.3h.7M341.8 622.2h.7M344.9 621.4h.7M328.8 622.7h.7M339.6 622.8h.7M336.9 617.3h.7M327.8 614.6h.7M353.9 619.5h.7M338.9 619.8h.7M327.8 618.3h.7M328.8 619.5h.7M331.9 622.1h.7M334.3 622.6h.7M327.8 614.8h.7M331.8 615.8h.7M344.9 620.1h.7M339.9 618.8h.7M343.2 617.5h.7M337.5 619.1h.7M346.8 621.8h.7M327.8 622.8h.7M336.9 615.6h.7M354.3 621.1h.7M340.7 622.0h.7M340.3 619.6h.7M345.9 616.2h.7M342.6 618.7h.7M345.7 619.7h.7M348.7 613.8h.7M345.5 613.0h.7M335.1 617.2h.7M341.4 621.5h.7M341.9 619.5h.7M342.9 618.4h.7M344.5 620.1h.7M339.5 615.8h.7M348.7 618.4h.7M327.8 615.8h.7M344.0 622.7h.7M327.8 622.8h.7M328.2 612.7h.7M336.4 619.5h.7M344.8 613.8h.7M340.6 619.2h.7M346.9 614.3h.7M341.4 620.9h.7M331.9 615.9h.7M332.7 621.0h.7M327.8 622.8h.7M343.9 621.0h.7M345.0 619.5h.7M335.6 615.7h.7M340.4 620.1h.7M350.3 622.4h.7M331.4 618.9h.7M339.3 622.8h.7M337.3 619.9h.7M333.2 618.3h.7M327.8 617.5h.7M346.8 611.0h.7M330.2 615.6h.7M333.7 622.8h.7M339.3 621.9h.7M335.2 622.0h.7M342.7 619.6h.7M342.4 618.2h.7M342.5 618.8h.7M330.8 616.6h.7M336.7 618.8h.7M340.4 618.5h.7M334.6 621.1h.7M332.8 620.1h.7M344.5 622.2h.7M341.3 612.9h.7M329.3 618.8h.7M341.6 619.8h.7M335.4 616.4h.7M338.6 618.2h.7M331.4 614.7h.7M353.2 620.0h.7M342.4 620.9h.7M348.1 617.5h.7M341.0 619.3h.7M332.5 618.2h.7M342.0 622.8h.7M340.2 622.8h.7M350.4 618.6h.7M342.9 621.7h.7M352.4 617.7h.7M340.2 619.6h.7M333.5 620.3h.7M337.1 622.8h.7M347.2 622.8h.7M342.3 614.6h.7M341.2 617.8h.7M336.4 622.7h.7M351.9 622.8h.7M342.4 622.8h.7M343.3 616.8h.7M347.7 618.9h.7M339.7 620.1h.7M339.6 619.3h.7M345.3 619.7h.7M338.0 611.0h.7M331.1 618.6h.7M357.1 622.8h.7M349.6 618.3h.7M346.9 616.6h.7M329.0 615.7h.7M337.1 622.8h.7M342.9 622.6h.7M338.2 617.9h.7M328.9 616.2h.7M344.9 618.6h.7M345.9 619.3h.7M350.2 620.5h.7M340.9 616.6h.7M342.8 622.8h.7M337.3 615.0h.7M335.8 622.8h.7M342.6 622.4h.7M348.4 621.3h.7M327.8 622.8h.7M331.8 621.5h.7M341.5 618.8h.7M345.8 621.9h.7M335.9 617.8h.7M342.8 616.1h.7M328.8 618.4h.7M342.4 617.2h.7M337.2 618.2h.7M327.8 622.7h.7M347.4 622.1h.7M341.6 611.4h.7M327.8 622.7h.7M340.3 618.1h.7M340.3 618.6h.7M330.7 620.2h.7M346.2 622.8h.7M337.9 619.2h.7M345.7 621.5h.7M348.7 618.1h.7M341.2 619.9h.7M334.7 622.8h.7M344.7 619.2h.7M345.2 616.5h.7M333.1 618.7h.7M334.6 622.8h.7M346.2 618.8h.7M340.0 614.8h.7M331.3 615.0h.7M335.8 617.9h.7M339.8 622.1h.7M329.1 615.4h.7M336.3 617.8h.7M336.0 618.3h.7M338.0 619.4h.7M345.2 613.3h.7M332.3 621.2h.7M342.0 620.3h.7M338.7 616.4h.7M339.3 622.7h.7M345.4 618.5h.7M342.5 618.6h.7M327.8 614.7h.7M334.1 615.1h.7M330.7 618.8h.7M341.3 621.2h.7M342.4 617.2h.7M335.5 616.8h.7M339.9 616.8h.7M333.7 621.2h.7M336.0 620.8h.7M336.6 617.2h.7M341.8 621.7h.7M337.9 617.4h.7M333.8 620.3h.7M336.1 622.4h.7M332.0 621.8h.7M344.0 620.4h.7M341.9 621.0h.7M328.8 621.0h.7M345.2 618.8h.7M335.6 618.0h.7M339.2 620.9h.7M335.0 618.1h.7M336.3 622.8h.7M341.4 622.8h.7M327.8 622.8h.7M327.8 614.8h.7M337.3 615.6h.7M341.5 620.2h.7M328.3 617.2h.7M337.7 619.6h.7M329.5 614.5h.7M333.2 618.0h.7M339.2 613.2h.7M350.8 617.5h.7M337.4 615.1h.7M345.4 622.8h.7M339.7 621.4h.7M348.4 613.6h.7M333.7 620.3h.7M333.3 617.1h.7M345.7 622.8h.7M328.1 616.9h.7M341.0 621.9h.7M342.2 615.1h.7M350.0 617.1h.7M335.0 616.1h.7M343.0 620.9h.7M349.9 614.1h.7M355.0 618.6h.7M337.1 619.7h.7M340.1 622.0h.7M329.7 612.9h.7M344.8 617.5h.7M346.6 621.0h.7M337.3 619.7h.7M349.4 619.4h.7M341.4 620.5h.7M342.6 616.9h.7M339.6 620.4h.7M352.8 622.3h.7M334.4 616.5h.7M332.4 622.4h.7M342.6 615.8h.7M355.6 612.2h.7M342.8 612.3h.7M330.9 619.6h.7M328.8 614.1h.7M335.4 618.3h.7M336.8 618.2h.7M337.2 616.6h.7M346.8 620.3h.7M339.2 619.9h.7M333.8 613.3h.7M327.8 622.8h.7M327.8 614.7h.7M343.7 615.3h.7M331.3 619.5h.7M354.0 622.8h.7M327.8 622.8h.7M337.3 616.0h.7M345.3 619.6h.7M341.8 619.3h.7M336.5 614.3h.7M340.1 619.7h.7M339.6 618.4h.7M342.7 615.2h.7M339.4 617.4h.7M337.3 620.9h.7M353.2 620.5h.7M351.9 622.8h.7M351.8 622.8h.7M339.0 618.7h.7M339.6 619.0h.7M334.5 616.2h.7M337.4 622.7h.7M345.4 617.3h.7M334.8 622.8h.7M346.6 618.6h.7M338.3 621.4h.7M331.4 614.2h.7M342.4 621.6h.7M343.8 618.0h.7M340.6 622.8h.7M343.2 616.6h.7M331.8 617.2h.7M337.9 618.3h.7M332.2 616.3h.7M339.6 619.3h.7M341.6 622.7h.7M342.7 613.0h.7M344.1 619.1h.7M333.2 618.3h.7M339.1 620.1h.7M335.8 619.4h.7M344.1 618.8h.7M342.1 618.1h.7M327.8 610.5h.7M344.6 619.5h.7M339.5 615.6h.7M343.4 613.6h.7M329.2 618.5h.7M334.6 618.1h.7M341.9 617.6h.7M332.8 616.5h.7M346.5 618.4h.7M340.4 613.7h.7M346.2 620.6h.7M347.8 617.4h.7M332.9 621.2h.7M327.8 621.8h.7M339.6 615.8h.7M339.1 620.5h.7M337.4 621.2h.7M336.4 612.8h.7M340.2 622.8h.7M338.9 621.4h.7M331.9 622.0h.7M352.2 622.1h.7M333.8 619.6h.7M347.2 611.3h.7M343.7 617.4h.7M337.0 619.6h.7M349.2 621.4h.7M344.1 622.3h.7M338.7 619.6h.7M345.6 622.8h.7M328.6 619.0h.7M340.3 616.3h.7M329.3 615.5h.7M343.6 619.7h.7M349.2 621.0h.7M347.2 614.3h.7M338.6 618.3h.7M336.3 618.2h.7M342.9 620.6h.7M339.3 617.8h.7M330.6 618.7h.7M340.5 613.5h.7M342.9 620.1h.7M338.8 616.8h.7M332.4 617.3h.7M333.7 615.5h.7M347.0 621.7h.7M345.2 616.2h.7M330.9 620.2h.7M338.9 615.7h.7M334.7 614.9h.7M346.9 619.4h.7M337.5 618.1h.7M342.6 617.1h.7M329.5 620.9h.7M329.0 614.8h.7M345.9 619.5h.7M344.1 622.7h.7M339.6 617.2h.7M328.4 618.7h.7M331.3 615.6h.7M338.7 620.2h.7M332.1 615.4h.7M340.4 620.9h.7M335.4 621.8h.7M347.8 620.5h.7M351.8 620.3h.7M333.0 619.9h.7M338.6 616.4h.7M356.6 612.5h.7M344.1 622.8h.7M350.3 612.5h.7M329.2 619.7h.7M342.4 611.4h.7M346.3 618.3h.7M327.8 615.3h.7M330.8 621.0h.7M329.4 617.0h.7M353.5 618.1h.7M345.9 621.4h.7M330.8 617.9h.7M327.8 622.0h.7M340.1 622.5h.7M342.9 611.0h.7M345.5 614.1h.7M333.7 619.7h.7M339.2 617.2h.7M331.3 621.5h.7M346.7 616.7h.7M352.1 613.2h.7M342.4 621.3h.7M334.8 622.3h.7M345.7 615.4h.7M350.0 620.7h.7M348.4 620.9h.7M339.7 621.0h.7M342.7 618.3h.7M340.0 622.8h.7M342.6 615.6h.7M346.2 622.8h.7M327.8 614.3h.7M339.5 620.4h.7M331.8 621.5h.7M331.4 621.6h.7M342.5 622.8h.7M351.5 614.5h.7M327.8 618.3h.7M340.6 615.8h.7M327.8 614.5h.7M349.9 621.1h.7M336.4 615.7h.7M341.7 612.8h.7M330.7 622.8h.7M337.9 618.8h.7M335.7 616.8h.7M334.4 617.1h.7M331.0 613.2h.7M345.5 618.4h.7M333.5 620.3h.7M332.6 622.8h.7M332.2 614.8h.7M336.8 615.6h.7M340.4 620.8h.7M331.0 620.3h.7M339.5 621.8h.7M334.2 622.8h.7M349.2 622.8h.7M342.7 622.8h.7M336.5 612.6h.7M333.8 617.5h.7M331.2 612.7h.7M348.4 613.7h.7M333.8 622.8h.7M330.2 622.8h.7M347.5 618.2h.7M337.6 622.1h.7M342.2 620.1h.7M335.3 618.2h.7M331.6 622.8h.7M346.8 612.8h.7M327.8 617.2h.7M328.1 621.3h.7M336.3 615.8h.7M327.8 613.9h.7M339.0 613.2h.7M332.9 622.8h.7M344.6 622.8h.7M357.0 617.9h.7M346.6 622.8h.7M338.2 618.4h.7M327.8 622.8h.7M340.3 617.3h.7M335.5 612.0h.7M349.5 622.8h.7M334.6 622.8h.7M331.0 620.9h.7M327.8 617.9h.7M348.2 614.3h.7M327.8 618.2h.7M342.7 620.8h.7M351.7 616.7h.7M348.5 618.7h.7M343.6 616.3h.7M331.7 622.8h.7M339.3 622.8h.7M345.9 622.8h.7M342.5 622.8h.7M353.5 618.3h.7M330.2 619.2h.7M339.9 622.8h.7M330.7 618.0h.7M332.7 620.5h.7M349.6 614.7h.7M340.2 617.6h.7M350.7 617.8h.7M328.0 618.4h.7M329.9 622.1h.7M339.3 619.4h.7M338.2 616.4h.7M337.2 618.4h.7M344.3 621.0h.7M337.0 620.3h.7M330.5 622.2h.7M342.2 618.8h.7M328.3 616.6h.7M344.3 615.8h.7M348.0 618.7h.7M343.2 619.9h.7M331.5 619.5h.7M342.2 618.2h.7M334.3 621.7h.7M334.4 620.7h.7M336.7 617.3h.7M338.0 622.8h.7M344.3 620.9h.7M353.2 612.6h.7M346.2 620.0h.7M338.4 622.8h.7M349.5 620.9h.7M346.3 617.8h.7M352.8 618.5h.7M339.2 621.0h.7M327.8 617.6h.7M333.8 615.6h.7M347.8 618.2h.7M355.7 617.8h.7M345.1 621.8h.7M344.0 619.4h.7M349.6 619.4h.7M327.8 615.9h.7M347.4 622.8h.7M338.8 617.7h.7M344.9 622.5h.7M333.2 620.9h.7M335.5 621.3h.7M340.5 622.8h.7M342.0 622.6h.7M335.1 621.5h.7M344.8 618.6h.7M335.1 617.8h.7M331.6 618.4h.7M340.3 619.0h.7M329.7 617.9h.7M343.1 617.8h.7M335.6 615.5h.7M352.2 614.8h.7M341.1 613.1h.7M333.5 622.8h.7M332.8 621.6h.7M334.5 619.7h.7M341.3 620.3h.7M331.6 620.3h.7M342.5 622.7h.7M328.6 620.8h.7M336.5 607.3h.7M341.0 621.3h.7M336.6 621.4h.7M344.4 611.4h.7M342.3 621.2h.7M340.5 609.7h.7M332.6 621.5h.7M335.4 620.7h.7M327.8 622.8h.7M336.9 616.4h.7M331.7 622.8h.7M336.6 622.8h.7M327.8 619.1h.7M341.5 620.7h.7M342.1 617.3h.7M344.7 620.0h.7M342.7 621.2h.7M340.4 616.1h.7M351.4 617.7h.7M335.6 621.1h.7M330.6 616.4h.7M347.9 621.9h.7M335.8 619.8h.7M328.3 622.8h.7M342.8 621.6h.7M343.2 617.9h.7M349.0 621.6h.7M349.3 620.7h.7M339.2 614.6h.7M335.4 622.8h.7M344.0 620.3h.7M327.8 614.5h.7M334.1 616.4h.7M338.5 622.0h.7M339.8 622.8h.7M347.1 622.8h.7M339.4 610.5h.7M337.3 619.2h.7M329.4 613.6h.7M340.7 618.4h.7M328.6 620.6h.7M337.9 620.7h.7M334.2 622.8h.7M331.2 611.5h.7M341.6 616.2h.7M330.2 614.6h.7M335.3 620.5h.7M340.3 619.7h.7M343.7 622.8h.7M339.8 622.8h.7M355.9 622.8h.7M348.9 614.8h.7M337.3 619.8h.7M338.0 617.5h.7M343.1 617.6h.7M344.5 618.0h.7M332.7 617.0h.7M334.8 622.8h.7M341.6 620.0h.7M327.8 616.4h.7M339.1 617.6h.7M329.7 620.0h.7M334.5 619.5h.7M347.1 622.6h.7M336.2 620.6h.7M341.5 622.8h.7M343.7 621.4h.7M349.1 614.9h.7M336.7 621.5h.7M335.8 621.7h.7M345.9 612.3h.7M330.0 622.1h.7M340.0 618.4h.7M342.1 622.8h.7M344.7 620.4h.7M343.4 620.0h.7M328.9 616.0h.7M337.4 621.3h.7M329.1 620.7h.7M347.7 614.9h.7M344.1 621.2h.7M340.1 618.4h.7M334.7 620.5h.7M340.6 622.6h.7M337.1 622.8h.7M334.4 621.0h.7M341.8 617.2h.7M333.9 618.8h.7M349.5 622.8h.7M338.0 622.8h.7M347.9 617.5h.7M342.6 618.0h.7M327.8 615.0h.7M337.0 619.8h.7M328.3 619.0h.7M327.8 622.8h.7M356.0 620.1h.7M355.4 614.0h.7M348.3 622.8h.7M351.0 618.9h.7M334.8 611.7h.7M345.3 616.2h.7M331.3 620.3h.7M343.7 619.5h.7M327.8 618.6h.7M338.6 620.3h.7M341.4 621.1h.7M348.8 622.8h.7M333.7 617.2h.7M346.1 613.4h.7M346.5 622.8h.7M345.5 620.5h.7M349.2 615.7h.7M332.8 620.2h.7M340.3 622.8h.7M328.0 620.6h.7M344.4 614.1h.7M342.5 618.5h.7M336.1 614.3h.7M329.1 617.3h.7M346.8 614.2h.7M333.1 622.7h.7M336.3 616.3h.7M342.4 619.3h.7M345.7 619.3h.7M337.7 613.0h.7M336.4 618.1h.7M333.9 617.4h.7M334.7 616.6h.7M337.4 619.3h.7M355.8 616.8h.7M346.0 620.5h.7M336.7 616.3h.7M345.2 617.7h.7M347.2 622.8h.7M339.7 615.1h.7M343.8 615.0h.7M332.3 617.3h.7M333.3 622.8h.7M351.7 616.6h.7M350.3 621.6h.7M338.6 621.7h.7M348.1 621.2h.7M334.9 620.6h.7M335.6 621.5h.7M352.3 622.8h.7M332.7 622.8h.7M347.5 622.4h.7M344.5 614.0h.7M342.0 612.5h.7M334.8 610.2h.7M345.4 622.8h.7M343.6 620.5h.7M349.8 622.8h.7M346.0 622.8h.7M343.2 622.8h.7M327.8 617.6h.7M330.3 615.0h.7M339.8 621.5h.7M346.7 612.4h.7M336.0 621.7h.7M339.5 622.8h.7M336.3 622.8h.7M350.2 622.8h.7M348.9 615.3h.7M336.8 619.5h.7M332.1 613.5h.7M335.1 618.4h.7M335.7 619.1h.7M343.4 617.4h.7M347.1 619.1h.7M343.3 622.8h.7M336.3 622.8h.7M345.6 619.2h.7M329.6 621.5h.7M341.9 614.0h.7M335.2 617.9h.7M330.0 610.6h.7M330.5 616.3h.7M338.1 622.1h.7M348.0 612.0h.7M346.2 619.0h.7M346.5 621.4h.7M336.2 622.8h.7M335.9 620.3h.7M340.4 621.9h.7M335.3 622.8h.7M350.3 616.0h.7M382.8 582.3h.7M383.6 581.2h.7M385.1 582.1h.7M381.4 584.7h.7M386.6 580.1h.7M386.8 579.3h.7M386.8 581.0h.7M385.6 581.6h.7M388.2 579.4h.7M385.8 581.0h.7M385.2 579.8h.7M385.0 579.9h.7M379.8 585.6h.7M382.3 582.9h.7M381.8 582.0h.7M385.1 580.8h.7M384.2 581.3h.7M383.6 581.8h.7M381.9 583.1h.7M382.2 582.8h.7M382.3 582.2h.7M383.4 582.0h.7M382.5 582.5h.7M381.8 586.2h.7M382.9 581.9h.7M386.1 579.2h.7M385.8 581.6h.7M384.8 580.9h.7M383.5 581.9h.7M386.7 580.7h.7M388.9 579.3h.7M384.1 581.9h.7M385.1 582.0h.7M388.0 579.1h.7M384.3 582.6h.7M385.9 580.4h.7M383.5 582.0h.7M389.1 578.4h.7M381.7 583.0h.7M388.4 578.9h.7M383.2 582.0h.7M384.0 581.1h.7M385.7 580.5h.7M383.8 581.4h.7M385.6 581.3h.7M386.1 580.9h.7M387.7 579.2h.7M384.5 581.0h.7M383.9 582.4h.7M386.1 579.2h.7M387.1 581.4h.7M384.4 580.8h.7M383.2 582.3h.7M384.0 581.0h.7M386.6 579.4h.7M379.4 583.6h.7M384.6 581.4h.7M382.6 583.5h.7M387.7 580.1h.7M385.1 580.5h.7M383.8 580.7h.7M383.0 582.9h.7M386.7 581.4h.7M383.8 581.8h.7M385.4 580.2h.7M384.0 581.4h.7M387.5 579.2h.7M382.2 582.9h.7M383.3 581.9h.7M384.9 582.0h.7M384.9 580.2h.7M385.1 580.1h.7M385.3 581.7h.7M387.2 579.7h.7M387.1 578.9h.7M385.8 580.5h.7M385.3 583.1h.7M384.6 581.7h.7M377.2 601.9h.7M380.1 602.2h.7M378.1 603.0h.7M381.5 600.2h.7M377.3 602.3h.7M376.3 604.4h.7M381.0 599.5h.7M379.8 601.2h.7M374.5 605.7h.7M382.6 599.9h.7M377.6 602.4h.7M378.8 601.8h.7M379.4 599.8h.7M376.3 604.7h.7M381.3 600.6h.7M374.9 603.0h.7M382.2 600.1h.7M378.0 601.7h.7M381.5 598.5h.7M375.9 605.2h.7M381.0 599.8h.7M375.5 604.3h.7M379.7 602.1h.7M376.2 604.0h.7M380.4 600.3h.7M377.1 605.6h.7M376.4 605.5h.7M378.3 603.5h.7M379.9 602.4h.7M378.1 601.0h.7M378.1 603.6h.7M377.8 600.7h.7M377.5 604.4h.7M381.8 599.2h.7M374.2 606.8h.7M382.2 600.3h.7M375.0 604.0h.7M377.3 604.7h.7M377.2 602.2h.7M372.4 606.5h.7M378.6 601.6h.7M380.1 600.9h.7M372.4 607.8h.7M378.9 599.5h.7M377.0 604.7h.7M381.3 601.0h.7M377.4 604.0h.7M376.2 604.6h.7M378.6 603.9h.7M375.3 604.4h.7" stroke="#000" stroke-width=".7" opacity="0.6" fill="none"/>
</g></g>
<line x1="367.5" y1="573.8" x2="367.5" y2="623.4" stroke="#999" stroke-width="0.8"/>
<line x1="327.2" y1="589.5" x2="390" y2="589.5" stroke="#999" stroke-width="0.8"/>
<rect x="327.2" y="573.8" width="62.8" height="49.6" fill="none" stroke="#1a1a1a" stroke-width="1"/>
<text x="329.6" y="630" font-size="3.9" text-anchor="middle" fill="#222" stroke="#222" stroke-width=".25">10<tspan dy="-1.4" font-size="2.7">0</tspan></text>
<text font-size="3.7" text-anchor="middle" fill="#222" stroke="#222" stroke-width=".25" transform="translate(325.4 621.6) rotate(-90)">10<tspan dy="-1.3" font-size="2.6">0</tspan></text>
<text x="343.95" y="630" font-size="3.9" text-anchor="middle" fill="#222" stroke="#222" stroke-width=".25">10<tspan dy="-1.4" font-size="2.7">1</tspan></text>
<text font-size="3.7" text-anchor="middle" fill="#222" stroke="#222" stroke-width=".25" transform="translate(325.4 609.58) rotate(-90)">10<tspan dy="-1.3" font-size="2.6">1</tspan></text>
<text x="358.3" y="630" font-size="3.9" text-anchor="middle" fill="#222" stroke="#222" stroke-width=".25">10<tspan dy="-1.4" font-size="2.7">2</tspan></text>
<text font-size="3.7" text-anchor="middle" fill="#222" stroke="#222" stroke-width=".25" transform="translate(325.4 597.55) rotate(-90)">10<tspan dy="-1.3" font-size="2.6">2</tspan></text>
<text x="372.65" y="630" font-size="3.9" text-anchor="middle" fill="#222" stroke="#222" stroke-width=".25">10<tspan dy="-1.4" font-size="2.7">3</tspan></text>
<text font-size="3.7" text-anchor="middle" fill="#222" stroke="#222" stroke-width=".25" transform="translate(325.4 585.52) rotate(-90)">10<tspan dy="-1.3" font-size="2.6">3</tspan></text>
<text x="387" y="630" font-size="3.9" text-anchor="middle" fill="#222" stroke="#222" stroke-width=".25">10<tspan dy="-1.4" font-size="2.7">4</tspan></text>
<text font-size="3.7" text-anchor="middle" fill="#222" stroke="#222" stroke-width=".25" transform="translate(325.4 573.5) rotate(-90)">10<tspan dy="-1.3" font-size="2.6">4</tspan></text>
<clipPath id="c4"><rect x="113" y="636.8" width="62.8" height="49.6"/></clipPath>
<g clip-path="url(#c4)"><g filter="url(#f0)">
<ellipse cx="163.24" cy="665.57" rx="6.2" ry="2.3" fill="#000" opacity="0.95" transform="rotate(-47 163.24 665.57)" filter="url(#f1)"/>
<ellipse cx="161.04" cy="668.05" rx="3.2" ry="2.6" fill="#000" opacity="0.9" transform="rotate(-47 161.04 668.05)" filter="url(#f1)"/>
<ellipse cx="163.87" cy="646.22" rx="7.5" ry="1.2" fill="#000" opacity="0.9" transform="rotate(-8 163.87 646.22)" filter="url(#f1)"/>
<ellipse cx="172.97" cy="642.75" rx="0.8" ry="3.6" fill="#000" opacity="0.85" transform="rotate(0 172.97 642.75)" filter="url(#f1)"/>
<path d="M164.7 655.2h.7M169.2 648.7h.7M172.9 662.9h.7M173.0 647.6h.7M168.2 645.7h.7M169.1 660.7h.7M170.1 659.6h.7M170.2 659.0h.7M163.9 647.5h.7M167.0 655.8h.7M173.0 652.2h.7M172.4 653.7h.7M168.0 663.0h.7M171.6 654.7h.7M170.9 655.9h.7M163.4 650.9h.7M171.1 664.3h.7M165.2 646.0h.7M172.5 654.4h.7M169.0 649.4h.7M169.4 658.3h.7M171.1 643.6h.7M168.7 651.7h.7M166.7 649.7h.7M170.0 655.4h.7M163.9 659.9h.7M169.7 651.6h.7M167.3 663.6h.7M164.4 643.9h.7M165.7 657.6h.7M170.9 646.0h.7M166.9 651.6h.7M169.5 650.0h.7M167.1 652.4h.7M169.8 644.6h.7M169.4 661.8h.7M165.7 657.4h.7M170.3 644.8h.7M169.6 658.8h.7M167.4 653.1h.7M170.5 651.5h.7M170.3 654.9h.7M173.3 659.1h.7M168.0 647.1h.7M170.4 658.5h.7M166.6 654.5h.7M170.5 648.1h.7M164.3 653.9h.7M168.8 647.2h.7M169.9 645.9h.7M167.2 656.1h.7M168.7 651.2h.7M174.5 652.4h.7M167.9 658.0h.7M168.9 655.0h.7M169.9 653.3h.7M166.1 657.5h.7M166.6 652.9h.7M161.2 656.5h.7M168.0 659.6h.7M169.9 654.4h.7M169.9 651.5h.7M167.2 646.1h.7M170.5 659.1h.7M167.7 659.7h.7M166.7 653.4h.7M166.9 653.9h.7M169.5 647.0h.7M169.7 647.8h.7M166.7 654.7h.7M170.8 655.6h.7M169.5 652.1h.7M169.8 646.7h.7M168.6 655.5h.7M166.3 643.5h.7M170.6 659.3h.7M164.5 664.9h.7M168.3 656.0h.7M161.8 651.6h.7M168.3 642.9h.7M168.5 660.1h.7M168.4 652.4h.7M165.4 659.6h.7M166.6 653.0h.7M170.9 656.6h.7M169.2 644.1h.7M165.8 658.4h.7M166.6 650.1h.7M165.7 647.3h.7M166.6 656.1h.7M169.2 648.4h.7M167.1 653.4h.7M170.5 643.6h.7M166.9 648.4h.7M170.9 649.5h.7M168.7 651.4h.7M165.4 653.6h.7M166.2 655.5h.7M168.8 642.6h.7M169.0 654.7h.7M171.3 657.7h.7M170.5 656.8h.7M169.1 642.6h.7M168.0 656.2h.7M167.8 649.7h.7M162.6 642.3h.7M165.5 650.4h.7M169.8 656.8h.7M167.5 647.1h.7M167.2 649.3h.7M168.1 653.0h.7M168.6 651.0h.7M167.5 647.2h.7M168.4 652.1h.7M162.5 661.1h.7M170.2 649.2h.7M169.0 646.6h.7M163.6 653.5h.7M170.0 648.5h.7M171.0 648.8h.7M167.9 645.6h.7M166.5 654.6h.7M172.6 654.2h.7M171.8 656.7h.7M168.2 647.7h.7M164.1 653.2h.7M162.6 656.5h.7M167.9 652.8h.7M170.7 657.8h.7M172.5 654.5h.7M165.5 651.0h.7M170.0 648.3h.7M169.6 657.0h.7M163.5 644.3h.7M168.7 650.7h.7M171.1 648.0h.7M165.3 661.1h.7M163.5 660.5h.7M169.8 652.3h.7M168.3 657.3h.7M168.5 654.7h.7M168.1 649.7h.7M168.3 649.5h.7M167.7 645.9h.7M172.8 654.0h.7M168.6 653.4h.7M167.1 646.9h.7M168.8 665.1h.7M171.4 649.2h.7M164.5 651.9h.7M167.4 651.5h.7M168.3 639.4h.7M170.9 641.6h.7M171.0 654.0h.7M171.5 644.0h.7M167.1 650.0h.7M170.0 649.3h.7M170.4 662.0h.7M171.0 647.1h.7M167.6 644.1h.7M160.3 641.6h.7M162.9 641.3h.7M168.1 643.9h.7M153.7 646.8h.7M165.2 643.7h.7M161.3 644.5h.7M152.5 646.1h.7M158.1 645.5h.7M167.4 640.0h.7M163.3 642.1h.7M159.0 649.0h.7M158.6 645.9h.7M163.8 643.0h.7M160.6 648.3h.7M163.2 641.8h.7M142.3 648.0h.7M152.8 643.6h.7M169.4 638.7h.7M156.0 647.6h.7M152.5 643.7h.7M157.0 641.8h.7M160.6 643.2h.7M157.7 642.2h.7M154.1 644.5h.7M152.8 643.5h.7M162.3 640.3h.7M158.2 646.1h.7M154.3 642.4h.7M154.0 643.6h.7M160.2 640.7h.7M151.5 640.5h.7M147.6 642.1h.7M160.3 639.3h.7M155.7 642.9h.7M153.1 645.9h.7M147.1 644.8h.7M154.6 640.5h.7M171.6 644.5h.7M167.7 640.6h.7M151.9 649.8h.7M158.9 644.7h.7M166.3 643.8h.7M170.6 646.0h.7M158.8 642.4h.7M169.7 638.9h.7M155.0 642.4h.7M161.2 641.7h.7M155.2 645.9h.7M151.0 648.5h.7M160.2 641.2h.7M153.7 641.7h.7M150.4 646.7h.7M155.3 647.4h.7M150.5 644.1h.7M155.8 644.1h.7M158.3 646.4h.7M167.2 642.9h.7M167.0 643.6h.7M163.9 645.0h.7M144.3 646.8h.7M161.7 642.8h.7M167.7 639.5h.7M156.4 641.8h.7M165.7 643.1h.7M160.9 639.1h.7M148.2 644.4h.7M160.7 640.1h.7M160.1 641.8h.7M162.4 637.7h.7M157.9 642.5h.7M155.5 641.3h.7M155.2 648.9h.7M150.5 646.5h.7M151.3 646.1h.7M158.5 643.0h.7M152.9 640.6h.7M164.1 641.9h.7M165.4 642.6h.7M159.3 639.8h.7M162.1 642.6h.7M148.4 646.4h.7M153.1 642.4h.7M159.4 642.5h.7M147.2 644.1h.7M161.3 638.6h.7M166.9 648.5h.7M166.1 641.2h.7M156.7 647.2h.7M157.2 639.6h.7M162.2 642.2h.7M160.5 646.0h.7M145.0 644.7h.7M150.3 645.0h.7M166.3 643.8h.7M151.0 644.6h.7M154.7 644.8h.7M160.7 643.3h.7M163.0 637.6h.7M149.8 653.8h.7M155.5 649.8h.7M149.7 641.2h.7M157.3 643.9h.7M155.6 641.1h.7M170.1 646.4h.7M139.4 679.8h.7M113.6 685.8h.7M128.2 680.0h.7M116.2 679.4h.7M124.3 680.1h.7M113.6 683.6h.7M148.0 683.9h.7M130.3 681.2h.7M134.9 677.8h.7M137.9 678.8h.7M113.6 679.4h.7M151.0 681.0h.7M122.1 680.1h.7M113.6 682.9h.7M130.7 680.7h.7M125.1 678.1h.7M124.4 676.6h.7M123.7 684.4h.7M137.0 677.0h.7M113.6 685.8h.7M125.4 678.5h.7M124.6 682.9h.7M124.5 676.8h.7M113.6 685.8h.7M117.4 680.9h.7M143.8 674.2h.7M130.0 681.7h.7M140.5 680.4h.7M119.3 679.8h.7M135.2 676.6h.7M113.6 684.8h.7M123.6 680.9h.7M129.4 685.3h.7M113.6 685.8h.7M113.6 677.3h.7M129.1 685.8h.7M116.3 682.3h.7M136.3 674.3h.7M137.1 683.6h.7M133.3 684.2h.7M131.3 681.1h.7M143.9 681.5h.7M140.9 676.3h.7M114.5 685.8h.7M129.8 679.3h.7M113.6 681.7h.7M113.6 678.7h.7M117.2 681.1h.7M121.8 679.3h.7M136.5 685.8h.7M132.3 680.0h.7M119.2 679.6h.7M132.5 676.9h.7M113.6 682.9h.7M123.5 681.8h.7M146.9 676.4h.7M141.5 681.6h.7M124.1 684.6h.7M124.6 682.2h.7M140.4 681.8h.7M142.2 681.2h.7M149.2 679.8h.7M120.8 681.1h.7M126.9 683.5h.7M137.0 677.4h.7M140.6 684.0h.7M140.7 685.8h.7M131.4 682.0h.7M119.4 680.6h.7M117.1 684.6h.7M117.3 678.7h.7M140.0 679.2h.7M129.3 682.8h.7M139.8 676.2h.7M121.9 685.5h.7M143.0 683.0h.7M134.4 675.9h.7M113.6 682.1h.7M134.3 676.2h.7M145.0 681.2h.7M133.5 678.5h.7M142.8 677.5h.7M134.9 684.3h.7M132.6 680.1h.7M133.5 684.7h.7M120.3 681.4h.7M119.6 678.1h.7M137.2 680.5h.7M143.3 677.1h.7M133.9 678.7h.7M149.3 680.7h.7M139.7 677.0h.7M118.9 679.5h.7M127.0 683.6h.7M124.8 680.6h.7M122.6 684.7h.7M128.8 680.8h.7M119.7 685.1h.7M116.7 684.7h.7M138.8 677.7h.7M118.2 682.3h.7M125.4 680.0h.7M133.2 685.8h.7M114.2 681.9h.7M124.2 678.5h.7M120.0 685.8h.7M155.5 670.7h.7M122.4 676.4h.7M122.5 684.7h.7M137.8 685.8h.7M115.6 685.8h.7M145.5 682.9h.7M129.0 680.5h.7M130.6 679.3h.7M139.2 678.0h.7M122.3 681.2h.7M131.3 678.5h.7M142.1 679.8h.7M123.0 685.8h.7M134.6 680.8h.7M138.2 683.3h.7M126.5 683.8h.7M118.2 685.8h.7M126.0 683.7h.7M137.0 678.0h.7M135.7 681.4h.7M134.6 680.7h.7M113.6 685.8h.7M126.3 678.9h.7M113.6 676.2h.7M127.7 683.7h.7M129.9 682.3h.7M130.6 685.8h.7M133.9 678.7h.7M154.2 677.9h.7M131.7 674.9h.7M119.6 678.9h.7M131.5 682.6h.7M117.0 673.9h.7M128.5 678.1h.7M134.2 685.8h.7M127.5 682.2h.7M143.7 675.4h.7M114.7 682.9h.7M113.6 684.1h.7M124.6 677.2h.7M140.0 683.1h.7M132.7 680.9h.7M127.0 681.3h.7M125.6 676.9h.7M123.7 672.3h.7M113.6 685.8h.7M125.7 684.1h.7M113.6 685.8h.7M128.8 684.4h.7M151.7 679.1h.7M131.6 684.5h.7M114.6 677.1h.7M115.1 682.9h.7M132.8 680.6h.7M136.9 675.5h.7M125.7 678.2h.7M141.6 677.9h.7M146.9 681.4h.7M146.1 681.1h.7M131.4 678.2h.7M136.9 668.5h.7M126.4 676.9h.7M113.6 682.5h.7M113.6 685.8h.7M115.6 679.0h.7M127.8 681.7h.7M125.1 685.3h.7M117.3 682.1h.7M113.6 682.5h.7M125.1 682.2h.7M120.2 677.8h.7M122.8 677.9h.7M114.0 682.0h.7M134.7 678.8h.7M125.7 685.8h.7M144.6 684.1h.7M144.4 671.0h.7M117.5 680.0h.7M143.0 683.7h.7M118.5 676.2h.7M139.1 674.8h.7M123.2 682.8h.7M120.4 685.8h.7M126.1 674.3h.7M131.2 676.3h.7M125.2 685.6h.7M120.6 685.8h.7M119.1 685.8h.7M127.5 675.2h.7M122.8 681.3h.7M127.1 681.6h.7M123.6 680.4h.7M113.6 683.8h.7M113.6 683.0h.7M113.6 682.3h.7M128.3 679.4h.7M119.4 683.2h.7M127.6 683.4h.7M116.8 679.1h.7M122.8 680.9h.7M123.0 684.6h.7M146.5 680.9h.7M128.9 680.2h.7M133.2 678.2h.7M113.6 682.2h.7M114.9 683.6h.7M136.4 685.8h.7M135.6 677.7h.7M113.6 678.2h.7M139.5 681.6h.7M114.9 680.2h.7M120.8 685.8h.7M119.7 681.0h.7M141.3 681.7h.7M125.5 681.8h.7M125.7 682.1h.7M136.9 678.5h.7M141.5 685.5h.7M139.9 682.6h.7M116.6 682.1h.7M132.6 676.5h.7M115.8 681.7h.7M140.3 684.0h.7M147.2 679.0h.7M113.6 685.8h.7M136.4 680.7h.7M135.5 678.1h.7M125.4 685.8h.7M131.9 685.2h.7M133.5 678.6h.7M126.7 679.6h.7M131.7 682.8h.7M113.6 685.8h.7M125.4 674.5h.7M121.1 684.6h.7M116.5 682.5h.7M126.0 681.3h.7M129.2 685.8h.7M113.6 683.2h.7M131.2 683.6h.7M128.1 678.5h.7M113.6 683.7h.7M123.6 683.4h.7M122.9 685.8h.7M129.7 679.5h.7M118.8 682.5h.7M121.6 683.4h.7M133.2 682.1h.7M154.2 675.6h.7M113.6 681.7h.7M138.3 685.8h.7M135.7 682.7h.7M124.5 683.2h.7M113.6 685.3h.7M126.4 682.3h.7M113.6 683.9h.7M127.5 685.2h.7M138.1 679.1h.7M138.0 680.8h.7M129.8 675.8h.7M132.5 681.3h.7M123.5 679.0h.7M128.9 683.5h.7M120.6 679.6h.7M117.9 682.7h.7M132.4 685.8h.7M138.8 680.7h.7M119.5 679.2h.7M126.3 681.1h.7M135.0 677.3h.7M129.6 679.0h.7M115.9 685.5h.7M137.6 680.5h.7M118.6 678.0h.7M141.3 677.6h.7M126.2 676.1h.7M124.1 685.2h.7M128.7 682.4h.7M131.8 683.4h.7M145.5 678.9h.7M134.3 677.2h.7M159.1 678.3h.7M123.6 679.9h.7M134.6 678.8h.7M131.5 675.9h.7M140.9 675.8h.7M113.6 685.8h.7M118.4 684.8h.7M121.2 674.8h.7M132.6 684.9h.7M129.8 677.7h.7M144.2 679.0h.7M125.2 685.0h.7M126.6 682.2h.7M113.6 685.8h.7M148.5 674.3h.7M113.6 678.3h.7M138.4 685.3h.7M126.0 680.2h.7M113.6 685.8h.7M121.4 678.4h.7M121.0 681.2h.7M133.1 685.0h.7M113.6 681.2h.7M133.8 677.1h.7M126.6 684.3h.7M113.6 677.2h.7M113.6 684.1h.7M129.4 685.8h.7M125.3 679.8h.7M132.7 683.3h.7M119.6 683.4h.7M129.3 681.2h.7M113.6 685.8h.7M119.5 683.9h.7M132.3 684.2h.7M113.6 684.5h.7M131.1 678.3h.7M139.8 677.3h.7M127.1 677.3h.7M135.7 685.8h.7M151.1 677.0h.7M126.0 683.4h.7M123.0 685.8h.7M133.1 682.5h.7M131.9 685.8h.7M137.2 677.4h.7M138.2 677.7h.7M135.6 679.7h.7M132.1 676.9h.7M130.1 685.7h.7M129.2 680.2h.7M150.0 676.8h.7M114.1 685.2h.7M124.9 673.9h.7M136.2 681.2h.7M118.5 678.7h.7M128.3 679.6h.7M121.1 681.9h.7M144.9 673.5h.7M130.5 682.9h.7M125.0 685.8h.7M133.4 684.6h.7M130.4 682.1h.7M133.4 676.4h.7M131.4 678.7h.7M127.7 685.8h.7M128.9 676.8h.7M138.5 679.7h.7M145.2 683.1h.7M140.2 678.4h.7M129.7 679.3h.7M147.4 681.8h.7M140.5 677.9h.7M126.5 681.6h.7M116.7 683.2h.7M135.6 677.7h.7M124.1 677.1h.7M122.5 681.7h.7M141.7 681.8h.7M128.5 678.0h.7M141.2 676.2h.7M113.6 678.4h.7M119.8 678.8h.7M123.6 680.5h.7M113.6 676.6h.7M123.8 675.3h.7M134.4 677.6h.7M113.6 685.8h.7M137.1 679.0h.7M127.6 675.0h.7M130.2 682.4h.7M125.2 684.7h.7M129.9 679.3h.7M124.5 682.3h.7M126.3 680.6h.7M136.3 680.3h.7M121.3 684.9h.7M124.3 683.4h.7M131.1 683.1h.7M122.7 676.3h.7M121.6 685.8h.7M120.3 683.0h.7M126.3 679.2h.7M132.8 679.0h.7M113.6 678.1h.7M120.6 683.5h.7M126.5 679.7h.7M128.1 685.8h.7M139.5 683.4h.7M115.6 683.2h.7M127.3 681.1h.7M119.2 684.7h.7M119.1 683.8h.7M131.5 678.1h.7M137.6 676.7h.7M113.6 685.8h.7M115.5 681.8h.7M114.4 682.0h.7M142.1 681.4h.7M125.9 677.9h.7M118.1 684.3h.7M137.1 681.1h.7M137.8 684.1h.7M132.2 679.2h.7M113.6 685.5h.7M120.5 680.3h.7M120.7 682.0h.7M113.6 677.0h.7M137.1 678.5h.7M122.9 681.3h.7M113.6 683.7h.7M113.6 685.8h.7M126.7 675.0h.7M137.2 676.4h.7M147.5 678.1h.7M135.8 681.3h.7M133.4 680.1h.7M113.6 685.4h.7M146.0 682.4h.7M132.8 675.1h.7M124.7 680.6h.7M121.8 685.3h.7M137.9 680.2h.7M121.2 679.0h.7M134.6 677.5h.7M151.7 678.9h.7M129.2 683.2h.7M122.5 678.9h.7M133.7 679.6h.7M137.6 682.1h.7M121.4 681.0h.7M125.2 685.8h.7M130.3 677.6h.7M122.4 685.8h.7M141.5 678.4h.7M129.4 680.0h.7M129.2 683.6h.7M123.0 680.1h.7M120.3 683.6h.7M133.5 680.9h.7M127.1 683.6h.7M140.1 681.7h.7M113.6 685.8h.7M128.1 681.9h.7M128.6 680.1h.7M134.5 674.7h.7M125.0 683.5h.7M115.8 678.6h.7M113.6 685.8h.7M146.3 684.2h.7M118.7 682.1h.7M135.0 676.8h.7M121.8 680.8h.7M131.5 681.5h.7M130.3 682.5h.7M126.4 680.8h.7M136.2 681.9h.7M127.0 680.7h.7M121.6 681.2h.7M123.3 679.9h.7M125.7 680.1h.7M122.2 682.9h.7M113.6 685.8h.7M143.6 673.5h.7M122.6 679.3h.7M113.6 683.3h.7M124.8 685.7h.7M135.0 676.5h.7M123.0 681.1h.7M128.2 685.8h.7M116.7 685.8h.7M118.0 684.3h.7M119.2 685.8h.7M127.9 680.8h.7M126.4 682.2h.7M123.4 684.7h.7M145.4 679.3h.7M130.1 677.5h.7M113.6 684.5h.7M135.5 681.3h.7M134.2 677.5h.7M127.1 676.9h.7M140.3 679.8h.7M138.6 676.0h.7M125.8 685.8h.7M129.6 678.4h.7M115.7 685.8h.7M131.6 678.0h.7M128.0 681.1h.7M121.4 683.5h.7M145.0 685.2h.7M116.2 679.8h.7M134.4 680.4h.7M123.1 680.8h.7M129.8 681.3h.7M117.9 684.1h.7M160.6 678.0h.7M157.9 677.8h.7M129.8 679.0h.7M118.5 681.5h.7M135.5 683.9h.7M121.7 685.5h.7M136.4 681.4h.7M136.4 677.5h.7M119.7 683.8h.7M113.6 679.3h.7M129.7 683.6h.7M131.1 679.1h.7M133.0 684.6h.7M135.0 679.8h.7M140.4 677.7h.7M113.6 685.4h.7M113.6 682.4h.7M139.1 672.9h.7M159.0 668.2h.7M144.1 665.6h.7M141.5 674.1h.7M145.6 674.4h.7M144.8 666.1h.7M149.5 671.5h.7M147.4 670.1h.7M143.8 673.8h.7M161.6 664.2h.7M136.8 669.1h.7M141.4 671.7h.7M154.8 663.2h.7M152.2 665.1h.7M136.0 675.9h.7M134.7 678.3h.7M145.8 672.5h.7M122.1 685.8h.7M144.7 673.6h.7M140.6 675.9h.7M146.6 670.7h.7M150.0 665.6h.7M131.1 679.0h.7M139.5 673.6h.7M143.6 677.4h.7M133.1 670.4h.7M138.5 672.7h.7M142.7 671.4h.7M140.7 674.2h.7M151.9 662.1h.7M140.9 675.0h.7M121.6 676.7h.7M150.3 670.6h.7M133.6 685.5h.7M129.7 679.1h.7M142.1 676.3h.7M153.3 666.4h.7M128.6 681.2h.7M129.8 667.9h.7M149.2 661.7h.7M145.1 666.5h.7M153.9 669.5h.7M135.4 677.9h.7M135.4 674.9h.7M127.9 679.6h.7M147.2 668.6h.7M162.4 662.7h.7M137.8 668.8h.7M151.4 673.5h.7M137.8 675.0h.7M135.7 679.8h.7M126.4 679.5h.7M135.6 672.6h.7M155.5 667.6h.7M144.9 673.5h.7M131.4 677.2h.7M150.9 669.5h.7M138.8 665.8h.7M141.0 670.8h.7M141.5 669.1h.7M134.2 675.7h.7M145.2 676.9h.7M146.6 662.9h.7M144.1 672.0h.7M147.9 673.5h.7M125.7 675.7h.7M145.7 670.6h.7M142.6 672.7h.7M135.8 675.8h.7M152.2 663.9h.7M144.8 669.5h.7M131.3 678.0h.7M141.3 674.3h.7M133.6 684.7h.7M150.1 671.6h.7M139.5 665.0h.7M146.3 674.3h.7M136.0 674.8h.7M150.0 674.8h.7M143.1 671.6h.7M135.6 673.5h.7M143.9 673.7h.7M145.3 677.9h.7M130.4 675.6h.7M148.1 662.5h.7M153.9 669.8h.7M152.9 662.1h.7M146.1 678.4h.7M149.5 667.0h.7M135.0 672.3h.7M136.4 673.6h.7M137.9 673.5h.7M129.1 683.1h.7M145.6 674.4h.7M122.1 685.3h.7M140.7 671.1h.7M143.1 667.3h.7M147.9 676.9h.7M142.5 668.7h.7M141.4 667.4h.7M145.0 672.0h.7M133.6 683.1h.7M145.9 664.9h.7M143.6 673.2h.7M138.7 675.6h.7M142.5 675.3h.7M141.9 671.3h.7M159.5 660.1h.7M141.5 674.3h.7M132.7 678.0h.7M132.0 673.8h.7M130.7 677.0h.7M158.5 666.8h.7M127.0 676.7h.7M136.8 667.1h.7M143.8 675.8h.7M154.7 667.2h.7M148.5 664.0h.7M156.6 662.5h.7M141.1 679.1h.7M131.5 677.2h.7M155.0 670.2h.7M140.8 673.5h.7M139.3 683.8h.7M131.2 677.0h.7M145.9 668.6h.7M149.8 672.5h.7M127.6 685.8h.7M159.1 667.3h.7M141.3 676.5h.7M152.2 671.5h.7M139.9 680.1h.7M144.9 670.4h.7M139.1 675.8h.7M140.6 676.1h.7M159.7 657.0h.7M148.3 668.0h.7M127.5 678.0h.7M145.0 669.5h.7M141.7 667.4h.7M162.8 662.8h.7M145.8 670.1h.7M139.7 674.7h.7M133.7 675.4h.7M143.5 662.7h.7M124.9 683.1h.7M132.4 666.3h.7M143.0 672.5h.7M134.9 682.3h.7M146.8 662.6h.7M136.2 673.8h.7M143.4 667.0h.7M139.4 682.6h.7M137.0 672.2h.7M138.4 677.2h.7M145.3 670.1h.7M125.6 678.0h.7M147.8 672.3h.7M151.4 661.9h.7M164.6 651.5h.7M143.7 674.6h.7M143.4 669.8h.7M147.5 671.6h.7M130.4 684.2h.7M142.1 669.0h.7M137.8 670.8h.7M145.4 672.5h.7M145.0 672.8h.7M133.9 678.8h.7M140.3 670.9h.7M143.0 682.1h.7M143.3 669.3h.7M137.5 675.7h.7M132.6 684.3h.7M149.7 666.7h.7M148.3 670.7h.7M150.1 666.6h.7M127.7 683.3h.7M138.2 674.7h.7M134.7 681.3h.7M131.5 679.3h.7M147.0 666.5h.7M151.6 660.5h.7M142.9 675.3h.7M139.7 677.3h.7M137.1 678.6h.7M142.9 677.8h.7M131.2 670.6h.7M138.0 674.7h.7M138.5 676.1h.7M148.4 670.4h.7M134.9 677.1h.7M136.2 676.5h.7M145.5 668.7h.7M145.2 676.9h.7M143.3 666.8h.7M135.6 674.7h.7M145.6 665.8h.7M147.9 667.8h.7M150.4 671.0h.7M148.8 669.6h.7M135.9 682.8h.7M130.3 679.3h.7M125.3 684.9h.7M134.8 677.3h.7M129.8 679.4h.7M132.7 677.7h.7M150.1 672.0h.7M144.9 670.1h.7M157.2 674.9h.7M148.6 671.2h.7M148.0 669.0h.7M144.0 672.9h.7M140.7 664.1h.7M134.7 676.5h.7M141.7 665.5h.7M138.1 672.5h.7M128.8 678.0h.7M140.0 680.2h.7M139.1 672.2h.7M134.4 680.0h.7M139.7 676.5h.7M147.0 673.4h.7M148.3 671.3h.7M164.0 663.5h.7M151.4 670.0h.7M143.3 673.0h.7M140.0 677.8h.7M142.9 667.9h.7M133.8 683.9h.7M158.6 666.6h.7M131.1 678.0h.7M140.1 667.3h.7" stroke="#000" stroke-width=".8" opacity="0.42" fill="none" filter="url(#f05)"/>
<path d="M166.6 661.1h.7M167.1 661.2h.7M161.0 671.2h.7M168.5 658.4h.7M164.7 665.0h.7M164.8 663.0h.7M160.8 668.1h.7M162.0 669.3h.7M165.7 666.9h.7M167.2 662.7h.7M169.3 663.0h.7M155.7 666.4h.7M169.3 658.0h.7M168.9 657.4h.7M164.7 662.7h.7M168.3 656.3h.7M157.7 670.9h.7M156.4 674.2h.7M160.9 665.3h.7M167.8 662.0h.7M161.1 663.3h.7M164.5 666.3h.7M159.5 664.0h.7M163.3 664.6h.7M162.3 664.6h.7M160.7 663.7h.7M169.0 658.2h.7M154.2 670.6h.7M164.1 664.3h.7M152.4 674.7h.7M170.9 668.9h.7M161.0 658.0h.7M169.5 657.3h.7M163.6 667.5h.7M169.2 656.5h.7M163.0 670.7h.7M166.8 663.2h.7M170.1 654.4h.7M163.0 663.5h.7M166.8 665.2h.7M163.5 660.9h.7M161.7 668.6h.7M165.5 663.8h.7M167.3 657.9h.7M167.5 659.8h.7M160.3 663.4h.7M164.6 662.1h.7M170.9 660.0h.7M157.0 673.4h.7M163.0 661.9h.7M163.2 667.1h.7M160.8 668.4h.7M158.9 665.0h.7M174.9 653.4h.7M164.2 665.6h.7M165.9 665.3h.7M164.0 667.1h.7M164.0 667.1h.7M168.7 663.7h.7M169.4 658.4h.7M160.5 673.6h.7M162.8 671.8h.7M159.2 661.9h.7M161.4 664.9h.7M164.5 664.9h.7M170.5 655.9h.7M157.5 671.4h.7M158.2 671.7h.7M161.6 662.4h.7M165.6 665.6h.7M163.4 663.8h.7M160.5 668.9h.7M163.6 655.4h.7M166.8 664.4h.7M168.6 662.4h.7M160.5 669.1h.7M148.8 667.1h.7M164.7 663.7h.7M168.6 664.2h.7M150.5 677.2h.7M166.6 662.2h.7M159.4 668.3h.7M158.3 666.1h.7M161.6 664.4h.7M157.0 675.3h.7M159.2 668.3h.7M160.4 671.1h.7M158.2 672.2h.7M158.1 675.5h.7M164.2 661.9h.7M168.5 655.5h.7M168.2 658.0h.7M161.8 670.4h.7M164.9 659.9h.7M157.3 668.0h.7M163.0 664.1h.7M163.1 673.6h.7M158.0 672.4h.7M167.1 662.4h.7M171.1 661.7h.7M170.1 657.0h.7M161.6 669.0h.7M169.4 662.8h.7M157.8 671.3h.7M166.4 662.9h.7M160.0 664.8h.7M163.2 665.5h.7M167.9 654.2h.7M161.1 671.6h.7M157.1 669.9h.7M166.5 663.1h.7M164.0 667.6h.7M162.6 662.6h.7M158.4 673.2h.7M166.2 661.3h.7M162.4 667.0h.7M153.8 680.3h.7M162.3 667.6h.7M160.2 669.8h.7M165.3 667.8h.7M163.2 665.6h.7M162.6 665.1h.7M162.6 658.5h.7M149.1 672.9h.7M162.4 663.8h.7M161.4 666.3h.7M161.6 667.5h.7M171.5 654.9h.7M156.6 668.1h.7M164.3 668.5h.7M155.8 670.5h.7M162.1 664.2h.7M158.9 675.3h.7M161.3 665.4h.7M158.9 665.4h.7M164.6 668.0h.7M164.4 661.8h.7M164.6 663.0h.7M156.0 671.5h.7M164.7 669.7h.7M163.4 665.8h.7M159.0 667.7h.7M162.1 670.6h.7M168.4 658.7h.7M165.9 658.4h.7M162.0 661.6h.7M155.0 675.3h.7M174.1 658.7h.7M156.1 675.1h.7M162.0 669.4h.7M163.2 667.8h.7M164.7 664.7h.7M166.6 662.9h.7M161.0 666.9h.7M158.9 671.2h.7M166.2 664.1h.7M167.8 661.8h.7M162.4 665.4h.7M163.9 664.7h.7M155.0 674.4h.7M161.8 669.3h.7M166.8 665.3h.7M162.6 667.7h.7M156.6 672.7h.7M168.6 659.3h.7M163.2 666.4h.7M163.9 670.7h.7M161.9 664.4h.7M158.4 677.8h.7M160.9 661.6h.7M168.7 658.3h.7M155.1 667.2h.7M164.8 667.0h.7M156.1 668.4h.7M161.3 664.1h.7M157.6 669.8h.7M157.9 667.4h.7M154.1 671.5h.7M159.9 670.3h.7M155.1 668.7h.7M162.9 665.9h.7M160.8 669.9h.7M163.2 666.1h.7M161.6 666.2h.7M166.7 659.5h.7M163.8 664.6h.7M157.7 668.4h.7M158.8 672.6h.7M172.8 662.7h.7M161.6 667.1h.7M163.0 662.2h.7M158.5 658.9h.7M161.3 670.2h.7M158.6 668.9h.7M168.2 658.5h.7M161.3 665.0h.7M163.8 659.6h.7M155.6 673.0h.7M167.9 659.6h.7M156.7 669.9h.7M160.6 667.4h.7M174.1 655.5h.7M160.2 666.4h.7M159.0 668.4h.7M158.2 669.3h.7M150.4 671.7h.7M167.7 660.1h.7M170.7 656.2h.7M164.9 666.8h.7M165.2 665.5h.7M165.1 674.1h.7M163.8 663.1h.7M168.6 664.4h.7M166.4 668.7h.7M167.7 662.6h.7M161.1 671.3h.7M158.3 668.2h.7M161.3 672.1h.7M171.2 663.2h.7M161.5 646.5h.7M161.2 645.3h.7M160.4 646.4h.7M161.8 643.8h.7M166.9 643.7h.7M168.2 646.8h.7M162.7 646.0h.7M161.8 649.1h.7M164.4 646.9h.7M166.6 646.4h.7M167.4 647.4h.7M155.7 647.7h.7M168.8 646.6h.7M159.0 648.5h.7M145.0 647.8h.7M160.2 649.5h.7M166.8 645.6h.7M171.1 644.5h.7M169.4 645.0h.7M159.7 649.1h.7M172.8 643.9h.7M144.7 647.7h.7M146.0 649.3h.7M156.0 648.6h.7M149.5 649.6h.7M152.5 647.8h.7M157.7 646.8h.7M150.1 644.5h.7M168.2 643.3h.7M156.2 647.2h.7M168.1 644.9h.7M161.1 645.6h.7M167.0 646.6h.7M167.7 646.1h.7M171.1 644.4h.7M158.5 643.7h.7M161.2 646.0h.7M161.7 644.6h.7M158.5 648.2h.7M168.0 648.1h.7M162.8 645.2h.7M152.8 648.9h.7M167.5 644.3h.7M159.8 644.8h.7M159.0 646.1h.7M161.4 643.7h.7M174.0 642.9h.7M160.2 649.3h.7M160.8 647.5h.7M158.6 648.1h.7M160.7 645.9h.7M172.8 643.2h.7M168.3 641.6h.7M171.8 643.7h.7M171.0 645.4h.7M162.0 647.3h.7M160.3 647.1h.7M158.5 644.4h.7M168.6 643.9h.7M171.7 646.2h.7M166.8 644.6h.7M154.9 646.2h.7M164.6 646.9h.7M174.5 644.4h.7M163.5 644.8h.7M160.0 649.0h.7M170.3 643.5h.7M159.9 646.3h.7M164.3 645.6h.7M172.1 644.7h.7M169.4 644.0h.7M161.7 645.8h.7M161.3 646.7h.7M174.1 646.0h.7M169.9 645.5h.7M160.6 646.3h.7M160.2 649.2h.7M172.1 643.7h.7M161.0 648.6h.7M156.4 644.3h.7M157.2 648.2h.7M155.8 648.8h.7M160.2 650.1h.7M165.6 648.0h.7M153.8 647.0h.7M156.9 646.4h.7M157.7 644.3h.7M155.1 646.9h.7M155.3 645.1h.7M150.2 648.6h.7M165.3 646.6h.7M162.9 647.1h.7M160.1 646.2h.7M167.7 646.6h.7M157.5 646.9h.7M158.6 644.2h.7M163.7 643.5h.7M162.2 644.4h.7M152.5 644.8h.7M154.8 647.0h.7M163.0 646.5h.7M170.4 646.7h.7M168.3 648.1h.7M152.9 646.4h.7M174.6 646.3h.7M168.5 646.0h.7M152.9 645.9h.7M165.7 644.4h.7M157.7 647.6h.7M154.2 644.8h.7M164.6 649.9h.7M170.2 644.9h.7M168.2 646.2h.7M140.6 647.8h.7M160.1 645.4h.7M165.2 649.7h.7M163.1 644.7h.7M171.6 643.4h.7M160.6 648.6h.7M167.5 647.4h.7M174.5 644.9h.7M170.0 644.7h.7M170.8 644.4h.7M167.6 645.3h.7M158.6 649.5h.7M151.2 645.9h.7M158.8 646.1h.7M149.8 648.7h.7M169.5 644.9h.7M169.2 641.9h.7M155.2 647.3h.7M161.3 651.3h.7M164.9 644.2h.7M160.1 648.4h.7M175.0 645.5h.7M162.5 647.1h.7M162.3 646.0h.7M171.0 644.4h.7M166.5 646.1h.7M163.5 644.6h.7M158.2 646.8h.7M165.3 645.1h.7M166.1 647.7h.7M171.2 649.1h.7M157.1 648.5h.7M162.9 646.0h.7M163.8 645.6h.7M175.1 643.6h.7M163.5 649.4h.7M147.9 647.5h.7M173.0 645.0h.7M155.1 646.5h.7M155.6 645.2h.7M161.5 647.1h.7M163.5 643.7h.7M152.8 645.5h.7M163.9 644.4h.7M160.5 647.9h.7M173.8 647.2h.7M173.3 644.3h.7M172.8 642.5h.7M172.6 637.8h.7M172.5 646.5h.7M172.0 642.3h.7M173.1 642.7h.7M173.1 646.6h.7M173.3 639.4h.7M171.9 643.5h.7M173.0 643.7h.7M172.4 644.8h.7M172.1 646.3h.7M171.9 641.9h.7M172.3 640.3h.7M173.1 641.2h.7M173.5 642.6h.7M172.7 642.2h.7M173.7 645.7h.7M173.3 637.9h.7M173.5 648.7h.7M172.7 647.2h.7M173.2 643.0h.7M173.5 641.6h.7M172.7 638.4h.7M172.0 648.7h.7M173.7 641.0h.7M173.5 645.9h.7M173.5 640.2h.7M173.0 642.4h.7M172.9 640.9h.7M172.0 637.6h.7M172.3 646.3h.7M173.9 642.8h.7M171.8 641.9h.7M172.6 641.1h.7M172.1 642.9h.7M172.3 638.8h.7M173.7 641.2h.7M172.8 640.6h.7M172.4 638.7h.7M171.7 637.5h.7M172.7 644.6h.7M172.9 641.2h.7M172.0 642.6h.7M172.9 644.7h.7" stroke="#000" stroke-width=".7" opacity="0.6" fill="none"/>
</g></g>
<line x1="153.5" y1="636.8" x2="153.5" y2="686.4" stroke="#999" stroke-width="0.8"/>
<line x1="113" y1="652.5" x2="175.8" y2="652.5" stroke="#999" stroke-width="0.8"/>
<rect x="113" y="636.8" width="62.8" height="49.6" fill="none" stroke="#1a1a1a" stroke-width="1"/>
<text x="115.4" y="693" font-size="3.9" text-anchor="middle" fill="#222" stroke="#222" stroke-width=".25">10<tspan dy="-1.4" font-size="2.7">0</tspan></text>
<text font-size="3.7" text-anchor="middle" fill="#222" stroke="#222" stroke-width=".25" transform="translate(111.2 684.6) rotate(-90)">10<tspan dy="-1.3" font-size="2.6">0</tspan></text>
<text x="129.75" y="693" font-size="3.9" text-anchor="middle" fill="#222" stroke="#222" stroke-width=".25">10<tspan dy="-1.4" font-size="2.7">1</tspan></text>
<text font-size="3.7" text-anchor="middle" fill="#222" stroke="#222" stroke-width=".25" transform="translate(111.2 672.58) rotate(-90)">10<tspan dy="-1.3" font-size="2.6">1</tspan></text>
<text x="144.1" y="693" font-size="3.9" text-anchor="middle" fill="#222" stroke="#222" stroke-width=".25">10<tspan dy="-1.4" font-size="2.7">2</tspan></text>
<text font-size="3.7" text-anchor="middle" fill="#222" stroke="#222" stroke-width=".25" transform="translate(111.2 660.55) rotate(-90)">10<tspan dy="-1.3" font-size="2.6">2</tspan></text>
<text x="158.45" y="693" font-size="3.9" text-anchor="middle" fill="#222" stroke="#222" stroke-width=".25">10<tspan dy="-1.4" font-size="2.7">3</tspan></text>
<text font-size="3.7" text-anchor="middle" fill="#222" stroke="#222" stroke-width=".25" transform="translate(111.2 648.52) rotate(-90)">10<tspan dy="-1.3" font-size="2.6">3</tspan></text>
<text x="172.8" y="693" font-size="3.9" text-anchor="middle" fill="#222" stroke="#222" stroke-width=".25">10<tspan dy="-1.4" font-size="2.7">4</tspan></text>
<text font-size="3.7" text-anchor="middle" fill="#222" stroke="#222" stroke-width=".25" transform="translate(111.2 636.5) rotate(-90)">10<tspan dy="-1.3" font-size="2.6">4</tspan></text>
<clipPath id="c5"><rect x="183.8" y="636.8" width="62.8" height="49.6"/></clipPath>
<g clip-path="url(#c5)"><g filter="url(#f0)">
<ellipse cx="202.01" cy="680.45" rx="10.5" ry="5.8" fill="#000" opacity="1" transform="rotate(0 202.01 680.45)" filter="url(#f2)"/>
<ellipse cx="238.44" cy="644.49" rx="4.5" ry="1" fill="#000" opacity="0.75" transform="rotate(-10 238.44 644.49)" filter="url(#f1)"/>
<path d="M210.0 679.2h.7M219.4 685.8h.7M190.3 681.4h.7M211.1 669.9h.7M201.6 685.8h.7M208.1 667.3h.7M200.2 673.3h.7M213.9 685.3h.7M233.4 682.9h.7M206.4 682.4h.7M197.9 678.2h.7M203.3 680.0h.7M198.5 682.6h.7M196.0 682.0h.7M184.4 678.2h.7M204.4 678.1h.7M231.2 683.6h.7M206.8 682.3h.7M205.4 685.8h.7M226.6 675.7h.7M201.6 674.4h.7M204.0 674.9h.7M228.4 685.8h.7M199.6 685.8h.7M208.8 678.2h.7M211.5 672.1h.7M196.8 683.5h.7M218.3 672.9h.7M192.6 679.8h.7M190.0 679.2h.7M206.0 674.8h.7M199.9 682.7h.7M184.4 669.8h.7M219.7 683.9h.7M200.2 683.2h.7M188.7 678.2h.7M210.9 685.8h.7M226.6 671.3h.7M199.3 679.1h.7M189.9 685.7h.7M214.4 680.2h.7M190.8 674.7h.7M195.7 682.1h.7M219.0 682.0h.7M210.0 679.3h.7M200.8 677.0h.7M238.3 680.3h.7M184.4 672.9h.7M205.7 685.8h.7M205.5 680.3h.7M206.9 672.8h.7M184.4 678.0h.7M217.4 679.8h.7M194.9 682.8h.7M211.5 682.0h.7M184.4 673.1h.7M203.1 676.5h.7M185.9 683.6h.7M210.4 682.9h.7M199.9 675.2h.7M227.4 680.3h.7M184.4 680.9h.7M201.2 673.2h.7M206.1 684.9h.7M209.0 679.5h.7M206.5 676.5h.7M200.9 681.3h.7M208.9 678.0h.7M219.5 685.8h.7M219.4 681.7h.7M198.7 669.5h.7M206.3 683.7h.7M200.9 677.4h.7M185.3 685.2h.7M201.1 675.4h.7M196.6 674.9h.7M225.4 677.9h.7M208.8 677.3h.7M194.1 680.3h.7M210.5 676.3h.7M190.0 676.1h.7M189.0 683.5h.7M185.3 682.1h.7M207.8 678.1h.7M207.4 679.1h.7M212.6 675.8h.7M215.9 679.0h.7M207.7 683.4h.7M228.4 663.9h.7M217.6 683.0h.7M184.4 680.5h.7M184.4 676.4h.7M208.3 671.0h.7M232.1 673.8h.7M184.4 677.8h.7M211.8 673.3h.7M189.9 677.3h.7M186.4 683.6h.7M209.6 685.8h.7M201.9 676.3h.7M201.1 679.4h.7M204.6 680.1h.7M199.4 682.6h.7M197.2 685.3h.7M217.0 673.0h.7M198.2 675.5h.7M216.1 681.4h.7M188.2 672.8h.7M190.3 678.1h.7M203.3 680.3h.7M190.0 677.2h.7M212.9 669.2h.7M191.6 678.4h.7M216.1 685.1h.7M184.4 685.6h.7M210.2 671.6h.7M190.1 680.9h.7M193.8 685.8h.7M199.9 678.8h.7M215.7 672.4h.7M200.6 685.8h.7M190.0 670.2h.7M213.2 678.9h.7M207.8 681.5h.7M184.4 673.6h.7M219.9 681.3h.7M211.2 678.1h.7M202.0 680.1h.7M199.4 685.8h.7M187.1 685.8h.7M206.1 676.5h.7M201.7 681.9h.7M205.5 674.7h.7M185.1 670.0h.7M185.5 680.4h.7M207.9 682.2h.7M205.6 682.4h.7M231.3 680.9h.7M203.4 675.8h.7M209.3 681.7h.7M211.9 678.4h.7M214.4 674.9h.7M205.5 682.5h.7M187.8 685.8h.7M200.1 677.3h.7M201.5 669.0h.7M194.5 674.5h.7M192.5 683.4h.7M212.9 680.2h.7M209.3 682.9h.7M199.9 675.5h.7M199.3 681.1h.7M201.7 673.9h.7M195.9 680.8h.7M212.3 681.6h.7M196.8 681.4h.7M218.0 672.0h.7M207.3 671.8h.7M205.5 675.3h.7M203.3 685.3h.7M214.1 685.8h.7M207.6 685.1h.7M196.9 673.0h.7M196.6 677.7h.7M213.0 678.3h.7M194.3 678.3h.7M204.1 685.8h.7M210.7 677.8h.7M214.7 677.8h.7M209.8 685.8h.7M199.0 685.5h.7M217.2 668.1h.7M211.8 682.6h.7M199.5 680.9h.7M200.9 679.0h.7M208.7 677.4h.7M189.0 683.9h.7M184.4 675.5h.7M226.7 671.4h.7M212.9 682.4h.7M210.9 680.2h.7M210.9 677.6h.7M197.4 684.5h.7M213.4 684.3h.7M216.9 680.3h.7M205.8 673.5h.7M200.8 674.2h.7M213.6 685.8h.7M225.8 684.5h.7M203.4 681.6h.7M206.5 675.3h.7M211.5 682.7h.7M184.4 685.8h.7M200.6 670.5h.7M194.7 681.3h.7M184.7 673.4h.7M194.2 675.1h.7M215.3 678.1h.7M197.5 681.2h.7M204.7 682.5h.7M188.4 661.7h.7M210.3 684.0h.7M230.2 679.8h.7M206.5 679.0h.7M229.2 675.0h.7M206.1 679.2h.7M186.3 685.1h.7M221.7 685.8h.7M190.6 680.5h.7M194.9 670.7h.7M209.7 677.7h.7M213.6 670.8h.7M208.5 684.5h.7M204.1 673.2h.7M212.9 677.3h.7M223.1 667.6h.7M184.4 675.4h.7M210.2 674.3h.7M184.4 683.8h.7M225.0 664.2h.7M224.6 685.8h.7M200.7 672.6h.7M215.8 685.8h.7M197.1 684.7h.7M201.7 671.3h.7M198.2 679.3h.7M208.6 680.6h.7M185.5 678.5h.7M223.0 678.2h.7M220.1 669.4h.7M188.3 675.2h.7M220.4 681.8h.7M205.2 676.6h.7M218.2 676.4h.7M207.8 668.7h.7M207.5 681.0h.7M201.2 680.5h.7M210.5 672.7h.7M197.8 677.0h.7M199.5 675.7h.7M194.8 675.4h.7M229.2 677.6h.7M207.5 680.5h.7M217.0 685.8h.7M230.3 680.8h.7M204.7 678.5h.7M208.7 680.5h.7M199.9 683.2h.7M209.3 684.6h.7M207.6 675.5h.7M210.8 674.1h.7M205.6 678.4h.7M218.2 680.6h.7M204.0 684.4h.7M216.9 669.0h.7M186.2 677.4h.7M208.6 674.1h.7M211.6 675.1h.7M233.1 685.8h.7M197.5 672.1h.7M207.6 674.1h.7M211.6 671.4h.7M198.9 673.3h.7M205.5 670.3h.7M205.0 674.7h.7M194.6 673.0h.7M193.1 670.1h.7M227.5 668.7h.7M205.9 685.8h.7M184.4 681.6h.7M227.0 684.0h.7M212.6 682.8h.7M194.3 685.8h.7M198.9 680.4h.7M191.1 685.8h.7M196.3 679.8h.7M195.5 677.3h.7M194.3 683.7h.7M186.7 675.7h.7M202.5 682.0h.7M215.4 667.0h.7M200.2 681.8h.7M224.2 683.2h.7M192.2 683.5h.7M194.1 674.1h.7M184.4 680.7h.7M212.0 683.3h.7M206.5 674.3h.7M201.8 685.8h.7M207.1 673.5h.7M192.5 682.1h.7M212.1 676.2h.7M184.4 676.5h.7M199.6 685.5h.7M224.0 682.3h.7M199.1 678.6h.7M218.2 672.3h.7M193.8 675.4h.7M190.9 672.1h.7M189.3 685.8h.7M207.9 685.8h.7M227.4 679.5h.7M229.7 684.8h.7M217.0 679.3h.7M207.2 684.5h.7M209.3 677.6h.7M240.9 676.1h.7M212.0 680.7h.7M217.9 680.2h.7M206.9 679.4h.7M205.8 677.4h.7M205.3 685.8h.7M216.1 680.8h.7M192.9 685.5h.7M205.6 678.1h.7M216.8 681.2h.7M195.2 676.6h.7M218.4 671.8h.7M184.4 678.3h.7M205.7 679.5h.7M201.1 668.8h.7M207.9 673.6h.7M187.0 682.8h.7M213.0 672.9h.7M218.9 678.0h.7M225.3 679.3h.7M196.0 681.3h.7M223.5 679.4h.7M188.1 679.8h.7M195.0 673.7h.7M205.9 677.5h.7M209.2 685.8h.7M188.8 681.5h.7M192.9 677.1h.7M208.1 680.8h.7M208.3 678.9h.7M184.4 679.8h.7M215.5 682.0h.7M195.8 680.8h.7M213.5 677.0h.7M195.8 680.4h.7M198.6 685.8h.7M184.4 684.4h.7M219.8 671.1h.7M190.5 668.2h.7M196.9 685.8h.7M184.4 685.8h.7M217.4 676.7h.7M206.7 685.2h.7M216.3 683.7h.7M184.4 683.5h.7M205.4 672.0h.7M190.4 671.0h.7M228.4 680.0h.7M211.6 684.6h.7M205.6 683.2h.7M184.4 681.7h.7M210.9 675.9h.7M222.8 673.0h.7M184.4 678.9h.7M206.0 679.4h.7M207.7 683.7h.7M198.5 685.8h.7M214.7 685.4h.7M208.2 675.4h.7M199.3 675.8h.7M201.7 674.7h.7M208.5 673.2h.7M204.5 678.6h.7M193.9 677.1h.7M219.6 676.4h.7M216.5 681.5h.7M190.8 685.8h.7M191.1 681.0h.7M191.5 683.0h.7M206.9 680.4h.7M192.1 679.0h.7M208.6 685.8h.7M231.5 670.2h.7M212.0 684.9h.7M195.6 675.0h.7M230.4 679.8h.7M184.4 674.1h.7M198.7 674.6h.7M194.4 681.5h.7M199.4 685.8h.7M216.5 685.8h.7M202.7 676.4h.7M198.4 681.8h.7M204.1 674.2h.7M195.1 679.1h.7M220.0 678.5h.7M188.1 679.7h.7M184.4 682.9h.7M208.5 675.2h.7M210.0 684.3h.7M214.8 673.6h.7M206.9 678.9h.7M201.1 685.4h.7M205.4 682.7h.7M215.9 672.3h.7M201.7 669.2h.7M209.1 666.2h.7M217.0 669.6h.7M184.4 681.9h.7M226.9 679.9h.7M185.6 685.8h.7M202.1 683.6h.7M196.7 685.8h.7M199.4 684.4h.7M209.6 669.5h.7M205.7 674.6h.7M203.8 678.8h.7M192.1 681.1h.7M215.0 682.1h.7M213.8 685.8h.7M212.1 678.9h.7M210.7 682.2h.7M202.4 677.4h.7M231.5 680.5h.7M211.2 665.5h.7M208.1 678.0h.7M223.5 685.0h.7M190.0 685.0h.7M232.1 682.5h.7M203.8 683.7h.7M210.2 678.1h.7M195.9 681.6h.7M214.6 679.1h.7M197.8 685.8h.7M234.9 685.8h.7M202.5 679.7h.7M198.7 676.7h.7M184.4 682.8h.7M189.8 680.4h.7M200.7 677.9h.7M184.4 681.4h.7M202.8 681.4h.7M197.9 683.0h.7M224.7 672.8h.7M204.0 677.3h.7M216.7 680.9h.7M188.8 677.7h.7M199.5 676.1h.7M208.8 685.8h.7M219.0 680.2h.7M219.5 678.0h.7M220.4 679.4h.7M191.6 684.4h.7M208.6 665.9h.7M204.5 685.8h.7M210.1 676.1h.7M206.8 676.7h.7M196.9 680.6h.7M198.2 685.7h.7M201.7 684.1h.7M187.5 676.2h.7M184.4 685.8h.7M217.9 675.0h.7M203.2 673.6h.7M220.6 685.8h.7M200.2 680.0h.7M195.0 685.8h.7M205.7 685.8h.7M196.1 682.6h.7M202.3 675.6h.7M201.7 675.5h.7M215.7 673.8h.7M190.6 685.8h.7M199.9 671.9h.7M219.3 674.4h.7M191.7 680.7h.7M199.8 676.5h.7M219.5 685.8h.7M189.9 681.2h.7M184.4 685.2h.7M201.9 680.8h.7M211.8 683.6h.7M224.0 674.5h.7M197.4 678.6h.7M207.8 678.5h.7M193.5 673.4h.7M208.1 682.1h.7M206.0 675.0h.7M203.5 685.8h.7M188.0 678.5h.7M205.5 676.5h.7M199.0 685.2h.7M224.1 676.2h.7M200.8 672.0h.7M191.3 673.4h.7M184.4 677.7h.7M199.7 682.2h.7M221.0 677.2h.7M216.0 675.4h.7M215.9 666.6h.7M202.3 673.8h.7M211.5 681.1h.7M200.7 679.4h.7M202.5 667.7h.7M210.5 664.4h.7M226.1 667.7h.7M207.8 672.9h.7M211.8 664.9h.7M212.1 660.4h.7M200.9 671.5h.7M212.8 662.6h.7M212.5 663.1h.7M220.1 666.5h.7M226.0 667.7h.7M221.4 665.2h.7M219.3 676.9h.7M242.6 656.0h.7M216.4 660.0h.7M229.8 664.7h.7M219.2 676.8h.7M209.2 680.5h.7M227.9 669.8h.7M224.2 660.8h.7M240.5 673.7h.7M211.1 676.8h.7M207.4 662.2h.7M208.0 673.5h.7M223.2 658.8h.7M217.9 675.1h.7M221.1 672.9h.7M231.3 668.8h.7M222.3 645.0h.7M193.9 667.8h.7M186.3 668.9h.7M231.2 665.2h.7M232.0 671.1h.7M218.3 675.1h.7M237.3 659.8h.7M219.2 680.9h.7M216.0 663.9h.7M227.7 662.1h.7M212.7 650.3h.7M217.5 670.4h.7M214.4 667.1h.7M223.2 664.8h.7M208.9 659.0h.7M214.4 672.7h.7M207.9 667.8h.7M217.8 667.8h.7M203.9 674.9h.7M220.3 678.1h.7M215.2 675.1h.7M202.9 662.8h.7M206.8 661.5h.7M224.8 653.7h.7M217.4 654.3h.7M219.1 654.9h.7M212.6 665.3h.7M219.5 674.7h.7M209.6 680.0h.7M226.4 647.7h.7M210.4 675.6h.7M231.2 642.5h.7M246.0 642.6h.7M232.0 645.5h.7M222.1 649.7h.7M233.2 643.8h.7M237.7 643.5h.7M235.4 646.6h.7M231.1 645.8h.7M240.3 646.5h.7M228.1 645.7h.7M228.9 646.8h.7M231.2 643.5h.7M227.8 649.2h.7M234.6 647.6h.7M235.8 648.8h.7M244.2 641.7h.7M211.2 652.6h.7M230.2 642.5h.7M241.3 644.6h.7M217.1 650.6h.7M235.2 644.5h.7M229.8 644.3h.7M221.7 642.4h.7M236.1 645.8h.7M245.5 649.4h.7M238.9 641.3h.7M242.1 643.8h.7M237.5 645.9h.7M235.3 645.1h.7M235.0 643.7h.7M236.4 640.8h.7M229.3 650.2h.7M233.0 648.8h.7M238.6 644.7h.7M228.7 642.1h.7M236.9 639.7h.7M233.1 645.7h.7M229.6 641.4h.7M237.6 643.8h.7M236.6 641.1h.7M244.3 644.5h.7M236.7 644.5h.7M231.1 648.2h.7M240.2 647.3h.7M231.8 643.7h.7M232.9 646.8h.7M237.2 645.4h.7M245.6 640.1h.7M234.2 643.5h.7M243.0 650.7h.7M226.9 645.2h.7M233.5 642.2h.7M237.4 644.0h.7M239.5 646.6h.7M235.1 643.3h.7M237.8 644.9h.7M232.1 639.5h.7M241.8 643.0h.7M228.3 644.2h.7M230.5 640.2h.7M238.0 646.8h.7M242.1 642.1h.7M238.5 641.5h.7M237.9 644.7h.7M227.7 652.7h.7M243.6 645.2h.7M235.8 641.3h.7M236.3 641.8h.7M236.8 641.4h.7M234.9 647.7h.7M221.3 650.9h.7M239.7 646.7h.7M230.8 648.2h.7M222.8 644.0h.7M237.5 646.5h.7M227.7 643.0h.7M233.6 645.0h.7M232.0 643.0h.7M230.6 648.8h.7M228.7 645.7h.7M229.7 648.9h.7M227.1 647.0h.7M236.5 642.5h.7M235.3 640.0h.7M225.6 647.1h.7M221.9 646.6h.7M234.5 652.1h.7M236.8 648.3h.7M232.5 646.6h.7M234.7 638.6h.7M229.6 639.4h.7M227.0 649.6h.7M242.1 646.4h.7M242.2 648.4h.7M236.4 642.2h.7M220.3 646.2h.7M230.4 646.0h.7M232.2 642.4h.7M240.0 642.8h.7M232.2 643.9h.7M217.4 645.5h.7M227.0 645.6h.7M233.6 642.6h.7M225.4 643.4h.7M245.4 639.7h.7M222.3 646.2h.7M220.3 645.0h.7M235.2 648.2h.7M231.5 644.1h.7M225.5 646.6h.7M231.2 649.8h.7M232.6 644.8h.7M234.3 641.5h.7M239.6 643.9h.7M222.6 648.8h.7M235.6 637.5h.7M227.8 643.1h.7M231.8 649.6h.7M242.5 641.5h.7M229.4 648.3h.7M230.1 644.5h.7M225.1 649.6h.7M234.2 642.7h.7M235.4 642.8h.7M233.7 645.1h.7M229.3 643.7h.7M237.8 645.1h.7M238.9 642.6h.7M233.5 648.9h.7M230.4 668.5h.7M235.3 662.7h.7M233.6 662.7h.7M231.6 665.6h.7M234.7 660.7h.7M236.6 661.5h.7M225.8 673.6h.7M232.9 667.0h.7M229.5 668.8h.7M229.3 666.7h.7M230.8 668.8h.7M231.7 668.6h.7M230.2 666.1h.7M228.6 666.5h.7M230.0 667.6h.7M228.3 667.6h.7M233.6 663.2h.7M227.0 666.7h.7M231.7 662.5h.7M227.3 671.9h.7M235.9 661.7h.7M225.2 672.5h.7M232.5 662.3h.7M230.4 668.2h.7M230.7 667.0h.7M233.4 663.3h.7M232.3 665.4h.7M233.2 664.5h.7M229.5 668.7h.7M229.7 668.3h.7M236.5 660.9h.7M232.0 664.8h.7M230.5 668.6h.7M235.9 661.3h.7M230.5 666.3h.7M232.1 666.6h.7M237.9 658.9h.7M233.3 664.5h.7M230.4 667.3h.7M232.3 666.7h.7M232.4 665.1h.7M233.2 659.2h.7M230.0 668.5h.7M233.8 662.5h.7M229.3 665.6h.7M231.4 666.6h.7M232.0 665.1h.7M235.0 662.8h.7M232.5 667.7h.7M227.6 667.0h.7M237.9 661.1h.7M233.4 665.3h.7M233.0 666.3h.7M232.1 665.6h.7M230.5 667.8h.7M227.6 671.0h.7M231.4 663.7h.7M232.9 666.1h.7M230.8 667.8h.7M232.1 667.9h.7M229.2 668.3h.7M227.2 667.5h.7M233.4 665.1h.7M229.6 666.0h.7M233.0 669.6h.7M233.9 659.7h.7M231.3 661.8h.7M231.2 668.0h.7M234.1 663.7h.7M230.2 667.2h.7M228.5 667.6h.7M230.8 669.3h.7M232.4 663.9h.7M230.0 665.9h.7M229.8 664.3h.7M233.0 667.2h.7M233.4 666.0h.7M230.7 666.6h.7M233.8 665.0h.7M232.0 664.1h.7M232.9 662.3h.7M240.0 657.7h.7M234.5 662.5h.7M231.7 664.0h.7M231.2 662.9h.7M229.5 667.8h.7M234.6 664.3h.7M237.6 661.7h.7M229.4 668.7h.7M235.1 661.9h.7M229.7 666.3h.7M227.9 669.6h.7M231.4 667.6h.7M235.4 658.8h.7M231.4 665.6h.7M232.3 668.3h.7M229.4 667.8h.7M225.0 669.7h.7M228.6 669.3h.7M234.6 662.3h.7M231.8 661.7h.7M230.0 667.8h.7M236.8 660.0h.7M234.9 660.1h.7M233.0 663.0h.7M225.8 671.7h.7M232.7 663.5h.7M232.3 665.7h.7M226.1 670.3h.7M231.4 662.9h.7M233.5 662.2h.7M231.6 663.5h.7M230.0 666.2h.7M234.4 665.1h.7M234.6 660.0h.7M232.0 663.7h.7M235.6 663.5h.7M235.6 656.5h.7M231.7 664.4h.7M230.2 667.4h.7M229.1 667.7h.7M234.2 663.7h.7M226.3 671.4h.7M232.5 667.9h.7M228.8 667.6h.7M230.9 669.3h.7M230.0 663.9h.7M232.9 663.5h.7M231.0 665.5h.7M233.6 661.3h.7M235.0 668.0h.7M237.4 648.5h.7M242.7 658.7h.7M240.2 653.4h.7M241.2 651.4h.7M233.9 653.7h.7M239.0 648.6h.7M236.9 653.2h.7M234.8 651.5h.7M235.5 659.8h.7M239.0 653.2h.7M235.9 654.2h.7M238.5 661.2h.7M236.4 645.3h.7M241.3 652.8h.7M236.3 660.9h.7M236.1 654.3h.7M234.0 653.7h.7M237.3 656.3h.7M237.2 651.8h.7M236.4 650.0h.7M244.1 653.8h.7M234.5 658.6h.7M236.2 657.2h.7M236.3 649.1h.7M241.9 654.9h.7M240.2 647.7h.7M239.1 655.9h.7M236.6 654.7h.7M236.1 651.7h.7M241.2 651.7h.7M235.9 656.9h.7M237.4 657.9h.7M233.5 651.2h.7M234.4 650.1h.7M236.8 655.6h.7M236.5 650.3h.7M235.5 655.5h.7M235.1 653.8h.7M232.8 653.9h.7" stroke="#000" stroke-width=".8" opacity="0.4" fill="none" filter="url(#f05)"/>
<path d="M202.7 673.6h.7M205.8 679.5h.7M192.0 677.9h.7M187.6 676.9h.7M216.4 678.0h.7M209.4 679.2h.7M194.7 679.5h.7M190.2 676.7h.7M195.8 681.7h.7M194.5 672.7h.7M201.9 678.0h.7M199.5 679.9h.7M197.5 684.3h.7M197.6 674.9h.7M198.6 680.4h.7M216.5 678.4h.7M209.1 681.2h.7M206.3 676.1h.7M199.8 675.2h.7M210.8 685.8h.7M217.5 676.6h.7M213.3 670.9h.7M208.9 679.3h.7M210.8 683.8h.7M190.0 681.3h.7M206.6 683.6h.7M209.9 685.8h.7M198.4 672.1h.7M199.2 676.4h.7M192.6 682.3h.7M211.9 685.8h.7M199.6 685.8h.7M202.1 685.8h.7M197.5 682.8h.7M193.7 679.9h.7M208.7 681.1h.7M196.8 672.6h.7M212.0 682.2h.7M202.4 682.7h.7M199.7 681.4h.7M201.0 685.8h.7M190.5 679.7h.7M197.2 678.8h.7M191.9 675.5h.7M203.7 683.5h.7M200.3 677.6h.7M198.8 680.1h.7M209.4 680.1h.7M206.3 684.3h.7M205.1 680.5h.7M205.0 668.7h.7M204.9 681.2h.7M197.1 675.1h.7M192.6 682.6h.7M209.8 685.8h.7M194.6 681.8h.7M209.1 676.1h.7M204.8 683.4h.7M212.3 676.6h.7M214.8 677.0h.7M197.8 678.4h.7M195.1 672.0h.7M200.8 685.8h.7M196.8 678.3h.7M201.4 676.9h.7M197.5 681.8h.7M206.5 681.8h.7M203.8 684.5h.7M204.2 674.6h.7M203.4 669.7h.7M192.9 685.8h.7M202.4 685.8h.7M197.3 679.9h.7M195.3 681.0h.7M192.1 676.9h.7M204.1 685.8h.7M209.6 682.7h.7M205.9 685.8h.7M192.2 676.0h.7M209.3 677.3h.7M195.5 678.9h.7M216.7 681.7h.7M206.6 682.1h.7M199.9 678.0h.7M194.9 676.0h.7M209.7 681.2h.7M200.7 685.8h.7M204.8 677.6h.7M201.0 682.9h.7M199.0 682.0h.7M223.6 679.1h.7M192.8 675.8h.7M200.8 685.8h.7M219.3 684.9h.7M199.5 679.3h.7M212.5 681.5h.7M213.7 682.3h.7M199.0 683.0h.7M196.8 682.0h.7M215.0 682.2h.7M204.9 679.4h.7M201.4 681.9h.7M205.1 680.8h.7M185.7 682.9h.7M187.1 675.7h.7M199.3 682.3h.7M211.0 684.9h.7M195.1 684.8h.7M206.1 679.6h.7M200.5 677.4h.7M213.9 685.6h.7M203.2 683.6h.7M200.8 679.3h.7M192.7 685.8h.7M209.5 682.1h.7M208.3 684.3h.7M208.6 680.4h.7M210.3 682.4h.7M194.4 685.6h.7M201.8 677.9h.7M194.9 678.2h.7M206.2 685.7h.7M198.9 679.8h.7M206.5 678.4h.7M199.2 681.5h.7M207.2 676.6h.7M202.1 674.8h.7M206.2 683.4h.7M208.6 679.8h.7M207.7 676.1h.7M209.5 676.7h.7M215.1 679.7h.7M193.8 685.2h.7M185.5 685.8h.7M198.5 682.3h.7M201.3 675.7h.7M205.9 674.4h.7M204.5 683.4h.7M207.0 676.9h.7M193.1 680.9h.7M205.3 682.6h.7M215.1 678.3h.7M208.8 681.3h.7M201.0 685.8h.7M198.7 677.5h.7M198.4 681.3h.7M187.0 683.6h.7M202.0 680.9h.7M197.2 681.9h.7M207.9 676.5h.7M206.9 675.2h.7M194.3 677.1h.7M205.5 680.9h.7M203.8 677.3h.7M195.5 671.9h.7M202.5 674.0h.7M195.5 680.3h.7M200.5 685.8h.7M209.6 685.8h.7M207.5 680.9h.7M205.9 683.9h.7M201.9 678.3h.7M196.4 679.8h.7M203.8 683.9h.7M203.0 677.7h.7M200.8 685.8h.7M197.6 683.2h.7M204.2 685.5h.7M207.5 685.1h.7M205.3 685.8h.7M201.2 678.6h.7M199.7 672.0h.7M199.8 685.8h.7M201.9 674.3h.7M196.3 679.6h.7M203.7 677.2h.7M202.0 675.6h.7M194.1 680.3h.7M193.6 681.6h.7M190.7 682.5h.7M196.2 672.7h.7M203.3 671.0h.7M201.8 678.9h.7M206.6 676.0h.7M196.5 682.1h.7M211.2 682.6h.7M202.1 685.8h.7M192.2 682.3h.7M198.2 680.7h.7M211.1 685.8h.7M201.4 683.0h.7M201.8 680.2h.7M194.8 683.4h.7M185.8 672.6h.7M196.2 673.8h.7M193.6 683.6h.7M191.8 676.9h.7M200.7 679.9h.7M184.4 680.5h.7M204.0 682.6h.7M205.1 681.4h.7M211.5 677.4h.7M193.0 682.8h.7M204.4 684.4h.7M203.7 677.8h.7M198.3 679.6h.7M199.2 677.9h.7M184.4 680.9h.7M201.3 683.0h.7M212.0 685.8h.7M204.0 685.2h.7M191.3 681.7h.7M188.8 681.7h.7M219.8 677.5h.7M204.6 685.8h.7M185.7 683.2h.7M193.1 679.2h.7M192.4 682.8h.7M218.7 685.1h.7M207.8 678.2h.7M220.1 685.8h.7M197.3 681.8h.7M205.5 680.9h.7M212.1 678.9h.7M194.5 679.1h.7M214.1 679.4h.7M201.0 675.9h.7M197.0 678.7h.7M211.9 679.2h.7M202.9 675.7h.7M214.4 678.6h.7M219.6 682.6h.7M191.7 679.4h.7M202.5 676.7h.7M218.4 677.6h.7M203.5 676.5h.7M190.9 681.0h.7M201.3 674.9h.7M207.4 678.9h.7M204.5 683.3h.7M194.4 681.2h.7M201.7 678.2h.7M208.2 681.2h.7M203.2 685.8h.7M210.6 685.8h.7M200.0 682.3h.7M197.7 676.6h.7M204.4 671.7h.7M202.3 685.8h.7M212.1 681.6h.7M206.1 673.5h.7M214.2 676.8h.7M197.3 677.8h.7M205.6 685.8h.7M196.8 679.8h.7M208.7 682.3h.7M201.0 685.8h.7M217.9 685.8h.7M204.2 673.0h.7M193.1 675.7h.7M195.7 681.8h.7M192.1 681.1h.7M203.3 678.5h.7M209.0 680.1h.7M193.1 681.5h.7M189.1 685.8h.7M199.4 677.4h.7M196.9 680.7h.7M206.5 681.5h.7M198.0 677.4h.7M204.0 677.4h.7M194.3 680.7h.7M205.5 683.5h.7M206.0 676.6h.7M195.0 677.8h.7M203.3 674.4h.7M189.4 681.5h.7M207.7 675.6h.7M203.5 680.2h.7M198.9 673.2h.7M206.7 676.9h.7M205.7 683.8h.7M213.5 678.5h.7M207.3 684.9h.7M211.6 676.6h.7M211.3 683.5h.7M185.7 681.9h.7M203.1 684.7h.7M199.3 685.8h.7M202.1 683.3h.7M195.1 678.9h.7M195.4 675.8h.7M199.0 681.6h.7M199.8 672.6h.7M204.0 678.9h.7M200.5 682.3h.7M187.8 680.5h.7M213.0 679.5h.7M205.5 678.0h.7M205.5 685.8h.7M206.8 680.9h.7M204.0 677.9h.7M204.1 682.5h.7M194.6 685.5h.7M217.7 674.9h.7M215.4 685.8h.7M198.9 681.0h.7M197.4 677.8h.7M194.0 683.9h.7M207.9 685.7h.7M195.3 681.7h.7M207.3 680.0h.7M201.3 682.2h.7M201.5 678.6h.7M215.9 685.8h.7M203.4 685.8h.7M214.9 685.8h.7M201.9 677.1h.7M205.2 680.2h.7M200.8 681.5h.7M190.6 679.8h.7M197.6 673.7h.7M203.8 678.0h.7M201.7 676.9h.7M200.0 683.9h.7M200.8 682.4h.7M204.3 677.3h.7M205.1 683.7h.7M204.5 679.4h.7M198.4 681.8h.7M200.6 682.6h.7M195.3 673.6h.7M200.3 681.4h.7M191.9 685.8h.7M194.0 676.5h.7M200.8 675.5h.7M198.1 681.9h.7M198.7 672.2h.7M197.7 678.0h.7M193.5 673.6h.7M201.5 679.1h.7M211.2 684.9h.7M203.0 675.0h.7M206.6 680.5h.7M196.7 673.8h.7M209.1 685.8h.7M203.7 678.9h.7M205.6 676.2h.7M205.8 685.8h.7M198.4 685.6h.7M198.2 685.8h.7M206.4 685.8h.7M192.7 679.1h.7M205.9 678.5h.7M202.8 685.8h.7M209.8 677.9h.7M210.2 682.9h.7M199.5 684.6h.7M209.8 684.5h.7M205.0 674.2h.7M184.4 678.1h.7M202.1 676.6h.7M199.5 679.8h.7M192.9 684.5h.7M223.7 677.9h.7M198.6 682.6h.7M207.3 680.1h.7M198.3 684.5h.7M200.3 672.6h.7M210.0 685.7h.7M210.0 685.8h.7M193.3 684.7h.7M203.3 677.6h.7M188.4 680.7h.7M202.1 677.4h.7M195.3 680.1h.7M210.0 677.6h.7M199.9 681.4h.7M216.3 685.8h.7M198.5 679.1h.7M210.1 678.3h.7M205.1 678.7h.7M194.9 677.2h.7M191.7 685.0h.7M197.2 679.6h.7M188.8 685.3h.7M195.0 680.7h.7M193.4 685.8h.7M210.8 678.4h.7M200.5 682.8h.7M207.8 681.3h.7M192.6 682.9h.7M204.3 677.5h.7M211.5 679.4h.7M215.1 684.3h.7M196.8 673.7h.7M200.2 674.9h.7M185.8 676.8h.7M205.0 671.2h.7M212.9 684.8h.7M195.8 685.6h.7M219.8 676.3h.7M203.1 674.8h.7M209.9 685.8h.7M209.3 685.7h.7M210.0 679.8h.7M199.9 683.4h.7M203.1 675.5h.7M204.2 682.1h.7M213.0 681.1h.7M198.9 685.8h.7M195.5 683.4h.7M194.4 673.9h.7M195.6 671.8h.7M203.6 673.9h.7M205.3 685.8h.7M204.1 685.5h.7M194.1 672.0h.7M212.4 671.2h.7M201.8 683.2h.7M200.9 681.2h.7M211.9 676.0h.7M203.4 679.2h.7M184.4 685.5h.7M190.2 677.8h.7M204.8 678.5h.7M204.3 680.4h.7M205.4 679.4h.7M206.4 681.8h.7M203.0 680.4h.7M189.0 679.1h.7M191.5 683.8h.7M202.5 673.8h.7M198.0 679.3h.7M210.7 680.8h.7M217.1 684.1h.7M205.5 681.8h.7M210.8 674.7h.7M204.8 680.9h.7M206.5 682.5h.7M189.0 683.3h.7M194.8 682.0h.7M214.9 679.2h.7M196.9 682.0h.7M210.1 679.9h.7M217.6 673.1h.7M204.3 680.1h.7M198.2 685.8h.7M198.5 679.1h.7M198.8 673.7h.7M200.7 677.3h.7M207.0 682.1h.7M197.4 679.9h.7M203.2 678.3h.7M189.4 683.2h.7M215.4 679.4h.7M185.9 685.3h.7M206.5 682.1h.7M207.0 677.1h.7M187.5 685.8h.7M204.8 685.8h.7M204.5 682.1h.7M204.6 684.6h.7M184.4 677.4h.7M202.0 680.4h.7M202.0 678.2h.7M194.2 681.9h.7M195.8 680.1h.7M207.0 685.8h.7M211.9 678.7h.7M206.5 680.0h.7M195.4 682.3h.7M193.4 679.5h.7M215.9 684.4h.7M199.6 680.1h.7M200.9 678.9h.7M210.5 674.3h.7M202.9 684.4h.7M204.0 684.6h.7M215.4 679.7h.7M189.5 685.8h.7M201.4 679.3h.7M206.9 684.1h.7M193.0 685.8h.7M207.5 681.3h.7M205.8 675.6h.7M195.6 673.4h.7M206.9 684.7h.7M205.0 684.7h.7M205.5 683.3h.7M220.5 681.3h.7M191.2 675.7h.7M215.1 673.2h.7M202.8 685.8h.7M196.0 679.1h.7M207.2 681.0h.7M205.2 685.8h.7M207.2 684.3h.7M206.8 676.2h.7M203.3 668.8h.7M203.8 684.0h.7M198.1 679.0h.7M210.3 678.8h.7M198.6 681.4h.7M200.1 676.6h.7M201.1 682.7h.7M207.8 685.8h.7M194.1 679.6h.7M201.4 677.4h.7M199.2 671.9h.7M201.1 685.8h.7M204.4 685.8h.7M199.1 678.8h.7M197.9 685.8h.7M208.5 676.2h.7M201.8 680.8h.7M203.4 684.9h.7M204.7 679.3h.7M213.5 680.6h.7M218.2 685.0h.7M204.5 681.8h.7M185.9 681.8h.7M202.7 685.8h.7M202.5 679.1h.7M201.9 681.2h.7M193.4 682.7h.7M192.0 682.7h.7M209.9 682.9h.7M212.6 684.5h.7M194.6 682.8h.7M210.3 674.6h.7M203.6 680.1h.7M203.7 682.1h.7M201.8 671.7h.7M201.9 685.0h.7M194.5 683.1h.7M208.8 685.4h.7M212.5 678.9h.7M200.3 682.6h.7M197.9 678.3h.7M200.2 677.0h.7M203.7 673.6h.7M202.4 683.6h.7M203.7 678.0h.7M206.3 672.2h.7M212.0 681.6h.7M196.1 685.8h.7M192.7 685.8h.7M204.5 678.9h.7M189.8 677.4h.7M194.1 683.2h.7M199.7 676.1h.7M200.0 685.8h.7M209.3 682.2h.7M188.6 670.7h.7M209.8 685.8h.7M189.3 678.6h.7M198.5 680.0h.7M199.1 679.3h.7M189.1 684.7h.7M196.8 684.0h.7M193.0 683.3h.7M194.1 674.7h.7M207.5 678.6h.7M184.4 682.1h.7M192.9 680.6h.7M201.7 683.6h.7M195.7 678.2h.7M214.5 675.8h.7M194.0 680.9h.7M192.5 677.2h.7M190.4 682.2h.7M192.8 680.1h.7M194.9 678.0h.7M218.2 685.8h.7M208.4 685.0h.7M203.5 685.8h.7M204.8 685.8h.7M214.0 668.6h.7M191.8 679.8h.7M194.3 684.5h.7M194.1 682.7h.7M196.3 671.9h.7M202.6 677.8h.7M205.4 685.8h.7M196.1 682.5h.7M213.6 683.8h.7M199.5 685.8h.7M204.2 677.6h.7M191.8 683.2h.7M204.3 675.3h.7M194.3 684.7h.7M205.8 676.1h.7M206.5 684.6h.7M198.5 676.7h.7M211.0 682.1h.7M211.6 682.5h.7M201.6 682.6h.7M189.5 685.8h.7M202.2 682.7h.7M199.1 681.2h.7M208.4 674.5h.7M195.4 683.1h.7M205.1 685.8h.7M200.3 673.2h.7M201.5 680.8h.7M191.2 677.7h.7M210.2 685.4h.7M206.2 684.2h.7M190.9 673.4h.7M206.6 684.7h.7M189.8 683.4h.7M189.9 682.6h.7M200.5 684.2h.7M216.3 683.1h.7M206.4 674.6h.7M205.3 683.7h.7M206.7 682.6h.7M193.9 677.4h.7M206.3 669.0h.7M205.3 675.9h.7M194.9 678.0h.7M204.4 675.9h.7M208.6 685.8h.7M190.3 679.5h.7M194.7 677.5h.7M206.6 681.8h.7M199.7 677.7h.7M203.6 685.8h.7M217.8 680.0h.7M199.8 684.7h.7M203.6 679.8h.7M210.5 681.2h.7M205.1 679.9h.7M203.9 678.8h.7M207.2 675.0h.7M215.8 675.8h.7M184.9 679.1h.7M208.7 675.0h.7M193.7 683.8h.7M193.8 680.1h.7M213.6 679.9h.7M204.3 676.2h.7M196.5 680.2h.7M197.1 682.2h.7M208.2 681.4h.7M203.0 681.7h.7M199.5 680.6h.7M202.3 685.8h.7M203.9 685.6h.7M211.4 679.4h.7M212.2 685.8h.7M198.7 684.8h.7M207.4 677.7h.7M202.4 676.7h.7M209.5 678.7h.7M198.1 678.6h.7M205.5 685.8h.7M213.0 681.1h.7M200.8 682.1h.7M194.3 685.8h.7M208.9 685.0h.7M202.8 679.9h.7M205.4 685.8h.7M207.5 679.5h.7M205.4 684.0h.7M195.8 681.4h.7M189.0 677.4h.7M207.3 680.2h.7M190.0 679.4h.7M199.1 681.1h.7M198.8 678.3h.7M197.9 682.5h.7M205.6 670.3h.7M206.4 670.4h.7M202.8 679.2h.7M200.7 679.7h.7M207.1 681.2h.7M194.1 679.3h.7M216.8 685.0h.7M191.7 674.9h.7M209.1 685.8h.7M191.6 674.8h.7M207.7 676.8h.7M196.8 677.3h.7M203.9 685.8h.7M208.1 671.7h.7M205.2 678.7h.7M195.5 670.8h.7M213.1 685.6h.7M206.6 679.7h.7M217.7 673.6h.7M200.6 677.9h.7M199.5 680.5h.7M186.2 682.7h.7M201.4 684.1h.7M192.2 682.0h.7M201.8 684.0h.7M202.3 680.6h.7M198.0 682.9h.7M207.9 677.4h.7M200.3 679.3h.7M196.9 685.8h.7M211.9 685.2h.7M204.9 672.0h.7M207.0 676.8h.7M203.8 682.4h.7M204.0 677.3h.7M196.8 675.9h.7M187.7 684.0h.7M207.1 678.6h.7M204.2 681.1h.7M194.2 679.9h.7M196.4 676.9h.7M197.2 677.6h.7M223.3 679.3h.7M206.8 685.8h.7M198.2 685.1h.7M189.8 683.6h.7M191.6 674.7h.7M195.7 677.8h.7M199.4 677.3h.7M207.1 677.4h.7M194.2 676.2h.7M208.9 671.2h.7M217.7 680.9h.7M195.4 679.8h.7M194.3 680.5h.7M204.8 685.8h.7M208.0 684.1h.7M210.1 678.4h.7M205.8 685.8h.7M203.8 683.0h.7M194.6 684.1h.7M201.9 682.0h.7M205.9 675.9h.7M196.2 671.5h.7M201.1 685.8h.7M195.0 675.7h.7M198.8 683.7h.7M198.8 677.0h.7M205.0 685.8h.7M197.4 682.7h.7M197.5 674.0h.7M202.2 678.3h.7M186.9 685.3h.7M207.0 681.2h.7M202.9 679.4h.7M196.1 677.2h.7M206.4 680.6h.7M209.0 685.8h.7M212.4 685.8h.7M194.3 674.9h.7M208.7 680.7h.7M213.9 680.9h.7M197.4 677.1h.7M194.6 679.3h.7M197.7 684.5h.7M207.4 677.6h.7M207.8 678.0h.7M201.3 680.6h.7M199.5 685.8h.7M206.1 675.2h.7M206.0 680.1h.7M201.5 679.8h.7M208.9 680.3h.7M193.1 676.2h.7M198.9 684.5h.7M194.4 679.9h.7M205.9 677.4h.7M191.0 673.4h.7M215.1 681.6h.7M185.6 677.6h.7M205.5 680.2h.7M201.0 676.6h.7M208.5 685.8h.7M189.7 675.8h.7M194.7 673.6h.7M193.8 679.6h.7M198.4 681.4h.7M189.8 685.2h.7M197.7 683.1h.7M200.0 679.0h.7M213.3 678.2h.7M201.9 682.4h.7M197.8 673.1h.7M200.2 685.8h.7M198.0 684.0h.7M203.2 675.9h.7M206.6 682.1h.7M197.0 678.6h.7M192.5 683.8h.7M212.4 682.1h.7M199.3 680.2h.7M189.5 685.7h.7M212.2 685.8h.7M206.3 679.8h.7M203.5 685.8h.7M199.2 683.3h.7M202.9 684.1h.7M212.4 683.4h.7M191.1 676.3h.7M204.6 678.1h.7M206.1 680.4h.7M216.7 675.0h.7M194.5 679.0h.7M205.9 679.9h.7M200.0 675.3h.7M203.1 685.0h.7M202.9 680.5h.7M200.5 678.0h.7M197.1 685.5h.7M207.4 673.1h.7M200.2 680.8h.7M198.9 678.9h.7M207.7 685.4h.7M200.9 682.8h.7M203.4 679.2h.7M191.5 682.6h.7M197.4 685.1h.7M199.4 679.6h.7M210.1 684.3h.7M200.6 683.8h.7M186.5 685.8h.7M190.8 683.8h.7M200.9 680.5h.7M209.3 679.1h.7M203.0 685.8h.7M210.1 674.4h.7M212.2 675.4h.7M196.8 683.5h.7M204.9 677.6h.7M203.5 681.8h.7M205.7 685.8h.7M202.5 685.1h.7M200.2 682.2h.7M198.3 681.3h.7M223.3 678.3h.7M196.5 683.5h.7M211.7 679.7h.7M206.9 677.2h.7M212.5 684.5h.7M193.7 685.2h.7M201.9 680.7h.7M194.3 685.7h.7M199.9 680.2h.7M208.8 681.7h.7M201.8 677.9h.7M198.4 677.9h.7M195.0 679.4h.7M205.9 673.8h.7M203.5 681.9h.7M209.3 681.8h.7M206.1 675.3h.7M200.5 683.1h.7M201.5 674.4h.7M204.7 677.1h.7M202.9 682.0h.7M211.0 685.8h.7M202.6 674.1h.7M192.8 679.0h.7M184.4 674.6h.7M204.0 683.8h.7M210.1 684.1h.7M199.4 683.6h.7M204.3 683.9h.7M210.0 679.1h.7M204.6 685.8h.7M203.9 675.3h.7M200.2 681.2h.7M203.9 677.5h.7M214.5 681.2h.7M198.1 680.4h.7M188.2 679.1h.7M195.9 685.8h.7M193.6 677.9h.7M193.4 677.1h.7M190.6 678.4h.7M212.9 681.2h.7M203.8 680.1h.7M184.4 676.7h.7M191.2 683.6h.7M210.7 682.4h.7M193.9 684.0h.7M208.8 678.9h.7M186.9 680.1h.7M208.6 679.6h.7M194.2 682.2h.7M194.6 681.2h.7M204.3 674.6h.7M199.5 681.0h.7M190.8 680.1h.7M214.6 685.8h.7M199.0 685.8h.7M191.3 680.6h.7M198.4 685.8h.7M203.9 681.4h.7M205.6 681.7h.7M198.4 681.8h.7M197.2 679.7h.7M239.4 644.4h.7M233.0 644.8h.7M236.0 645.9h.7M231.3 645.2h.7M238.1 646.8h.7M239.9 645.1h.7M234.1 646.2h.7M227.2 646.1h.7M243.0 644.3h.7M238.0 644.8h.7M239.3 642.6h.7M245.3 644.1h.7M239.4 644.4h.7M244.0 646.1h.7M235.1 644.4h.7M235.2 646.0h.7M236.6 645.6h.7M240.3 646.3h.7M244.0 642.3h.7M244.6 644.2h.7M240.3 645.0h.7M243.3 644.2h.7M239.2 641.6h.7M236.9 644.3h.7M241.1 644.4h.7M235.3 644.7h.7M235.9 645.5h.7M233.3 645.3h.7M240.5 643.9h.7M231.9 647.3h.7M238.3 644.9h.7M239.5 643.5h.7M240.8 644.9h.7M234.0 645.1h.7M239.2 643.6h.7M240.0 643.7h.7M226.7 646.5h.7M226.2 647.8h.7M232.0 647.2h.7M239.1 646.0h.7M237.7 644.7h.7M240.4 644.9h.7M244.0 644.5h.7M233.3 644.9h.7M240.7 646.0h.7M227.2 646.2h.7M238.9 645.1h.7M239.2 644.5h.7M236.6 644.8h.7M235.5 645.2h.7M241.8 646.3h.7M238.0 642.9h.7M243.3 642.5h.7M244.5 642.8h.7M234.2 647.9h.7M234.3 645.5h.7M239.3 643.7h.7M233.5 645.5h.7M225.0 645.9h.7M239.7 644.4h.7M237.1 643.9h.7M234.4 645.2h.7M235.0 644.6h.7M243.0 645.3h.7M232.0 646.1h.7M235.0 644.9h.7M238.6 645.2h.7M243.0 643.1h.7M235.1 645.4h.7M239.9 642.9h.7M240.5 645.1h.7M236.0 644.0h.7M239.5 643.4h.7M235.2 645.9h.7M238.1 644.4h.7M240.3 644.8h.7M244.0 643.7h.7M232.4 645.9h.7M235.7 643.2h.7M234.8 646.4h.7M239.2 644.1h.7M236.7 645.4h.7M236.1 644.3h.7M239.2 644.7h.7M227.6 647.3h.7M229.4 646.4h.7M233.6 646.3h.7M235.1 644.6h.7M243.1 644.2h.7M233.1 645.0h.7M239.3 646.0h.7M231.5 644.7h.7M239.1 645.8h.7M241.9 644.1h.7M242.9 643.1h.7M231.8 648.0h.7M236.8 646.3h.7M239.4 643.4h.7M239.5 643.6h.7M238.0 643.0h.7M235.9 643.4h.7M234.8 646.6h.7M239.0 642.9h.7M239.1 643.1h.7M230.7 645.7h.7M232.4 644.1h.7M237.2 643.4h.7M236.6 643.9h.7M240.4 645.0h.7M239.5 645.0h.7M238.5 644.2h.7M238.6 643.4h.7M241.6 644.1h.7M233.4 644.1h.7M231.1 645.4h.7M237.6 646.0h.7M232.9 646.3h.7M242.4 643.6h.7M243.3 644.1h.7M235.8 645.1h.7M241.1 643.0h.7M236.3 643.8h.7M241.9 642.1h.7M239.0 645.0h.7M238.4 643.7h.7M240.7 644.4h.7M231.8 647.4h.7M240.4 644.7h.7M243.4 644.7h.7M237.6 643.2h.7M239.9 644.6h.7M242.4 641.5h.7M240.4 644.6h.7M239.6 645.8h.7M243.5 646.6h.7M233.5 644.9h.7M239.7 644.5h.7M231.2 646.6h.7M237.2 644.1h.7M237.5 646.6h.7M243.4 642.6h.7M241.0 645.8h.7M237.7 644.8h.7M235.7 646.1h.7M237.9 644.4h.7M239.6 643.5h.7M240.6 645.0h.7M232.1 646.9h.7M236.6 645.0h.7M236.6 643.7h.7M238.1 645.3h.7M239.5 646.4h.7M233.9 646.0h.7M237.8 645.7h.7M242.4 643.6h.7M230.9 667.0h.7M233.8 662.4h.7M234.6 659.9h.7M231.7 666.0h.7M229.9 667.0h.7M230.2 664.6h.7M235.1 663.8h.7M233.0 665.5h.7M233.7 665.4h.7M233.8 663.2h.7M234.9 663.3h.7M228.8 669.2h.7M232.9 663.8h.7M233.1 664.7h.7M232.2 665.2h.7M233.0 664.0h.7M228.1 669.8h.7M237.5 660.3h.7M234.7 663.0h.7M232.4 665.4h.7M230.1 669.1h.7M229.9 665.6h.7M237.4 660.0h.7M226.0 672.1h.7M234.1 665.1h.7M236.4 662.9h.7M233.0 664.7h.7M234.0 662.9h.7M232.9 662.5h.7M231.3 663.9h.7M230.9 665.4h.7M230.0 664.9h.7M229.2 670.5h.7M229.3 666.9h.7M232.5 662.1h.7M234.2 665.0h.7M228.8 668.9h.7M232.3 663.8h.7M231.9 665.6h.7M233.1 664.4h.7M229.6 666.6h.7M231.5 665.7h.7M226.3 669.7h.7M230.2 666.2h.7M230.9 664.9h.7M230.7 666.4h.7M232.3 664.5h.7M229.4 668.2h.7M231.8 667.5h.7M229.4 667.5h.7M240.8 654.7h.7M229.8 669.3h.7M235.8 660.4h.7M236.3 659.5h.7M231.6 661.7h.7M233.7 661.8h.7M228.0 667.0h.7M231.1 668.6h.7M233.4 662.5h.7M236.7 659.5h.7M230.3 665.0h.7M234.2 662.0h.7M234.8 660.7h.7M229.6 668.7h.7M234.5 663.0h.7M229.9 664.9h.7M230.2 663.0h.7M233.5 662.9h.7M230.0 668.2h.7M227.8 669.0h.7M234.0 661.2h.7M233.9 661.6h.7M234.7 659.9h.7M229.6 667.1h.7M230.1 669.5h.7M230.4 667.8h.7M234.6 664.8h.7M232.5 665.7h.7M230.1 668.9h.7M236.5 659.4h.7" stroke="#000" stroke-width=".7" opacity="0.6" fill="none"/>
</g></g>
<line x1="223.5" y1="636.8" x2="223.5" y2="686.4" stroke="#999" stroke-width="0.8"/>
<line x1="183.8" y1="652.5" x2="246.6" y2="652.5" stroke="#999" stroke-width="0.8"/>
<rect x="183.8" y="636.8" width="62.8" height="49.6" fill="none" stroke="#1a1a1a" stroke-width="1"/>
<text x="186.2" y="693" font-size="3.9" text-anchor="middle" fill="#222" stroke="#222" stroke-width=".25">10<tspan dy="-1.4" font-size="2.7">0</tspan></text>
<text font-size="3.7" text-anchor="middle" fill="#222" stroke="#222" stroke-width=".25" transform="translate(182 684.6) rotate(-90)">10<tspan dy="-1.3" font-size="2.6">0</tspan></text>
<text x="200.55" y="693" font-size="3.9" text-anchor="middle" fill="#222" stroke="#222" stroke-width=".25">10<tspan dy="-1.4" font-size="2.7">1</tspan></text>
<text font-size="3.7" text-anchor="middle" fill="#222" stroke="#222" stroke-width=".25" transform="translate(182 672.58) rotate(-90)">10<tspan dy="-1.3" font-size="2.6">1</tspan></text>
<text x="214.9" y="693" font-size="3.9" text-anchor="middle" fill="#222" stroke="#222" stroke-width=".25">10<tspan dy="-1.4" font-size="2.7">2</tspan></text>
<text font-size="3.7" text-anchor="middle" fill="#222" stroke="#222" stroke-width=".25" transform="translate(182 660.55) rotate(-90)">10<tspan dy="-1.3" font-size="2.6">2</tspan></text>
<text x="229.25" y="693" font-size="3.9" text-anchor="middle" fill="#222" stroke="#222" stroke-width=".25">10<tspan dy="-1.4" font-size="2.7">3</tspan></text>
<text font-size="3.7" text-anchor="middle" fill="#222" stroke="#222" stroke-width=".25" transform="translate(182 648.52) rotate(-90)">10<tspan dy="-1.3" font-size="2.6">3</tspan></text>
<text x="243.6" y="693" font-size="3.9" text-anchor="middle" fill="#222" stroke="#222" stroke-width=".25">10<tspan dy="-1.4" font-size="2.7">4</tspan></text>
<text font-size="3.7" text-anchor="middle" fill="#222" stroke="#222" stroke-width=".25" transform="translate(182 636.5) rotate(-90)">10<tspan dy="-1.3" font-size="2.6">4</tspan></text>
<clipPath id="c6"><rect x="255.8" y="636.8" width="62.8" height="49.6"/></clipPath>
<g clip-path="url(#c6)"><g filter="url(#f0)">
<ellipse cx="302.27" cy="664.08" rx="8.2" ry="2" fill="#000" opacity="0.97" transform="rotate(-33 302.27 664.08)" filter="url(#f1)"/>
<ellipse cx="308.55" cy="645.98" rx="6.2" ry="1.7" fill="#000" opacity="0.95" transform="rotate(-14 308.55 645.98)" filter="url(#f1)"/>
<path d="M263.0 675.9h.7M270.1 685.4h.7M280.6 680.2h.7M272.4 678.4h.7M275.4 677.2h.7M270.6 679.7h.7M262.8 678.6h.7M268.5 680.9h.7M271.3 677.8h.7M272.5 673.1h.7M261.5 678.7h.7M268.5 674.6h.7M280.6 675.9h.7M256.3 674.2h.7M274.9 676.8h.7M265.7 676.5h.7M277.3 676.0h.7M281.4 673.9h.7M277.8 676.6h.7M276.8 682.2h.7M275.6 672.1h.7M276.5 679.9h.7M262.3 671.9h.7M267.1 674.8h.7M272.9 676.4h.7M269.0 677.0h.7M272.4 675.2h.7M288.2 681.1h.7M266.1 679.8h.7M270.8 681.9h.7M266.1 684.3h.7M256.4 677.2h.7M263.7 679.8h.7M261.7 672.5h.7M273.6 670.5h.7M269.5 677.7h.7M272.2 678.3h.7M273.6 672.5h.7M273.9 679.5h.7M278.7 679.8h.7M264.4 673.5h.7M271.8 680.9h.7M265.0 682.0h.7M275.3 673.9h.7M270.3 678.5h.7M267.9 674.3h.7M272.4 671.1h.7M266.1 676.4h.7M272.8 681.7h.7M278.8 671.9h.7M272.7 676.3h.7M259.4 681.9h.7M269.4 669.9h.7M278.2 680.0h.7M268.8 674.9h.7M267.4 682.6h.7M266.0 684.9h.7M272.4 678.4h.7M278.5 675.1h.7M270.0 678.9h.7M266.2 672.3h.7M275.9 679.7h.7M274.8 677.4h.7M266.4 677.6h.7M278.4 677.2h.7M270.9 679.6h.7M279.7 675.0h.7M266.4 676.8h.7M267.1 673.9h.7M278.7 674.7h.7M269.8 675.9h.7M267.3 676.2h.7M269.7 677.1h.7M268.2 675.8h.7M259.0 678.5h.7M265.1 682.3h.7M272.8 673.8h.7M267.8 683.8h.7M276.1 672.8h.7M282.9 676.6h.7M263.3 671.7h.7M279.7 678.2h.7M271.6 683.9h.7M269.3 674.7h.7M264.1 676.7h.7M273.5 674.1h.7M277.2 683.7h.7M268.4 681.5h.7M273.1 671.3h.7M271.8 667.5h.7M275.5 683.0h.7M268.3 677.7h.7M271.7 674.4h.7M261.6 680.0h.7M273.7 677.9h.7M266.8 681.3h.7M262.8 676.7h.7M258.3 676.6h.7M265.5 675.8h.7M277.2 674.7h.7M264.6 672.8h.7M271.8 682.0h.7M277.1 679.6h.7M264.9 680.0h.7M271.2 677.0h.7M262.1 683.8h.7M272.4 673.1h.7M263.8 672.5h.7M269.3 679.2h.7M263.1 674.4h.7M272.2 679.1h.7M264.2 683.6h.7M270.9 679.2h.7M272.7 671.5h.7M259.3 676.0h.7M276.5 679.5h.7M266.3 680.1h.7M275.6 680.4h.7M278.0 670.7h.7M275.2 678.1h.7M279.4 674.2h.7M279.2 673.5h.7M269.5 677.4h.7M275.5 672.6h.7M266.2 671.2h.7M270.6 675.2h.7M274.1 670.5h.7M264.8 685.4h.7M267.3 681.3h.7M275.9 673.9h.7M271.2 681.2h.7M271.9 676.8h.7M269.0 679.5h.7M272.1 676.4h.7M275.1 674.9h.7M276.6 668.7h.7M279.1 671.6h.7M264.6 679.1h.7M280.1 670.5h.7M271.3 676.9h.7M261.0 680.8h.7M265.7 678.4h.7M267.1 674.3h.7M271.9 678.3h.7M257.2 680.2h.7M270.8 679.5h.7M275.3 672.9h.7M274.7 678.1h.7M261.0 672.6h.7M276.4 678.8h.7M273.1 681.9h.7M274.3 678.8h.7M279.9 672.3h.7M266.2 678.4h.7M262.3 681.4h.7M271.6 674.4h.7M272.2 678.3h.7M259.7 683.7h.7M276.8 673.1h.7M263.4 678.9h.7M265.3 681.0h.7M271.4 673.6h.7M264.8 675.8h.7M271.2 679.3h.7M280.9 676.3h.7M272.9 677.8h.7M276.2 676.3h.7M266.3 675.9h.7M273.8 677.8h.7M273.4 672.0h.7M267.0 685.1h.7M263.7 681.4h.7M282.0 677.4h.7M263.3 678.6h.7M261.6 681.3h.7M277.8 676.3h.7M266.8 676.5h.7M269.6 682.2h.7M277.9 680.2h.7M265.2 683.4h.7M265.3 678.8h.7M280.8 675.4h.7M282.9 674.2h.7M260.2 677.7h.7M279.1 679.4h.7M268.6 681.3h.7M277.5 677.3h.7M262.2 680.6h.7M276.5 672.9h.7M271.8 680.2h.7M274.0 673.3h.7M265.7 679.8h.7M272.8 673.9h.7M272.8 673.4h.7M277.2 673.5h.7M287.8 674.0h.7M282.6 674.8h.7M279.8 669.6h.7M283.3 673.9h.7M291.6 661.4h.7M281.7 667.8h.7M268.6 678.4h.7M293.6 659.6h.7M292.8 673.3h.7M287.7 673.4h.7M280.0 667.6h.7M281.8 668.9h.7M283.5 676.5h.7M274.1 676.2h.7M271.3 672.8h.7M283.9 672.7h.7M290.5 659.8h.7M291.6 664.2h.7M294.0 663.7h.7M273.3 673.2h.7M278.8 672.0h.7M262.8 680.8h.7M299.0 663.1h.7M277.1 675.1h.7M278.2 663.6h.7M282.0 665.6h.7M276.4 671.4h.7M268.9 670.5h.7M279.7 673.2h.7M279.4 663.8h.7M270.9 673.5h.7M272.6 674.2h.7M269.7 671.6h.7M297.8 665.3h.7M265.7 684.3h.7M269.2 674.3h.7M280.6 673.6h.7M276.6 671.6h.7M288.9 665.6h.7M282.5 669.2h.7M274.5 678.1h.7M277.8 673.6h.7M283.7 673.0h.7M281.4 670.7h.7M286.5 666.6h.7M284.4 668.9h.7M267.6 680.0h.7M281.6 670.8h.7M269.2 671.1h.7M292.0 667.9h.7M296.1 671.2h.7M290.6 666.2h.7M278.2 676.5h.7M285.3 672.6h.7M281.8 673.1h.7M294.4 672.8h.7M286.8 668.8h.7M287.3 664.9h.7M272.7 676.0h.7M279.5 669.5h.7M290.7 670.5h.7M299.4 661.9h.7M285.5 671.2h.7M274.8 667.8h.7M270.1 673.2h.7M289.5 664.1h.7M283.6 670.0h.7M267.6 681.5h.7M281.7 669.3h.7M287.9 664.9h.7M286.0 669.1h.7M294.8 663.7h.7M283.2 663.2h.7M280.0 674.8h.7M287.8 668.3h.7M292.1 669.8h.7M274.5 671.9h.7M284.4 672.2h.7M289.2 668.1h.7M280.5 669.4h.7M293.0 661.9h.7M273.1 679.5h.7M283.1 676.7h.7M280.2 671.8h.7M286.4 670.1h.7M274.3 675.7h.7M275.8 664.9h.7M305.6 662.2h.7M287.6 667.2h.7M283.6 669.3h.7M272.4 675.1h.7M279.3 672.5h.7M274.0 671.4h.7M281.5 675.9h.7M287.0 667.8h.7M276.4 675.5h.7M278.4 667.2h.7M291.9 671.1h.7M275.8 680.2h.7M284.4 670.6h.7M275.3 672.4h.7M275.6 665.1h.7M288.7 666.9h.7M299.4 663.3h.7M272.1 684.3h.7M303.3 660.5h.7M290.9 666.0h.7M276.9 673.8h.7M284.3 678.1h.7M267.5 680.6h.7M281.4 668.5h.7M285.2 663.1h.7M280.1 679.1h.7M283.4 670.0h.7M294.2 664.2h.7M285.0 671.5h.7M274.6 668.1h.7M280.5 679.6h.7M280.9 671.6h.7M273.6 680.4h.7M280.4 679.2h.7M280.2 672.7h.7M275.8 677.1h.7M274.3 674.7h.7M284.2 672.5h.7M268.0 671.4h.7M273.0 675.9h.7M265.9 675.0h.7M281.3 670.7h.7M293.4 664.5h.7M294.5 663.4h.7M299.1 660.6h.7M267.6 672.5h.7M284.4 673.0h.7M281.6 669.4h.7M278.8 669.1h.7M278.0 676.3h.7M269.0 678.2h.7M280.3 672.7h.7M284.5 668.3h.7M276.1 674.9h.7M285.8 671.3h.7M272.9 671.6h.7M277.8 677.6h.7M285.0 667.6h.7M294.2 668.4h.7M281.4 673.8h.7M277.5 668.9h.7M289.7 678.1h.7M282.4 667.8h.7M294.1 663.6h.7M278.9 672.0h.7M256.9 680.6h.7M287.1 674.9h.7M268.7 680.0h.7M297.0 658.5h.7M291.9 669.8h.7M263.9 681.2h.7M291.2 661.8h.7M292.6 653.3h.7M296.2 653.9h.7M298.6 650.9h.7M295.7 648.5h.7M300.1 656.8h.7M297.0 648.3h.7M289.8 652.6h.7M303.7 646.0h.7M293.2 649.6h.7M299.7 645.8h.7M313.5 645.8h.7M303.0 650.0h.7M289.7 647.5h.7M305.1 649.0h.7M295.3 650.1h.7M295.3 647.8h.7M297.9 651.1h.7M293.0 657.7h.7M295.0 658.8h.7M287.2 655.2h.7M303.7 645.0h.7M311.8 647.8h.7M305.0 645.1h.7M289.8 656.7h.7M296.2 655.2h.7M286.8 655.9h.7M299.7 644.8h.7M305.4 647.9h.7M306.1 647.9h.7M305.6 643.3h.7M295.3 643.2h.7M287.0 654.8h.7M297.3 648.4h.7M303.1 642.2h.7M293.7 648.4h.7M307.8 641.8h.7M296.3 657.6h.7M300.6 654.6h.7M300.6 651.5h.7M291.2 655.3h.7M299.7 642.4h.7M295.5 652.8h.7M291.9 656.0h.7M292.2 644.9h.7M295.8 662.9h.7M294.1 645.4h.7M297.3 647.3h.7M297.9 650.5h.7M295.3 654.0h.7M287.3 648.9h.7M289.7 652.8h.7M303.5 642.4h.7M293.4 652.8h.7M293.5 654.3h.7M295.4 647.4h.7M301.7 649.5h.7M296.2 644.3h.7M298.6 647.0h.7M298.2 648.9h.7M288.4 653.6h.7M295.5 655.9h.7M297.8 645.0h.7M298.8 649.8h.7M297.0 652.9h.7M295.4 648.9h.7M294.8 643.9h.7M288.8 657.8h.7M283.7 653.8h.7M301.2 651.0h.7M290.5 652.5h.7M302.5 644.4h.7M295.8 650.6h.7M293.2 648.6h.7M296.3 648.0h.7M292.6 645.1h.7M300.6 650.1h.7M301.5 654.5h.7M286.4 654.5h.7M297.4 646.2h.7M292.7 650.1h.7M292.4 652.8h.7M289.6 651.5h.7M306.2 647.6h.7M298.1 648.3h.7M290.0 657.3h.7M291.1 654.6h.7M296.9 653.2h.7M301.7 651.7h.7M300.8 645.2h.7M295.1 659.1h.7M292.2 649.8h.7M298.3 652.1h.7M300.1 656.8h.7M290.6 659.0h.7M299.2 650.1h.7M297.8 653.5h.7M302.4 651.0h.7M295.6 651.7h.7M299.2 656.1h.7M292.3 651.5h.7M299.2 650.8h.7M300.5 654.1h.7M298.5 649.9h.7M290.4 649.2h.7M300.7 646.9h.7M297.6 647.5h.7M296.0 652.0h.7M301.1 645.8h.7M292.9 653.4h.7M296.9 656.0h.7M292.1 658.6h.7M290.9 656.3h.7M305.0 651.0h.7M292.6 654.0h.7M299.1 648.2h.7M285.7 650.9h.7M294.4 647.9h.7M294.6 654.2h.7M303.0 647.4h.7M297.9 646.5h.7M286.0 647.3h.7M299.8 649.9h.7M294.6 650.6h.7M300.3 646.7h.7M300.5 653.0h.7M293.4 649.4h.7M302.5 653.3h.7M301.2 646.2h.7M290.2 653.6h.7M289.2 662.9h.7M294.0 653.7h.7M295.9 651.0h.7M295.4 648.8h.7M296.8 650.8h.7M298.2 647.8h.7M298.2 641.8h.7M299.8 649.6h.7M293.2 648.9h.7M299.6 653.4h.7M287.0 658.1h.7M298.1 651.0h.7M298.9 650.3h.7M294.0 656.0h.7M291.3 652.9h.7M305.4 648.6h.7M290.3 654.9h.7M303.8 646.5h.7M297.0 652.3h.7M299.3 654.0h.7M295.6 649.5h.7M304.7 655.3h.7M308.7 649.3h.7M303.6 660.6h.7M306.7 650.8h.7M307.7 654.1h.7M306.8 650.3h.7M307.2 649.2h.7M302.6 649.9h.7M306.9 656.3h.7M302.8 651.5h.7M305.8 652.8h.7M304.6 651.6h.7M307.9 655.3h.7M307.3 654.4h.7M307.1 652.1h.7M309.8 657.4h.7M310.0 658.6h.7M305.1 656.8h.7M306.8 649.4h.7M308.2 657.7h.7M306.2 650.6h.7M307.6 654.0h.7M308.1 654.9h.7M304.9 659.2h.7M308.4 654.6h.7M305.0 658.5h.7M307.5 650.1h.7M307.1 649.4h.7M305.5 654.8h.7M304.8 652.3h.7M303.7 649.9h.7M306.9 653.3h.7M309.0 655.6h.7M309.1 654.2h.7M305.9 650.8h.7M304.6 654.0h.7M309.5 648.8h.7M304.1 654.3h.7M308.3 654.7h.7M303.8 650.7h.7M304.1 652.9h.7M307.9 670.1h.7M304.4 649.3h.7M307.6 650.4h.7M306.8 654.9h.7M308.1 654.8h.7M306.1 653.6h.7M305.0 659.2h.7M306.3 650.1h.7M305.1 647.0h.7M305.6 660.6h.7M303.9 662.0h.7M309.9 652.2h.7M307.3 657.4h.7M307.4 654.2h.7M305.9 658.3h.7M305.8 656.3h.7M308.4 658.6h.7M305.4 650.9h.7M306.8 654.5h.7" stroke="#000" stroke-width=".8" opacity="0.42" fill="none" filter="url(#f05)"/>
<path d="M307.9 657.6h.7M278.6 676.2h.7M298.9 663.6h.7M309.2 660.9h.7M296.9 665.1h.7M315.9 659.6h.7M299.9 664.4h.7M304.0 660.5h.7M289.8 667.8h.7M285.7 671.0h.7M302.9 659.8h.7M297.1 668.4h.7M290.6 670.1h.7M305.4 665.4h.7M299.1 665.3h.7M296.8 671.6h.7M315.2 653.7h.7M297.6 662.5h.7M293.8 669.5h.7M288.4 669.2h.7M307.1 657.8h.7M303.6 663.7h.7M301.1 664.8h.7M294.7 671.9h.7M304.5 666.1h.7M294.1 666.7h.7M292.1 670.2h.7M310.8 657.7h.7M301.8 667.3h.7M303.9 661.4h.7M308.8 659.6h.7M304.7 659.1h.7M307.2 664.1h.7M293.1 669.6h.7M299.3 662.0h.7M311.8 661.5h.7M300.0 667.6h.7M297.3 672.2h.7M300.9 663.1h.7M305.9 665.8h.7M305.5 660.4h.7M301.0 664.8h.7M309.0 660.5h.7M299.6 667.6h.7M292.7 665.9h.7M298.6 670.3h.7M289.5 674.4h.7M315.6 655.0h.7M310.6 663.1h.7M310.6 657.0h.7M306.2 662.3h.7M300.1 666.6h.7M304.8 661.9h.7M306.4 661.3h.7M296.3 667.3h.7M301.6 663.5h.7M292.9 667.9h.7M298.0 667.5h.7M292.7 672.3h.7M288.9 669.9h.7M306.5 662.1h.7M298.2 666.9h.7M302.7 666.5h.7M298.9 667.4h.7M301.5 662.2h.7M309.8 663.3h.7M311.8 656.3h.7M306.4 657.0h.7M303.7 661.8h.7M299.2 667.3h.7M299.7 663.4h.7M292.0 671.4h.7M300.6 663.3h.7M309.9 665.5h.7M300.6 671.8h.7M296.5 665.9h.7M303.9 661.6h.7M304.0 667.5h.7M314.3 654.1h.7M315.6 656.4h.7M301.2 665.1h.7M303.4 662.7h.7M307.0 659.2h.7M306.1 661.3h.7M308.9 657.4h.7M290.3 668.2h.7M298.3 662.0h.7M302.0 662.9h.7M298.3 668.3h.7M302.8 667.6h.7M313.9 653.5h.7M308.2 660.9h.7M299.9 667.5h.7M291.2 666.0h.7M296.0 667.2h.7M308.6 667.1h.7M300.3 663.0h.7M309.2 655.3h.7M289.5 666.4h.7M307.8 664.8h.7M292.3 667.9h.7M306.4 661.0h.7M310.1 659.7h.7M309.6 658.0h.7M297.6 663.3h.7M311.4 662.9h.7M315.2 652.0h.7M302.3 664.8h.7M298.4 668.0h.7M298.7 666.9h.7M310.0 664.2h.7M297.1 666.2h.7M306.8 664.7h.7M307.6 663.3h.7M307.1 660.2h.7M295.6 666.5h.7M308.1 659.1h.7M303.8 664.4h.7M307.4 663.1h.7M292.7 668.7h.7M304.9 663.2h.7M307.3 661.2h.7M305.1 661.2h.7M307.1 658.1h.7M303.4 663.9h.7M308.8 662.5h.7M300.2 664.7h.7M297.8 669.2h.7M298.7 665.1h.7M300.9 665.3h.7M302.4 664.9h.7M312.5 663.0h.7M313.0 656.9h.7M296.9 665.0h.7M299.9 665.8h.7M306.7 662.0h.7M304.9 662.5h.7M299.6 665.8h.7M313.6 658.5h.7M307.4 657.5h.7M287.6 672.6h.7M305.5 667.6h.7M299.8 663.6h.7M298.0 664.2h.7M304.4 660.7h.7M301.8 662.0h.7M310.2 668.2h.7M298.6 666.4h.7M308.4 663.0h.7M298.3 664.0h.7M299.6 665.4h.7M297.5 667.0h.7M293.3 669.1h.7M304.6 662.5h.7M309.6 663.3h.7M288.5 672.4h.7M291.8 669.8h.7M312.8 659.0h.7M293.4 667.2h.7M305.9 667.8h.7M308.0 659.4h.7M304.0 664.0h.7M312.6 658.0h.7M316.1 655.6h.7M294.8 669.1h.7M309.0 660.6h.7M300.4 663.9h.7M292.6 674.0h.7M311.5 660.2h.7M298.2 670.5h.7M309.2 663.0h.7M294.8 670.2h.7M297.5 666.7h.7M298.0 661.5h.7M312.9 659.8h.7M308.0 657.7h.7M304.5 662.5h.7M313.5 659.0h.7M312.0 655.1h.7M310.5 660.2h.7M296.1 669.0h.7M295.1 670.4h.7M309.0 661.6h.7M310.9 661.5h.7M294.9 671.1h.7M311.8 657.8h.7M304.3 663.0h.7M301.8 666.2h.7M302.7 668.0h.7M309.3 656.9h.7M290.8 672.7h.7M300.3 666.8h.7M304.7 663.7h.7M296.5 672.1h.7M305.3 668.7h.7M291.4 664.3h.7M296.1 666.1h.7M301.5 666.8h.7M303.0 662.0h.7M311.8 661.6h.7M308.2 661.3h.7M297.7 665.7h.7M304.3 660.4h.7M305.9 661.5h.7M306.9 661.5h.7M286.4 674.1h.7M305.9 666.4h.7M300.1 664.5h.7M293.2 663.7h.7M310.8 661.9h.7M303.4 664.4h.7M298.9 664.7h.7M315.8 656.8h.7M303.8 662.9h.7M308.5 661.2h.7M303.0 659.0h.7M297.0 664.7h.7M291.4 673.0h.7M303.5 662.1h.7M308.5 647.7h.7M301.6 650.3h.7M306.1 648.5h.7M292.4 647.4h.7M311.7 644.0h.7M308.2 645.2h.7M305.1 645.7h.7M306.8 645.8h.7M314.2 645.9h.7M305.4 649.3h.7M304.4 644.4h.7M304.3 640.7h.7M314.6 644.8h.7M310.6 646.4h.7M314.8 646.6h.7M303.9 645.4h.7M300.1 651.7h.7M302.7 647.1h.7M310.5 645.3h.7M307.9 647.0h.7M308.0 647.0h.7M311.0 646.6h.7M297.8 649.4h.7M310.3 645.0h.7M306.6 645.8h.7M306.5 648.4h.7M293.9 649.2h.7M298.2 651.0h.7M311.1 642.6h.7M310.5 643.0h.7M301.0 648.5h.7M305.0 646.7h.7M313.1 647.3h.7M308.8 646.4h.7M312.2 641.0h.7M306.6 647.1h.7M305.8 648.6h.7M307.1 645.7h.7M293.3 644.8h.7M304.6 648.1h.7M300.9 647.1h.7M316.2 639.5h.7M299.7 644.7h.7M302.8 646.7h.7M300.5 648.1h.7M316.4 644.7h.7M310.5 645.2h.7M309.1 646.1h.7M296.4 648.1h.7M303.7 646.7h.7M300.0 648.5h.7M305.8 642.8h.7M311.3 644.9h.7M302.6 648.4h.7M310.4 646.7h.7M305.6 648.3h.7M307.1 643.9h.7M314.2 646.8h.7M315.0 641.1h.7M302.7 650.2h.7M305.5 644.5h.7M303.5 648.5h.7M300.6 646.8h.7M310.5 646.6h.7M314.5 644.8h.7M302.1 648.2h.7M310.9 647.5h.7M307.5 645.6h.7M296.5 650.9h.7M312.5 645.4h.7M302.3 651.3h.7M311.1 645.8h.7M307.6 649.9h.7M313.2 644.5h.7M306.9 646.1h.7M311.8 647.6h.7M302.1 649.4h.7M304.1 646.1h.7M316.0 643.9h.7M312.5 644.2h.7M311.8 646.8h.7M312.5 643.1h.7M296.6 648.1h.7M310.9 644.8h.7M302.5 647.6h.7M310.9 643.1h.7M317.8 646.8h.7M316.8 640.9h.7M307.8 644.5h.7M300.4 648.9h.7M311.7 645.2h.7M312.2 647.0h.7M301.6 646.1h.7M310.5 646.5h.7M315.5 642.1h.7M307.8 642.5h.7M310.8 647.0h.7M307.5 645.6h.7M304.5 644.6h.7M308.9 643.8h.7M308.7 647.0h.7M306.8 644.8h.7M313.4 643.9h.7M306.2 642.9h.7M312.5 642.2h.7M305.9 645.5h.7M317.6 643.4h.7M308.1 643.8h.7M305.5 646.6h.7M307.1 646.8h.7M300.9 645.4h.7M298.8 647.2h.7M305.9 647.7h.7M297.5 650.1h.7M310.1 649.1h.7M310.8 648.4h.7M311.2 644.2h.7M317.6 641.7h.7M302.6 645.9h.7M306.8 649.0h.7M315.5 644.5h.7M309.8 644.7h.7M303.2 645.4h.7M313.0 646.5h.7M304.5 648.6h.7M310.8 647.4h.7M307.5 645.1h.7M309.1 645.0h.7M299.1 648.4h.7M307.9 646.6h.7M305.6 645.5h.7M299.1 644.9h.7M301.7 644.6h.7M308.3 649.0h.7M300.4 646.3h.7M316.6 647.3h.7M303.5 645.5h.7M306.4 648.3h.7M316.5 643.9h.7M299.2 650.8h.7M311.9 646.8h.7M310.2 644.5h.7M312.1 645.4h.7M302.7 647.3h.7M285.9 648.9h.7M313.7 642.7h.7M315.0 645.9h.7M305.8 643.6h.7M313.0 645.6h.7M309.4 643.4h.7M310.8 645.9h.7M309.8 644.0h.7M301.2 649.8h.7M313.9 645.2h.7M309.5 647.7h.7M294.4 646.3h.7M317.0 639.9h.7M313.0 642.7h.7M317.6 638.8h.7M315.3 641.7h.7M315.0 641.9h.7M315.6 640.8h.7M313.9 641.6h.7M314.9 643.7h.7M315.4 642.6h.7M315.5 641.3h.7M315.5 640.1h.7M316.7 639.6h.7M316.9 639.8h.7M315.1 643.6h.7M317.1 639.2h.7M315.6 641.9h.7M313.2 643.2h.7M315.8 641.0h.7M316.4 640.9h.7M313.3 642.3h.7M315.0 642.7h.7M314.9 640.9h.7M314.6 640.0h.7M312.6 642.1h.7M315.9 639.8h.7M315.9 640.5h.7M316.2 640.0h.7M317.1 640.0h.7M315.6 640.8h.7M314.5 642.2h.7M315.9 642.6h.7M314.8 642.1h.7M313.9 641.9h.7M316.3 641.4h.7M315.2 640.0h.7M313.9 643.5h.7M316.6 641.0h.7M315.4 641.7h.7M315.1 641.4h.7M315.1 640.6h.7M288.2 670.7h.7M292.8 668.8h.7M288.8 670.2h.7M285.1 669.5h.7M295.0 668.9h.7M282.1 670.8h.7M278.9 674.1h.7M289.6 669.6h.7M283.6 670.6h.7M274.8 671.6h.7M283.7 670.7h.7M289.2 669.0h.7M292.1 669.0h.7M302.8 666.7h.7M284.9 672.8h.7M284.8 671.3h.7M291.3 668.7h.7M290.5 668.2h.7M294.7 668.7h.7M286.5 669.1h.7M286.2 669.9h.7M285.1 671.9h.7M284.4 670.3h.7M288.2 668.7h.7M292.6 669.3h.7M284.5 672.1h.7M277.7 672.7h.7M287.7 670.2h.7M291.1 670.0h.7M277.3 671.8h.7M290.4 671.3h.7M288.7 667.8h.7M293.3 667.5h.7M284.4 672.3h.7M283.9 671.4h.7M284.6 671.1h.7M294.4 666.5h.7M283.9 670.3h.7M288.9 671.8h.7M290.9 670.3h.7M284.5 670.4h.7M280.4 672.9h.7M285.5 669.3h.7M290.4 669.4h.7M287.0 669.5h.7M296.2 666.7h.7M287.4 668.7h.7M290.5 669.5h.7M282.9 669.9h.7M281.5 672.9h.7M288.7 670.3h.7M288.0 669.7h.7M285.4 669.1h.7M292.3 666.1h.7M280.3 671.1h.7M285.0 671.3h.7M282.3 672.0h.7M281.8 673.4h.7M283.6 670.5h.7M287.8 667.4h.7M287.3 670.5h.7M275.0 671.5h.7M287.6 667.9h.7M286.8 672.3h.7M293.8 666.6h.7M295.9 666.1h.7M279.5 673.3h.7M285.2 668.4h.7M282.8 670.0h.7M307.8 662.5h.7M289.9 667.5h.7M285.8 669.7h.7M287.0 670.6h.7M279.3 670.6h.7M284.0 669.0h.7M294.5 667.2h.7M282.0 672.4h.7M286.4 672.7h.7M284.0 671.8h.7M296.9 668.4h.7M293.7 669.9h.7M287.1 670.9h.7M292.7 668.9h.7M289.2 669.4h.7M288.0 669.6h.7M289.6 668.4h.7M290.4 668.1h.7M288.5 669.3h.7M281.5 670.8h.7M283.9 671.3h.7M289.3 670.2h.7M279.9 672.1h.7M288.3 671.3h.7M290.1 671.1h.7M277.1 673.0h.7M294.7 669.1h.7M287.7 669.6h.7M299.6 667.7h.7M275.9 671.6h.7M291.8 669.0h.7M285.6 672.0h.7M289.7 669.2h.7M287.5 671.7h.7M285.0 670.3h.7M289.4 668.9h.7M284.1 672.6h.7M287.0 668.7h.7M287.6 671.5h.7M284.4 669.2h.7M285.5 672.4h.7M292.9 665.7h.7M281.1 669.7h.7M285.8 671.8h.7M288.3 667.0h.7M285.8 671.3h.7M285.0 671.1h.7M293.7 670.0h.7M284.0 673.1h.7M292.4 669.2h.7M279.8 671.1h.7" stroke="#000" stroke-width=".7" opacity="0.6" fill="none"/>
</g></g>
<line x1="296.5" y1="636.8" x2="296.5" y2="686.4" stroke="#999" stroke-width="0.8"/>
<line x1="255.8" y1="652.5" x2="318.6" y2="652.5" stroke="#999" stroke-width="0.8"/>
<rect x="255.8" y="636.8" width="62.8" height="49.6" fill="none" stroke="#1a1a1a" stroke-width="1"/>
<text x="258.2" y="693" font-size="3.9" text-anchor="middle" fill="#222" stroke="#222" stroke-width=".25">10<tspan dy="-1.4" font-size="2.7">0</tspan></text>
<text font-size="3.7" text-anchor="middle" fill="#222" stroke="#222" stroke-width=".25" transform="translate(254 684.6) rotate(-90)">10<tspan dy="-1.3" font-size="2.6">0</tspan></text>
<text x="272.55" y="693" font-size="3.9" text-anchor="middle" fill="#222" stroke="#222" stroke-width=".25">10<tspan dy="-1.4" font-size="2.7">1</tspan></text>
<text font-size="3.7" text-anchor="middle" fill="#222" stroke="#222" stroke-width=".25" transform="translate(254 672.58) rotate(-90)">10<tspan dy="-1.3" font-size="2.6">1</tspan></text>
<text x="286.9" y="693" font-size="3.9" text-anchor="middle" fill="#222" stroke="#222" stroke-width=".25">10<tspan dy="-1.4" font-size="2.7">2</tspan></text>
<text font-size="3.7" text-anchor="middle" fill="#222" stroke="#222" stroke-width=".25" transform="translate(254 660.55) rotate(-90)">10<tspan dy="-1.3" font-size="2.6">2</tspan></text>
<text x="301.25" y="693" font-size="3.9" text-anchor="middle" fill="#222" stroke="#222" stroke-width=".25">10<tspan dy="-1.4" font-size="2.7">3</tspan></text>
<text font-size="3.7" text-anchor="middle" fill="#222" stroke="#222" stroke-width=".25" transform="translate(254 648.52) rotate(-90)">10<tspan dy="-1.3" font-size="2.6">3</tspan></text>
<text x="315.6" y="693" font-size="3.9" text-anchor="middle" fill="#222" stroke="#222" stroke-width=".25">10<tspan dy="-1.4" font-size="2.7">4</tspan></text>
<text font-size="3.7" text-anchor="middle" fill="#222" stroke="#222" stroke-width=".25" transform="translate(254 636.5) rotate(-90)">10<tspan dy="-1.3" font-size="2.6">4</tspan></text>
<clipPath id="c7"><rect x="327.2" y="636.8" width="62.8" height="49.6"/></clipPath>
<g clip-path="url(#c7)"><g filter="url(#f0)">
<ellipse cx="344.16" cy="681.94" rx="14" ry="4.4" fill="#000" opacity="0.7" transform="rotate(0 344.16 681.94)" filter="url(#f2)"/>
<ellipse cx="379.32" cy="663.83" rx="5.5" ry="1.2" fill="#000" opacity="0.8" transform="rotate(-40 379.32 663.83)" filter="url(#f1)"/>
<ellipse cx="381.52" cy="645.73" rx="4.2" ry="0.9" fill="#000" opacity="0.8" transform="rotate(-8 381.52 645.73)" filter="url(#f1)"/>
<path d="M347.1 679.8h.7M355.8 675.3h.7M340.9 685.8h.7M327.8 683.7h.7M387.9 682.3h.7M348.1 685.0h.7M327.8 685.8h.7M329.7 682.8h.7M341.5 676.7h.7M360.7 679.9h.7M349.3 683.3h.7M368.0 672.0h.7M327.8 680.3h.7M356.1 670.6h.7M350.0 673.7h.7M352.3 679.7h.7M357.4 675.9h.7M368.5 685.8h.7M341.8 677.4h.7M353.3 678.4h.7M356.5 677.0h.7M358.5 680.3h.7M327.8 676.5h.7M344.0 681.4h.7M348.6 685.3h.7M353.1 681.5h.7M373.3 677.4h.7M363.8 675.4h.7M339.9 680.2h.7M363.4 684.1h.7M367.0 675.6h.7M338.4 680.4h.7M343.5 680.4h.7M363.2 683.1h.7M364.3 685.8h.7M336.4 685.8h.7M334.9 684.0h.7M342.0 682.1h.7M356.6 681.6h.7M327.8 685.8h.7M364.5 681.2h.7M345.3 680.6h.7M342.0 684.3h.7M345.3 680.8h.7M356.1 677.4h.7M354.0 685.8h.7M336.7 682.3h.7M360.1 678.3h.7M341.8 684.5h.7M343.9 675.3h.7M375.9 673.8h.7M334.0 681.8h.7M331.2 684.0h.7M351.2 673.9h.7M353.9 683.4h.7M356.2 676.7h.7M369.6 679.0h.7M342.8 682.7h.7M374.6 679.4h.7M365.6 683.6h.7M348.8 680.7h.7M358.1 679.3h.7M352.8 684.6h.7M339.3 670.1h.7M348.3 672.5h.7M344.9 685.8h.7M334.0 681.5h.7M365.6 678.3h.7M370.4 675.2h.7M364.5 678.2h.7M361.6 681.8h.7M343.3 677.6h.7M359.6 681.0h.7M360.4 675.7h.7M333.6 677.6h.7M370.0 680.9h.7M342.6 685.7h.7M358.5 685.8h.7M339.2 675.8h.7M329.9 685.0h.7M333.5 684.8h.7M344.6 683.8h.7M363.2 673.0h.7M334.6 681.6h.7M372.0 668.7h.7M371.2 681.4h.7M346.6 685.8h.7M371.0 681.5h.7M345.2 680.8h.7M354.0 679.2h.7M346.7 675.2h.7M353.2 676.6h.7M346.7 681.5h.7M355.1 682.2h.7M356.9 677.8h.7M364.2 677.7h.7M348.4 685.7h.7M332.1 682.2h.7M340.9 677.2h.7M334.0 681.4h.7M345.4 670.0h.7M336.9 681.1h.7M327.8 680.2h.7M344.2 682.1h.7M358.3 685.8h.7M341.5 681.9h.7M349.5 669.8h.7M333.1 678.9h.7M353.5 677.4h.7M345.1 680.3h.7M350.4 677.3h.7M361.6 674.7h.7M373.4 679.4h.7M352.8 685.8h.7M354.6 674.3h.7M327.8 684.7h.7M371.7 670.8h.7M336.9 682.6h.7M349.9 681.5h.7M346.0 679.3h.7M345.0 674.9h.7M327.8 679.7h.7M359.0 680.2h.7M355.5 682.0h.7M349.3 685.6h.7M355.9 673.4h.7M368.9 675.0h.7M334.5 684.9h.7M343.4 679.0h.7M341.6 681.4h.7M354.4 685.8h.7M327.8 684.5h.7M366.2 685.8h.7M353.8 683.1h.7M356.6 670.8h.7M347.4 685.8h.7M352.2 675.9h.7M362.4 685.8h.7M348.9 685.8h.7M327.8 684.5h.7M369.6 674.6h.7M336.9 685.8h.7M343.2 681.1h.7M345.8 683.5h.7M353.1 675.3h.7M340.5 677.8h.7M334.5 676.7h.7M337.6 675.0h.7M356.8 684.0h.7M360.7 682.5h.7M346.5 682.8h.7M343.9 674.1h.7M350.2 685.1h.7M364.6 685.8h.7M352.2 677.7h.7M366.4 676.5h.7M345.2 675.3h.7M352.0 676.9h.7M349.0 685.8h.7M362.1 672.9h.7M350.0 684.3h.7M366.6 670.1h.7M346.8 684.4h.7M334.0 682.0h.7M347.4 685.8h.7M336.8 685.5h.7M346.6 674.7h.7M362.3 684.2h.7M353.2 685.5h.7M354.4 684.6h.7M355.5 685.8h.7M353.3 667.9h.7M345.4 673.6h.7M347.7 680.5h.7M332.0 685.8h.7M333.1 673.6h.7M355.2 679.8h.7M345.2 682.8h.7M347.3 675.3h.7M341.3 679.8h.7M327.8 685.8h.7M340.7 676.0h.7M369.3 680.1h.7M348.9 664.5h.7M366.9 674.2h.7M362.1 680.2h.7M360.1 685.8h.7M352.9 685.6h.7M343.5 685.8h.7M350.1 670.4h.7M363.8 673.8h.7M368.4 679.5h.7M351.4 678.9h.7M327.8 680.8h.7M366.2 678.2h.7M337.0 675.9h.7M349.6 685.2h.7M366.6 675.7h.7M334.3 680.2h.7M358.8 668.4h.7M381.2 680.9h.7M353.7 675.4h.7M371.1 675.6h.7M361.3 674.1h.7M349.8 677.4h.7M334.6 685.8h.7M348.2 683.1h.7M344.4 683.6h.7M327.8 685.8h.7M368.2 672.7h.7M348.1 670.1h.7M345.8 677.7h.7M344.1 685.8h.7M340.9 683.2h.7M327.8 685.8h.7M334.1 678.3h.7M367.4 682.0h.7M349.9 671.1h.7M362.4 668.5h.7M353.2 685.8h.7M346.1 684.6h.7M340.8 679.5h.7M354.8 679.2h.7M343.5 676.0h.7M344.3 683.8h.7M350.4 676.6h.7M355.1 661.7h.7M373.0 667.7h.7M355.6 683.3h.7M372.8 680.6h.7M358.8 663.3h.7M341.5 672.6h.7M354.5 669.8h.7M341.0 671.0h.7M357.1 678.9h.7M358.8 683.4h.7M373.6 673.0h.7M345.9 678.7h.7M347.8 685.8h.7M336.5 682.1h.7M335.4 673.9h.7M340.3 685.8h.7M345.7 669.9h.7M348.8 676.3h.7M359.1 680.6h.7M340.8 685.8h.7M360.8 679.4h.7M352.1 678.3h.7M356.3 682.4h.7M355.6 668.5h.7M327.8 683.3h.7M341.5 682.7h.7M350.5 679.0h.7M343.5 683.4h.7M352.8 674.0h.7M339.0 683.3h.7M355.2 683.0h.7M352.1 673.6h.7M362.1 679.5h.7M365.4 685.8h.7M347.2 675.8h.7M353.7 673.7h.7M340.8 675.0h.7M365.3 673.8h.7M327.8 685.8h.7M349.5 677.9h.7M354.6 676.8h.7M378.1 671.7h.7M355.1 679.9h.7M357.0 676.8h.7M384.3 663.4h.7M333.9 684.6h.7M327.8 683.2h.7M356.5 678.4h.7M364.0 683.4h.7M381.2 673.6h.7M343.0 684.0h.7M358.0 680.8h.7M380.5 676.6h.7M360.4 676.8h.7M344.3 671.8h.7M353.5 685.0h.7M351.3 683.5h.7M338.5 676.2h.7M338.8 679.8h.7M327.8 685.8h.7M346.5 683.5h.7M343.2 676.1h.7M327.8 673.5h.7M333.4 675.8h.7M364.3 676.1h.7M342.0 680.4h.7M346.8 683.0h.7M346.4 683.9h.7M337.7 676.5h.7M343.7 682.5h.7M350.4 675.9h.7M336.9 676.5h.7M358.7 673.8h.7M380.0 685.8h.7M327.8 685.8h.7M351.1 678.7h.7M346.0 670.6h.7M339.7 680.1h.7M357.1 676.7h.7M350.5 676.1h.7M360.1 674.8h.7M348.6 685.8h.7M354.0 685.8h.7M344.3 678.7h.7M341.6 678.3h.7M352.9 684.5h.7M331.4 671.6h.7M348.9 667.6h.7M374.7 674.1h.7M344.6 680.9h.7M343.8 679.7h.7M349.9 683.2h.7M369.0 683.2h.7M334.3 678.2h.7M333.0 685.8h.7M336.2 684.9h.7M350.4 674.9h.7M327.8 683.5h.7M356.6 677.7h.7M327.8 679.5h.7M333.6 685.8h.7M342.5 675.9h.7M338.6 682.4h.7M327.8 683.9h.7M338.4 679.8h.7M344.0 674.3h.7M350.3 685.8h.7M356.6 685.8h.7M342.5 675.4h.7M367.8 673.2h.7M327.8 674.4h.7M355.0 669.6h.7M351.8 675.1h.7M351.9 675.6h.7M355.7 680.0h.7M338.7 672.6h.7M365.4 679.9h.7M339.5 677.5h.7M354.8 676.3h.7M331.5 677.1h.7M338.4 679.8h.7M339.1 676.0h.7M351.1 683.8h.7M353.7 681.0h.7M348.2 683.7h.7M344.0 679.7h.7M332.9 684.9h.7M338.2 675.1h.7M341.7 682.8h.7M340.8 684.1h.7M375.3 682.7h.7M358.5 680.3h.7M342.5 683.5h.7M352.7 679.0h.7M362.6 675.6h.7M352.2 685.8h.7M340.7 676.9h.7M352.1 669.8h.7M365.8 685.0h.7M342.1 680.6h.7M343.8 685.8h.7M375.5 670.3h.7M327.8 685.8h.7M345.6 676.6h.7M344.9 675.6h.7M360.7 676.7h.7M379.3 668.5h.7M357.6 673.4h.7M335.5 679.3h.7M335.7 678.6h.7M349.3 678.1h.7M334.9 685.8h.7M339.7 682.2h.7M335.2 685.8h.7M332.9 671.9h.7M352.6 685.8h.7M361.6 661.0h.7M354.0 675.3h.7M360.5 676.8h.7M331.9 681.0h.7M361.2 678.5h.7M343.4 677.1h.7M337.4 678.3h.7M379.0 676.6h.7M350.8 673.9h.7M364.8 676.4h.7M344.8 679.4h.7M361.4 673.4h.7M378.9 670.4h.7M356.9 684.7h.7M327.8 682.3h.7M336.1 677.2h.7M367.6 677.1h.7M336.8 685.8h.7M349.1 679.4h.7M351.0 678.7h.7M352.0 676.8h.7M357.7 678.3h.7M364.2 665.6h.7M350.6 682.0h.7M365.0 673.3h.7M347.8 683.7h.7M350.2 673.4h.7M333.9 680.7h.7M359.9 674.7h.7M333.5 678.4h.7M360.3 683.8h.7M327.8 671.8h.7M355.9 676.1h.7M355.5 680.7h.7M338.4 685.8h.7M357.7 683.9h.7M337.1 667.5h.7M360.4 676.2h.7M346.4 676.9h.7M336.4 685.8h.7M343.5 673.3h.7M362.2 676.0h.7M351.2 685.3h.7M359.4 674.8h.7M336.4 670.8h.7M379.4 684.4h.7M338.7 675.8h.7M346.8 680.3h.7M332.5 675.2h.7M341.0 675.2h.7M340.0 676.3h.7M349.6 673.6h.7M358.8 680.9h.7M335.0 685.8h.7M350.7 674.2h.7M353.7 681.5h.7M344.2 672.3h.7M335.7 682.3h.7M362.8 685.6h.7M356.4 673.8h.7M350.8 685.8h.7M339.7 674.4h.7M328.8 684.8h.7M338.7 685.8h.7M329.2 685.8h.7M340.6 678.2h.7M353.5 677.9h.7M337.3 678.6h.7M345.1 670.5h.7M345.3 684.5h.7M346.2 674.3h.7M327.8 674.4h.7M336.0 681.5h.7M343.2 678.4h.7M333.3 681.5h.7M362.4 680.2h.7M347.6 672.3h.7M327.8 684.2h.7M357.7 679.1h.7M348.1 682.3h.7M359.7 678.1h.7M345.2 685.2h.7M357.0 672.1h.7M342.6 685.8h.7M336.5 671.5h.7M364.5 664.5h.7M348.2 685.8h.7M347.5 677.2h.7M344.2 682.8h.7M342.3 682.6h.7M377.2 671.5h.7M349.0 681.7h.7M368.9 672.1h.7M358.1 680.3h.7M353.0 678.9h.7M331.1 682.0h.7M343.2 676.3h.7M362.3 682.2h.7M342.3 675.0h.7M377.5 681.7h.7M364.4 680.5h.7M350.1 671.6h.7M345.8 683.6h.7M330.8 678.9h.7M338.2 676.1h.7M339.0 684.1h.7M348.5 682.9h.7M335.8 685.4h.7M354.8 669.5h.7M363.2 672.3h.7M344.1 682.3h.7M353.0 676.8h.7M332.8 680.3h.7M342.3 679.7h.7M342.3 685.8h.7M337.7 685.8h.7M343.3 682.8h.7M335.7 679.3h.7M331.3 685.7h.7M327.8 681.7h.7M358.7 678.4h.7M350.0 677.8h.7M350.8 676.0h.7M369.8 670.2h.7M363.8 674.9h.7M354.5 671.0h.7M340.5 676.1h.7M327.8 675.9h.7M339.8 680.8h.7M351.3 675.0h.7M375.9 665.9h.7M350.9 682.7h.7M327.8 685.8h.7M347.8 676.2h.7M327.8 680.9h.7M328.3 676.7h.7M376.7 671.1h.7M341.6 681.1h.7M353.7 672.9h.7M355.0 684.3h.7M386.3 671.9h.7M347.5 669.2h.7M351.4 673.5h.7M362.7 673.3h.7M351.6 675.8h.7M380.2 669.5h.7M348.9 683.1h.7M350.7 678.6h.7M344.1 685.8h.7M339.5 670.5h.7M355.4 677.5h.7M335.4 682.3h.7M328.0 684.7h.7M363.5 683.5h.7M333.8 685.8h.7M327.8 685.8h.7M335.1 685.8h.7M350.8 683.9h.7M351.1 679.0h.7M350.0 681.0h.7M351.5 676.1h.7M360.5 678.5h.7M335.2 677.2h.7M349.9 668.5h.7M337.6 685.8h.7M357.4 672.5h.7M336.9 678.3h.7M373.3 682.1h.7M361.7 662.4h.7M370.5 660.8h.7M344.4 655.2h.7M349.0 666.0h.7M360.3 662.5h.7M357.7 666.7h.7M361.9 663.7h.7M357.8 674.1h.7M363.1 669.9h.7M349.6 673.2h.7M357.9 677.3h.7M351.2 672.0h.7M359.7 662.9h.7M370.5 677.2h.7M358.8 662.4h.7M360.5 674.6h.7M350.6 666.8h.7M356.0 677.3h.7M352.8 677.4h.7M379.9 661.3h.7M356.4 684.0h.7M363.9 651.8h.7M349.8 667.7h.7M372.0 672.3h.7M365.3 675.6h.7M360.3 658.6h.7M354.1 668.3h.7M361.1 657.8h.7M346.8 675.5h.7M351.8 676.3h.7M364.6 660.7h.7M363.9 674.5h.7M359.9 666.6h.7M359.2 673.7h.7M344.3 681.9h.7M380.3 650.2h.7M366.3 672.6h.7M383.6 657.0h.7M353.6 675.7h.7M362.5 669.0h.7M356.1 682.5h.7M359.4 671.7h.7M372.1 676.2h.7M362.5 659.7h.7M371.1 683.4h.7M362.8 667.4h.7M366.2 661.4h.7M355.1 664.0h.7M353.5 680.4h.7M357.2 666.7h.7M364.5 672.5h.7M370.3 664.2h.7M363.4 658.4h.7M383.8 643.7h.7M377.4 668.4h.7M347.3 668.3h.7M361.7 671.6h.7M365.8 664.2h.7M359.8 665.4h.7M351.1 678.3h.7M368.3 659.3h.7M375.8 664.0h.7M370.8 673.7h.7M384.7 656.5h.7M362.5 660.3h.7M377.6 650.7h.7M350.1 662.6h.7M343.3 669.7h.7M340.9 673.8h.7M354.3 679.9h.7M373.3 659.1h.7M360.2 662.7h.7M358.1 675.6h.7M343.3 673.0h.7M368.1 671.7h.7M350.5 681.5h.7M378.3 668.7h.7M383.5 642.7h.7M379.7 651.7h.7M377.6 657.2h.7M386.5 642.9h.7M383.8 643.1h.7M381.0 648.2h.7M377.1 649.2h.7M376.1 651.4h.7M383.6 644.2h.7M381.9 646.6h.7M388.7 644.2h.7M380.3 648.3h.7M384.1 651.2h.7M377.9 651.1h.7M383.5 648.7h.7M384.7 645.4h.7M375.1 648.3h.7M377.7 648.9h.7M379.2 646.4h.7M384.4 653.8h.7M385.1 653.2h.7M374.6 647.7h.7M378.8 647.7h.7M383.4 649.7h.7M383.5 645.5h.7M377.5 649.5h.7M377.1 652.7h.7M380.3 647.3h.7M376.2 651.8h.7M379.0 647.5h.7M375.0 652.5h.7M382.3 644.0h.7M375.0 655.3h.7M375.3 651.9h.7M385.3 650.7h.7M379.7 642.7h.7M386.3 649.1h.7M382.6 644.5h.7M384.3 647.9h.7M374.6 647.2h.7M378.3 656.7h.7M385.9 646.9h.7M376.8 646.1h.7M385.5 649.0h.7M381.8 650.0h.7M381.0 651.7h.7M374.5 658.5h.7M383.8 651.0h.7M374.7 646.1h.7M379.0 651.7h.7M378.2 643.7h.7M379.6 649.3h.7M370.1 659.3h.7M374.9 652.0h.7M380.9 647.7h.7M382.0 648.9h.7M371.4 651.6h.7M383.9 650.5h.7M377.6 644.9h.7M375.8 653.0h.7M387.0 645.4h.7M377.5 646.1h.7M381.8 645.8h.7M379.5 649.1h.7M376.9 650.9h.7M378.3 643.4h.7M381.2 650.4h.7M382.5 647.2h.7M377.6 650.1h.7M377.4 651.3h.7M377.0 651.1h.7M383.0 645.0h.7M379.6 649.6h.7M373.5 649.9h.7M378.3 647.3h.7M378.7 647.1h.7M383.5 651.5h.7M377.1 647.4h.7M373.7 649.1h.7M381.2 651.8h.7M370.3 653.0h.7M386.2 657.2h.7M381.4 648.6h.7M384.6 654.3h.7M380.3 654.8h.7M379.3 651.9h.7M379.4 655.5h.7M383.3 653.4h.7M380.8 653.7h.7M385.5 649.0h.7M382.3 645.4h.7M380.8 653.1h.7M383.6 655.2h.7M385.6 651.4h.7M381.0 656.3h.7M385.8 653.7h.7M384.2 650.4h.7M385.0 651.7h.7M383.7 654.5h.7M383.9 648.5h.7M382.8 648.3h.7M381.3 651.1h.7M382.0 654.2h.7M384.8 654.8h.7M380.7 652.2h.7M379.7 653.1h.7M386.2 649.5h.7M385.1 650.2h.7M384.5 651.1h.7M385.5 651.5h.7M388.5 654.6h.7M382.3 651.8h.7M382.5 650.8h.7M382.0 653.8h.7M386.8 659.5h.7M381.5 650.4h.7M382.3 649.2h.7M382.9 652.5h.7M380.9 651.3h.7M384.5 651.4h.7M388.5 650.2h.7M388.2 658.2h.7M384.8 654.3h.7M384.2 648.9h.7M382.2 652.6h.7M382.1 644.4h.7M380.2 655.9h.7" stroke="#000" stroke-width=".8" opacity="0.4" fill="none" filter="url(#f05)"/>
<path d="M363.3 679.5h.7M335.4 685.8h.7M332.8 681.7h.7M348.0 685.8h.7M350.7 682.1h.7M334.0 684.9h.7M347.4 678.1h.7M368.4 684.8h.7M339.9 684.0h.7M354.3 685.7h.7M340.2 680.8h.7M346.8 683.7h.7M354.7 679.0h.7M352.3 684.5h.7M339.1 677.8h.7M346.9 685.8h.7M327.8 685.5h.7M352.0 685.7h.7M342.0 685.8h.7M343.0 682.3h.7M328.4 685.8h.7M354.1 682.3h.7M338.6 685.8h.7M369.5 681.7h.7M343.6 678.2h.7M335.7 680.4h.7M343.0 683.7h.7M349.5 683.4h.7M365.3 685.8h.7M327.8 685.5h.7M344.3 680.1h.7M342.4 683.8h.7M343.3 683.1h.7M327.8 680.2h.7M340.7 677.2h.7M339.7 677.9h.7M327.8 676.6h.7M351.6 685.0h.7M344.9 680.4h.7M331.4 683.7h.7M351.7 678.9h.7M348.1 682.5h.7M334.0 678.1h.7M345.1 682.5h.7M355.6 674.3h.7M342.8 679.7h.7M345.9 679.2h.7M346.9 682.5h.7M331.5 676.7h.7M356.7 685.8h.7M330.8 681.9h.7M344.7 682.6h.7M340.1 685.8h.7M337.1 685.8h.7M342.7 684.9h.7M332.4 680.7h.7M352.1 681.1h.7M341.6 685.1h.7M342.0 680.6h.7M337.7 685.5h.7M343.5 680.9h.7M331.3 683.0h.7M334.4 685.8h.7M342.3 685.8h.7M338.8 685.8h.7M352.2 681.1h.7M349.2 685.8h.7M356.5 685.1h.7M354.3 684.0h.7M327.8 675.5h.7M347.3 676.5h.7M354.1 684.6h.7M327.8 685.8h.7M357.2 678.8h.7M358.4 684.7h.7M340.8 683.0h.7M340.5 680.4h.7M344.4 682.8h.7M345.6 679.1h.7M347.7 680.3h.7M359.1 684.6h.7M338.3 680.3h.7M372.9 681.9h.7M363.3 677.3h.7M360.6 680.1h.7M352.5 685.8h.7M352.0 678.1h.7M358.1 685.8h.7M350.1 679.1h.7M345.2 685.1h.7M350.5 682.3h.7M332.8 679.3h.7M327.8 681.7h.7M338.2 682.2h.7M335.8 678.2h.7M341.5 685.8h.7M350.1 685.0h.7M358.1 676.3h.7M327.8 683.2h.7M327.8 671.0h.7M352.6 680.3h.7M327.8 685.8h.7M338.6 677.4h.7M371.9 684.9h.7M332.3 681.8h.7M333.4 683.1h.7M330.4 682.8h.7M354.6 679.9h.7M346.9 680.2h.7M327.8 677.5h.7M327.8 676.6h.7M345.1 682.2h.7M355.3 683.8h.7M342.0 683.0h.7M349.7 677.3h.7M341.0 681.6h.7M345.0 679.7h.7M346.5 682.1h.7M353.7 680.8h.7M353.6 676.0h.7M327.8 678.7h.7M355.4 681.4h.7M342.6 681.9h.7M344.4 679.4h.7M343.6 678.9h.7M339.5 678.7h.7M346.0 680.5h.7M334.9 684.4h.7M334.8 680.9h.7M358.2 675.7h.7M328.9 671.8h.7M355.1 685.5h.7M340.3 681.4h.7M332.2 684.6h.7M343.5 683.2h.7M362.0 685.2h.7M354.9 685.3h.7M327.8 679.8h.7M336.1 681.5h.7M366.1 680.5h.7M348.1 685.8h.7M350.7 681.3h.7M345.5 685.8h.7M352.0 675.1h.7M363.0 678.4h.7M335.3 680.4h.7M334.3 685.8h.7M341.1 680.2h.7M338.3 684.2h.7M352.3 679.9h.7M346.5 680.0h.7M364.3 682.4h.7M357.5 683.2h.7M337.5 680.6h.7M345.3 675.7h.7M342.4 683.7h.7M346.9 677.6h.7M344.8 685.8h.7M340.9 680.6h.7M344.9 675.8h.7M351.1 685.8h.7M346.1 683.1h.7M346.9 677.7h.7M339.7 681.3h.7M345.9 680.7h.7M347.6 685.7h.7M346.1 677.1h.7M369.5 685.8h.7M356.6 685.8h.7M335.8 683.7h.7M343.8 679.5h.7M354.5 678.1h.7M349.3 677.7h.7M345.9 676.8h.7M357.2 681.3h.7M342.7 680.0h.7M329.4 685.8h.7M345.1 685.8h.7M350.1 685.8h.7M339.1 677.6h.7M330.3 677.9h.7M327.8 684.9h.7M334.6 680.5h.7M327.8 684.1h.7M327.8 679.2h.7M359.0 683.6h.7M336.2 682.0h.7M361.9 684.4h.7M361.0 679.2h.7M354.4 682.1h.7M349.9 683.4h.7M362.7 685.6h.7M352.4 683.0h.7M342.2 682.1h.7M336.3 684.1h.7M353.3 684.0h.7M358.5 681.5h.7M336.6 675.1h.7M342.5 685.8h.7M357.9 681.8h.7M327.8 679.6h.7M337.8 680.4h.7M358.8 685.8h.7M345.5 680.7h.7M333.9 685.3h.7M328.0 685.8h.7M357.3 679.3h.7M343.9 682.7h.7M333.2 685.8h.7M355.3 679.6h.7M350.0 685.8h.7M352.4 684.1h.7M328.2 681.4h.7M333.4 683.8h.7M351.6 681.1h.7M358.3 677.5h.7M338.1 681.7h.7M352.6 678.7h.7M327.8 680.9h.7M347.0 682.9h.7M340.9 678.0h.7M349.9 684.9h.7M348.5 679.2h.7M348.7 681.2h.7M338.8 680.4h.7M355.1 680.2h.7M349.3 674.6h.7M327.8 681.8h.7M337.8 677.3h.7M357.7 682.1h.7M350.9 681.7h.7M327.8 685.8h.7M346.5 684.2h.7M362.0 685.8h.7M350.3 679.1h.7M348.5 685.8h.7M338.3 685.8h.7M350.5 681.3h.7M356.8 681.7h.7M354.7 680.7h.7M349.9 684.6h.7M353.2 683.9h.7M352.7 682.8h.7M353.9 680.3h.7M337.8 679.1h.7M337.5 678.7h.7M338.1 682.3h.7M352.8 679.5h.7M354.3 679.3h.7M342.0 675.2h.7M344.2 684.2h.7M345.6 674.1h.7M358.2 681.8h.7M345.1 683.7h.7M351.9 684.3h.7M338.8 680.8h.7M338.8 685.8h.7M339.6 684.7h.7M335.3 679.2h.7M362.3 682.9h.7M348.8 677.4h.7M363.7 683.1h.7M334.2 680.8h.7M352.8 682.1h.7M333.3 685.8h.7M332.0 680.0h.7M364.1 678.7h.7M343.7 681.5h.7M350.1 679.2h.7M350.1 677.8h.7M350.3 683.3h.7M350.2 679.6h.7M358.7 679.6h.7M354.1 676.3h.7M358.7 685.8h.7M348.3 681.4h.7M338.0 680.1h.7M361.0 681.3h.7M351.4 678.8h.7M356.8 675.3h.7M337.3 682.0h.7M333.7 685.8h.7M353.2 682.8h.7M350.0 685.8h.7M345.6 685.8h.7M334.7 682.1h.7M341.9 679.5h.7M344.7 685.8h.7M344.7 682.6h.7M339.3 681.9h.7M328.5 683.7h.7M340.9 680.1h.7M330.9 685.6h.7M342.3 680.3h.7M332.8 677.9h.7M351.1 678.2h.7M340.6 680.7h.7M362.6 679.5h.7M336.5 683.2h.7M333.1 683.4h.7M340.6 685.8h.7M337.5 685.8h.7M352.9 682.0h.7M365.5 680.3h.7M358.2 682.1h.7M336.3 685.8h.7M343.4 684.2h.7M354.9 681.7h.7M351.6 685.8h.7M340.8 680.0h.7M361.4 685.8h.7M337.4 676.8h.7M354.4 679.5h.7M349.7 680.2h.7M351.9 676.4h.7M352.3 684.7h.7M346.5 681.0h.7M341.1 679.9h.7M330.1 678.2h.7M362.6 682.4h.7M352.0 683.7h.7M343.0 680.1h.7M327.8 680.4h.7M328.7 685.8h.7M342.8 681.1h.7M342.3 679.2h.7M342.2 684.3h.7M359.0 681.6h.7M349.2 684.0h.7M346.5 685.8h.7M331.5 681.3h.7M328.5 682.5h.7M345.4 683.4h.7M347.8 679.8h.7M339.5 682.9h.7M336.7 679.5h.7M340.3 684.0h.7M355.9 680.9h.7M332.4 677.5h.7M341.0 675.1h.7M355.7 678.7h.7M327.8 680.6h.7M336.8 673.3h.7M354.6 680.1h.7M370.9 675.7h.7M327.9 681.2h.7M336.3 685.8h.7M373.0 679.5h.7M327.8 681.3h.7M340.2 680.9h.7M339.0 685.8h.7M358.9 676.9h.7M343.4 681.1h.7M370.4 679.3h.7M356.5 684.8h.7M341.5 685.8h.7M375.6 678.9h.7M333.9 685.8h.7M349.7 675.8h.7M366.3 684.9h.7M353.3 683.4h.7M327.8 685.8h.7M333.6 683.2h.7M347.5 681.4h.7M346.5 673.5h.7M327.8 679.1h.7M359.8 673.3h.7M327.8 678.1h.7M357.1 682.5h.7M335.9 684.3h.7M346.0 680.5h.7M347.6 676.7h.7M348.2 685.8h.7M355.9 682.2h.7M353.9 684.6h.7M333.7 681.8h.7M340.9 684.4h.7M361.7 684.1h.7M337.9 681.7h.7M348.0 681.0h.7M348.4 677.6h.7M328.8 681.5h.7M358.6 683.8h.7M336.9 678.9h.7M358.1 679.3h.7M343.3 678.4h.7M345.9 685.8h.7M351.3 677.3h.7M354.4 685.8h.7M352.9 681.5h.7M344.5 679.4h.7M341.6 679.5h.7M340.3 682.1h.7M332.3 685.2h.7M352.0 676.1h.7M346.3 680.2h.7M339.6 682.9h.7M347.6 683.8h.7M334.9 678.7h.7M350.5 684.1h.7M343.0 682.4h.7M345.7 677.4h.7M346.7 679.2h.7M369.7 682.0h.7M357.1 685.8h.7M357.6 685.8h.7M341.5 685.8h.7M354.5 681.4h.7M337.3 685.3h.7M339.9 680.2h.7M344.1 685.8h.7M350.6 685.8h.7M354.1 685.8h.7M335.5 678.4h.7M353.2 684.3h.7M352.9 677.3h.7M335.9 682.3h.7M335.7 685.8h.7M343.7 682.4h.7M344.3 685.8h.7M343.8 681.4h.7M334.0 682.7h.7M359.2 681.9h.7M336.5 685.3h.7M336.2 685.2h.7M349.4 685.8h.7M351.8 685.8h.7M327.8 684.6h.7M356.3 675.2h.7M339.8 678.1h.7M356.4 679.9h.7M350.5 685.8h.7M332.8 685.7h.7M337.2 684.4h.7M352.0 682.4h.7M338.7 678.1h.7M338.9 674.6h.7M339.2 685.8h.7M339.2 680.4h.7M327.8 684.4h.7M333.6 682.2h.7M355.2 679.4h.7M339.2 679.4h.7M350.0 685.8h.7M349.2 682.3h.7M355.5 685.8h.7M343.2 680.8h.7M349.8 678.5h.7M342.2 685.1h.7M373.2 678.5h.7M348.4 685.8h.7M346.0 680.7h.7M337.7 676.1h.7M372.5 685.1h.7M333.2 682.1h.7M348.9 678.9h.7M345.5 685.5h.7M336.0 685.8h.7M347.4 673.0h.7M343.9 681.3h.7M369.4 682.5h.7M369.1 681.8h.7M350.3 685.8h.7M347.6 683.1h.7M363.1 682.7h.7M357.3 685.8h.7M336.1 677.2h.7M360.3 680.3h.7M344.7 685.8h.7M338.0 681.3h.7M338.5 680.6h.7M353.9 681.6h.7M367.1 677.7h.7M348.1 680.4h.7M349.5 682.0h.7M340.3 681.9h.7M361.0 685.8h.7M352.7 679.0h.7M342.7 685.8h.7M356.2 674.5h.7M354.9 684.9h.7M346.2 684.3h.7M335.6 685.8h.7M349.6 679.4h.7M353.3 683.3h.7M346.8 685.8h.7M334.4 685.8h.7M346.5 685.1h.7M334.9 678.4h.7M346.3 677.5h.7M344.0 683.6h.7M356.0 684.3h.7M344.7 680.6h.7M327.8 685.3h.7M343.2 679.7h.7M346.4 681.0h.7M343.4 685.0h.7M359.0 682.5h.7M344.3 685.8h.7M348.7 685.5h.7M347.1 685.8h.7M345.9 681.7h.7M355.5 680.2h.7M327.8 681.3h.7M354.6 681.1h.7M357.3 679.1h.7M351.7 676.9h.7M338.5 676.4h.7M332.6 685.8h.7M345.9 677.9h.7M328.1 683.1h.7M328.9 681.7h.7M340.8 677.9h.7M340.9 679.1h.7M340.3 685.8h.7M353.2 684.4h.7M344.5 677.8h.7M327.8 679.4h.7M355.1 685.8h.7M353.8 679.0h.7M327.8 680.0h.7M353.4 685.8h.7M327.8 676.9h.7M342.4 685.8h.7M350.1 685.8h.7M347.9 680.5h.7M334.0 685.8h.7M341.0 680.5h.7M337.0 685.8h.7M327.8 683.6h.7M331.3 681.5h.7M346.4 683.5h.7M350.7 677.9h.7M350.5 685.1h.7M353.5 680.4h.7M343.4 684.2h.7M342.5 683.8h.7M346.1 682.2h.7M327.8 682.3h.7M327.8 680.5h.7M334.8 684.1h.7M370.1 681.5h.7M352.6 684.7h.7M339.4 685.8h.7M331.8 679.7h.7M333.4 679.2h.7M341.4 679.7h.7M352.5 679.0h.7M342.9 680.7h.7M363.3 681.4h.7M343.8 678.6h.7M341.7 680.4h.7M339.2 685.5h.7M356.9 680.7h.7M338.1 679.9h.7M348.9 676.4h.7M351.3 685.8h.7M344.2 682.2h.7M349.6 685.8h.7M340.2 683.5h.7M332.7 682.1h.7M357.3 684.3h.7M337.2 682.8h.7M329.8 680.3h.7M356.6 684.1h.7M343.6 679.7h.7M350.6 682.4h.7M338.7 684.6h.7M351.6 680.2h.7M351.0 683.8h.7M336.8 677.4h.7M348.3 679.8h.7M338.2 680.7h.7M332.3 676.2h.7M327.8 680.8h.7M334.7 675.2h.7M339.5 685.3h.7M335.5 685.8h.7M358.6 685.8h.7M344.5 681.8h.7M350.1 682.2h.7M332.4 681.2h.7M343.5 683.4h.7M352.2 682.0h.7M332.5 682.2h.7M348.2 681.3h.7M347.7 678.4h.7M345.5 685.8h.7M327.8 678.0h.7M349.3 684.5h.7M334.9 675.4h.7M359.8 681.5h.7M352.0 678.5h.7M366.2 677.5h.7M357.6 680.2h.7M357.2 683.9h.7M356.5 681.7h.7M338.8 679.3h.7M356.9 682.1h.7M333.5 683.3h.7M349.1 681.5h.7M352.3 677.0h.7M336.2 680.5h.7M362.8 685.8h.7M346.4 685.2h.7M358.7 679.7h.7M349.3 678.4h.7M337.0 682.6h.7M331.3 682.0h.7M329.9 681.0h.7M342.7 684.9h.7M350.5 684.1h.7M349.2 684.0h.7M332.2 679.2h.7M334.6 683.8h.7M346.5 683.2h.7M351.7 682.4h.7M356.9 679.2h.7M345.5 685.8h.7M333.5 685.8h.7M345.8 680.3h.7M344.8 682.2h.7M355.3 683.3h.7M342.4 685.8h.7M353.0 672.3h.7M343.4 682.7h.7M349.3 681.7h.7M339.3 683.2h.7M353.3 681.2h.7M343.4 685.5h.7M345.8 685.8h.7M352.1 684.4h.7M357.1 685.8h.7M357.8 685.8h.7M341.2 679.9h.7M342.7 678.0h.7M338.8 678.5h.7M354.5 675.3h.7M358.6 677.8h.7M339.6 685.8h.7M356.3 677.3h.7M354.1 672.8h.7M339.3 682.9h.7M338.3 675.8h.7M341.5 683.8h.7M346.4 677.4h.7M328.9 685.8h.7M349.2 672.6h.7M327.8 683.1h.7M358.6 682.2h.7M338.5 680.7h.7M350.0 684.4h.7M327.8 683.0h.7M334.9 683.5h.7M338.2 680.0h.7M342.3 683.0h.7M327.8 685.8h.7M361.9 675.3h.7M343.5 685.8h.7M345.6 682.2h.7M345.9 683.7h.7M344.1 682.0h.7M348.8 685.2h.7M363.0 677.1h.7M349.2 679.2h.7M350.6 681.9h.7M350.0 685.8h.7M346.4 681.2h.7M361.3 684.6h.7M346.3 680.4h.7M348.7 674.0h.7M332.4 677.6h.7M332.2 682.5h.7M341.2 680.8h.7M356.3 682.8h.7M358.0 680.9h.7M337.8 685.8h.7M351.0 680.9h.7M331.9 676.6h.7M333.2 680.4h.7M359.5 677.0h.7M341.5 685.2h.7M349.6 683.6h.7M352.5 677.4h.7M349.4 682.1h.7M347.9 683.4h.7M345.4 679.5h.7M354.4 681.5h.7M348.5 677.6h.7M345.9 681.3h.7M337.0 683.3h.7M343.6 685.8h.7M349.4 680.9h.7M337.1 677.3h.7M346.5 676.9h.7M335.8 683.4h.7M356.3 679.6h.7M362.2 685.1h.7M366.4 681.6h.7M348.7 685.8h.7M352.9 680.0h.7M340.5 684.1h.7M351.4 685.0h.7M354.9 681.7h.7M355.0 682.9h.7M342.4 678.2h.7M343.7 685.8h.7M348.5 683.2h.7M359.9 682.3h.7M341.5 685.8h.7M347.0 674.3h.7M335.6 679.8h.7M344.8 684.8h.7M353.7 678.3h.7M355.8 679.8h.7M327.8 683.0h.7M351.2 682.6h.7M356.4 684.4h.7M353.3 679.0h.7M341.1 678.0h.7M345.0 682.8h.7M362.8 685.1h.7M345.2 678.9h.7M344.3 685.1h.7M337.1 679.3h.7M336.2 682.2h.7M340.3 675.6h.7M329.6 677.9h.7M360.8 682.8h.7M350.2 683.6h.7M358.2 684.0h.7M345.0 673.0h.7M348.6 685.8h.7M349.6 682.2h.7M331.3 676.5h.7M338.5 682.8h.7M360.6 682.3h.7M354.8 681.8h.7M342.1 681.0h.7M349.5 685.8h.7M327.8 682.5h.7M343.9 681.6h.7M347.2 683.8h.7M357.3 674.7h.7M358.9 685.7h.7M356.7 677.3h.7M327.8 684.2h.7M327.8 679.9h.7M351.1 685.8h.7M353.3 680.8h.7M341.8 681.0h.7M343.8 683.5h.7M339.7 685.8h.7M349.0 685.2h.7M344.6 683.9h.7M343.6 680.6h.7M340.5 675.5h.7M341.0 685.8h.7M349.2 681.5h.7M353.9 682.6h.7M363.9 685.8h.7M338.6 677.1h.7M349.9 678.2h.7M341.6 684.0h.7M337.3 685.8h.7M352.5 683.5h.7M332.0 673.0h.7M339.6 683.9h.7M361.5 684.4h.7M340.5 681.1h.7M345.7 675.9h.7M347.6 676.2h.7M344.2 682.5h.7M355.8 681.7h.7M341.7 683.8h.7M344.1 679.6h.7M334.4 680.7h.7M343.7 676.9h.7M341.9 681.5h.7M355.4 685.7h.7M343.5 676.8h.7M329.7 685.8h.7M353.7 683.6h.7M350.1 685.4h.7M358.9 680.2h.7M335.0 683.0h.7M351.2 677.1h.7M330.7 680.8h.7M329.3 681.8h.7M341.9 668.9h.7M363.7 679.7h.7M333.0 685.8h.7M370.7 682.4h.7M340.0 682.8h.7M337.1 685.8h.7M365.2 676.1h.7M336.0 678.5h.7M361.2 685.8h.7M334.7 678.8h.7M336.5 681.0h.7M382.4 646.7h.7M381.0 646.1h.7M380.3 647.2h.7M386.5 645.6h.7M377.1 646.7h.7M380.3 645.8h.7M373.8 647.1h.7M380.5 646.0h.7M387.3 646.4h.7M383.3 645.2h.7M384.9 646.3h.7M385.9 643.6h.7M380.5 644.5h.7M376.1 646.7h.7M382.7 646.3h.7M374.4 647.6h.7M385.1 646.2h.7M380.9 647.3h.7M385.6 645.6h.7M384.0 645.2h.7M381.4 646.6h.7M384.0 644.8h.7M381.7 646.4h.7M375.9 645.4h.7M386.0 647.1h.7M374.4 646.7h.7M381.2 645.3h.7M383.1 646.7h.7M384.6 643.3h.7M385.8 646.5h.7M384.6 645.7h.7M382.7 645.9h.7M380.7 645.6h.7M377.5 646.0h.7M382.5 644.9h.7M380.4 645.7h.7M378.3 646.6h.7M381.5 645.0h.7M377.9 648.2h.7M383.1 643.8h.7M374.6 646.4h.7M376.1 647.0h.7M381.3 646.9h.7M383.3 644.5h.7M388.4 643.9h.7M386.6 646.0h.7M379.2 644.9h.7M382.8 645.7h.7M381.5 646.0h.7M383.6 646.2h.7M382.6 645.5h.7M386.4 645.9h.7M384.9 644.2h.7M377.5 646.7h.7M379.8 645.4h.7M381.5 645.5h.7M384.4 646.9h.7M381.7 646.7h.7M381.9 645.0h.7M383.7 646.8h.7M382.9 644.4h.7M384.5 644.9h.7M380.3 644.9h.7M382.8 646.3h.7M384.1 646.1h.7M388.1 645.7h.7M386.3 646.5h.7M387.7 644.2h.7M381.3 645.6h.7M381.9 645.8h.7M384.3 645.8h.7M380.1 644.4h.7M378.1 644.3h.7M378.9 646.2h.7M379.6 646.3h.7M381.9 647.4h.7M370.9 645.6h.7M374.2 646.9h.7M373.8 646.6h.7M379.7 646.0h.7M386.9 644.8h.7M382.0 644.4h.7M380.6 644.5h.7M385.8 644.3h.7M385.4 643.7h.7M380.5 646.2h.7M385.7 646.2h.7M378.5 645.2h.7M383.8 645.6h.7M386.2 644.1h.7M380.0 645.9h.7M380.7 645.8h.7M375.6 646.1h.7M379.6 645.7h.7M385.2 644.8h.7M382.2 646.1h.7M387.7 644.6h.7M380.3 646.9h.7M380.7 645.1h.7M375.2 645.9h.7M386.8 647.9h.7M389.0 644.7h.7M376.4 645.6h.7M385.4 645.1h.7M381.3 646.7h.7M373.9 646.9h.7M380.0 646.8h.7M378.0 646.3h.7M381.0 645.1h.7M387.8 646.1h.7M380.3 647.1h.7M381.8 644.4h.7M386.5 644.8h.7M384.8 645.7h.7M386.6 643.2h.7M376.2 646.1h.7M378.7 645.8h.7M389.3 643.1h.7M378.5 647.8h.7M384.7 645.3h.7M380.7 646.3h.7M382.1 645.2h.7M382.3 645.8h.7M371.9 646.3h.7M382.8 644.1h.7M381.3 646.2h.7M378.4 646.8h.7M375.6 646.7h.7M388.6 648.2h.7M386.7 643.8h.7M387.6 640.3h.7M387.6 648.5h.7M388.7 640.6h.7M389.1 641.4h.7M387.7 642.4h.7M387.7 644.2h.7M388.3 638.1h.7M387.9 642.3h.7M388.6 644.5h.7M387.1 643.0h.7M387.5 643.7h.7M388.3 641.5h.7M387.7 641.6h.7M388.2 640.7h.7M387.5 639.3h.7M388.0 639.9h.7M387.2 640.7h.7M387.4 644.0h.7M388.0 640.3h.7M388.3 641.2h.7M387.1 647.5h.7M387.1 640.7h.7M387.4 645.0h.7M386.1 648.0h.7M388.0 648.0h.7M387.5 644.9h.7M387.1 648.7h.7M387.3 644.5h.7M387.1 643.0h.7M387.0 642.4h.7M386.9 642.0h.7M387.8 648.4h.7M386.6 642.6h.7M386.7 645.7h.7M388.5 640.7h.7M387.2 641.9h.7M385.8 659.0h.7M379.6 661.4h.7M376.5 664.6h.7M378.9 664.9h.7M379.7 660.8h.7M374.6 668.5h.7M379.2 664.7h.7M381.7 661.7h.7M380.9 662.8h.7M379.0 663.9h.7M377.5 667.9h.7M378.1 663.3h.7M375.1 667.1h.7M385.5 660.9h.7M379.1 667.8h.7M384.9 660.7h.7M372.9 669.6h.7M378.5 666.6h.7M386.3 659.4h.7M380.3 662.0h.7M379.4 667.2h.7M379.4 661.7h.7M375.1 662.6h.7M386.4 660.0h.7M375.4 664.8h.7M376.9 663.3h.7M376.4 667.2h.7M377.2 661.5h.7M382.0 659.4h.7M379.3 663.1h.7M379.5 662.5h.7M387.7 655.7h.7M378.0 661.8h.7M381.6 663.1h.7M382.4 661.6h.7M384.0 659.0h.7M369.4 672.1h.7M375.4 666.5h.7M377.0 663.4h.7M387.1 659.9h.7M379.3 662.5h.7M375.8 668.2h.7M375.3 667.9h.7M373.3 667.9h.7M379.0 662.0h.7M384.4 659.9h.7M379.2 664.1h.7M375.4 665.9h.7M377.9 665.2h.7M375.1 668.7h.7M378.7 666.2h.7M380.2 660.7h.7M382.7 661.9h.7M381.0 662.6h.7M374.0 666.3h.7M381.7 662.4h.7M383.5 659.2h.7M383.3 658.0h.7M375.9 666.1h.7M377.1 670.0h.7M386.1 658.0h.7M382.7 661.8h.7M375.9 664.5h.7M388.2 655.8h.7M382.8 662.7h.7M380.7 663.6h.7M377.6 667.1h.7M377.2 665.2h.7M376.8 663.1h.7M371.1 670.0h.7M374.0 666.3h.7M380.0 663.5h.7M384.9 660.7h.7M379.1 664.8h.7M385.8 658.1h.7M382.6 662.6h.7M379.7 662.2h.7M382.9 658.0h.7M380.5 662.7h.7M381.3 662.5h.7M386.8 658.7h.7M376.3 663.8h.7M378.9 663.9h.7M385.0 657.6h.7M388.6 656.6h.7M371.9 669.6h.7M381.7 662.4h.7M385.3 660.6h.7M381.0 666.3h.7M381.1 665.7h.7M382.2 661.8h.7M382.4 662.5h.7M376.1 666.1h.7M372.3 671.0h.7M376.4 666.5h.7M381.2 661.7h.7M382.5 659.1h.7M385.7 660.4h.7M367.5 674.1h.7M383.6 659.7h.7M376.8 665.9h.7M376.3 667.2h.7M380.1 665.7h.7M379.8 665.4h.7M375.1 667.2h.7M381.8 658.9h.7M383.9 660.2h.7M381.7 662.2h.7M377.8 665.9h.7M381.0 661.5h.7M375.5 670.3h.7M381.0 660.5h.7M379.9 661.8h.7M385.9 659.5h.7M383.4 659.7h.7M376.2 669.8h.7M372.9 667.8h.7M385.0 659.7h.7M375.2 665.3h.7M379.6 667.4h.7M381.0 664.0h.7M378.4 662.1h.7M374.6 668.0h.7M378.0 662.6h.7M385.9 658.4h.7M381.3 660.8h.7M374.8 668.1h.7M375.0 668.5h.7M378.5 669.4h.7M377.5 663.4h.7M380.4 662.3h.7M373.9 668.1h.7M379.1 662.1h.7M377.6 663.5h.7M378.3 663.8h.7M378.5 662.8h.7M383.5 657.1h.7M380.7 662.8h.7M374.4 671.9h.7M379.8 663.7h.7M374.0 671.3h.7M377.6 663.0h.7M383.1 662.4h.7M376.8 663.9h.7M376.7 663.0h.7M371.1 669.9h.7M386.8 657.9h.7M385.3 658.0h.7M371.3 672.8h.7M382.7 661.7h.7M382.7 663.3h.7M381.5 657.7h.7M375.3 666.6h.7M385.5 658.5h.7M380.1 664.2h.7M376.1 668.2h.7M376.4 664.4h.7M380.9 661.0h.7M372.8 668.8h.7M386.6 659.8h.7M379.8 665.5h.7M376.2 666.7h.7M378.2 667.5h.7M387.2 657.4h.7M378.0 662.6h.7M371.1 671.0h.7M381.5 665.9h.7M381.5 660.8h.7M376.3 667.0h.7M385.4 659.4h.7" stroke="#000" stroke-width=".7" opacity="0.6" fill="none"/>
</g></g>
<line x1="367.5" y1="636.8" x2="367.5" y2="686.4" stroke="#999" stroke-width="0.8"/>
<line x1="327.2" y1="652.5" x2="390" y2="652.5" stroke="#999" stroke-width="0.8"/>
<rect x="327.2" y="636.8" width="62.8" height="49.6" fill="none" stroke="#1a1a1a" stroke-width="1"/>
<text x="329.6" y="693" font-size="3.9" text-anchor="middle" fill="#222" stroke="#222" stroke-width=".25">10<tspan dy="-1.4" font-size="2.7">0</tspan></text>
<text font-size="3.7" text-anchor="middle" fill="#222" stroke="#222" stroke-width=".25" transform="translate(325.4 684.6) rotate(-90)">10<tspan dy="-1.3" font-size="2.6">0</tspan></text>
<text x="343.95" y="693" font-size="3.9" text-anchor="middle" fill="#222" stroke="#222" stroke-width=".25">10<tspan dy="-1.4" font-size="2.7">1</tspan></text>
<text font-size="3.7" text-anchor="middle" fill="#222" stroke="#222" stroke-width=".25" transform="translate(325.4 672.58) rotate(-90)">10<tspan dy="-1.3" font-size="2.6">1</tspan></text>
<text x="358.3" y="693" font-size="3.9" text-anchor="middle" fill="#222" stroke="#222" stroke-width=".25">10<tspan dy="-1.4" font-size="2.7">2</tspan></text>
<text font-size="3.7" text-anchor="middle" fill="#222" stroke="#222" stroke-width=".25" transform="translate(325.4 660.55) rotate(-90)">10<tspan dy="-1.3" font-size="2.6">2</tspan></text>
<text x="372.65" y="693" font-size="3.9" text-anchor="middle" fill="#222" stroke="#222" stroke-width=".25">10<tspan dy="-1.4" font-size="2.7">3</tspan></text>
<text font-size="3.7" text-anchor="middle" fill="#222" stroke="#222" stroke-width=".25" transform="translate(325.4 648.52) rotate(-90)">10<tspan dy="-1.3" font-size="2.6">3</tspan></text>
<text x="387" y="693" font-size="3.9" text-anchor="middle" fill="#222" stroke="#222" stroke-width=".25">10<tspan dy="-1.4" font-size="2.7">4</tspan></text>
<text font-size="3.7" text-anchor="middle" fill="#222" stroke="#222" stroke-width=".25" transform="translate(325.4 636.5) rotate(-90)">10<tspan dy="-1.3" font-size="2.6">4</tspan></text>
</svg></body></html>
